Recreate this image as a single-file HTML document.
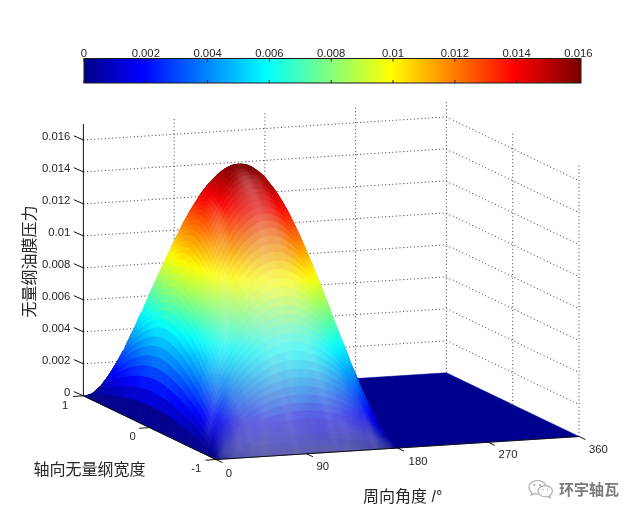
<!DOCTYPE html>
<html><head><meta charset="utf-8"><title>plot</title><style>html,body{margin:0;padding:0;background:#fff;overflow:hidden}svg{display:block}text{font-family:"Liberation Sans",Arial,sans-serif;fill:#262626}.cj{font-family:"Liberation Sans","Noto Sans CJK SC","WenQuanYi Zen Hei",sans-serif}</style></head><body>
<svg width="640" height="516" viewBox="0 0 640 516">
<defs><linearGradient id="jet" x1="0" x2="1" y1="0" y2="0"><stop offset="0.0000" stop-color="#00008f"/><stop offset="0.0078" stop-color="#00008f"/><stop offset="0.0234" stop-color="#00009f"/><stop offset="0.0391" stop-color="#0000af"/><stop offset="0.0547" stop-color="#0000bf"/><stop offset="0.0703" stop-color="#0000cf"/><stop offset="0.0859" stop-color="#0000df"/><stop offset="0.1016" stop-color="#0000ef"/><stop offset="0.1172" stop-color="#0000ff"/><stop offset="0.1328" stop-color="#0010ff"/><stop offset="0.1484" stop-color="#0020ff"/><stop offset="0.1641" stop-color="#0030ff"/><stop offset="0.1797" stop-color="#0040ff"/><stop offset="0.1953" stop-color="#0050ff"/><stop offset="0.2109" stop-color="#0060ff"/><stop offset="0.2266" stop-color="#0070ff"/><stop offset="0.2422" stop-color="#0080ff"/><stop offset="0.2578" stop-color="#008fff"/><stop offset="0.2734" stop-color="#009fff"/><stop offset="0.2891" stop-color="#00afff"/><stop offset="0.3047" stop-color="#00bfff"/><stop offset="0.3203" stop-color="#00cfff"/><stop offset="0.3359" stop-color="#00dfff"/><stop offset="0.3516" stop-color="#00efff"/><stop offset="0.3672" stop-color="#00ffff"/><stop offset="0.3828" stop-color="#10ffef"/><stop offset="0.3984" stop-color="#20ffdf"/><stop offset="0.4141" stop-color="#30ffcf"/><stop offset="0.4297" stop-color="#40ffbf"/><stop offset="0.4453" stop-color="#50ffaf"/><stop offset="0.4609" stop-color="#60ff9f"/><stop offset="0.4766" stop-color="#70ff8f"/><stop offset="0.4922" stop-color="#80ff80"/><stop offset="0.5078" stop-color="#8fff70"/><stop offset="0.5234" stop-color="#9fff60"/><stop offset="0.5391" stop-color="#afff50"/><stop offset="0.5547" stop-color="#bfff40"/><stop offset="0.5703" stop-color="#cfff30"/><stop offset="0.5859" stop-color="#dfff20"/><stop offset="0.6016" stop-color="#efff10"/><stop offset="0.6172" stop-color="#ffff00"/><stop offset="0.6328" stop-color="#ffef00"/><stop offset="0.6484" stop-color="#ffdf00"/><stop offset="0.6641" stop-color="#ffcf00"/><stop offset="0.6797" stop-color="#ffbf00"/><stop offset="0.6953" stop-color="#ffaf00"/><stop offset="0.7109" stop-color="#ff9f00"/><stop offset="0.7266" stop-color="#ff8f00"/><stop offset="0.7422" stop-color="#ff8000"/><stop offset="0.7578" stop-color="#ff7000"/><stop offset="0.7734" stop-color="#ff6000"/><stop offset="0.7891" stop-color="#ff5000"/><stop offset="0.8047" stop-color="#ff4000"/><stop offset="0.8203" stop-color="#ff3000"/><stop offset="0.8359" stop-color="#ff2000"/><stop offset="0.8516" stop-color="#ff1000"/><stop offset="0.8672" stop-color="#ff0000"/><stop offset="0.8828" stop-color="#ef0000"/><stop offset="0.8984" stop-color="#df0000"/><stop offset="0.9141" stop-color="#cf0000"/><stop offset="0.9297" stop-color="#bf0000"/><stop offset="0.9453" stop-color="#af0000"/><stop offset="0.9609" stop-color="#9f0000"/><stop offset="0.9766" stop-color="#8f0000"/><stop offset="0.9922" stop-color="#800000"/><stop offset="1.0000" stop-color="#800000"/></linearGradient></defs>
<rect x="84" y="58.5" width="497" height="24.5" fill="url(#jet)" stroke="#1a1a1a" stroke-width="1"/>
<path d="M84 58.5v3M84 83v-3M145.8 58.5v3M145.8 83v-3M207.6 58.5v3M207.6 83v-3M269.4 58.5v3M269.4 83v-3M331.2 58.5v3M331.2 83v-3M393 58.5v3M393 83v-3M454.8 58.5v3M454.8 83v-3M516.6 58.5v3M516.6 83v-3M578.4 58.5v3M578.4 83v-3" stroke="#222" stroke-width="1" fill="none"/>
<g font-size="11.3" text-anchor="middle"><text x="84" y="56.5">0</text><text x="145.8" y="56.5">0.002</text><text x="207.6" y="56.5">0.004</text><text x="269.4" y="56.5">0.006</text><text x="331.2" y="56.5">0.008</text><text x="393" y="56.5">0.01</text><text x="454.8" y="56.5">0.012</text><text x="516.6" y="56.5">0.014</text><text x="578.4" y="56.5">0.016</text></g>
<path d="M174.2 390.1L174.2 118.2M264.9 384.3L264.9 112.5M355.6 378.6L355.6 106.7M446.4 372.8L446.4 101M83.4 363.8L446.4 340.8L579 404.5M83.4 331.8L446.4 308.8L579 372.5M83.4 299.9L446.4 276.9L579 340.6M83.4 267.9L446.4 244.9L579 308.6M83.4 235.9L446.4 212.9L579 276.6M83.4 203.9L446.4 180.9L579 244.6M83.4 171.9L446.4 148.9L579 212.6M83.4 140L446.4 117L579 180.7M512.7 404.6L512.7 132.8M579 436.5L579 164.7" stroke="#3a3a3a" stroke-width="1" stroke-dasharray="1 2.6" fill="none"/>
<path d="M397.5 448L579 436.5L446.4 372.8L264.9 384.3Z" fill="#00008f" stroke="#00008f" stroke-width="0.5"/>
<g stroke="currentColor" fill="currentColor" stroke-width="0.9" stroke-linejoin="round">
<path color="#0e0b7c" d="M86.3 395.6l2 -0.4l-0.9 0.3l-2 0.2z"/>
<path color="#201e72" d="M84.3 396.2l2 -0.6l-0.9 0.1l-2 0.1z"/>
<path color="#0c0982" d="M87.2 395.5l2 -0.7l-0.9 0.4l-2 0.4z"/>
<path color="#171473" d="M85.2 396.6l2 -1.1l-0.9 0.1l-2 0.6z"/>
<path color="#0a0787" d="M88.1 395.5l2 -1.2l-0.9 0.5l-2 0.7z"/>
<path color="#120f76" d="M86.1 397.1l2 -1.6l-0.9 0l-2 1.1z"/>
<path color="#090789" d="M89.1 395.4l2.1 -1.5l-1.1 0.4l-2 1.2z"/>
<path color="#0d0b7c" d="M87.1 397.6l2 -2.2l-1 0.1l-2 1.6z"/>
<path color="#09068b" d="M90.2 395.4l2 -1.9l-1 0.4l-2.1 1.5z"/>
<path color="#0b0881" d="M88.2 398.1l2 -2.7l-1.1 -0l-2 2.2z"/>
<path color="#08068d" d="M95.3 391l2.1 -1.8l-1.2 1.1l-2 1.5z"/>
<path color="#08068e" d="M93.3 393l2 -2l-1.1 0.8l-2 1.7z"/>
<path color="#08058e" d="M91.3 395.3l2 -2.3l-1.1 0.5l-2 1.9z"/>
<path color="#090785" d="M89.3 398.6l2 -3.3l-1.1 0.1l-2 2.7z"/>
<path color="#080696" d="M98.5 388l2 -2l-1.1 1.4l-2 1.8z"/>
<path color="#070694" d="M96.5 390.2l2 -2.2l-1.1 1.2l-2.1 1.8z"/>
<path color="#08068f" d="M94.5 392.6l2 -2.4l-1.2 0.8l-2 2z"/>
<path color="#070591" d="M92.5 395.3l2 -2.7l-1.2 0.4l-2 2.3z"/>
<path color="#070688" d="M90.4 399.2l2.1 -3.9l-1.2 0l-2 3.3z"/>
<path color="#08078f" d="M97.7 389.4l2 -2.5l-1.2 1.1l-2 2.2z"/>
<path color="#070590" d="M95.7 392.1l2 -2.7l-1.2 0.8l-2 2.4z"/>
<path color="#060492" d="M93.7 395.3l2 -3.2l-1.2 0.5l-2 2.7z"/>
<path color="#06058a" d="M91.7 399.8l2 -4.5l-1.2 0l-2.1 3.9z"/>
<path color="#08069b" d="M99 388.6l2 -2.9l-1.3 1.2l-2 2.5z"/>
<path color="#060594" d="M96.9 391.7l2.1 -3.1l-1.3 0.8l-2 2.7z"/>
<path color="#050394" d="M94.9 395.2l2 -3.5l-1.2 0.4l-2 3.2z"/>
<path color="#050589" d="M92.9 400.4l2 -5.2l-1.2 0.1l-2 4.5z"/>
<path color="#0607c5" d="M104.3 381.5l2 -2.8l-1.3 1.8l-2 2.5z"/>
<path color="#0506b4" d="M102.3 384.5l2 -3l-1.3 1.5l-2 2.7z"/>
<path color="#0706a3" d="M100.3 387.8l2 -3.3l-1.3 1.2l-2 2.9z"/>
<path color="#06059a" d="M98.2 391.2l2.1 -3.4l-1.3 0.8l-2.1 3.1z"/>
<path color="#040397" d="M96.2 395.2l2 -4l-1.3 0.5l-2 3.5z"/>
<path color="#05048a" d="M94.2 401l2 -5.8l-1.3 0l-2 5.2z"/>
<path color="#0606d5" d="M107.7 376.9l2 -3.1l-1.4 2.2l-2 2.7z"/>
<path color="#0706cb" d="M105.6 380l2.1 -3.1l-1.4 1.8l-2 2.8z"/>
<path color="#0506bf" d="M103.6 383.4l2 -3.4l-1.3 1.5l-2 3z"/>
<path color="#0506ae" d="M101.6 386.9l2 -3.5l-1.3 1.1l-2 3.3z"/>
<path color="#0504a2" d="M99.6 390.8l2 -3.9l-1.3 0.9l-2.1 3.4z"/>
<path color="#03029b" d="M97.6 395.2l2 -4.4l-1.4 0.4l-2 4z"/>
<path color="#04048a" d="M95.6 401.6l2 -6.4l-1.4 -0l-2 5.8z"/>
<path color="#0606e3" d="M111.1 371.7l2 -3.2l-1.4 2.4l-2 2.9z"/>
<path color="#0405dd" d="M109.1 375l2 -3.3l-1.4 2.1l-2 3.1z"/>
<path color="#0505d5" d="M107 378.5l2.1 -3.5l-1.4 1.9l-2.1 3.1z"/>
<path color="#0506c8" d="M105 382.2l2 -3.7l-1.4 1.5l-2 3.4z"/>
<path color="#0405ba" d="M103 386.1l2 -3.9l-1.4 1.2l-2 3.5z"/>
<path color="#0404ab" d="M101 390.4l2 -4.3l-1.4 0.8l-2 3.9z"/>
<path color="#02029e" d="M99 395.2l2 -4.8l-1.4 0.4l-2 4.4z"/>
<path color="#03038a" d="M97 402.3l2 -7.1l-1.4 0l-2 6.4z"/>
<path color="#0a19e8" d="M114.5 366.1l2.1 -3.4l-1.5 2.8l-2 3z"/>
<path color="#080ae6" d="M112.5 369.6l2 -3.5l-1.4 2.4l-2 3.2z"/>
<path color="#0505e2" d="M110.5 373.2l2 -3.6l-1.4 2.1l-2 3.3z"/>
<path color="#0505d0" d="M106.5 381l2 -4l-1.5 1.5l-2 3.7z"/>
<path color="#0305c3" d="M104.5 385.3l2 -4.3l-1.5 1.2l-2 3.9z"/>
<path color="#0303b2" d="M102.4 389.9l2.1 -4.6l-1.5 0.8l-2 4.3z"/>
<path color="#0202a3" d="M100.4 395.3l2 -5.4l-1.4 0.5l-2 4.8z"/>
<path color="#03038b" d="M98.4 403l2 -7.7l-1.4 -0.1l-2 7.1z"/>
<path color="#0924f0" d="M116 363.6l2 -3.6l-1.4 2.7l-2.1 3.4z"/>
<path color="#0916ea" d="M114 367.4l2 -3.8l-1.5 2.5l-2 3.5z"/>
<path color="#0404df" d="M110 375.5l2 -4.2l-1.5 1.9l-2 3.8z"/>
<path color="#0405d7" d="M108 379.8l2 -4.3l-1.5 1.5l-2 4z"/>
<path color="#0405c9" d="M105.9 384.5l2.1 -4.7l-1.5 1.2l-2 4.3z"/>
<path color="#0203b9" d="M103.9 389.5l2 -5l-1.4 0.8l-2.1 4.6z"/>
<path color="#0101a8" d="M101.9 395.3l2 -5.8l-1.5 0.4l-2 5.4z"/>
<path color="#03038b" d="M99.9 403.7l2 -8.4l-1.5 0l-2 7.7z"/>
<path color="#0b30ef" d="M117.6 361.2l2 -3.9l-1.6 2.7l-2 3.6z"/>
<path color="#0921ed" d="M115.5 365.3l2.1 -4.1l-1.6 2.4l-2 3.8z"/>
<path color="#080feb" d="M113.5 369.5l2 -4.2l-1.5 2.1l-2 3.9z"/>
<path color="#0506e7" d="M111.5 374l2 -4.5l-1.5 1.8l-2 4.2z"/>
<path color="#0304de" d="M109.5 378.7l2 -4.7l-1.5 1.5l-2 4.3z"/>
<path color="#0304d0" d="M107.5 383.7l2 -5l-1.5 1.1l-2.1 4.7z"/>
<path color="#0103be" d="M105.5 389.1l2 -5.4l-1.6 0.8l-2 5z"/>
<path color="#0101aa" d="M103.4 395.4l2.1 -6.3l-1.6 0.4l-2 5.8z"/>
<path color="#03038b" d="M101.4 404.5l2 -9.1l-1.5 -0.1l-2 8.4z"/>
<path color="#0d4bef" d="M121.1 354.6l2.1 -4.1l-1.6 3l-2 3.8z"/>
<path color="#0b3ff0" d="M119.1 358.8l2 -4.2l-1.5 2.7l-2 3.9z"/>
<path color="#092bf1" d="M117.1 363.1l2 -4.3l-1.5 2.4l-2.1 4.1z"/>
<path color="#0816ee" d="M115.1 367.7l2 -4.6l-1.6 2.2l-2 4.2z"/>
<path color="#0509ed" d="M113.1 372.5l2 -4.8l-1.6 1.8l-2 4.5z"/>
<path color="#0203e6" d="M111.1 377.5l2 -5l-1.6 1.5l-2 4.7z"/>
<path color="#0203d7" d="M109 382.9l2.1 -5.4l-1.6 1.2l-2 5z"/>
<path color="#0102c2" d="M107 388.8l2 -5.9l-1.5 0.8l-2 5.4z"/>
<path color="#0101ab" d="M105 395.4l2 -6.6l-1.5 0.3l-2.1 6.3z"/>
<path color="#03038e" d="M103 405.2l2 -9.8l-1.6 0l-2 9.1z"/>
<path color="#0934f1" d="M118.7 361l2 -4.6l-1.6 2.4l-2 4.3z"/>
<path color="#0720f1" d="M116.7 365.9l2 -4.9l-1.6 2.1l-2 4.6z"/>
<path color="#050df1" d="M114.7 371l2 -5.1l-1.6 1.8l-2 4.8z"/>
<path color="#0204ee" d="M112.7 376.4l2 -5.4l-1.6 1.5l-2 5z"/>
<path color="#0202dd" d="M110.7 382.1l2 -5.7l-1.6 1.1l-2.1 5.4z"/>
<path color="#0202c7" d="M108.6 388.4l2.1 -6.3l-1.7 0.8l-2 5.9z"/>
<path color="#0201ac" d="M106.6 395.6l2 -7.2l-1.6 0.4l-2 6.6z"/>
<path color="#03038e" d="M104.6 406l2 -10.4l-1.6 -0.2l-2 9.8z"/>
<path color="#0e6dea" d="M126.4 344.7l2 -4.4l-1.6 3.1l-2 4.2z"/>
<path color="#0c52ed" d="M122.4 354l2 -4.7l-1.6 2.6l-2.1 4.5z"/>
<path color="#0a3ef1" d="M120.4 359l2 -5l-1.7 2.4l-2 4.6z"/>
<path color="#062af4" d="M118.4 364.1l2 -5.1l-1.7 2l-2 4.9z"/>
<path color="#0515f4" d="M116.3 369.6l2.1 -5.5l-1.7 1.8l-2 5.1z"/>
<path color="#0305f4" d="M114.3 375.3l2 -5.7l-1.6 1.4l-2 5.4z"/>
<path color="#0102e4" d="M112.3 381.4l2 -6.1l-1.6 1.1l-2 5.7z"/>
<path color="#0201cc" d="M110.3 388.1l2 -6.7l-1.6 0.7l-2.1 6.3z"/>
<path color="#0300ae" d="M108.3 395.7l2 -7.6l-1.7 0.3l-2 7.2z"/>
<path color="#03038f" d="M106.3 406.8l2 -11.1l-1.7 -0.1l-2 10.4z"/>
<path color="#16a9f1" d="M132.2 332.6l2 -4.4l-1.7 3.6l-2 4.2z"/>
<path color="#1594eb" d="M130.1 337.1l2.1 -4.5l-1.7 3.4l-2.1 4.3z"/>
<path color="#1084ed" d="M128.1 341.8l2 -4.7l-1.7 3.2l-2 4.4z"/>
<path color="#0d71ed" d="M126.1 346.7l2 -4.9l-1.7 2.9l-2 4.6z"/>
<path color="#0a5eed" d="M124.1 351.7l2 -5l-1.7 2.6l-2 4.7z"/>
<path color="#0948f3" d="M122.1 357l2 -5.3l-1.7 2.3l-2 5z"/>
<path color="#0635f5" d="M120.1 362.4l2 -5.4l-1.7 2l-2 5.1z"/>
<path color="#041df7" d="M118 368.2l2.1 -5.8l-1.7 1.7l-2.1 5.5z"/>
<path color="#0309f8" d="M116 374.2l2 -6l-1.7 1.4l-2 5.7z"/>
<path color="#0101ec" d="M114 380.7l2 -6.5l-1.7 1.1l-2 6.1z"/>
<path color="#0201d3" d="M112 387.8l2 -7.1l-1.7 0.7l-2 6.7z"/>
<path color="#0300b1" d="M110 395.8l2 -8l-1.7 0.3l-2 7.6z"/>
<path color="#03038f" d="M108 407.6l2 -11.8l-1.7 -0.1l-2 11.1z"/>
<path color="#159cee" d="M131.9 334.1l2 -4.8l-1.7 3.3l-2.1 4.5z"/>
<path color="#0e87ef" d="M129.9 339l2 -4.9l-1.8 3l-2 4.7z"/>
<path color="#0c7bf0" d="M127.8 344.1l2.1 -5.1l-1.8 2.8l-2 4.9z"/>
<path color="#0a69f0" d="M125.8 349.4l2 -5.3l-1.7 2.6l-2 5z"/>
<path color="#0854f3" d="M123.8 355l2 -5.6l-1.7 2.3l-2 5.3z"/>
<path color="#053ef6" d="M121.8 360.8l2 -5.8l-1.7 2l-2 5.4z"/>
<path color="#0327f8" d="M119.8 366.8l2 -6l-1.7 1.6l-2.1 5.8z"/>
<path color="#030efa" d="M117.8 373.2l2 -6.4l-1.8 1.4l-2 6z"/>
<path color="#0102f1" d="M115.7 380l2.1 -6.8l-1.8 1l-2 6.5z"/>
<path color="#0100d6" d="M113.7 387.5l2 -7.5l-1.7 0.7l-2 7.1z"/>
<path color="#0200b6" d="M111.7 396l2 -8.5l-1.7 0.3l-2 8z"/>
<path color="#02038f" d="M109.7 408.4l2 -12.4l-1.7 -0.2l-2 11.8z"/>
<path color="#14e3ed" d="M139.7 316.5l2 -4.6l-1.8 4l-2 4.3z"/>
<path color="#17d1f2" d="M137.7 321.2l2 -4.7l-1.8 3.7l-2 4.5z"/>
<path color="#17c2f3" d="M135.7 326l2 -4.8l-1.8 3.5l-2 4.6z"/>
<path color="#13b0f4" d="M133.6 331.1l2.1 -5.1l-1.8 3.3l-2 4.8z"/>
<path color="#129bef" d="M131.6 336.3l2 -5.2l-1.7 3l-2 4.9z"/>
<path color="#0d89f0" d="M129.6 341.6l2 -5.3l-1.7 2.7l-2.1 5.1z"/>
<path color="#0974f4" d="M127.6 347.2l2 -5.6l-1.8 2.5l-2 5.3z"/>
<path color="#065ef5" d="M125.6 353.1l2 -5.9l-1.8 2.2l-2 5.6z"/>
<path color="#0447f8" d="M123.6 359.1l2 -6l-1.8 1.9l-2 5.8z"/>
<path color="#0231f7" d="M121.5 365.5l2.1 -6.4l-1.8 1.7l-2 6z"/>
<path color="#0315fc" d="M119.5 372.2l2 -6.7l-1.7 1.3l-2 6.4z"/>
<path color="#0103f5" d="M117.5 379.4l2 -7.2l-1.7 1l-2.1 6.8z"/>
<path color="#0100dc" d="M115.5 387.3l2 -7.9l-1.8 0.6l-2 7.5z"/>
<path color="#0100ba" d="M113.5 396.2l2 -8.9l-1.8 0.2l-2 8.5z"/>
<path color="#02038f" d="M111.5 409.3l2 -13.1l-1.8 -0.2l-2 12.4z"/>
<path color="#2cf8de" d="M145.5 303.5l2 -4.4l-1.8 4.2l-2 4.2z"/>
<path color="#13e8ee" d="M139.5 317.8l2 -4.9l-1.8 3.6l-2 4.7z"/>
<path color="#17d1f2" d="M137.5 322.9l2 -5.1l-1.8 3.4l-2 4.8z"/>
<path color="#13baf5" d="M135.4 328.1l2.1 -5.2l-1.8 3.1l-2.1 5.1z"/>
<path color="#10a6f4" d="M133.4 333.6l2 -5.5l-1.8 3l-2 5.2z"/>
<path color="#0d94f1" d="M131.4 339.2l2 -5.6l-1.8 2.7l-2 5.3z"/>
<path color="#077ff6" d="M129.4 345.1l2 -5.9l-1.8 2.4l-2 5.6z"/>
<path color="#0567f8" d="M127.4 351.2l2 -6.1l-1.8 2.1l-2 5.9z"/>
<path color="#034ffa" d="M125.4 357.6l2 -6.4l-1.8 1.9l-2 6z"/>
<path color="#0139f8" d="M123.3 364.2l2.1 -6.6l-1.8 1.5l-2.1 6.4z"/>
<path color="#031cfc" d="M121.3 371.3l2 -7.1l-1.8 1.3l-2 6.7z"/>
<path color="#0106f7" d="M119.3 378.8l2 -7.5l-1.8 0.9l-2 7.2z"/>
<path color="#0100de" d="M117.3 387l2 -8.2l-1.8 0.6l-2 7.9z"/>
<path color="#0101bc" d="M115.3 396.4l2 -9.4l-1.8 0.3l-2 8.9z"/>
<path color="#02028f" d="M113.3 410.1l2 -13.7l-1.8 -0.2l-2 13.1z"/>
<path color="#16f3ee" d="M141.3 314.5l2 -5.1l-1.8 3.5l-2 4.9z"/>
<path color="#10e2f1" d="M139.3 319.8l2 -5.3l-1.8 3.3l-2 5.1z"/>
<path color="#13cbf5" d="M137.3 325.3l2 -5.5l-1.8 3.1l-2.1 5.2z"/>
<path color="#0eb6f7" d="M135.3 331l2 -5.7l-1.9 2.8l-2 5.5z"/>
<path color="#0ca0f5" d="M133.2 336.9l2.1 -5.9l-1.9 2.6l-2 5.6z"/>
<path color="#078af7" d="M131.2 343l2 -6.1l-1.8 2.3l-2 5.9z"/>
<path color="#0473fa" d="M129.2 349.4l2 -6.4l-1.8 2.1l-2 6.1z"/>
<path color="#0359fb" d="M127.2 356.1l2 -6.7l-1.8 1.8l-2 6.4z"/>
<path color="#0141fa" d="M125.2 363l2 -6.9l-1.8 1.5l-2.1 6.6z"/>
<path color="#0323fb" d="M123.2 370.4l2 -7.4l-1.9 1.2l-2 7.1z"/>
<path color="#010af9" d="M121.1 378.3l2.1 -7.9l-1.9 0.9l-2 7.5z"/>
<path color="#0100e2" d="M119.1 386.9l2 -8.6l-1.8 0.5l-2 8.2z"/>
<path color="#0001bc" d="M117.1 396.7l2 -9.8l-1.8 0.1l-2 9.4z"/>
<path color="#02028e" d="M115.1 411l2 -14.3l-1.8 -0.3l-2 13.7z"/>
<path color="#63f8ad" d="M151.2 291l2.1 -4.7l-1.9 4.2l-2 4.5z"/>
<path color="#59f7b9" d="M149.2 295.8l2 -4.8l-1.8 4l-2 4.6z"/>
<path color="#46f7cb" d="M147.2 300.8l2 -5l-1.8 3.8l-2.1 4.8z"/>
<path color="#33f8d8" d="M145.2 306l2 -5.2l-1.9 3.6l-2 5z"/>
<path color="#20f8e7" d="M143.2 311.4l2 -5.4l-1.9 3.4l-2 5.1z"/>
<path color="#0ff0f2" d="M141.2 316.9l2 -5.5l-1.9 3.1l-2 5.3z"/>
<path color="#0edbf5" d="M139.1 322.6l2.1 -5.7l-1.9 2.9l-2 5.5z"/>
<path color="#0cc4f8" d="M137.1 328.6l2 -6l-1.8 2.7l-2 5.7z"/>
<path color="#08adf9" d="M135.1 334.7l2 -6.1l-1.8 2.4l-2.1 5.9z"/>
<path color="#0696f9" d="M133.1 341.1l2 -6.4l-1.9 2.2l-2 6.1z"/>
<path color="#037efc" d="M131.1 347.7l2 -6.6l-1.9 1.9l-2 6.4z"/>
<path color="#0363fc" d="M129.1 354.7l2 -7l-1.9 1.7l-2 6.7z"/>
<path color="#0248fb" d="M127 361.9l2.1 -7.2l-1.9 1.4l-2 6.9z"/>
<path color="#022bfc" d="M125 369.6l2 -7.7l-1.8 1.1l-2 7.4z"/>
<path color="#020ffa" d="M123 377.8l2 -8.2l-1.8 0.8l-2.1 7.9z"/>
<path color="#0101e6" d="M121 386.8l2 -9l-1.9 0.5l-2 8.6z"/>
<path color="#0001be" d="M119 397l2 -10.2l-1.9 0.1l-2 9.8z"/>
<path color="#02028f" d="M117 411.9l2 -14.9l-1.9 -0.3l-2 14.3z"/>
<path color="#9af87d" d="M157.2 277.6l2 -4.5l-1.9 4.4l-2 4.3z"/>
<path color="#8cf78b" d="M155.2 282.3l2 -4.7l-1.9 4.2l-2 4.5z"/>
<path color="#76f99c" d="M153.1 287.2l2.1 -4.9l-1.9 4l-2.1 4.7z"/>
<path color="#67f9a8" d="M151.1 292.2l2 -5l-1.9 3.8l-2 4.8z"/>
<path color="#57f8b8" d="M149.1 297.4l2 -5.2l-1.9 3.6l-2 5z"/>
<path color="#41f8cb" d="M147.1 302.8l2 -5.4l-1.9 3.4l-2 5.2z"/>
<path color="#2afadd" d="M145.1 308.3l2 -5.5l-1.9 3.2l-2 5.4z"/>
<path color="#14f7ef" d="M143.1 314.1l2 -5.8l-1.9 3.1l-2 5.5z"/>
<path color="#09e9f7" d="M141 320l2.1 -5.9l-1.9 2.8l-2.1 5.7z"/>
<path color="#09d2f9" d="M139 326.2l2 -6.2l-1.9 2.6l-2 6z"/>
<path color="#06bafb" d="M137 332.6l2 -6.4l-1.9 2.4l-2 6.1z"/>
<path color="#04a2fb" d="M135 339.2l2 -6.6l-1.9 2.1l-2 6.4z"/>
<path color="#0288fc" d="M133 346.1l2 -6.9l-1.9 1.9l-2 6.6z"/>
<path color="#026dfc" d="M131 353.3l2 -7.2l-1.9 1.6l-2 7z"/>
<path color="#034ffb" d="M128.9 360.9l2.1 -7.6l-1.9 1.4l-2.1 7.2z"/>
<path color="#0233fc" d="M126.9 368.8l2 -7.9l-1.9 1l-2 7.7z"/>
<path color="#0213fa" d="M124.9 377.4l2 -8.6l-1.9 0.8l-2 8.2z"/>
<path color="#0101e8" d="M122.9 386.7l2 -9.3l-1.9 0.4l-2 9z"/>
<path color="#0100c0" d="M120.9 397.3l2 -10.6l-1.9 0.1l-2 10.2z"/>
<path color="#020290" d="M118.9 412.8l2 -15.5l-1.9 -0.3l-2 14.9z"/>
<path color="#acf96a" d="M159.1 273.7l2 -4.7l-1.9 4.1l-2 4.5z"/>
<path color="#9df879" d="M157.1 278.5l2 -4.8l-1.9 3.9l-2 4.7z"/>
<path color="#8ef885" d="M155.1 283.5l2 -5l-1.9 3.8l-2.1 4.9z"/>
<path color="#76f999" d="M153 288.7l2.1 -5.2l-2 3.7l-2 5z"/>
<path color="#60faab" d="M151 294.1l2 -5.4l-1.9 3.5l-2 5.2z"/>
<path color="#4df9be" d="M149 299.7l2 -5.6l-1.9 3.3l-2 5.4z"/>
<path color="#34fad3" d="M147 305.5l2 -5.8l-1.9 3.1l-2 5.5z"/>
<path color="#1bfae8" d="M145 311.4l2 -5.9l-1.9 2.8l-2 5.8z"/>
<path color="#08f2f8" d="M143 317.6l2 -6.2l-1.9 2.7l-2.1 5.9z"/>
<path color="#06dffa" d="M140.9 324l2.1 -6.4l-2 2.4l-2 6.2z"/>
<path color="#05c6fb" d="M138.9 330.6l2 -6.6l-1.9 2.2l-2 6.4z"/>
<path color="#03abfc" d="M136.9 337.5l2 -6.9l-1.9 2l-2 6.6z"/>
<path color="#0291fc" d="M134.9 344.6l2 -7.1l-1.9 1.7l-2 6.9z"/>
<path color="#0276fb" d="M132.9 352.1l2 -7.5l-1.9 1.5l-2 7.2z"/>
<path color="#0457fc" d="M130.9 359.9l2 -7.8l-1.9 1.2l-2.1 7.6z"/>
<path color="#0239fc" d="M128.8 368.2l2.1 -8.3l-2 1l-2 7.9z"/>
<path color="#0218fa" d="M126.8 377l2 -8.8l-1.9 0.6l-2 8.6z"/>
<path color="#0102eb" d="M124.8 386.6l2 -9.6l-1.9 0.4l-2 9.3z"/>
<path color="#0100c3" d="M122.8 397.7l2 -11.1l-1.9 0.1l-2 10.6z"/>
<path color="#020291" d="M120.8 413.8l2 -16.1l-1.9 -0.4l-2 15.5z"/>
<path color="#cefb42" d="M163.1 265.1l2 -4.7l-2 4.1l-2 4.5z"/>
<path color="#bffb53" d="M161 269.9l2.1 -4.8l-2 3.9l-2 4.7z"/>
<path color="#a9fa6b" d="M159 274.9l2 -5l-1.9 3.8l-2 4.8z"/>
<path color="#99f978" d="M157 280.1l2 -5.2l-1.9 3.6l-2 5z"/>
<path color="#8ef982" d="M155 285.5l2 -5.4l-1.9 3.4l-2.1 5.2z"/>
<path color="#69faa1" d="M153 291l2 -5.5l-2 3.2l-2 5.4z"/>
<path color="#54fab5" d="M151 296.8l2 -5.8l-2 3.1l-2 5.6z"/>
<path color="#3cfbca" d="M148.9 302.7l2.1 -5.9l-2 2.9l-2 5.8z"/>
<path color="#27fcdc" d="M146.9 308.9l2 -6.2l-1.9 2.8l-2 5.9z"/>
<path color="#0ffaf2" d="M144.9 315.3l2 -6.4l-1.9 2.5l-2 6.2z"/>
<path color="#05eafb" d="M142.9 321.9l2 -6.6l-1.9 2.3l-2.1 6.4z"/>
<path color="#04d3fb" d="M140.9 328.7l2 -6.8l-2 2.1l-2 6.6z"/>
<path color="#03b7fc" d="M138.9 335.8l2 -7.1l-2 1.9l-2 6.9z"/>
<path color="#029bfc" d="M136.8 343.2l2.1 -7.4l-2 1.7l-2 7.1z"/>
<path color="#027ffb" d="M134.8 350.9l2 -7.7l-1.9 1.4l-2 7.5z"/>
<path color="#045efc" d="M132.8 359l2 -8.1l-1.9 1.2l-2 7.8z"/>
<path color="#023ffc" d="M130.8 367.6l2 -8.6l-1.9 0.9l-2.1 8.3z"/>
<path color="#021cfb" d="M128.8 376.7l2 -9.1l-2 0.6l-2 8.8z"/>
<path color="#0202ee" d="M126.8 386.7l2 -10l-2 0.3l-2 9.6z"/>
<path color="#0100c7" d="M124.7 398l2.1 -11.3l-2 -0.1l-2 11.1z"/>
<path color="#020290" d="M122.7 414.7l2 -16.7l-1.9 -0.3l-2 16.1z"/>
<path color="#eefc23" d="M167.1 256.6l2 -4.6l-2 3.9l-2 4.5z"/>
<path color="#e2fb31" d="M165 261.3l2.1 -4.7l-2 3.8l-2 4.7z"/>
<path color="#cafc43" d="M163 266.3l2 -5l-1.9 3.8l-2.1 4.8z"/>
<path color="#bcfb54" d="M161 271.5l2 -5.2l-2 3.6l-2 5z"/>
<path color="#acfa66" d="M159 276.8l2 -5.3l-2 3.4l-2 5.2z"/>
<path color="#94fa7a" d="M157 282.4l2 -5.6l-2 3.3l-2 5.4z"/>
<path color="#7dfa8f" d="M155 288.1l2 -5.7l-2 3.1l-2 5.5z"/>
<path color="#60fba5" d="M152.9 294.1l2.1 -6l-2 2.9l-2 5.8z"/>
<path color="#4bfbba" d="M150.9 300.2l2 -6.1l-1.9 2.7l-2.1 5.9z"/>
<path color="#2ffcd2" d="M148.9 306.6l2 -6.4l-2 2.5l-2 6.2z"/>
<path color="#17fde9" d="M146.9 313.1l2 -6.5l-2 2.3l-2 6.4z"/>
<path color="#05f4fb" d="M144.9 319.9l2 -6.8l-2 2.2l-2 6.6z"/>
<path color="#03dffc" d="M142.9 327l2 -7.1l-2 2l-2 6.8z"/>
<path color="#03c1fc" d="M140.8 334.3l2.1 -7.3l-2 1.7l-2 7.1z"/>
<path color="#02a4fc" d="M138.8 341.9l2 -7.6l-1.9 1.5l-2.1 7.4z"/>
<path color="#0386fb" d="M136.8 349.9l2 -8l-2 1.3l-2 7.7z"/>
<path color="#0366fd" d="M134.8 358.2l2 -8.3l-2 1l-2 8.1z"/>
<path color="#0244fc" d="M132.8 367l2 -8.8l-2 0.8l-2 8.6z"/>
<path color="#0220fc" d="M130.8 376.5l2 -9.5l-2 0.6l-2 9.1z"/>
<path color="#0203f3" d="M128.7 386.7l2.1 -10.2l-2 0.2l-2 10z"/>
<path color="#0200cb" d="M126.7 398.5l2 -11.8l-1.9 0l-2.1 11.3z"/>
<path color="#02028f" d="M124.7 415.6l2 -17.1l-2 -0.5l-2 16.7z"/>
<path color="#f8de15" d="M173.1 243.7l2 -4.4l-2 4l-2 4.2z"/>
<path color="#f8f419" d="M169.1 253l2 -4.8l-2 3.8l-2 4.6z"/>
<path color="#ecfc24" d="M167 257.9l2.1 -4.9l-2 3.6l-2.1 4.7z"/>
<path color="#dffb30" d="M165 263l2 -5.1l-2 3.4l-2 5z"/>
<path color="#cafc40" d="M163 268.3l2 -5.3l-2 3.3l-2 5.2z"/>
<path color="#b4fb59" d="M161 273.8l2 -5.5l-2 3.2l-2 5.3z"/>
<path color="#9ffb6d" d="M159 279.5l2 -5.7l-2 3l-2 5.6z"/>
<path color="#89fb7f" d="M157 285.4l2 -5.9l-2 2.9l-2 5.7z"/>
<path color="#6dfc97" d="M154.9 291.5l2.1 -6.1l-2 2.7l-2.1 6z"/>
<path color="#54fcad" d="M152.9 297.8l2 -6.3l-2 2.6l-2 6.1z"/>
<path color="#3afdc6" d="M150.9 304.4l2 -6.6l-2 2.4l-2 6.4z"/>
<path color="#20fedf" d="M148.9 311.1l2 -6.7l-2 2.2l-2 6.5z"/>
<path color="#09faf8" d="M146.9 318.1l2 -7l-2 2l-2 6.8z"/>
<path color="#02e8fc" d="M144.9 325.4l2 -7.3l-2 1.8l-2 7.1z"/>
<path color="#02ccfc" d="M142.8 332.9l2.1 -7.5l-2 1.6l-2.1 7.3z"/>
<path color="#03adfc" d="M140.8 340.8l2 -7.9l-2 1.4l-2 7.6z"/>
<path color="#038dfc" d="M138.8 348.9l2 -8.1l-2 1.1l-2 8z"/>
<path color="#036cfd" d="M136.8 357.5l2 -8.6l-2 1l-2 8.3z"/>
<path color="#024afd" d="M134.8 366.6l2 -9.1l-2 0.7l-2 8.8z"/>
<path color="#0223fc" d="M132.8 376.3l2 -9.7l-2 0.4l-2 9.5z"/>
<path color="#0203f7" d="M130.7 386.9l2.1 -10.6l-2 0.2l-2.1 10.2z"/>
<path color="#0200cd" d="M128.7 398.9l2 -12l-2 -0.2l-2 11.8z"/>
<path color="#02028e" d="M126.7 416.6l2 -17.7l-2 -0.4l-2 17.1z"/>
<path color="#f7c516" d="M175.1 240.1l2 -4.5l-2 3.7l-2 4.4z"/>
<path color="#f7d616" d="M173.1 244.8l2 -4.7l-2 3.6l-2 4.5z"/>
<path color="#fae815" d="M171.1 249.6l2 -4.8l-2 3.4l-2 4.8z"/>
<path color="#f8f715" d="M169.1 254.7l2 -5.1l-2 3.4l-2.1 4.9z"/>
<path color="#ebfc21" d="M167 260l2.1 -5.3l-2.1 3.2l-2 5.1z"/>
<path color="#d9fc30" d="M165 265.4l2 -5.4l-2 3l-2 5.3z"/>
<path color="#bffd46" d="M163 271l2 -5.6l-2 2.9l-2 5.5z"/>
<path color="#acfc5e" d="M161 276.9l2 -5.9l-2 2.8l-2 5.7z"/>
<path color="#93fc71" d="M159 283l2 -6.1l-2 2.6l-2 5.9z"/>
<path color="#7cfc87" d="M157 289.2l2 -6.2l-2 2.4l-2.1 6.1z"/>
<path color="#5efda1" d="M154.9 295.7l2.1 -6.5l-2.1 2.3l-2 6.3z"/>
<path color="#47fdba" d="M152.9 302.4l2 -6.7l-2 2.1l-2 6.6z"/>
<path color="#2bfed4" d="M150.9 309.3l2 -6.9l-2 2l-2 6.7z"/>
<path color="#10fdf1" d="M148.9 316.5l2 -7.2l-2 1.8l-2 7z"/>
<path color="#03f0fc" d="M146.9 324l2 -7.5l-2 1.6l-2 7.3z"/>
<path color="#02d5fc" d="M144.9 331.7l2 -7.7l-2 1.4l-2.1 7.5z"/>
<path color="#03b4fd" d="M142.8 339.7l2.1 -8l-2.1 1.2l-2 7.9z"/>
<path color="#0294fd" d="M140.8 348.1l2 -8.4l-2 1.1l-2 8.1z"/>
<path color="#0373fd" d="M138.8 356.9l2 -8.8l-2 0.8l-2 8.6z"/>
<path color="#024ffd" d="M136.8 366.2l2 -9.3l-2 0.6l-2 9.1z"/>
<path color="#0228fd" d="M134.8 376.2l2 -10l-2 0.4l-2 9.7z"/>
<path color="#0104f8" d="M132.8 387l2 -10.8l-2 0.1l-2.1 10.6z"/>
<path color="#0201cd" d="M130.7 399.4l2.1 -12.4l-2.1 -0.1l-2 12z"/>
<path color="#01028e" d="M128.7 417.6l2 -18.2l-2 -0.5l-2 17.7z"/>
<path color="#f37b13" d="M183.2 223.7l2 -4l-2 3.7l-2 3.9z"/>
<path color="#f28b17" d="M181.2 227.9l2 -4.2l-2 3.6l-2.1 4.1z"/>
<path color="#f5a416" d="M179.2 232.3l2 -4.4l-2.1 3.5l-2 4.2z"/>
<path color="#f7b516" d="M177.2 236.9l2 -4.6l-2.1 3.3l-2 4.5z"/>
<path color="#f8c814" d="M175.1 241.6l2.1 -4.7l-2.1 3.2l-2 4.7z"/>
<path color="#f9db11" d="M173.1 246.6l2 -5l-2 3.2l-2 4.8z"/>
<path color="#fbed11" d="M171.1 251.8l2 -5.2l-2 3l-2 5.1z"/>
<path color="#f5fa13" d="M169.1 257.2l2 -5.4l-2 2.9l-2.1 5.3z"/>
<path color="#e5fc23" d="M167.1 262.7l2 -5.5l-2.1 2.8l-2 5.4z"/>
<path color="#cefd34" d="M165.1 268.5l2 -5.8l-2.1 2.7l-2 5.6z"/>
<path color="#b4fe4f" d="M163 274.5l2.1 -6l-2.1 2.5l-2 5.9z"/>
<path color="#9efe63" d="M161 280.7l2 -6.2l-2 2.4l-2 6.1z"/>
<path color="#85fd7a" d="M159 287.1l2 -6.4l-2 2.3l-2 6.2z"/>
<path color="#6cfd93" d="M157 293.8l2 -6.7l-2 2.1l-2.1 6.5z"/>
<path color="#51fdaf" d="M155 300.6l2 -6.8l-2.1 1.9l-2 6.7z"/>
<path color="#35fec9" d="M153 307.7l2 -7.1l-2.1 1.8l-2 6.9z"/>
<path color="#19fee7" d="M150.9 315.1l2.1 -7.4l-2.1 1.6l-2 7.2z"/>
<path color="#05f6fb" d="M148.9 322.7l2 -7.6l-2 1.4l-2 7.5z"/>
<path color="#02ddfc" d="M146.9 330.6l2 -7.9l-2 1.3l-2 7.7z"/>
<path color="#02bcfd" d="M144.9 338.9l2 -8.3l-2 1.1l-2.1 8z"/>
<path color="#029cfd" d="M142.9 347.4l2 -8.5l-2.1 0.8l-2 8.4z"/>
<path color="#027afd" d="M140.9 356.5l2 -9.1l-2.1 0.7l-2 8.8z"/>
<path color="#0256fd" d="M138.8 366l2.1 -9.5l-2.1 0.4l-2 9.3z"/>
<path color="#022cfd" d="M136.8 376.2l2 -10.2l-2 0.2l-2 10z"/>
<path color="#0105f9" d="M134.8 387.3l2 -11.1l-2 0l-2 10.8z"/>
<path color="#0201cd" d="M132.8 400l2 -12.7l-2 -0.3l-2.1 12.4z"/>
<path color="#01028f" d="M130.8 418.6l2 -18.6l-2.1 -0.6l-2 18.2z"/>
<path color="#f05110" d="M189.3 212.6l2 -3.7l-2 3.5l-2.1 3.6z"/>
<path color="#f25e0f" d="M187.3 216.5l2 -3.9l-2.1 3.4l-2 3.7z"/>
<path color="#f26f11" d="M185.3 220.5l2 -4l-2.1 3.2l-2 4z"/>
<path color="#f48013" d="M183.2 224.8l2.1 -4.3l-2.1 3.2l-2 4.2z"/>
<path color="#f49415" d="M181.2 229.3l2 -4.5l-2 3.1l-2 4.4z"/>
<path color="#f7a613" d="M179.2 233.9l2 -4.6l-2 3l-2 4.6z"/>
<path color="#f8ba12" d="M177.2 238.8l2 -4.9l-2 3l-2.1 4.7z"/>
<path color="#f9cd0f" d="M175.2 243.9l2 -5.1l-2.1 2.8l-2 5z"/>
<path color="#fbe10d" d="M173.2 249.2l2 -5.3l-2.1 2.7l-2 5.2z"/>
<path color="#fbf40c" d="M171.1 254.7l2.1 -5.5l-2.1 2.6l-2 5.4z"/>
<path color="#effc15" d="M169.1 260.4l2 -5.7l-2 2.5l-2 5.5z"/>
<path color="#dbfd27" d="M167.1 266.3l2 -5.9l-2 2.3l-2 5.8z"/>
<path color="#c1fe3e" d="M165.1 272.4l2 -6.1l-2 2.2l-2.1 6z"/>
<path color="#a9fe57" d="M163.1 278.7l2 -6.3l-2.1 2.1l-2 6.2z"/>
<path color="#90fe6d" d="M161.1 285.3l2 -6.6l-2.1 2l-2 6.4z"/>
<path color="#76fd89" d="M159 292.1l2.1 -6.8l-2.1 1.8l-2 6.7z"/>
<path color="#5bfea4" d="M157 299.1l2 -7l-2 1.7l-2 6.8z"/>
<path color="#40febf" d="M155 306.3l2 -7.2l-2 1.5l-2 7.1z"/>
<path color="#23ffdb" d="M153 313.8l2 -7.5l-2 1.4l-2.1 7.4z"/>
<path color="#0afaf7" d="M151 321.6l2 -7.8l-2.1 1.3l-2 7.6z"/>
<path color="#02e4fd" d="M149 329.7l2 -8.1l-2.1 1.1l-2 7.9z"/>
<path color="#02c3fd" d="M146.9 338.1l2.1 -8.4l-2.1 0.9l-2 8.3z"/>
<path color="#02a2fc" d="M144.9 346.9l2 -8.8l-2 0.8l-2 8.5z"/>
<path color="#0280fc" d="M142.9 356.1l2 -9.2l-2 0.5l-2 9.1z"/>
<path color="#025bfd" d="M140.9 365.8l2 -9.7l-2 0.4l-2.1 9.5z"/>
<path color="#0230fd" d="M138.9 376.2l2 -10.4l-2.1 0.2l-2 10.2z"/>
<path color="#0107f8" d="M136.9 387.6l2 -11.4l-2.1 -0l-2 11.1z"/>
<path color="#0201cd" d="M134.8 400.6l2.1 -13l-2.1 -0.3l-2 12.7z"/>
<path color="#01018f" d="M132.8 419.5l2 -18.9l-2 -0.6l-2 18.6z"/>
<path color="#f2360d" d="M193.4 205.9l2 -3.5l-2.1 3.1l-2 3.4z"/>
<path color="#f3430c" d="M191.4 209.6l2 -3.7l-2.1 3l-2 3.7z"/>
<path color="#f1550f" d="M189.4 213.5l2 -3.9l-2.1 3l-2 3.9z"/>
<path color="#f4650d" d="M187.3 217.7l2.1 -4.2l-2.1 3l-2 4z"/>
<path color="#f4750f" d="M185.3 222l2 -4.3l-2 2.8l-2.1 4.3z"/>
<path color="#f58711" d="M183.3 226.6l2 -4.6l-2.1 2.8l-2 4.5z"/>
<path color="#f69910" d="M181.3 231.4l2 -4.8l-2.1 2.7l-2 4.6z"/>
<path color="#f9ac0f" d="M179.3 236.3l2 -4.9l-2.1 2.5l-2 4.9z"/>
<path color="#fac00c" d="M177.3 241.5l2 -5.2l-2.1 2.5l-2 5.1z"/>
<path color="#fbd409" d="M175.2 246.9l2.1 -5.4l-2.1 2.4l-2 5.3z"/>
<path color="#fce908" d="M173.2 252.5l2 -5.6l-2 2.3l-2.1 5.5z"/>
<path color="#f8fa0b" d="M171.2 258.3l2 -5.8l-2.1 2.2l-2 5.7z"/>
<path color="#e7fd1b" d="M169.2 264.3l2 -6l-2.1 2.1l-2 5.9z"/>
<path color="#cdfe32" d="M167.2 270.5l2 -6.2l-2.1 2l-2 6.1z"/>
<path color="#b3ff4b" d="M165.2 277l2 -6.5l-2.1 1.9l-2 6.3z"/>
<path color="#9aff64" d="M163.1 283.7l2.1 -6.7l-2.1 1.7l-2 6.6z"/>
<path color="#81fe7e" d="M161.1 290.6l2 -6.9l-2 1.6l-2.1 6.8z"/>
<path color="#66fe99" d="M159.1 297.7l2 -7.1l-2.1 1.5l-2 7z"/>
<path color="#4afeb6" d="M157.1 305.1l2 -7.4l-2.1 1.4l-2 7.2z"/>
<path color="#2bffd3" d="M155.1 312.8l2 -7.7l-2.1 1.2l-2 7.5z"/>
<path color="#0ffcf0" d="M153.1 320.7l2 -7.9l-2.1 1l-2 7.8z"/>
<path color="#02ebfc" d="M151 329l2.1 -8.3l-2.1 0.9l-2 8.1z"/>
<path color="#03c9fd" d="M149 337.5l2 -8.5l-2 0.7l-2.1 8.4z"/>
<path color="#03a8fd" d="M147 346.5l2 -9l-2.1 0.6l-2 8.8z"/>
<path color="#0284fc" d="M145 355.9l2 -9.4l-2.1 0.4l-2 9.2z"/>
<path color="#025dfd" d="M143 365.8l2 -9.9l-2.1 0.2l-2 9.7z"/>
<path color="#0233fc" d="M141 376.4l2 -10.6l-2.1 0l-2 10.4z"/>
<path color="#010bf9" d="M138.9 388l2.1 -11.6l-2.1 -0.2l-2 11.4z"/>
<path color="#0201cc" d="M136.9 401.2l2 -13.2l-2 -0.4l-2.1 13z"/>
<path color="#01018f" d="M134.9 420.5l2 -19.3l-2.1 -0.6l-2 18.9z"/>
<path color="#d70a0e" d="M205.6 187.5l2 -2.6l-2.1 3l-2 2.5z"/>
<path color="#df0a0c" d="M203.5 190.2l2.1 -2.7l-2.1 2.9l-2 2.6z"/>
<path color="#e70b09" d="M201.5 193.1l2 -2.9l-2 2.8l-2.1 2.9z"/>
<path color="#ed110c" d="M199.5 196.3l2 -3.2l-2.1 2.8l-2 3.1z"/>
<path color="#f01e0b" d="M197.5 199.7l2 -3.4l-2.1 2.7l-2 3.4z"/>
<path color="#f02b0c" d="M195.5 203.2l2 -3.5l-2.1 2.7l-2 3.5z"/>
<path color="#f4360b" d="M193.5 207l2 -3.8l-2.1 2.7l-2 3.7z"/>
<path color="#f4470b" d="M191.4 211l2.1 -4l-2.1 2.6l-2 3.9z"/>
<path color="#f4570c" d="M189.4 215.2l2 -4.2l-2 2.5l-2.1 4.2z"/>
<path color="#f5690b" d="M187.4 219.7l2 -4.5l-2.1 2.5l-2 4.3z"/>
<path color="#f77a0c" d="M185.4 224.3l2 -4.6l-2.1 2.3l-2 4.6z"/>
<path color="#f78d0c" d="M183.4 229.2l2 -4.9l-2.1 2.3l-2 4.8z"/>
<path color="#faa00a" d="M181.4 234.2l2 -5l-2.1 2.2l-2 4.9z"/>
<path color="#fab50a" d="M179.3 239.5l2.1 -5.3l-2.1 2.1l-2 5.2z"/>
<path color="#fcc806" d="M177.3 244.9l2 -5.4l-2 2l-2.1 5.4z"/>
<path color="#fcdf04" d="M175.3 250.6l2 -5.7l-2.1 2l-2 5.6z"/>
<path color="#fbf406" d="M173.3 256.5l2 -5.9l-2.1 1.9l-2 5.8z"/>
<path color="#f0fd11" d="M171.3 262.7l2 -6.2l-2.1 1.8l-2 6z"/>
<path color="#d8fe28" d="M169.3 269l2 -6.3l-2.1 1.6l-2 6.2z"/>
<path color="#bdff41" d="M167.2 275.6l2.1 -6.6l-2.1 1.5l-2 6.5z"/>
<path color="#a4ff5b" d="M165.2 282.4l2 -6.8l-2 1.4l-2.1 6.7z"/>
<path color="#89ff75" d="M163.2 289.4l2 -7l-2.1 1.3l-2 6.9z"/>
<path color="#6ffe90" d="M161.2 296.6l2 -7.2l-2.1 1.2l-2 7.1z"/>
<path color="#52feae" d="M159.2 304.2l2 -7.6l-2.1 1.1l-2 7.4z"/>
<path color="#33ffcb" d="M157.2 312l2 -7.8l-2.1 0.9l-2 7.7z"/>
<path color="#15fee9" d="M155.1 320l2.1 -8l-2.1 0.8l-2 7.9z"/>
<path color="#03f1fb" d="M153.1 328.4l2 -8.4l-2 0.7l-2.1 8.3z"/>
<path color="#02cffd" d="M151.1 337.1l2 -8.7l-2.1 0.6l-2 8.5z"/>
<path color="#03adfd" d="M149.1 346.2l2 -9.1l-2.1 0.4l-2 9z"/>
<path color="#0389fd" d="M147.1 355.8l2 -9.6l-2.1 0.3l-2 9.4z"/>
<path color="#0261fd" d="M145.1 365.9l2 -10.1l-2.1 0.1l-2 9.9z"/>
<path color="#0238fc" d="M143 376.7l2.1 -10.8l-2.1 -0.1l-2 10.6z"/>
<path color="#010ffa" d="M141 388.4l2 -11.7l-2 -0.3l-2.1 11.6z"/>
<path color="#0201cd" d="M139 401.9l2 -13.5l-2.1 -0.4l-2 13.2z"/>
<path color="#010191" d="M137 421.5l2 -19.6l-2.1 -0.7l-2 19.3z"/>
<path color="#ce070c" d="M207.7 185l2 -2.5l-2.1 2.4l-2 2.6z"/>
<path color="#d6090d" d="M205.6 187.8l2.1 -2.8l-2.1 2.5l-2.1 2.7z"/>
<path color="#df090b" d="M203.6 190.8l2 -3l-2.1 2.4l-2 2.9z"/>
<path color="#e90b08" d="M201.6 194l2 -3.2l-2.1 2.3l-2 3.2z"/>
<path color="#ef110a" d="M199.6 197.4l2 -3.4l-2.1 2.3l-2 3.4z"/>
<path color="#f21e09" d="M197.6 201l2 -3.6l-2.1 2.3l-2 3.5z"/>
<path color="#f42c0a" d="M195.6 204.9l2 -3.9l-2.1 2.2l-2 3.8z"/>
<path color="#f73908" d="M193.5 208.9l2.1 -4l-2.1 2.1l-2.1 4z"/>
<path color="#f64c09" d="M191.5 213.2l2 -4.3l-2.1 2.1l-2 4.2z"/>
<path color="#f85d08" d="M189.5 217.7l2 -4.5l-2.1 2l-2 4.5z"/>
<path color="#f86f08" d="M187.5 222.4l2 -4.7l-2.1 2l-2 4.6z"/>
<path color="#fa8008" d="M185.5 227.3l2 -4.9l-2.1 1.9l-2 4.9z"/>
<path color="#fa9507" d="M183.5 232.5l2 -5.2l-2.1 1.9l-2 5z"/>
<path color="#fba906" d="M181.4 237.8l2.1 -5.3l-2.1 1.7l-2.1 5.3z"/>
<path color="#fcbe05" d="M179.4 243.4l2 -5.6l-2.1 1.7l-2 5.4z"/>
<path color="#fdd402" d="M177.4 249.1l2 -5.7l-2.1 1.5l-2 5.7z"/>
<path color="#fcec03" d="M175.4 255.1l2 -6l-2.1 1.5l-2 5.9z"/>
<path color="#f7fb0a" d="M173.4 261.3l2 -6.2l-2.1 1.4l-2 6.2z"/>
<path color="#e1fe1f" d="M171.4 267.8l2 -6.5l-2.1 1.4l-2 6.3z"/>
<path color="#c6fe36" d="M169.3 274.4l2.1 -6.6l-2.1 1.2l-2.1 6.6z"/>
<path color="#acff51" d="M167.3 281.3l2 -6.9l-2.1 1.2l-2 6.8z"/>
<path color="#92ff6d" d="M165.3 288.4l2 -7.1l-2.1 1.1l-2 7z"/>
<path color="#76ff89" d="M163.3 295.8l2 -7.4l-2.1 1l-2 7.2z"/>
<path color="#5afea5" d="M161.3 303.4l2 -7.6l-2.1 0.8l-2 7.6z"/>
<path color="#39ffc5" d="M159.3 311.3l2 -7.9l-2.1 0.8l-2 7.8z"/>
<path color="#1afee5" d="M157.2 319.5l2.1 -8.2l-2.1 0.7l-2.1 8z"/>
<path color="#04f6fb" d="M155.2 328l2 -8.5l-2.1 0.5l-2 8.4z"/>
<path color="#03d5fd" d="M153.2 336.9l2 -8.9l-2.1 0.4l-2 8.7z"/>
<path color="#02b1fd" d="M151.2 346.1l2 -9.2l-2.1 0.2l-2 9.1z"/>
<path color="#038dfd" d="M149.2 355.8l2 -9.7l-2.1 0.1l-2 9.6z"/>
<path color="#0264fd" d="M147.2 366l2 -10.2l-2.1 0l-2 10.1z"/>
<path color="#023efd" d="M145.1 377l2.1 -11l-2.1 -0.1l-2.1 10.8z"/>
<path color="#0212fa" d="M143.1 388.9l2 -11.9l-2.1 -0.3l-2 11.7z"/>
<path color="#0201cf" d="M141.1 402.6l2 -13.7l-2.1 -0.5l-2 13.5z"/>
<path color="#020290" d="M139.1 422.6l2 -20l-2.1 -0.7l-2 19.6z"/>
<path color="#b5080d" d="M211.8 180.5l2 -2.3l-2.1 2l-2 2.3z"/>
<path color="#c2080b" d="M209.8 183.1l2 -2.6l-2.1 2l-2 2.5z"/>
<path color="#d1070b" d="M207.7 185.9l2.1 -2.8l-2.1 1.9l-2.1 2.8z"/>
<path color="#d8080c" d="M205.7 188.9l2 -3l-2.1 1.9l-2 3z"/>
<path color="#e30809" d="M203.7 192.2l2 -3.3l-2.1 1.9l-2 3.2z"/>
<path color="#ed0a07" d="M201.7 195.6l2 -3.4l-2.1 1.8l-2 3.4z"/>
<path color="#f41208" d="M199.7 199.3l2 -3.7l-2.1 1.8l-2 3.6z"/>
<path color="#f62106" d="M197.7 203.2l2 -3.9l-2.1 1.7l-2 3.9z"/>
<path color="#f92d07" d="M195.6 207.3l2.1 -4.1l-2.1 1.7l-2.1 4z"/>
<path color="#fa4005" d="M193.6 211.6l2 -4.3l-2.1 1.6l-2 4.3z"/>
<path color="#fa5205" d="M191.6 216.2l2 -4.6l-2.1 1.6l-2 4.5z"/>
<path color="#fa6405" d="M189.6 220.9l2 -4.7l-2.1 1.5l-2 4.7z"/>
<path color="#fb7605" d="M187.6 225.9l2 -5l-2.1 1.5l-2 4.9z"/>
<path color="#fb8a04" d="M185.6 231.1l2 -5.2l-2.1 1.4l-2 5.2z"/>
<path color="#fca004" d="M183.5 236.5l2.1 -5.4l-2.1 1.4l-2.1 5.3z"/>
<path color="#fcb504" d="M181.5 242.1l2 -5.6l-2.1 1.3l-2 5.6z"/>
<path color="#fdca02" d="M179.5 248l2 -5.9l-2.1 1.3l-2 5.7z"/>
<path color="#fce301" d="M177.5 254l2 -6l-2.1 1.1l-2 6z"/>
<path color="#faf706" d="M175.5 260.3l2 -6.3l-2.1 1.1l-2 6.2z"/>
<path color="#e8fe16" d="M173.5 266.8l2 -6.5l-2.1 1l-2 6.5z"/>
<path color="#cefe2f" d="M171.4 273.6l2.1 -6.8l-2.1 1l-2.1 6.6z"/>
<path color="#b4ff49" d="M169.4 280.6l2 -7l-2.1 0.8l-2 6.9z"/>
<path color="#98fe67" d="M167.4 287.8l2 -7.2l-2.1 0.7l-2 7.1z"/>
<path color="#7cff83" d="M165.4 295.2l2 -7.4l-2.1 0.6l-2 7.4z"/>
<path color="#60fe9e" d="M163.4 303l2 -7.8l-2.1 0.6l-2 7.6z"/>
<path color="#40ffbf" d="M161.4 311l2 -8l-2.1 0.4l-2 7.9z"/>
<path color="#1dffe1" d="M159.3 319.3l2.1 -8.3l-2.1 0.3l-2.1 8.2z"/>
<path color="#05f9fb" d="M157.3 327.9l2 -8.6l-2.1 0.2l-2 8.5z"/>
<path color="#03dafd" d="M155.3 336.8l2 -8.9l-2.1 0.1l-2 8.9z"/>
<path color="#02b6fd" d="M153.3 346.2l2 -9.4l-2.1 0.1l-2 9.2z"/>
<path color="#028ffd" d="M151.3 356l2 -9.8l-2.1 -0.1l-2 9.7z"/>
<path color="#0269fd" d="M149.3 366.4l2 -10.4l-2.1 -0.2l-2 10.2z"/>
<path color="#0240fd" d="M147.2 377.4l2.1 -11l-2.1 -0.4l-2.1 11z"/>
<path color="#0212f9" d="M145.2 389.5l2 -12.1l-2.1 -0.4l-2 11.9z"/>
<path color="#0201d1" d="M143.2 403.3l2 -13.8l-2.1 -0.6l-2 13.7z"/>
<path color="#02028f" d="M141.2 423.6l2 -20.3l-2.1 -0.7l-2 20z"/>
<path color="#890909" d="M224 169.4l2 -1.2l-2.1 1.5l-2 1.2z"/>
<path color="#99070b" d="M220 172.6l2 -1.7l-2.2 1.5l-2 1.7z"/>
<path color="#a1050c" d="M217.9 174.6l2.1 -2l-2.2 1.5l-2 1.9z"/>
<path color="#a7060b" d="M215.9 176.7l2 -2.1l-2.1 1.4l-2 2.2z"/>
<path color="#af070c" d="M213.9 179.1l2 -2.4l-2.1 1.5l-2 2.3z"/>
<path color="#b9080c" d="M211.9 181.7l2 -2.6l-2.1 1.4l-2 2.6z"/>
<path color="#c80609" d="M209.9 184.5l2 -2.8l-2.1 1.4l-2.1 2.8z"/>
<path color="#d60609" d="M207.9 187.6l2 -3.1l-2.2 1.4l-2 3z"/>
<path color="#de0709" d="M205.8 190.9l2.1 -3.3l-2.2 1.3l-2 3.3z"/>
<path color="#ea0806" d="M203.8 194.3l2 -3.4l-2.1 1.3l-2 3.4z"/>
<path color="#f30b06" d="M201.8 198.1l2 -3.8l-2.1 1.3l-2 3.7z"/>
<path color="#f81705" d="M199.8 202l2 -3.9l-2.1 1.2l-2 3.9z"/>
<path color="#f92605" d="M197.8 206.1l2 -4.1l-2.1 1.2l-2.1 4.1z"/>
<path color="#fc3604" d="M195.8 210.5l2 -4.4l-2.2 1.2l-2 4.3z"/>
<path color="#fc4903" d="M193.7 215.1l2.1 -4.6l-2.2 1.1l-2 4.6z"/>
<path color="#fc5a03" d="M191.7 219.9l2 -4.8l-2.1 1.1l-2 4.7z"/>
<path color="#fc6d04" d="M189.7 224.9l2 -5l-2.1 1l-2 5z"/>
<path color="#fd8103" d="M187.7 230.2l2 -5.3l-2.1 1l-2 5.2z"/>
<path color="#fb9704" d="M185.7 235.6l2 -5.4l-2.1 0.9l-2.1 5.4z"/>
<path color="#fdac04" d="M183.7 241.3l2 -5.7l-2.2 0.9l-2 5.6z"/>
<path color="#fec202" d="M181.6 247.2l2.1 -5.9l-2.2 0.8l-2 5.9z"/>
<path color="#fcdc01" d="M179.6 253.3l2 -6.1l-2.1 0.8l-2 6z"/>
<path color="#fcf204" d="M177.6 259.7l2 -6.4l-2.1 0.7l-2 6.3z"/>
<path color="#effd0e" d="M175.6 266.3l2 -6.6l-2.1 0.6l-2 6.5z"/>
<path color="#d4fe29" d="M173.6 273.1l2 -6.8l-2.1 0.5l-2.1 6.8z"/>
<path color="#bafe43" d="M171.6 280.1l2 -7l-2.2 0.5l-2 7z"/>
<path color="#9ffe5f" d="M169.5 287.4l2.1 -7.3l-2.2 0.5l-2 7.2z"/>
<path color="#83fe7d" d="M167.5 295l2 -7.6l-2.1 0.4l-2 7.4z"/>
<path color="#66fe98" d="M165.5 302.8l2 -7.8l-2.1 0.2l-2 7.8z"/>
<path color="#47feb7" d="M163.5 310.8l2 -8l-2.1 0.2l-2 8z"/>
<path color="#22ffdc" d="M161.5 319.2l2 -8.4l-2.1 0.2l-2.1 8.3z"/>
<path color="#06fbf9" d="M159.5 327.9l2 -8.7l-2.2 0.1l-2 8.6z"/>
<path color="#03defd" d="M157.4 337l2.1 -9.1l-2.2 0l-2 8.9z"/>
<path color="#02bbfe" d="M155.4 346.4l2 -9.4l-2.1 -0.2l-2 9.4z"/>
<path color="#0191fc" d="M153.4 356.3l2 -9.9l-2.1 -0.2l-2 9.8z"/>
<path color="#036cfd" d="M151.4 366.8l2 -10.5l-2.1 -0.3l-2 10.4z"/>
<path color="#0241fd" d="M149.4 378l2 -11.2l-2.1 -0.4l-2.1 11z"/>
<path color="#0212f9" d="M147.4 390.2l2 -12.2l-2.2 -0.6l-2 12.1z"/>
<path color="#0101d5" d="M145.3 404.2l2.1 -14l-2.2 -0.7l-2 13.8z"/>
<path color="#02028f" d="M143.3 424.6l2 -20.4l-2.1 -0.9l-2 20.3z"/>
<path color="#780b09" d="M234.2 164.8l2 -0.4l-2.1 1l-2 0.3z"/>
<path color="#780d0e" d="M232.2 165.4l2 -0.6l-2.1 0.9l-2.1 0.6z"/>
<path color="#780c0e" d="M230.1 166.2l2.1 -0.8l-2.2 0.9l-2 0.8z"/>
<path color="#7d0b0d" d="M228.1 167.2l2 -1l-2.1 0.9l-2 1.1z"/>
<path color="#850a09" d="M226.1 168.5l2 -1.3l-2.1 1l-2 1.2z"/>
<path color="#910809" d="M224.1 170l2 -1.5l-2.1 0.9l-2 1.5z"/>
<path color="#970609" d="M222.1 171.7l2 -1.7l-2.1 0.9l-2 1.7z"/>
<path color="#9c060a" d="M220.1 173.7l2 -2l-2.1 0.9l-2.1 2z"/>
<path color="#a5050a" d="M218 175.8l2.1 -2.1l-2.2 0.9l-2 2.1z"/>
<path color="#aa0509" d="M216 178.2l2 -2.4l-2.1 0.9l-2 2.4z"/>
<path color="#b5060a" d="M214 180.9l2 -2.7l-2.1 0.9l-2 2.6z"/>
<path color="#c10608" d="M212 183.7l2 -2.8l-2.1 0.8l-2 2.8z"/>
<path color="#d10406" d="M210 186.8l2 -3.1l-2.1 0.8l-2 3.1z"/>
<path color="#dc0406" d="M208 190.1l2 -3.3l-2.1 0.8l-2.1 3.3z"/>
<path color="#e70506" d="M205.9 193.6l2.1 -3.5l-2.2 0.8l-2 3.4z"/>
<path color="#f20704" d="M203.9 197.3l2 -3.7l-2.1 0.7l-2 3.8z"/>
<path color="#fa0f05" d="M201.9 201.3l2 -4l-2.1 0.8l-2 3.9z"/>
<path color="#fa1f03" d="M199.9 205.5l2 -4.2l-2.1 0.7l-2 4.1z"/>
<path color="#fd2f04" d="M197.9 209.9l2 -4.4l-2.1 0.6l-2 4.4z"/>
<path color="#fe4202" d="M195.9 214.5l2 -4.6l-2.1 0.6l-2.1 4.6z"/>
<path color="#fd5402" d="M193.8 219.4l2.1 -4.9l-2.2 0.6l-2 4.8z"/>
<path color="#fd6603" d="M191.8 224.4l2 -5l-2.1 0.5l-2 5z"/>
<path color="#fd7b03" d="M189.8 229.7l2 -5.3l-2.1 0.5l-2 5.3z"/>
<path color="#fc9104" d="M187.8 235.2l2 -5.5l-2.1 0.5l-2 5.4z"/>
<path color="#fda405" d="M185.8 240.9l2 -5.7l-2.1 0.4l-2 5.7z"/>
<path color="#febc02" d="M183.8 246.9l2 -6l-2.1 0.4l-2.1 5.9z"/>
<path color="#fcd501" d="M181.7 253.1l2.1 -6.2l-2.2 0.3l-2 6.1z"/>
<path color="#fdec02" d="M179.7 259.5l2 -6.4l-2.1 0.2l-2 6.4z"/>
<path color="#f5fc09" d="M177.7 266.1l2 -6.6l-2.1 0.2l-2 6.6z"/>
<path color="#dafe22" d="M175.7 272.9l2 -6.8l-2.1 0.2l-2 6.8z"/>
<path color="#c0fe3e" d="M173.7 280l2 -7.1l-2.1 0.2l-2 7z"/>
<path color="#a6fe57" d="M171.7 287.4l2 -7.4l-2.1 0.1l-2.1 7.3z"/>
<path color="#89fe76" d="M169.6 295l2.1 -7.6l-2.2 0l-2 7.6z"/>
<path color="#6cfe92" d="M167.6 302.8l2 -7.8l-2.1 0l-2 7.8z"/>
<path color="#4dfeb2" d="M165.6 311l2 -8.2l-2.1 0l-2 8z"/>
<path color="#28ffd5" d="M163.6 319.4l2 -8.4l-2.1 -0.2l-2 8.4z"/>
<path color="#08fbf7" d="M161.6 328.2l2 -8.8l-2.1 -0.2l-2 8.7z"/>
<path color="#03defd" d="M159.6 337.3l2 -9.1l-2.1 -0.3l-2.1 9.1z"/>
<path color="#02bdfe" d="M157.5 346.8l2.1 -9.5l-2.2 -0.3l-2 9.4z"/>
<path color="#0194fb" d="M155.5 356.8l2 -10l-2.1 -0.4l-2 9.9z"/>
<path color="#026ffd" d="M153.5 367.4l2 -10.6l-2.1 -0.5l-2 10.5z"/>
<path color="#0242fd" d="M151.5 378.6l2 -11.2l-2.1 -0.6l-2 11.2z"/>
<path color="#0212f9" d="M149.5 391l2 -12.4l-2.1 -0.6l-2 12.2z"/>
<path color="#0101d8" d="M147.5 405l2 -14l-2.1 -0.8l-2.1 14z"/>
<path color="#020290" d="M145.4 425.6l2.1 -20.6l-2.2 -0.8l-2 20.4z"/>
<path color="#770906" d="M236.3 164.5l2 -0.3l-2.1 0.2l-2 0.4z"/>
<path color="#780c0a" d="M234.3 165.1l2 -0.6l-2.1 0.3l-2 0.6z"/>
<path color="#790b0c" d="M232.3 165.9l2 -0.8l-2.1 0.3l-2.1 0.8z"/>
<path color="#790b0d" d="M230.3 167l2 -1.1l-2.2 0.3l-2 1z"/>
<path color="#81090a" d="M228.2 168.2l2.1 -1.2l-2.2 0.2l-2 1.3z"/>
<path color="#8a0807" d="M226.2 169.7l2 -1.5l-2.1 0.3l-2 1.5z"/>
<path color="#940606" d="M224.2 171.5l2 -1.8l-2.1 0.3l-2 1.7z"/>
<path color="#9a0507" d="M222.2 173.4l2 -1.9l-2.1 0.2l-2 2z"/>
<path color="#a10407" d="M220.2 175.6l2 -2.2l-2.1 0.3l-2.1 2.1z"/>
<path color="#a90306" d="M218.2 178l2 -2.4l-2.2 0.2l-2 2.4z"/>
<path color="#b00406" d="M216.1 180.7l2.1 -2.7l-2.2 0.2l-2 2.7z"/>
<path color="#be0406" d="M214.1 183.5l2 -2.8l-2.1 0.2l-2 2.8z"/>
<path color="#cb0404" d="M212.1 186.6l2 -3.1l-2.1 0.2l-2 3.1z"/>
<path color="#d90303" d="M210.1 189.9l2 -3.3l-2.1 0.2l-2 3.3z"/>
<path color="#e40304" d="M208.1 193.5l2 -3.6l-2.1 0.2l-2.1 3.5z"/>
<path color="#f10404" d="M206.1 197.2l2 -3.7l-2.2 0.1l-2 3.7z"/>
<path color="#fa0904" d="M204 201.2l2.1 -4l-2.2 0.1l-2 4z"/>
<path color="#fc1603" d="M202 205.4l2 -4.2l-2.1 0.1l-2 4.2z"/>
<path color="#fb2802" d="M200 209.8l2 -4.4l-2.1 0.1l-2 4.4z"/>
<path color="#fe3b03" d="M198 214.5l2 -4.7l-2.1 0.1l-2 4.6z"/>
<path color="#fe5002" d="M196 219.3l2 -4.8l-2.1 0l-2.1 4.9z"/>
<path color="#fd6102" d="M194 224.4l2 -5.1l-2.2 0.1l-2 5z"/>
<path color="#fd7503" d="M191.9 229.7l2.1 -5.3l-2.2 0l-2 5.3z"/>
<path color="#fd8b03" d="M189.9 235.3l2 -5.6l-2.1 -0l-2 5.5z"/>
<path color="#fda005" d="M187.9 241l2 -5.7l-2.1 -0.1l-2 5.7z"/>
<path color="#feb703" d="M185.9 247l2 -6l-2.1 -0.1l-2 6z"/>
<path color="#fdd001" d="M183.9 253.2l2 -6.2l-2.1 -0.1l-2.1 6.2z"/>
<path color="#fde802" d="M181.9 259.6l2 -6.4l-2.2 -0.1l-2 6.4z"/>
<path color="#f9fb06" d="M179.8 266.3l2.1 -6.7l-2.2 -0.1l-2 6.6z"/>
<path color="#ddff1f" d="M177.8 273.2l2 -6.9l-2.1 -0.2l-2 6.8z"/>
<path color="#c4fd3b" d="M175.8 280.3l2 -7.1l-2.1 -0.3l-2 7.1z"/>
<path color="#a9fe54" d="M173.8 287.7l2 -7.4l-2.1 -0.3l-2 7.4z"/>
<path color="#8cfe73" d="M171.8 295.3l2 -7.6l-2.1 -0.3l-2.1 7.6z"/>
<path color="#6ffe90" d="M169.8 303.2l2 -7.9l-2.2 -0.3l-2 7.8z"/>
<path color="#50feaf" d="M167.7 311.4l2.1 -8.2l-2.2 -0.4l-2 8.2z"/>
<path color="#2effcf" d="M165.7 319.9l2 -8.5l-2.1 -0.4l-2 8.4z"/>
<path color="#0cfcf3" d="M163.7 328.7l2 -8.8l-2.1 -0.5l-2 8.8z"/>
<path color="#03defc" d="M161.7 337.9l2 -9.2l-2.1 -0.5l-2 9.1z"/>
<path color="#02bffd" d="M159.7 347.4l2 -9.5l-2.1 -0.6l-2.1 9.5z"/>
<path color="#0298fc" d="M157.7 357.5l2 -10.1l-2.2 -0.6l-2 10z"/>
<path color="#0271fc" d="M155.6 368.1l2.1 -10.6l-2.2 -0.7l-2 10.6z"/>
<path color="#0240fc" d="M153.6 379.4l2 -11.3l-2.1 -0.7l-2 11.2z"/>
<path color="#0112f9" d="M151.6 391.8l2 -12.4l-2.1 -0.8l-2 12.4z"/>
<path color="#0101da" d="M149.6 405.9l2 -14.1l-2.1 -0.8l-2 14z"/>
<path color="#010191" d="M147.6 426.6l2 -20.7l-2.1 -0.9l-2.1 20.6z"/>
<path color="#770908" d="M246.5 165l2 0.5l-2.1 -0.5l-2 -0.5z"/>
<path color="#770906" d="M244.5 164.6l2 0.4l-2.1 -0.5l-2 -0.4z"/>
<path color="#770804" d="M242.5 164.5l2 0.1l-2.1 -0.5l-2.1 -0.1z"/>
<path color="#770904" d="M240.4 164.6l2.1 -0.1l-2.2 -0.5l-2 0.2z"/>
<path color="#770905" d="M238.4 165l2 -0.4l-2.1 -0.4l-2 0.3z"/>
<path color="#7b0a07" d="M236.4 165.6l2 -0.6l-2.1 -0.5l-2 0.6z"/>
<path color="#7b0a0a" d="M234.4 166.4l2 -0.8l-2.1 -0.5l-2 0.8z"/>
<path color="#7c090b" d="M232.4 167.5l2 -1.1l-2.1 -0.5l-2 1.1z"/>
<path color="#800809" d="M230.4 168.7l2 -1.2l-2.1 -0.5l-2.1 1.2z"/>
<path color="#890606" d="M228.3 170.2l2.1 -1.5l-2.2 -0.5l-2 1.5z"/>
<path color="#940404" d="M226.3 172l2 -1.8l-2.1 -0.5l-2 1.8z"/>
<path color="#9b0404" d="M224.3 173.9l2 -1.9l-2.1 -0.5l-2 1.9z"/>
<path color="#a00404" d="M222.3 176.1l2 -2.2l-2.1 -0.5l-2 2.2z"/>
<path color="#a90303" d="M220.3 178.5l2 -2.4l-2.1 -0.5l-2 2.4z"/>
<path color="#af0302" d="M218.3 181.2l2 -2.7l-2.1 -0.5l-2.1 2.7z"/>
<path color="#bd0303" d="M216.2 184.1l2.1 -2.9l-2.2 -0.5l-2 2.8z"/>
<path color="#ca0302" d="M214.2 187.1l2 -3l-2.1 -0.6l-2 3.1z"/>
<path color="#d70201" d="M212.2 190.5l2 -3.4l-2.1 -0.5l-2 3.3z"/>
<path color="#e20202" d="M210.2 194l2 -3.5l-2.1 -0.6l-2 3.6z"/>
<path color="#ef0304" d="M208.2 197.8l2 -3.8l-2.1 -0.5l-2 3.7z"/>
<path color="#f80804" d="M206.2 201.8l2 -4l-2.1 -0.6l-2.1 4z"/>
<path color="#fc1303" d="M204.1 206l2.1 -4.2l-2.2 -0.6l-2 4.2z"/>
<path color="#fb2301" d="M202.1 210.4l2 -4.4l-2.1 -0.6l-2 4.4z"/>
<path color="#fd3703" d="M200.1 215.1l2 -4.7l-2.1 -0.6l-2 4.7z"/>
<path color="#fe4d02" d="M198.1 219.9l2 -4.8l-2.1 -0.6l-2 4.8z"/>
<path color="#fe6002" d="M196.1 225l2 -5.1l-2.1 -0.6l-2 5.1z"/>
<path color="#fe7102" d="M194.1 230.4l2 -5.4l-2.1 -0.6l-2.1 5.3z"/>
<path color="#fd8802" d="M192 235.9l2.1 -5.5l-2.2 -0.7l-2 5.6z"/>
<path color="#fe9f03" d="M190 241.7l2 -5.8l-2.1 -0.6l-2 5.7z"/>
<path color="#feb302" d="M188 247.7l2 -6l-2.1 -0.7l-2 6z"/>
<path color="#fecd01" d="M186 253.9l2 -6.2l-2.1 -0.7l-2 6.2z"/>
<path color="#fde401" d="M184 260.3l2 -6.4l-2.1 -0.7l-2 6.4z"/>
<path color="#fafa05" d="M182 267l2 -6.7l-2.1 -0.7l-2.1 6.7z"/>
<path color="#dfff1e" d="M180 273.9l2 -6.9l-2.2 -0.7l-2 6.9z"/>
<path color="#c6fd3b" d="M177.9 281.1l2.1 -7.2l-2.2 -0.7l-2 7.1z"/>
<path color="#acff51" d="M175.9 288.4l2 -7.3l-2.1 -0.8l-2 7.4z"/>
<path color="#8efe71" d="M173.9 296.1l2 -7.7l-2.1 -0.7l-2 7.6z"/>
<path color="#71fe8e" d="M171.9 304l2 -7.9l-2.1 -0.8l-2 7.9z"/>
<path color="#52feaf" d="M169.9 312.2l2 -8.2l-2.1 -0.8l-2.1 8.2z"/>
<path color="#31fecd" d="M167.9 320.7l2 -8.5l-2.2 -0.8l-2 8.5z"/>
<path color="#10fcf0" d="M165.8 329.5l2.1 -8.8l-2.2 -0.8l-2 8.8z"/>
<path color="#03dffc" d="M163.8 338.7l2 -9.2l-2.1 -0.8l-2 9.2z"/>
<path color="#02c0fc" d="M161.8 348.3l2 -9.6l-2.1 -0.8l-2 9.5z"/>
<path color="#039bfd" d="M159.8 358.4l2 -10.1l-2.1 -0.9l-2 10.1z"/>
<path color="#0272fb" d="M157.8 369l2 -10.6l-2.1 -0.9l-2.1 10.6z"/>
<path color="#0241fc" d="M155.8 380.4l2 -11.4l-2.2 -0.9l-2 11.3z"/>
<path color="#0113f9" d="M153.7 392.8l2.1 -12.4l-2.2 -1l-2 12.4z"/>
<path color="#0101db" d="M151.7 406.9l2 -14.1l-2.1 -1l-2 14.1z"/>
<path color="#010191" d="M149.7 427.6l2 -20.7l-2.1 -1l-2 20.7z"/>
<path color="#760c0a" d="M252.7 167.9l2 1l-2.1 -1.6l-2.1 -1z"/>
<path color="#750b0c" d="M250.6 167.1l2.1 0.8l-2.2 -1.6l-2 -0.8z"/>
<path color="#760a0d" d="M248.6 166.5l2 0.6l-2.1 -1.6l-2 -0.5z"/>
<path color="#780a0b" d="M246.6 166.2l2 0.3l-2.1 -1.5l-2 -0.4z"/>
<path color="#790807" d="M244.6 166.1l2 0.1l-2.1 -1.6l-2 -0.1z"/>
<path color="#7a0805" d="M242.6 166.2l2 -0.1l-2.1 -1.6l-2.1 0.1z"/>
<path color="#7c0906" d="M240.6 166.6l2 -0.4l-2.2 -1.6l-2 0.4z"/>
<path color="#7e0a06" d="M238.5 167.1l2.1 -0.5l-2.2 -1.6l-2 0.6z"/>
<path color="#810a08" d="M236.5 168l2 -0.9l-2.1 -1.5l-2 0.8z"/>
<path color="#830909" d="M234.5 169l2 -1l-2.1 -1.6l-2 1.1z"/>
<path color="#870607" d="M232.5 170.3l2 -1.3l-2.1 -1.5l-2 1.2z"/>
<path color="#8d0404" d="M230.5 171.8l2 -1.5l-2.1 -1.6l-2.1 1.5z"/>
<path color="#960302" d="M228.5 173.5l2 -1.7l-2.2 -1.6l-2 1.8z"/>
<path color="#9c0202" d="M226.4 175.5l2.1 -2l-2.2 -1.5l-2 1.9z"/>
<path color="#a10302" d="M224.4 177.7l2 -2.2l-2.1 -1.6l-2 2.2z"/>
<path color="#aa0301" d="M222.4 180.1l2 -2.4l-2.1 -1.6l-2 2.4z"/>
<path color="#b20201" d="M220.4 182.7l2 -2.6l-2.1 -1.6l-2 2.7z"/>
<path color="#bd0201" d="M218.4 185.6l2 -2.9l-2.1 -1.5l-2.1 2.9z"/>
<path color="#cb0201" d="M216.4 188.7l2 -3.1l-2.2 -1.5l-2 3z"/>
<path color="#d80201" d="M214.3 192l2.1 -3.3l-2.2 -1.6l-2 3.4z"/>
<path color="#e50102" d="M212.3 195.5l2 -3.5l-2.1 -1.5l-2 3.5z"/>
<path color="#f00405" d="M210.3 199.3l2 -3.8l-2.1 -1.5l-2 3.8z"/>
<path color="#f80e08" d="M208.3 203.2l2 -3.9l-2.1 -1.5l-2 4z"/>
<path color="#fb1708" d="M206.3 207.5l2 -4.3l-2.1 -1.4l-2.1 4.2z"/>
<path color="#fb2303" d="M204.3 211.9l2 -4.4l-2.2 -1.5l-2 4.4z"/>
<path color="#fd3703" d="M202.2 216.5l2.1 -4.6l-2.2 -1.5l-2 4.7z"/>
<path color="#fd4e03" d="M200.2 221.4l2 -4.9l-2.1 -1.4l-2 4.8z"/>
<path color="#fe5f01" d="M198.2 226.5l2 -5.1l-2.1 -1.5l-2 5.1z"/>
<path color="#fe7101" d="M196.2 231.8l2 -5.3l-2.1 -1.5l-2 5.4z"/>
<path color="#fd8701" d="M194.2 237.3l2 -5.5l-2.1 -1.4l-2.1 5.5z"/>
<path color="#fe9e01" d="M192.2 243.1l2 -5.8l-2.2 -1.4l-2 5.8z"/>
<path color="#feb202" d="M190.1 249l2.1 -5.9l-2.2 -1.4l-2 6z"/>
<path color="#fecc01" d="M188.1 255.3l2 -6.3l-2.1 -1.3l-2 6.2z"/>
<path color="#fde401" d="M186.1 261.7l2 -6.4l-2.1 -1.4l-2 6.4z"/>
<path color="#fbfa05" d="M184.1 268.3l2 -6.6l-2.1 -1.4l-2 6.7z"/>
<path color="#e1ff1d" d="M182.1 275.2l2 -6.9l-2.1 -1.3l-2 6.9z"/>
<path color="#c7fe3a" d="M180.1 282.4l2 -7.2l-2.1 -1.3l-2.1 7.2z"/>
<path color="#acff52" d="M178 289.8l2.1 -7.4l-2.2 -1.3l-2 7.3z"/>
<path color="#8ffe70" d="M176 297.4l2 -7.6l-2.1 -1.4l-2 7.7z"/>
<path color="#71fe8f" d="M174 305.3l2 -7.9l-2.1 -1.3l-2 7.9z"/>
<path color="#52feaf" d="M172 313.5l2 -8.2l-2.1 -1.3l-2 8.2z"/>
<path color="#31fecf" d="M170 322l2 -8.5l-2.1 -1.3l-2 8.5z"/>
<path color="#12fcef" d="M168 330.8l2 -8.8l-2.1 -1.3l-2.1 8.8z"/>
<path color="#03dffc" d="M165.9 339.9l2.1 -9.1l-2.2 -1.3l-2 9.2z"/>
<path color="#03bffc" d="M163.9 349.5l2 -9.6l-2.1 -1.2l-2 9.6z"/>
<path color="#039bfd" d="M161.9 359.5l2 -10l-2.1 -1.2l-2 10.1z"/>
<path color="#0272fa" d="M159.9 370.1l2 -10.6l-2.1 -1.1l-2 10.6z"/>
<path color="#0242fc" d="M157.9 381.5l2 -11.4l-2.1 -1.1l-2 11.4z"/>
<path color="#0112fa" d="M155.9 393.9l2 -12.4l-2.1 -1.1l-2.1 12.4z"/>
<path color="#0101dc" d="M153.8 408l2.1 -14.1l-2.2 -1.1l-2 14.1z"/>
<path color="#010191" d="M151.8 428.7l2 -20.7l-2.1 -1.1l-2 20.7z"/>
<path color="#970b0b" d="M264.9 177.5l2 2.2l-2.1 -2.3l-2.1 -2.2z"/>
<path color="#930c0d" d="M262.9 175.6l2 1.9l-2.2 -2.3l-2 -1.9z"/>
<path color="#8a0b0c" d="M260.8 173.9l2.1 1.7l-2.2 -2.3l-2 -1.7z"/>
<path color="#840b0a" d="M258.8 172.4l2 1.5l-2.1 -2.3l-2 -1.5z"/>
<path color="#810b09" d="M256.8 171.2l2 1.2l-2.1 -2.3l-2 -1.2z"/>
<path color="#7e0b08" d="M254.8 170.2l2 1l-2.1 -2.3l-2 -1z"/>
<path color="#7a0a08" d="M252.8 169.4l2 0.8l-2.1 -2.3l-2.1 -0.8z"/>
<path color="#7a0909" d="M250.8 168.8l2 0.6l-2.2 -2.3l-2 -0.6z"/>
<path color="#7c0809" d="M248.7 168.5l2.1 0.3l-2.2 -2.3l-2 -0.3z"/>
<path color="#7e0709" d="M246.7 168.4l2 0.1l-2.1 -2.3l-2 -0.1z"/>
<path color="#810808" d="M244.7 168.5l2 -0.1l-2.1 -2.3l-2 0.1z"/>
<path color="#830b09" d="M242.7 168.9l2 -0.4l-2.1 -2.3l-2 0.4z"/>
<path color="#850e0c" d="M240.7 169.5l2 -0.6l-2.1 -2.3l-2.1 0.5z"/>
<path color="#88110f" d="M238.7 170.3l2 -0.8l-2.2 -2.4l-2 0.9z"/>
<path color="#8a100f" d="M236.6 171.3l2.1 -1l-2.2 -2.3l-2 1z"/>
<path color="#8e0c0c" d="M234.6 172.6l2 -1.3l-2.1 -2.3l-2 1.3z"/>
<path color="#930808" d="M232.6 174.1l2 -1.5l-2.1 -2.3l-2 1.5z"/>
<path color="#970504" d="M230.6 175.8l2 -1.7l-2.1 -2.3l-2 1.7z"/>
<path color="#9d0302" d="M228.6 177.8l2 -2l-2.1 -2.3l-2.1 2z"/>
<path color="#a40201" d="M226.6 179.9l2 -2.1l-2.2 -2.3l-2 2.2z"/>
<path color="#af0101" d="M224.5 182.3l2.1 -2.4l-2.2 -2.2l-2 2.4z"/>
<path color="#b90102" d="M222.5 185l2 -2.7l-2.1 -2.2l-2 2.6z"/>
<path color="#c20101" d="M220.5 187.8l2 -2.8l-2.1 -2.3l-2 2.9z"/>
<path color="#ce0101" d="M218.5 190.9l2 -3.1l-2.1 -2.2l-2 3.1z"/>
<path color="#dc0102" d="M216.5 194.2l2 -3.3l-2.1 -2.2l-2.1 3.3z"/>
<path color="#e90203" d="M214.5 197.7l2 -3.5l-2.2 -2.2l-2 3.5z"/>
<path color="#f5090a" d="M212.4 201.4l2.1 -3.7l-2.2 -2.2l-2 3.8z"/>
<path color="#f91811" d="M210.4 205.4l2 -4l-2.1 -2.1l-2 3.9z"/>
<path color="#fb2311" d="M208.4 209.6l2 -4.2l-2.1 -2.2l-2 4.3z"/>
<path color="#fc2c07" d="M206.4 214l2 -4.4l-2.1 -2.1l-2 4.4z"/>
<path color="#fd3d06" d="M204.4 218.6l2 -4.6l-2.1 -2.1l-2.1 4.6z"/>
<path color="#fd5003" d="M202.4 223.5l2 -4.9l-2.2 -2.1l-2 4.9z"/>
<path color="#fd6102" d="M200.3 228.5l2.1 -5l-2.2 -2.1l-2 5.1z"/>
<path color="#fd7402" d="M198.3 233.8l2 -5.3l-2.1 -2l-2 5.3z"/>
<path color="#fe8b01" d="M196.3 239.3l2 -5.5l-2.1 -2l-2 5.5z"/>
<path color="#fea001" d="M194.3 245l2 -5.7l-2.1 -2l-2 5.8z"/>
<path color="#feb602" d="M192.3 251l2 -6l-2.1 -1.9l-2.1 5.9z"/>
<path color="#fece02" d="M190.3 257.1l2 -6.1l-2.2 -2l-2 6.3z"/>
<path color="#fee803" d="M188.2 263.5l2.1 -6.4l-2.2 -1.8l-2 6.4z"/>
<path color="#f9fb07" d="M186.2 270.2l2 -6.7l-2.1 -1.8l-2 6.6z"/>
<path color="#e1fe1f" d="M184.2 277l2 -6.8l-2.1 -1.9l-2 6.9z"/>
<path color="#c5fe3a" d="M182.2 284.1l2 -7.1l-2.1 -1.8l-2 7.2z"/>
<path color="#aafe54" d="M180.2 291.5l2 -7.4l-2.1 -1.7l-2.1 7.4z"/>
<path color="#8efe72" d="M178.2 299.1l2 -7.6l-2.2 -1.7l-2 7.6z"/>
<path color="#70fe90" d="M176.1 306.9l2.1 -7.8l-2.2 -1.7l-2 7.9z"/>
<path color="#50feb0" d="M174.1 315.1l2 -8.2l-2.1 -1.6l-2 8.2z"/>
<path color="#30fed3" d="M172.1 323.5l2 -8.4l-2.1 -1.6l-2 8.5z"/>
<path color="#0ffcf1" d="M170.1 332.3l2 -8.8l-2.1 -1.5l-2 8.8z"/>
<path color="#02e0fd" d="M168.1 341.4l2 -9.1l-2.1 -1.5l-2.1 9.1z"/>
<path color="#03bffd" d="M166.1 350.9l2 -9.5l-2.2 -1.5l-2 9.6z"/>
<path color="#0298fc" d="M164 360.9l2.1 -10l-2.2 -1.4l-2 10z"/>
<path color="#0270fb" d="M162 371.5l2 -10.6l-2.1 -1.4l-2 10.6z"/>
<path color="#0241fc" d="M160 382.7l2 -11.2l-2.1 -1.4l-2 11.4z"/>
<path color="#0113fa" d="M158 395.1l2 -12.4l-2.1 -1.2l-2 12.4z"/>
<path color="#0101db" d="M156 409.1l2 -14l-2.1 -1.2l-2.1 14.1z"/>
<path color="#010191" d="M154 429.7l2 -20.6l-2.2 -1.1l-2 20.7z"/>
<path color="#a0090c" d="M267 180.4l2 2.1l-2.1 -2.8l-2 -2.2z"/>
<path color="#9a0b0a" d="M265 178.5l2 1.9l-2.1 -2.9l-2 -1.9z"/>
<path color="#960b0b" d="M263 176.8l2 1.7l-2.1 -2.9l-2.1 -1.7z"/>
<path color="#900b0c" d="M260.9 175.4l2.1 1.4l-2.2 -2.9l-2 -1.5z"/>
<path color="#8b0a0a" d="M258.9 174.2l2 1.2l-2.1 -3l-2 -1.2z"/>
<path color="#890a09" d="M256.9 173.1l2 1.1l-2.1 -3l-2 -1z"/>
<path color="#880a08" d="M254.9 172.4l2 0.7l-2.1 -2.9l-2 -0.8z"/>
<path color="#860908" d="M252.9 171.8l2 0.6l-2.1 -3l-2 -0.6z"/>
<path color="#850808" d="M250.9 171.5l2 0.3l-2.1 -3l-2.1 -0.3z"/>
<path color="#860809" d="M248.8 171.4l2.1 0.1l-2.2 -3l-2 -0.1z"/>
<path color="#8b0c0d" d="M246.8 171.5l2 -0.1l-2.1 -3l-2 0.1z"/>
<path color="#8e1213" d="M244.8 171.9l2 -0.4l-2.1 -3l-2 0.4z"/>
<path color="#8f1919" d="M242.8 172.5l2 -0.6l-2.1 -3l-2 0.6z"/>
<path color="#901c1c" d="M240.8 173.3l2 -0.8l-2.1 -3l-2 0.8z"/>
<path color="#941c1c" d="M238.8 174.3l2 -1l-2.1 -3l-2.1 1z"/>
<path color="#981817" d="M236.7 175.6l2.1 -1.3l-2.2 -3l-2 1.3z"/>
<path color="#9b1110" d="M234.7 177l2 -1.4l-2.1 -3l-2 1.5z"/>
<path color="#9d0a09" d="M232.7 178.8l2 -1.8l-2.1 -2.9l-2 1.7z"/>
<path color="#a30404" d="M230.7 180.7l2 -1.9l-2.1 -3l-2 2z"/>
<path color="#aa0201" d="M228.7 182.8l2 -2.1l-2.1 -2.9l-2 2.1z"/>
<path color="#b30202" d="M226.7 185.2l2 -2.4l-2.1 -2.9l-2.1 2.4z"/>
<path color="#bd0303" d="M224.6 187.8l2.1 -2.6l-2.2 -2.9l-2 2.7z"/>
<path color="#c60202" d="M222.6 190.7l2 -2.9l-2.1 -2.8l-2 2.8z"/>
<path color="#d30101" d="M220.6 193.7l2 -3l-2.1 -2.9l-2 3.1z"/>
<path color="#e00101" d="M218.6 197l2 -3.3l-2.1 -2.8l-2 3.3z"/>
<path color="#ee0304" d="M216.6 200.5l2 -3.5l-2.1 -2.8l-2 3.5z"/>
<path color="#f80f0d" d="M214.6 204.2l2 -3.7l-2.1 -2.8l-2.1 3.7z"/>
<path color="#fa2418" d="M212.5 208.1l2.1 -3.9l-2.2 -2.8l-2 4z"/>
<path color="#fb3117" d="M210.5 212.3l2 -4.2l-2.1 -2.7l-2 4.2z"/>
<path color="#fc380d" d="M208.5 216.6l2 -4.3l-2.1 -2.7l-2 4.4z"/>
<path color="#fd4409" d="M206.5 221.2l2 -4.6l-2.1 -2.6l-2 4.6z"/>
<path color="#fd5506" d="M204.5 226l2 -4.8l-2.1 -2.6l-2 4.9z"/>
<path color="#fd6705" d="M202.5 231.1l2 -5.1l-2.1 -2.5l-2.1 5z"/>
<path color="#fe7c04" d="M200.4 236.3l2.1 -5.2l-2.2 -2.6l-2 5.3z"/>
<path color="#fe9002" d="M198.4 241.8l2 -5.5l-2.1 -2.5l-2 5.5z"/>
<path color="#fda402" d="M196.4 247.5l2 -5.7l-2.1 -2.5l-2 5.7z"/>
<path color="#febb02" d="M194.4 253.4l2 -5.9l-2.1 -2.5l-2 6z"/>
<path color="#fdd202" d="M192.4 259.5l2 -6.1l-2.1 -2.4l-2 6.1z"/>
<path color="#feed03" d="M190.4 265.8l2 -6.3l-2.1 -2.4l-2.1 6.4z"/>
<path color="#f5fc0b" d="M188.3 272.4l2.1 -6.6l-2.2 -2.3l-2 6.7z"/>
<path color="#ddfe23" d="M186.3 279.2l2 -6.8l-2.1 -2.2l-2 6.8z"/>
<path color="#c1fe3d" d="M184.3 286.3l2 -7.1l-2.1 -2.2l-2 7.1z"/>
<path color="#a6fe5a" d="M182.3 293.5l2 -7.2l-2.1 -2.2l-2 7.4z"/>
<path color="#89fe77" d="M180.3 301.1l2 -7.6l-2.1 -2l-2 7.6z"/>
<path color="#6bfe94" d="M178.3 308.9l2 -7.8l-2.1 -2l-2.1 7.8z"/>
<path color="#4cffb2" d="M176.2 317l2.1 -8.1l-2.2 -2l-2 8.2z"/>
<path color="#2bfed6" d="M174.2 325.4l2 -8.4l-2.1 -1.9l-2 8.4z"/>
<path color="#09fcf5" d="M172.2 334l2 -8.6l-2.1 -1.9l-2 8.8z"/>
<path color="#02e0fd" d="M170.2 343.1l2 -9.1l-2.1 -1.7l-2 9.1z"/>
<path color="#03befd" d="M168.2 352.5l2 -9.4l-2.1 -1.7l-2 9.5z"/>
<path color="#0294fc" d="M166.2 362.5l2 -10l-2.1 -1.6l-2.1 10z"/>
<path color="#0371fd" d="M164.1 372.9l2.1 -10.4l-2.2 -1.6l-2 10.6z"/>
<path color="#0242fc" d="M162.1 384.1l2 -11.2l-2.1 -1.4l-2 11.2z"/>
<path color="#0112fa" d="M160.1 396.3l2 -12.2l-2.1 -1.4l-2 12.4z"/>
<path color="#0102d9" d="M158.1 410.3l2 -14l-2.1 -1.2l-2 14z"/>
<path color="#020290" d="M156.1 430.7l2 -20.4l-2.1 -1.2l-2 20.6z"/>
<path color="#c70b0a" d="M277.2 193.6l2 3l-2.1 -3.3l-2 -3z"/>
<path color="#be0a09" d="M275.2 190.9l2 2.7l-2.1 -3.3l-2.1 -2.8z"/>
<path color="#b6090a" d="M273.2 188.3l2 2.6l-2.2 -3.4l-2 -2.6z"/>
<path color="#b10809" d="M271.1 186l2.1 2.3l-2.2 -3.4l-2 -2.4z"/>
<path color="#a9080a" d="M269.1 183.9l2 2.1l-2.1 -3.5l-2 -2.1z"/>
<path color="#a5080b" d="M267.1 182l2 1.9l-2.1 -3.5l-2 -1.9z"/>
<path color="#a0090a" d="M265.1 180.4l2 1.6l-2.1 -3.5l-2 -1.7z"/>
<path color="#9c0b0a" d="M263.1 178.9l2 1.5l-2.1 -3.6l-2.1 -1.4z"/>
<path color="#9a0c0c" d="M261.1 177.7l2 1.2l-2.2 -3.5l-2 -1.2z"/>
<path color="#980c0d" d="M259 176.7l2.1 1l-2.2 -3.5l-2 -1.1z"/>
<path color="#960d0e" d="M257 175.9l2 0.8l-2.1 -3.6l-2 -0.7z"/>
<path color="#960e0f" d="M255 175.4l2 0.5l-2.1 -3.5l-2 -0.6z"/>
<path color="#950f10" d="M253 175.1l2 0.3l-2.1 -3.6l-2 -0.3z"/>
<path color="#931011" d="M251 175l2 0.1l-2.1 -3.6l-2.1 -0.1z"/>
<path color="#961617" d="M249 175.1l2 -0.1l-2.2 -3.6l-2 0.1z"/>
<path color="#9b2020" d="M246.9 175.5l2.1 -0.4l-2.2 -3.6l-2 0.4z"/>
<path color="#a02829" d="M244.9 176l2 -0.5l-2.1 -3.6l-2 0.6z"/>
<path color="#a32b2b" d="M242.9 176.8l2 -0.8l-2.1 -3.5l-2 0.8z"/>
<path color="#a62929" d="M240.9 177.9l2 -1.1l-2.1 -3.5l-2 1z"/>
<path color="#a92424" d="M238.9 179.1l2 -1.2l-2.1 -3.6l-2.1 1.3z"/>
<path color="#a91b1a" d="M236.9 180.6l2 -1.5l-2.2 -3.5l-2 1.4z"/>
<path color="#a91111" d="M234.8 182.3l2.1 -1.7l-2.2 -3.6l-2 1.8z"/>
<path color="#ae0b0c" d="M232.8 184.2l2 -1.9l-2.1 -3.5l-2 1.9z"/>
<path color="#b50909" d="M230.8 186.3l2 -2.1l-2.1 -3.5l-2 2.1z"/>
<path color="#be0808" d="M228.8 188.7l2 -2.4l-2.1 -3.5l-2 2.4z"/>
<path color="#c80808" d="M226.8 191.3l2 -2.6l-2.1 -3.5l-2.1 2.6z"/>
<path color="#d10606" d="M224.8 194.1l2 -2.8l-2.2 -3.5l-2 2.9z"/>
<path color="#dc0303" d="M222.7 197.1l2.1 -3l-2.2 -3.4l-2 3z"/>
<path color="#e90203" d="M220.7 200.3l2 -3.2l-2.1 -3.4l-2 3.3z"/>
<path color="#f30505" d="M218.7 203.8l2 -3.5l-2.1 -3.3l-2 3.5z"/>
<path color="#f81610" d="M216.7 207.5l2 -3.7l-2.1 -3.3l-2 3.7z"/>
<path color="#fa2e1d" d="M214.7 211.4l2 -3.9l-2.1 -3.3l-2.1 3.9z"/>
<path color="#fa3d1e" d="M212.7 215.5l2 -4.1l-2.2 -3.3l-2 4.2z"/>
<path color="#fa4416" d="M210.6 219.8l2.1 -4.3l-2.2 -3.2l-2 4.3z"/>
<path color="#fc5010" d="M208.6 224.3l2 -4.5l-2.1 -3.2l-2 4.6z"/>
<path color="#fd600d" d="M206.6 229.1l2 -4.8l-2.1 -3.1l-2 4.8z"/>
<path color="#fd720b" d="M204.6 234.1l2 -5l-2.1 -3.1l-2 5.1z"/>
<path color="#fe8509" d="M202.6 239.3l2 -5.2l-2.1 -3l-2.1 5.2z"/>
<path color="#fd9807" d="M200.6 244.7l2 -5.4l-2.2 -3l-2 5.5z"/>
<path color="#fdac05" d="M198.5 250.3l2.1 -5.6l-2.2 -2.9l-2 5.7z"/>
<path color="#fdc202" d="M196.5 256.1l2 -5.8l-2.1 -2.8l-2 5.9z"/>
<path color="#fed903" d="M194.5 262.2l2 -6.1l-2.1 -2.7l-2 6.1z"/>
<path color="#fcef04" d="M192.5 268.5l2 -6.3l-2.1 -2.7l-2 6.3z"/>
<path color="#effd0e" d="M190.5 275l2 -6.5l-2.1 -2.7l-2.1 6.6z"/>
<path color="#d8fe27" d="M188.5 281.7l2 -6.7l-2.2 -2.6l-2 6.8z"/>
<path color="#bdfe42" d="M186.4 288.7l2.1 -7l-2.2 -2.5l-2 7.1z"/>
<path color="#a1fe60" d="M184.4 295.9l2 -7.2l-2.1 -2.4l-2 7.2z"/>
<path color="#84fe7d" d="M182.4 303.4l2 -7.5l-2.1 -2.4l-2 7.6z"/>
<path color="#66fe98" d="M180.4 311.1l2 -7.7l-2.1 -2.3l-2 7.8z"/>
<path color="#46ffb8" d="M178.4 319.1l2 -8l-2.1 -2.2l-2.1 8.1z"/>
<path color="#25feda" d="M176.4 327.4l2 -8.3l-2.2 -2.1l-2 8.4z"/>
<path color="#06fbf8" d="M174.3 336l2.1 -8.6l-2.2 -2l-2 8.6z"/>
<path color="#02dffd" d="M172.3 345l2 -9l-2.1 -2l-2 9.1z"/>
<path color="#04bbfe" d="M170.3 354.3l2 -9.3l-2.1 -1.9l-2 9.4z"/>
<path color="#0291fd" d="M168.3 364.2l2 -9.9l-2.1 -1.8l-2 10z"/>
<path color="#036efd" d="M166.3 374.5l2 -10.3l-2.1 -1.7l-2.1 10.4z"/>
<path color="#0241fd" d="M164.3 385.6l2 -11.1l-2.2 -1.6l-2 11.2z"/>
<path color="#0113fa" d="M162.2 397.7l2.1 -12.1l-2.2 -1.5l-2 12.2z"/>
<path color="#0102d7" d="M160.2 411.5l2 -13.8l-2.1 -1.4l-2 14z"/>
<path color="#020290" d="M158.2 431.7l2 -20.2l-2.1 -1.2l-2 20.4z"/>
<path color="#ea0f0e" d="M285.3 207l2.1 3.6l-2.1 -3.7l-2.1 -3.6z"/>
<path color="#e80a0a" d="M283.3 203.6l2 3.4l-2.1 -3.7l-2 -3.5z"/>
<path color="#e0080a" d="M281.3 200.5l2 3.1l-2.1 -3.8l-2 -3.2z"/>
<path color="#d9080a" d="M279.3 197.5l2 3l-2.1 -3.9l-2 -3z"/>
<path color="#c80a09" d="M277.3 194.8l2 2.7l-2.1 -3.9l-2 -2.7z"/>
<path color="#c10908" d="M275.3 192.3l2 2.5l-2.1 -3.9l-2 -2.6z"/>
<path color="#bc0808" d="M273.2 190l2.1 2.3l-2.1 -4l-2.1 -2.3z"/>
<path color="#b60707" d="M271.2 187.9l2 2.1l-2.1 -4l-2 -2.1z"/>
<path color="#b00607" d="M269.2 186.1l2 1.8l-2.1 -4l-2 -1.9z"/>
<path color="#ac0709" d="M267.2 184.4l2 1.7l-2.1 -4.1l-2 -1.6z"/>
<path color="#aa090a" d="M265.2 183l2 1.4l-2.1 -4l-2 -1.5z"/>
<path color="#a60c0b" d="M263.2 181.8l2 1.2l-2.1 -4.1l-2 -1.2z"/>
<path color="#a41110" d="M261.1 180.8l2.1 1l-2.1 -4.1l-2.1 -1z"/>
<path color="#a51615" d="M259.1 180.1l2 0.7l-2.1 -4.1l-2 -0.8z"/>
<path color="#a61a1a" d="M257.1 179.5l2 0.6l-2.1 -4.2l-2 -0.5z"/>
<path color="#a51d1e" d="M255.1 179.2l2 0.3l-2.1 -4.1l-2 -0.3z"/>
<path color="#a21e1f" d="M253.1 179.1l2 0.1l-2.1 -4.1l-2 -0.1z"/>
<path color="#a22324" d="M251.1 179.3l2 -0.2l-2.1 -4.1l-2 0.1z"/>
<path color="#a92f30" d="M249 179.6l2.1 -0.3l-2.1 -4.2l-2.1 0.4z"/>
<path color="#ae3738" d="M247 180.2l2 -0.6l-2.1 -4.1l-2 0.5z"/>
<path color="#b33b3c" d="M245 181l2 -0.8l-2.1 -4.2l-2 0.8z"/>
<path color="#b43939" d="M243 182l2 -1l-2.1 -4.2l-2 1.1z"/>
<path color="#b3302f" d="M241 183.2l2 -1.2l-2.1 -4.1l-2 1.2z"/>
<path color="#b32524" d="M239 184.7l2 -1.5l-2.1 -4.1l-2 1.5z"/>
<path color="#b71d1d" d="M236.9 186.3l2.1 -1.6l-2.1 -4.1l-2.1 1.7z"/>
<path color="#bd1819" d="M234.9 188.2l2 -1.9l-2.1 -4l-2 1.9z"/>
<path color="#c21314" d="M232.9 190.3l2 -2.1l-2.1 -4l-2 2.1z"/>
<path color="#ca1011" d="M230.9 192.7l2 -2.4l-2.1 -4l-2 2.4z"/>
<path color="#d30d0e" d="M228.9 195.2l2 -2.5l-2.1 -4l-2 2.6z"/>
<path color="#db0b0b" d="M226.9 198l2 -2.8l-2.1 -3.9l-2 2.8z"/>
<path color="#e50808" d="M224.8 201l2.1 -3l-2.1 -3.9l-2.1 3z"/>
<path color="#f20506" d="M222.8 204.2l2 -3.2l-2.1 -3.9l-2 3.2z"/>
<path color="#f90d0a" d="M220.8 207.6l2 -3.4l-2.1 -3.9l-2 3.5z"/>
<path color="#fa2317" d="M218.8 211.2l2 -3.6l-2.1 -3.8l-2 3.7z"/>
<path color="#f93d24" d="M216.8 215.1l2 -3.9l-2.1 -3.7l-2 3.9z"/>
<path color="#f94d27" d="M214.8 219.1l2 -4l-2.1 -3.7l-2 4.1z"/>
<path color="#fa5420" d="M212.7 223.4l2.1 -4.3l-2.1 -3.6l-2.1 4.3z"/>
<path color="#fb5f19" d="M210.7 227.9l2 -4.5l-2.1 -3.6l-2 4.5z"/>
<path color="#fc6d14" d="M208.7 232.6l2 -4.7l-2.1 -3.6l-2 4.8z"/>
<path color="#fd7d11" d="M206.7 237.5l2 -4.9l-2.1 -3.5l-2 5z"/>
<path color="#fe8f10" d="M204.7 242.6l2 -5.1l-2.1 -3.4l-2 5.2z"/>
<path color="#fea20e" d="M202.7 248l2 -5.4l-2.1 -3.3l-2 5.4z"/>
<path color="#fdb509" d="M200.6 253.5l2.1 -5.5l-2.1 -3.3l-2.1 5.6z"/>
<path color="#fdca05" d="M198.6 259.3l2 -5.8l-2.1 -3.2l-2 5.8z"/>
<path color="#fee004" d="M196.6 265.3l2 -6l-2.1 -3.2l-2 6.1z"/>
<path color="#fbf607" d="M194.6 271.5l2 -6.2l-2.1 -3.1l-2 6.3z"/>
<path color="#ebfe14" d="M192.6 278l2 -6.5l-2.1 -3l-2 6.5z"/>
<path color="#d1fe2f" d="M190.6 284.6l2 -6.6l-2.1 -3l-2 6.7z"/>
<path color="#b7fe49" d="M188.5 291.5l2.1 -6.9l-2.1 -2.9l-2.1 7z"/>
<path color="#9cfe64" d="M186.5 298.6l2 -7.1l-2.1 -2.8l-2 7.2z"/>
<path color="#7ffe81" d="M184.5 306l2 -7.4l-2.1 -2.7l-2 7.5z"/>
<path color="#61ff9e" d="M182.5 313.6l2 -7.6l-2.1 -2.6l-2 7.7z"/>
<path color="#3effc0" d="M180.5 321.5l2 -7.9l-2.1 -2.5l-2 8z"/>
<path color="#1ffedf" d="M178.5 329.7l2 -8.2l-2.1 -2.4l-2 8.3z"/>
<path color="#06fafa" d="M176.4 338.2l2.1 -8.5l-2.1 -2.3l-2.1 8.6z"/>
<path color="#03dcfd" d="M174.4 347.1l2 -8.9l-2.1 -2.2l-2 9z"/>
<path color="#03b7fd" d="M172.4 356.3l2 -9.2l-2.1 -2.1l-2 9.3z"/>
<path color="#028ffd" d="M170.4 366l2 -9.7l-2.1 -2l-2 9.9z"/>
<path color="#0369fc" d="M168.4 376.2l2 -10.2l-2.1 -1.8l-2 10.3z"/>
<path color="#023ffd" d="M166.4 387.2l2 -11l-2.1 -1.7l-2 11.1z"/>
<path color="#0213f9" d="M164.3 399.1l2.1 -11.9l-2.1 -1.6l-2.1 12.1z"/>
<path color="#0102d3" d="M162.3 412.8l2 -13.7l-2.1 -1.4l-2 13.8z"/>
<path color="#020290" d="M160.3 432.7l2 -19.9l-2.1 -1.3l-2 20.2z"/>
<path color="#f1260e" d="M289.5 214.8l2 3.7l-2.1 -4.1l-2 -3.8z"/>
<path color="#f0180e" d="M287.4 211.2l2.1 3.6l-2.1 -4.2l-2.1 -3.6z"/>
<path color="#ed100e" d="M285.4 207.9l2 3.3l-2.1 -4.2l-2 -3.4z"/>
<path color="#e90b0b" d="M283.4 204.8l2 3.1l-2.1 -4.3l-2 -3.1z"/>
<path color="#e60809" d="M281.4 201.9l2 2.9l-2.1 -4.3l-2 -3z"/>
<path color="#de0709" d="M279.4 199.2l2 2.7l-2.1 -4.4l-2 -2.7z"/>
<path color="#d40708" d="M277.4 196.7l2 2.5l-2.1 -4.4l-2 -2.5z"/>
<path color="#cb0707" d="M275.3 194.5l2.1 2.2l-2.1 -4.4l-2.1 -2.3z"/>
<path color="#c50606" d="M273.3 192.4l2 2.1l-2.1 -4.5l-2 -2.1z"/>
<path color="#c10506" d="M271.3 190.6l2 1.8l-2.1 -4.5l-2 -1.8z"/>
<path color="#bb0506" d="M269.3 189l2 1.6l-2.1 -4.5l-2 -1.7z"/>
<path color="#b60707" d="M267.3 187.6l2 1.4l-2.1 -4.6l-2 -1.4z"/>
<path color="#b50b0b" d="M265.3 186.4l2 1.2l-2.1 -4.6l-2 -1.2z"/>
<path color="#b21210" d="M263.2 185.5l2.1 0.9l-2.1 -4.6l-2.1 -1z"/>
<path color="#b01b17" d="M261.2 184.7l2 0.8l-2.1 -4.7l-2 -0.7z"/>
<path color="#b12320" d="M259.2 184.2l2 0.5l-2.1 -4.6l-2 -0.6z"/>
<path color="#b22626" d="M257.2 183.9l2 0.3l-2.1 -4.7l-2 -0.3z"/>
<path color="#b2292a" d="M255.2 183.8l2 0.1l-2.1 -4.7l-2 -0.1z"/>
<path color="#b22e2f" d="M253.2 183.9l2 -0.1l-2.1 -4.7l-2 0.2z"/>
<path color="#b63838" d="M251.1 184.3l2.1 -0.4l-2.1 -4.6l-2.1 0.3z"/>
<path color="#bb4041" d="M249.1 184.8l2 -0.5l-2.1 -4.7l-2 0.6z"/>
<path color="#be4545" d="M247.1 185.6l2 -0.8l-2.1 -4.6l-2 0.8z"/>
<path color="#c04343" d="M245.1 186.6l2 -1l-2.1 -4.6l-2 1z"/>
<path color="#c03b3b" d="M243.1 187.8l2 -1.2l-2.1 -4.6l-2 1.2z"/>
<path color="#c23030" d="M241.1 189.3l2 -1.5l-2.1 -4.6l-2 1.5z"/>
<path color="#c62828" d="M239 190.9l2.1 -1.6l-2.1 -4.6l-2.1 1.6z"/>
<path color="#ca2323" d="M237 192.8l2 -1.9l-2.1 -4.6l-2 1.9z"/>
<path color="#ce1e1e" d="M235 194.9l2 -2.1l-2.1 -4.6l-2 2.1z"/>
<path color="#d41817" d="M233 197.2l2 -2.3l-2.1 -4.6l-2 2.4z"/>
<path color="#de1414" d="M231 199.7l2 -2.5l-2.1 -4.5l-2 2.5z"/>
<path color="#e81212" d="M229 202.4l2 -2.7l-2.1 -4.5l-2 2.8z"/>
<path color="#f00f0e" d="M226.9 205.3l2.1 -2.9l-2.1 -4.4l-2.1 3z"/>
<path color="#f80e0b" d="M224.9 208.5l2 -3.2l-2.1 -4.3l-2 3.2z"/>
<path color="#fa190e" d="M222.9 211.9l2 -3.4l-2.1 -4.3l-2 3.4z"/>
<path color="#fa331d" d="M220.9 215.5l2 -3.6l-2.1 -4.3l-2 3.6z"/>
<path color="#f94c2a" d="M218.9 219.2l2 -3.7l-2.1 -4.3l-2 3.9z"/>
<path color="#f95b2d" d="M216.9 223.2l2 -4l-2.1 -4.1l-2 4z"/>
<path color="#f9672a" d="M214.8 227.5l2.1 -4.3l-2.1 -4.1l-2.1 4.3z"/>
<path color="#fa6f20" d="M212.8 231.9l2 -4.4l-2.1 -4.1l-2 4.5z"/>
<path color="#fb7a1a" d="M210.8 236.5l2 -4.6l-2.1 -4l-2 4.7z"/>
<path color="#fc8916" d="M208.8 241.4l2 -4.9l-2.1 -3.9l-2 4.9z"/>
<path color="#fd9a16" d="M206.8 246.4l2 -5l-2.1 -3.9l-2 5.1z"/>
<path color="#fead14" d="M204.8 251.7l2 -5.3l-2.1 -3.8l-2 5.4z"/>
<path color="#fec00e" d="M202.7 257.2l2.1 -5.5l-2.1 -3.7l-2.1 5.5z"/>
<path color="#fdd40a" d="M200.7 262.8l2 -5.6l-2.1 -3.7l-2 5.8z"/>
<path color="#fde909" d="M198.7 268.8l2 -6l-2.1 -3.5l-2 6z"/>
<path color="#f9fb0b" d="M196.7 274.9l2 -6.1l-2.1 -3.5l-2 6.2z"/>
<path color="#e4fe1e" d="M194.7 281.2l2 -6.3l-2.1 -3.4l-2 6.5z"/>
<path color="#cbfe36" d="M192.7 287.8l2 -6.6l-2.1 -3.2l-2 6.6z"/>
<path color="#b0fe4f" d="M190.6 294.6l2.1 -6.8l-2.1 -3.2l-2.1 6.9z"/>
<path color="#95fe69" d="M188.6 301.6l2 -7l-2.1 -3.1l-2 7.1z"/>
<path color="#79fe86" d="M186.6 308.9l2 -7.3l-2.1 -3l-2 7.4z"/>
<path color="#5affa5" d="M184.6 316.4l2 -7.5l-2.1 -2.9l-2 7.6z"/>
<path color="#39ffc6" d="M182.6 324.2l2 -7.8l-2.1 -2.8l-2 7.9z"/>
<path color="#1bfee5" d="M180.6 332.2l2 -8l-2.1 -2.7l-2 8.2z"/>
<path color="#04f7fb" d="M178.5 340.6l2.1 -8.4l-2.1 -2.5l-2.1 8.5z"/>
<path color="#02d6fc" d="M176.5 349.3l2 -8.7l-2.1 -2.4l-2 8.9z"/>
<path color="#01b2fd" d="M174.5 358.4l2 -9.1l-2.1 -2.2l-2 9.2z"/>
<path color="#028efd" d="M172.5 368l2 -9.6l-2.1 -2.1l-2 9.7z"/>
<path color="#0264fb" d="M170.5 378.1l2 -10.1l-2.1 -2l-2 10.2z"/>
<path color="#023efd" d="M168.5 388.9l2 -10.8l-2.1 -1.9l-2 11z"/>
<path color="#0212f9" d="M166.4 400.6l2.1 -11.7l-2.1 -1.7l-2.1 11.9z"/>
<path color="#0102cf" d="M164.4 414.1l2 -13.5l-2.1 -1.5l-2 13.7z"/>
<path color="#020190" d="M162.4 433.8l2 -19.7l-2.1 -1.3l-2 19.9z"/>
<path color="#f2470f" d="M293.6 223l2 3.9l-2.1 -4.4l-2 -4z"/>
<path color="#f32c0b" d="M289.5 215.9l2 3.5l-2 -4.6l-2.1 -3.6z"/>
<path color="#f11f0d" d="M287.5 212.6l2 3.3l-2.1 -4.7l-2 -3.3z"/>
<path color="#f1150c" d="M285.5 209.6l2 3l-2.1 -4.7l-2 -3.1z"/>
<path color="#ef0d0a" d="M283.5 206.7l2 2.9l-2.1 -4.8l-2 -2.9z"/>
<path color="#ed0807" d="M281.5 204.1l2 2.6l-2.1 -4.8l-2 -2.7z"/>
<path color="#e70606" d="M279.4 201.6l2.1 2.5l-2.1 -4.9l-2 -2.5z"/>
<path color="#df0506" d="M277.4 199.4l2 2.2l-2 -4.9l-2.1 -2.2z"/>
<path color="#d70506" d="M275.4 197.4l2 2l-2.1 -4.9l-2 -2.1z"/>
<path color="#d20506" d="M273.4 195.6l2 1.8l-2.1 -5l-2 -1.8z"/>
<path color="#cd0607" d="M271.4 194l2 1.6l-2.1 -5l-2 -1.6z"/>
<path color="#c80809" d="M269.4 192.7l2 1.3l-2.1 -5l-2 -1.4z"/>
<path color="#c50d0d" d="M267.3 191.5l2.1 1.2l-2.1 -5.1l-2 -1.2z"/>
<path color="#c21413" d="M265.3 190.6l2 0.9l-2 -5.1l-2.1 -0.9z"/>
<path color="#c01c1b" d="M263.3 189.8l2 0.8l-2.1 -5.1l-2 -0.8z"/>
<path color="#c02423" d="M261.3 189.3l2 0.5l-2.1 -5.1l-2 -0.5z"/>
<path color="#bf2929" d="M259.3 189l2 0.3l-2.1 -5.1l-2 -0.3z"/>
<path color="#bd2b2d" d="M257.3 188.9l2 0.1l-2.1 -5.1l-2 -0.1z"/>
<path color="#bd3133" d="M255.2 189.1l2.1 -0.2l-2.1 -5.1l-2 0.1z"/>
<path color="#c03c3d" d="M253.2 189.4l2 -0.3l-2 -5.2l-2.1 0.4z"/>
<path color="#c54646" d="M251.2 190l2 -0.6l-2.1 -5.1l-2 0.5z"/>
<path color="#c94a4b" d="M249.2 190.7l2 -0.7l-2.1 -5.2l-2 0.8z"/>
<path color="#cb4748" d="M247.2 191.7l2 -1l-2.1 -5.1l-2 1z"/>
<path color="#cc3e40" d="M245.2 192.9l2 -1.2l-2.1 -5.1l-2 1.2z"/>
<path color="#ce3537" d="M243.1 194.3l2.1 -1.4l-2.1 -5.1l-2 1.5z"/>
<path color="#d13031" d="M241.1 196l2 -1.7l-2 -5l-2.1 1.6z"/>
<path color="#d42c2c" d="M239.1 197.8l2 -1.8l-2.1 -5.1l-2 1.9z"/>
<path color="#d92726" d="M237.1 199.8l2 -2l-2.1 -5l-2 2.1z"/>
<path color="#e12020" d="M235.1 202.1l2 -2.3l-2.1 -4.9l-2 2.3z"/>
<path color="#ea1d1c" d="M233.1 204.6l2 -2.5l-2.1 -4.9l-2 2.5z"/>
<path color="#f11c1a" d="M231 207.3l2.1 -2.7l-2.1 -4.9l-2 2.7z"/>
<path color="#f61c15" d="M229 210.2l2 -2.9l-2 -4.9l-2.1 2.9z"/>
<path color="#f91f11" d="M227 213.3l2 -3.1l-2.1 -4.9l-2 3.2z"/>
<path color="#f82b12" d="M225 216.6l2 -3.3l-2.1 -4.8l-2 3.4z"/>
<path color="#f7411e" d="M223 220.1l2 -3.5l-2.1 -4.7l-2 3.6z"/>
<path color="#f8582b" d="M221 223.8l2 -3.7l-2.1 -4.6l-2 3.7z"/>
<path color="#f86932" d="M218.9 227.8l2.1 -4l-2.1 -4.6l-2 4z"/>
<path color="#fa752f" d="M216.9 231.9l2 -4.1l-2 -4.6l-2.1 4.3z"/>
<path color="#fa7d27" d="M214.9 236.3l2 -4.4l-2.1 -4.4l-2 4.4z"/>
<path color="#fb8820" d="M212.9 240.8l2 -4.5l-2.1 -4.4l-2 4.6z"/>
<path color="#fc981e" d="M210.9 245.6l2 -4.8l-2.1 -4.3l-2 4.9z"/>
<path color="#fca91e" d="M208.9 250.6l2 -5l-2.1 -4.2l-2 5z"/>
<path color="#fdba18" d="M206.8 255.7l2.1 -5.1l-2.1 -4.2l-2 5.3z"/>
<path color="#fecc14" d="M204.8 261.1l2 -5.4l-2 -4l-2.1 5.5z"/>
<path color="#fddf11" d="M202.8 266.7l2 -5.6l-2.1 -3.9l-2 5.6z"/>
<path color="#fcf30e" d="M200.8 272.5l2 -5.8l-2.1 -3.9l-2 6z"/>
<path color="#f1fe14" d="M198.8 278.5l2 -6l-2.1 -3.7l-2 6.1z"/>
<path color="#dbfe29" d="M196.8 284.8l2 -6.3l-2.1 -3.6l-2 6.3z"/>
<path color="#c2ff40" d="M194.7 291.2l2.1 -6.4l-2.1 -3.6l-2 6.6z"/>
<path color="#a9ff57" d="M192.7 297.9l2 -6.7l-2 -3.4l-2.1 6.8z"/>
<path color="#8cfe73" d="M190.7 304.8l2 -6.9l-2.1 -3.3l-2 7z"/>
<path color="#72fe8d" d="M188.7 312l2 -7.2l-2.1 -3.2l-2 7.3z"/>
<path color="#54feab" d="M186.7 319.3l2 -7.3l-2.1 -3.1l-2 7.5z"/>
<path color="#35fecb" d="M184.7 327l2 -7.7l-2.1 -2.9l-2 7.8z"/>
<path color="#16fee9" d="M182.6 334.9l2.1 -7.9l-2.1 -2.8l-2 8z"/>
<path color="#02f1fb" d="M180.6 343.2l2 -8.3l-2 -2.7l-2.1 8.4z"/>
<path color="#02d1fd" d="M178.6 351.8l2 -8.6l-2.1 -2.6l-2 8.7z"/>
<path color="#02b0fd" d="M176.6 360.7l2 -8.9l-2.1 -2.5l-2 9.1z"/>
<path color="#028afc" d="M174.6 370.1l2 -9.4l-2.1 -2.3l-2 9.6z"/>
<path color="#0261fb" d="M172.6 380l2 -9.9l-2.1 -2.1l-2 10.1z"/>
<path color="#0238fc" d="M170.5 390.6l2.1 -10.6l-2.1 -1.9l-2 10.8z"/>
<path color="#0210fa" d="M168.5 402.2l2 -11.6l-2 -1.7l-2.1 11.7z"/>
<path color="#0102cd" d="M166.5 415.4l2 -13.2l-2.1 -1.6l-2 13.5z"/>
<path color="#010190" d="M164.5 434.8l2 -19.4l-2.1 -1.3l-2 19.7z"/>
<path color="#f57c15" d="M299.7 235.8l2 4.2l-2.1 -4.7l-2 -4.3z"/>
<path color="#f36b12" d="M297.7 231.8l2 4l-2.1 -4.8l-2 -4.1z"/>
<path color="#f05a12" d="M295.6 227.9l2.1 3.9l-2.1 -4.9l-2 -3.9z"/>
<path color="#f1500f" d="M293.6 224.3l2 3.6l-2 -4.9l-2.1 -3.6z"/>
<path color="#f33d0d" d="M291.6 220.9l2 3.4l-2.1 -4.9l-2 -3.5z"/>
<path color="#f4300b" d="M289.6 217.7l2 3.2l-2.1 -5l-2 -3.3z"/>
<path color="#f4240b" d="M287.6 214.7l2 3l-2.1 -5.1l-2 -3z"/>
<path color="#f4160a" d="M285.6 211.9l2 2.8l-2.1 -5.1l-2 -2.9z"/>
<path color="#f30e08" d="M283.5 209.4l2.1 2.5l-2.1 -5.2l-2 -2.6z"/>
<path color="#f30806" d="M281.5 207l2 2.4l-2 -5.3l-2.1 -2.5z"/>
<path color="#ee0605" d="M279.5 204.8l2 2.2l-2.1 -5.4l-2 -2.2z"/>
<path color="#e90605" d="M277.5 202.8l2 2l-2.1 -5.4l-2 -2z"/>
<path color="#e30607" d="M275.5 201.1l2 1.7l-2.1 -5.4l-2 -1.8z"/>
<path color="#de080a" d="M273.5 199.5l2 1.6l-2.1 -5.5l-2 -1.6z"/>
<path color="#da0d0e" d="M271.4 198.2l2.1 1.3l-2.1 -5.5l-2 -1.3z"/>
<path color="#d71314" d="M269.4 197.1l2 1.1l-2 -5.5l-2.1 -1.2z"/>
<path color="#d51a1a" d="M267.4 196.1l2 1l-2.1 -5.6l-2 -0.9z"/>
<path color="#d22020" d="M265.4 195.4l2 0.7l-2.1 -5.5l-2 -0.8z"/>
<path color="#d02727" d="M263.4 194.9l2 0.5l-2.1 -5.6l-2 -0.5z"/>
<path color="#ce2d2d" d="M261.4 194.6l2 0.3l-2.1 -5.6l-2 -0.3z"/>
<path color="#cd3232" d="M259.3 194.5l2.1 0.1l-2.1 -5.6l-2 -0.1z"/>
<path color="#cc3939" d="M257.3 194.7l2 -0.2l-2 -5.6l-2.1 0.2z"/>
<path color="#cf4444" d="M255.3 195l2 -0.3l-2.1 -5.6l-2 0.3z"/>
<path color="#d14c4c" d="M253.3 195.6l2 -0.6l-2.1 -5.6l-2 0.6z"/>
<path color="#d24c4d" d="M251.3 196.3l2 -0.7l-2.1 -5.6l-2 0.7z"/>
<path color="#d44748" d="M249.3 197.3l2 -1l-2.1 -5.6l-2 1z"/>
<path color="#d64141" d="M247.2 198.5l2.1 -1.2l-2.1 -5.6l-2 1.2z"/>
<path color="#d73b3a" d="M245.2 199.8l2 -1.3l-2 -5.6l-2.1 1.4z"/>
<path color="#db3535" d="M243.2 201.4l2 -1.6l-2.1 -5.5l-2 1.7z"/>
<path color="#df3131" d="M241.2 203.2l2 -1.8l-2.1 -5.4l-2 1.8z"/>
<path color="#e52b2b" d="M239.2 205.3l2 -2.1l-2.1 -5.4l-2 2z"/>
<path color="#ec2626" d="M237.2 207.5l2 -2.2l-2.1 -5.5l-2 2.3z"/>
<path color="#f02623" d="M235.1 209.9l2.1 -2.4l-2.1 -5.4l-2 2.5z"/>
<path color="#f32a21" d="M233.1 212.5l2 -2.6l-2 -5.3l-2.1 2.7z"/>
<path color="#f6301d" d="M231.1 215.4l2 -2.9l-2.1 -5.2l-2 2.9z"/>
<path color="#f83419" d="M229.1 218.4l2 -3l-2.1 -5.2l-2 3.1z"/>
<path color="#f73f19" d="M227.1 221.7l2 -3.3l-2.1 -5.1l-2 3.3z"/>
<path color="#f85423" d="M225.1 225.1l2 -3.4l-2.1 -5.1l-2 3.5z"/>
<path color="#f9652c" d="M223 228.8l2.1 -3.7l-2.1 -5l-2 3.7z"/>
<path color="#fa7532" d="M221 232.7l2 -3.9l-2 -5l-2.1 4z"/>
<path color="#fa8232" d="M219 236.7l2 -4l-2.1 -4.9l-2 4.1z"/>
<path color="#fa8c2c" d="M217 241l2 -4.3l-2.1 -4.8l-2 4.4z"/>
<path color="#fb9727" d="M215 245.5l2 -4.5l-2.1 -4.7l-2 4.5z"/>
<path color="#fba827" d="M213 250.2l2 -4.7l-2.1 -4.7l-2 4.8z"/>
<path color="#fbb821" d="M210.9 255l2.1 -4.8l-2.1 -4.6l-2 5z"/>
<path color="#fcc61c" d="M208.9 260.1l2 -5.1l-2 -4.4l-2.1 5.1z"/>
<path color="#fdd71a" d="M206.9 265.4l2 -5.3l-2.1 -4.4l-2 5.4z"/>
<path color="#fdeb17" d="M204.9 270.9l2 -5.5l-2.1 -4.3l-2 5.6z"/>
<path color="#fafb17" d="M202.9 276.6l2 -5.7l-2.1 -4.2l-2 5.8z"/>
<path color="#e9fe21" d="M200.9 282.5l2 -5.9l-2.1 -4.1l-2 6z"/>
<path color="#d0fe38" d="M198.8 288.6l2.1 -6.1l-2.1 -4l-2 6.3z"/>
<path color="#b9ff4d" d="M196.8 294.9l2 -6.3l-2 -3.8l-2.1 6.4z"/>
<path color="#9fff64" d="M194.8 301.5l2 -6.6l-2.1 -3.7l-2 6.7z"/>
<path color="#85fe7e" d="M192.8 308.3l2 -6.8l-2.1 -3.6l-2 6.9z"/>
<path color="#6afe96" d="M190.8 315.3l2 -7l-2.1 -3.5l-2 7.2z"/>
<path color="#4cffb4" d="M188.8 322.5l2 -7.2l-2.1 -3.3l-2 7.3z"/>
<path color="#2efed2" d="M186.7 330l2.1 -7.5l-2.1 -3.2l-2 7.7z"/>
<path color="#0ffdef" d="M184.7 337.8l2 -7.8l-2 -3l-2.1 7.9z"/>
<path color="#02edfc" d="M182.7 345.9l2 -8.1l-2.1 -2.9l-2 8.3z"/>
<path color="#02cdfd" d="M180.7 354.3l2 -8.4l-2.1 -2.7l-2 8.6z"/>
<path color="#02a9fc" d="M178.7 363.1l2 -8.8l-2.1 -2.5l-2 8.9z"/>
<path color="#0284fc" d="M176.7 372.3l2 -9.2l-2.1 -2.4l-2 9.4z"/>
<path color="#025ffc" d="M174.6 382.1l2.1 -9.8l-2.1 -2.2l-2 9.9z"/>
<path color="#0234fc" d="M172.6 392.5l2 -10.4l-2 -2.1l-2.1 10.6z"/>
<path color="#010cf9" d="M170.6 403.8l2 -11.3l-2.1 -1.9l-2 11.6z"/>
<path color="#0102cf" d="M168.6 416.8l2 -13l-2.1 -1.6l-2 13.2z"/>
<path color="#010190" d="M166.6 435.8l2 -19l-2.1 -1.4l-2 19.4z"/>
<path color="#f19617" d="M303.7 245l2.1 4.3l-2.1 -4.9l-2 -4.4z"/>
<path color="#f48917" d="M301.7 240.9l2 4.1l-2 -5l-2 -4.2z"/>
<path color="#f57a14" d="M299.7 236.9l2 4l-2 -5.1l-2 -4z"/>
<path color="#f46b10" d="M297.7 233.2l2 3.7l-2 -5.1l-2.1 -3.9z"/>
<path color="#f25c0f" d="M295.7 229.7l2 3.5l-2.1 -5.3l-2 -3.6z"/>
<path color="#f34f0d" d="M293.7 226.4l2 3.3l-2.1 -5.4l-2 -3.4z"/>
<path color="#f5410a" d="M291.6 223.2l2.1 3.2l-2.1 -5.5l-2 -3.2z"/>
<path color="#f73408" d="M289.6 220.3l2 2.9l-2 -5.5l-2 -3z"/>
<path color="#f82907" d="M287.6 217.6l2 2.7l-2 -5.6l-2 -2.8z"/>
<path color="#f81f07" d="M285.6 215l2 2.6l-2 -5.7l-2.1 -2.5z"/>
<path color="#f81606" d="M283.6 212.7l2 2.3l-2.1 -5.6l-2 -2.4z"/>
<path color="#f80e05" d="M281.6 210.6l2 2.1l-2.1 -5.7l-2 -2.2z"/>
<path color="#f60905" d="M279.5 208.7l2.1 1.9l-2.1 -5.8l-2 -2z"/>
<path color="#f10907" d="M277.5 206.9l2 1.8l-2 -5.9l-2 -1.7z"/>
<path color="#eb0c0c" d="M275.5 205.4l2 1.5l-2 -5.8l-2 -1.6z"/>
<path color="#e71112" d="M273.5 204.1l2 1.3l-2 -5.9l-2.1 -1.3z"/>
<path color="#e4181a" d="M271.5 203l2 1.1l-2.1 -5.9l-2 -1.1z"/>
<path color="#e22121" d="M269.5 202.1l2 0.9l-2.1 -5.9l-2 -1z"/>
<path color="#e02828" d="M267.4 201.4l2.1 0.7l-2.1 -6l-2 -0.7z"/>
<path color="#de2e2d" d="M265.4 200.9l2 0.5l-2 -6l-2 -0.5z"/>
<path color="#da3232" d="M263.4 200.6l2 0.3l-2 -6l-2 -0.3z"/>
<path color="#d73637" d="M261.4 200.6l2 0l-2 -6l-2.1 -0.1z"/>
<path color="#d73e3e" d="M259.4 200.7l2 -0.1l-2.1 -6.1l-2 0.2z"/>
<path color="#da4848" d="M257.4 201l2 -0.3l-2.1 -6l-2 0.3z"/>
<path color="#dc4e4e" d="M255.3 201.6l2.1 -0.6l-2.1 -6l-2 0.6z"/>
<path color="#dd4d4d" d="M253.3 202.3l2 -0.7l-2 -6l-2 0.7z"/>
<path color="#df4a4a" d="M251.3 203.3l2 -1l-2 -6l-2 1z"/>
<path color="#e14544" d="M249.3 204.4l2 -1.1l-2 -6l-2.1 1.2z"/>
<path color="#e33f3e" d="M247.3 205.8l2 -1.4l-2.1 -5.9l-2 1.3z"/>
<path color="#e53b3a" d="M245.3 207.3l2 -1.5l-2.1 -6l-2 1.6z"/>
<path color="#e83735" d="M243.2 209.1l2.1 -1.8l-2.1 -5.9l-2 1.8z"/>
<path color="#ed3330" d="M241.2 211.1l2 -2l-2 -5.9l-2 2.1z"/>
<path color="#f0322c" d="M239.2 213.3l2 -2.2l-2 -5.8l-2 2.2z"/>
<path color="#f23427" d="M237.2 215.6l2 -2.3l-2 -5.8l-2.1 2.4z"/>
<path color="#f33b25" d="M235.2 218.2l2 -2.6l-2.1 -5.7l-2 2.6z"/>
<path color="#f54322" d="M233.2 221l2 -2.8l-2.1 -5.7l-2 2.9z"/>
<path color="#f6481f" d="M231.1 224l2.1 -3l-2.1 -5.6l-2 3z"/>
<path color="#f7511e" d="M229.1 227.2l2 -3.2l-2 -5.6l-2 3.3z"/>
<path color="#f75f20" d="M227.1 230.6l2 -3.4l-2 -5.5l-2 3.4z"/>
<path color="#f86f26" d="M225.1 234.2l2 -3.6l-2 -5.5l-2.1 3.7z"/>
<path color="#f7802e" d="M223.1 237.9l2 -3.7l-2.1 -5.4l-2 3.9z"/>
<path color="#f89235" d="M221.1 241.9l2 -4l-2.1 -5.2l-2 4z"/>
<path color="#f99b33" d="M219 246.1l2.1 -4.2l-2.1 -5.2l-2 4.3z"/>
<path color="#faa72d" d="M217 250.5l2 -4.4l-2 -5.1l-2 4.5z"/>
<path color="#fbb62b" d="M215 255.1l2 -4.6l-2 -5l-2 4.7z"/>
<path color="#fbc424" d="M213 259.8l2 -4.7l-2 -4.9l-2.1 4.8z"/>
<path color="#fdd321" d="M211 264.8l2 -5l-2.1 -4.8l-2 5.1z"/>
<path color="#fde41f" d="M209 270l2 -5.2l-2.1 -4.7l-2 5.3z"/>
<path color="#fcf61e" d="M206.9 275.4l2.1 -5.4l-2.1 -4.6l-2 5.5z"/>
<path color="#f4fd23" d="M204.9 280.9l2 -5.5l-2 -4.5l-2 5.7z"/>
<path color="#defe34" d="M202.9 286.7l2 -5.8l-2 -4.3l-2 5.9z"/>
<path color="#c6fe47" d="M200.9 292.7l2 -6l-2 -4.2l-2.1 6.1z"/>
<path color="#aefe5b" d="M198.9 298.9l2 -6.2l-2.1 -4.1l-2 6.3z"/>
<path color="#95fe73" d="M196.9 305.3l2 -6.4l-2.1 -4l-2 6.6z"/>
<path color="#7cfe89" d="M194.8 312l2.1 -6.7l-2.1 -3.8l-2 6.8z"/>
<path color="#61fea1" d="M192.8 318.8l2 -6.8l-2 -3.7l-2 7z"/>
<path color="#43febd" d="M190.8 325.9l2 -7.1l-2 -3.5l-2 7.2z"/>
<path color="#24feda" d="M188.8 333.3l2 -7.4l-2 -3.4l-2.1 7.5z"/>
<path color="#09fcf5" d="M186.8 340.9l2 -7.6l-2.1 -3.3l-2 7.8z"/>
<path color="#02e7fd" d="M184.8 348.8l2 -7.9l-2.1 -3.1l-2 8.1z"/>
<path color="#02c5fd" d="M182.7 357l2.1 -8.2l-2.1 -2.9l-2 8.4z"/>
<path color="#02a2fc" d="M180.7 365.6l2 -8.6l-2 -2.7l-2 8.8z"/>
<path color="#0280fd" d="M178.7 374.7l2 -9.1l-2 -2.5l-2 9.2z"/>
<path color="#035bfc" d="M176.7 384.2l2 -9.5l-2 -2.4l-2.1 9.8z"/>
<path color="#0231fd" d="M174.7 394.4l2 -10.2l-2.1 -2.1l-2 10.4z"/>
<path color="#0208f8" d="M172.7 405.5l2 -11.1l-2.1 -1.9l-2 11.3z"/>
<path color="#0001cf" d="M170.6 418.2l2.1 -12.7l-2.1 -1.7l-2 13z"/>
<path color="#010190" d="M168.6 436.7l2 -18.5l-2 -1.4l-2 19z"/>
<path color="#f4d817" d="M311.8 263.5l2.1 4.8l-2.1 -4.8l-2 -5z"/>
<path color="#f3ba14" d="M307.8 254.5l2 4.4l-2 -5.1l-2 -4.5z"/>
<path color="#f0a814" d="M305.8 250.3l2 4.2l-2 -5.2l-2.1 -4.3z"/>
<path color="#f19c14" d="M303.8 246.3l2 4l-2.1 -5.3l-2 -4.1z"/>
<path color="#f58b15" d="M301.8 242.5l2 3.8l-2.1 -5.4l-2 -4z"/>
<path color="#f67911" d="M299.7 238.8l2.1 3.7l-2.1 -5.6l-2 -3.7z"/>
<path color="#f66d0d" d="M297.7 235.4l2 3.4l-2 -5.6l-2 -3.5z"/>
<path color="#f5610b" d="M295.7 232.1l2 3.3l-2 -5.7l-2 -3.3z"/>
<path color="#f5540a" d="M293.7 229.1l2 3l-2 -5.7l-2.1 -3.2z"/>
<path color="#f74707" d="M291.7 226.2l2 2.9l-2.1 -5.9l-2 -2.9z"/>
<path color="#f93b05" d="M289.7 223.6l2 2.6l-2.1 -5.9l-2 -2.7z"/>
<path color="#fb3104" d="M287.6 221.1l2.1 2.5l-2.1 -6l-2 -2.6z"/>
<path color="#fb2704" d="M285.6 218.8l2 2.3l-2 -6.1l-2 -2.3z"/>
<path color="#fb1f05" d="M283.6 216.8l2 2l-2 -6.1l-2 -2.1z"/>
<path color="#fb1906" d="M281.6 214.9l2 1.9l-2 -6.2l-2.1 -1.9z"/>
<path color="#fb1609" d="M279.6 213.2l2 1.7l-2.1 -6.2l-2 -1.8z"/>
<path color="#f9160e" d="M277.6 211.7l2 1.5l-2.1 -6.3l-2 -1.5z"/>
<path color="#f41a16" d="M275.5 210.5l2.1 1.2l-2.1 -6.3l-2 -1.3z"/>
<path color="#f0211e" d="M273.5 209.4l2 1.1l-2 -6.4l-2 -1.1z"/>
<path color="#ec2825" d="M271.5 208.5l2 0.9l-2 -6.4l-2 -0.9z"/>
<path color="#e92f2d" d="M269.5 207.8l2 0.7l-2 -6.4l-2.1 -0.7z"/>
<path color="#e73533" d="M267.5 207.4l2 0.4l-2.1 -6.4l-2 -0.5z"/>
<path color="#e53938" d="M265.5 207.1l2 0.3l-2.1 -6.5l-2 -0.3z"/>
<path color="#e33d3d" d="M263.4 207l2.1 0.1l-2.1 -6.5l-2 0z"/>
<path color="#e34444" d="M261.4 207.1l2 -0.1l-2 -6.4l-2 0.1z"/>
<path color="#e54d4c" d="M259.4 207.5l2 -0.4l-2 -6.4l-2 0.3z"/>
<path color="#e55150" d="M257.4 208l2 -0.5l-2 -6.5l-2.1 0.6z"/>
<path color="#e6504e" d="M255.4 208.7l2 -0.7l-2.1 -6.4l-2 0.7z"/>
<path color="#e84d4c" d="M253.4 209.7l2 -1l-2.1 -6.4l-2 1z"/>
<path color="#ea4948" d="M251.3 210.8l2.1 -1.1l-2.1 -6.4l-2 1.1z"/>
<path color="#eb4542" d="M249.3 212.1l2 -1.3l-2 -6.4l-2 1.4z"/>
<path color="#ec433e" d="M247.3 213.6l2 -1.5l-2 -6.3l-2 1.5z"/>
<path color="#ee423a" d="M245.3 215.4l2 -1.8l-2 -6.3l-2.1 1.8z"/>
<path color="#f04435" d="M243.3 217.3l2 -1.9l-2.1 -6.3l-2 2z"/>
<path color="#f1442f" d="M241.3 219.4l2 -2.1l-2.1 -6.2l-2 2.2z"/>
<path color="#f2482a" d="M239.2 221.8l2.1 -2.4l-2.1 -6.1l-2 2.3z"/>
<path color="#f34f28" d="M237.2 224.3l2 -2.5l-2 -6.2l-2 2.6z"/>
<path color="#f55727" d="M235.2 227l2 -2.7l-2 -6.1l-2 2.8z"/>
<path color="#f75d24" d="M233.2 229.9l2 -2.9l-2 -6l-2.1 3z"/>
<path color="#f86220" d="M231.2 233l2 -3.1l-2.1 -5.9l-2 3.2z"/>
<path color="#f96d20" d="M229.2 236.3l2 -3.3l-2.1 -5.8l-2 3.4z"/>
<path color="#f97e26" d="M227.1 239.8l2.1 -3.5l-2.1 -5.7l-2 3.6z"/>
<path color="#f89131" d="M225.1 243.5l2 -3.7l-2 -5.6l-2 3.7z"/>
<path color="#f7a039" d="M223.1 247.4l2 -3.9l-2 -5.6l-2 4z"/>
<path color="#f9a934" d="M221.1 251.5l2 -4.1l-2 -5.5l-2.1 4.2z"/>
<path color="#fab52c" d="M219.1 255.8l2 -4.3l-2.1 -5.4l-2 4.4z"/>
<path color="#fcc42c" d="M217.1 260.3l2 -4.5l-2.1 -5.3l-2 4.6z"/>
<path color="#fdd228" d="M215 264.9l2.1 -4.6l-2.1 -5.2l-2 4.7z"/>
<path color="#fde225" d="M213 269.8l2 -4.9l-2 -5.1l-2 5z"/>
<path color="#fdf123" d="M211 274.9l2 -5.1l-2 -5l-2 5.2z"/>
<path color="#f9fc27" d="M209 280.1l2 -5.2l-2 -4.9l-2.1 5.4z"/>
<path color="#e8fe35" d="M207 285.6l2 -5.5l-2.1 -4.7l-2 5.5z"/>
<path color="#d2fe45" d="M205 291.2l2 -5.6l-2.1 -4.7l-2 5.8z"/>
<path color="#bbfe56" d="M202.9 297l2.1 -5.8l-2.1 -4.5l-2 6z"/>
<path color="#a5fe6b" d="M200.9 303.1l2 -6.1l-2 -4.3l-2 6.2z"/>
<path color="#8cfe80" d="M198.9 309.4l2 -6.3l-2 -4.2l-2 6.4z"/>
<path color="#73fe95" d="M196.9 315.8l2 -6.4l-2 -4.1l-2.1 6.7z"/>
<path color="#57fead" d="M194.9 322.6l2 -6.8l-2.1 -3.8l-2 6.8z"/>
<path color="#39ffc8" d="M192.9 329.5l2 -6.9l-2.1 -3.8l-2 7.1z"/>
<path color="#1affe4" d="M190.8 336.7l2.1 -7.2l-2.1 -3.6l-2 7.4z"/>
<path color="#05f9f9" d="M188.8 344.1l2 -7.4l-2 -3.4l-2 7.6z"/>
<path color="#02dffd" d="M186.8 351.8l2 -7.7l-2 -3.2l-2 7.9z"/>
<path color="#02befd" d="M184.8 359.9l2 -8.1l-2 -3l-2.1 8.2z"/>
<path color="#039dfd" d="M182.8 368.3l2 -8.4l-2.1 -2.9l-2 8.6z"/>
<path color="#027cfd" d="M180.8 377.1l2 -8.8l-2.1 -2.7l-2 9.1z"/>
<path color="#0256fd" d="M178.7 386.4l2.1 -9.3l-2.1 -2.4l-2 9.5z"/>
<path color="#022ffd" d="M176.7 396.3l2 -9.9l-2 -2.2l-2 10.2z"/>
<path color="#0206f8" d="M174.7 407.2l2 -10.9l-2 -1.9l-2 11.1z"/>
<path color="#0001cf" d="M172.7 419.6l2 -12.4l-2 -1.7l-2.1 12.7z"/>
<path color="#020191" d="M170.7 437.7l2 -18.1l-2.1 -1.4l-2 18.5z"/>
<path color="#f6e719" d="M313.9 268.8l2 4.7l-2 -5.2l-2.1 -4.8z"/>
<path color="#f5d716" d="M311.8 264.3l2.1 4.5l-2.1 -5.3l-2 -4.6z"/>
<path color="#f5cd15" d="M309.8 260l2 4.3l-2 -5.4l-2 -4.4z"/>
<path color="#f4bb12" d="M307.8 255.9l2 4.1l-2 -5.5l-2 -4.2z"/>
<path color="#f3ad11" d="M305.8 252l2 3.9l-2 -5.6l-2 -4z"/>
<path color="#f3a00f" d="M303.8 248.3l2 3.7l-2 -5.7l-2 -3.8z"/>
<path color="#f68e11" d="M301.8 244.7l2 3.6l-2 -5.8l-2.1 -3.7z"/>
<path color="#f77f0f" d="M299.7 241.4l2.1 3.3l-2.1 -5.9l-2 -3.4z"/>
<path color="#f9720a" d="M297.7 238.2l2 3.2l-2 -6l-2 -3.3z"/>
<path color="#f96707" d="M295.7 235.3l2 2.9l-2 -6.1l-2 -3z"/>
<path color="#f85b06" d="M293.7 232.5l2 2.8l-2 -6.2l-2 -2.9z"/>
<path color="#fa4f05" d="M291.7 229.9l2 2.6l-2 -6.3l-2 -2.6z"/>
<path color="#fb4404" d="M289.7 227.5l2 2.4l-2 -6.3l-2.1 -2.5z"/>
<path color="#fb3b05" d="M287.6 225.3l2.1 2.2l-2.1 -6.4l-2 -2.3z"/>
<path color="#fb3406" d="M285.6 223.3l2 2l-2 -6.5l-2 -2z"/>
<path color="#fa2f08" d="M283.6 221.5l2 1.8l-2 -6.5l-2 -1.9z"/>
<path color="#fa2d0d" d="M281.6 219.8l2 1.7l-2 -6.6l-2 -1.7z"/>
<path color="#fa2e14" d="M279.6 218.4l2 1.4l-2 -6.6l-2 -1.5z"/>
<path color="#f9301d" d="M277.6 217.2l2 1.2l-2 -6.7l-2.1 -1.2z"/>
<path color="#f73426" d="M275.5 216.1l2.1 1.1l-2.1 -6.7l-2 -1.1z"/>
<path color="#f5382e" d="M273.5 215.3l2 0.8l-2 -6.7l-2 -0.9z"/>
<path color="#f23d35" d="M271.5 214.6l2 0.7l-2 -6.8l-2 -0.7z"/>
<path color="#ef423b" d="M269.5 214.1l2 0.5l-2 -6.8l-2 -0.4z"/>
<path color="#ed443f" d="M267.5 213.9l2 0.2l-2 -6.7l-2 -0.3z"/>
<path color="#ed4943" d="M265.5 213.8l2 0.1l-2 -6.8l-2.1 -0.1z"/>
<path color="#ed4e48" d="M263.4 213.9l2.1 -0.1l-2.1 -6.8l-2 0.1z"/>
<path color="#ed534d" d="M261.4 214.3l2 -0.4l-2 -6.8l-2 0.4z"/>
<path color="#ec564f" d="M259.4 214.8l2 -0.5l-2 -6.8l-2 0.5z"/>
<path color="#ed5750" d="M257.4 215.5l2 -0.7l-2 -6.8l-2 0.7z"/>
<path color="#ee574f" d="M255.4 216.4l2 -0.9l-2 -6.8l-2 1z"/>
<path color="#ee564c" d="M253.4 217.5l2 -1.1l-2 -6.7l-2.1 1.1z"/>
<path color="#ee5446" d="M251.3 218.8l2.1 -1.3l-2.1 -6.7l-2 1.3z"/>
<path color="#ef5441" d="M249.3 220.3l2 -1.5l-2 -6.7l-2 1.5z"/>
<path color="#ef553c" d="M247.3 222l2 -1.7l-2 -6.7l-2 1.8z"/>
<path color="#ef5737" d="M245.3 223.9l2 -1.9l-2 -6.6l-2 1.9z"/>
<path color="#f15833" d="M243.3 226l2 -2.1l-2 -6.6l-2 2.1z"/>
<path color="#f25b2f" d="M241.3 228.2l2 -2.2l-2 -6.6l-2.1 2.4z"/>
<path color="#f3622e" d="M239.2 230.7l2.1 -2.5l-2.1 -6.4l-2 2.5z"/>
<path color="#f46a2d" d="M237.2 233.3l2 -2.6l-2 -6.4l-2 2.7z"/>
<path color="#f67129" d="M235.2 236.2l2 -2.9l-2 -6.3l-2 2.9z"/>
<path color="#f87825" d="M233.2 239.2l2 -3l-2 -6.3l-2 3.1z"/>
<path color="#fa8023" d="M231.2 242.4l2 -3.2l-2 -6.2l-2 3.3z"/>
<path color="#f98d27" d="M229.2 245.9l2 -3.5l-2 -6.1l-2.1 3.5z"/>
<path color="#f89f32" d="M227.1 249.5l2.1 -3.6l-2.1 -6.1l-2 3.7z"/>
<path color="#f9ad35" d="M225.1 253.3l2 -3.8l-2 -6l-2 3.9z"/>
<path color="#f8b52b" d="M223.1 257.2l2 -3.9l-2 -5.9l-2 4.1z"/>
<path color="#fac42e" d="M221.1 261.4l2 -4.2l-2 -5.7l-2 4.3z"/>
<path color="#fcd232" d="M219.1 265.8l2 -4.4l-2 -5.6l-2 4.5z"/>
<path color="#fce02f" d="M217.1 270.3l2 -4.5l-2 -5.5l-2.1 4.6z"/>
<path color="#fdef2a" d="M215 275.1l2.1 -4.8l-2.1 -5.4l-2 4.9z"/>
<path color="#fbfb2a" d="M213 280l2 -4.9l-2 -5.3l-2 5.1z"/>
<path color="#eefe36" d="M211 285.1l2 -5.1l-2 -5.1l-2 5.2z"/>
<path color="#dafe46" d="M209 290.4l2 -5.3l-2 -5l-2 5.5z"/>
<path color="#c6fe55" d="M207 295.9l2 -5.5l-2 -4.8l-2 5.6z"/>
<path color="#b1fe66" d="M205 301.6l2 -5.7l-2 -4.7l-2.1 5.8z"/>
<path color="#9bfd7a" d="M202.9 307.5l2.1 -5.9l-2.1 -4.6l-2 6.1z"/>
<path color="#83fe8c" d="M200.9 313.6l2 -6.1l-2 -4.4l-2 6.3z"/>
<path color="#69fea2" d="M198.9 319.9l2 -6.3l-2 -4.2l-2 6.4z"/>
<path color="#4efeb9" d="M196.9 326.5l2 -6.6l-2 -4.1l-2 6.8z"/>
<path color="#30fed4" d="M194.9 333.2l2 -6.7l-2 -3.9l-2 6.9z"/>
<path color="#14feed" d="M192.9 340.2l2 -7l-2 -3.7l-2.1 7.2z"/>
<path color="#03f2fb" d="M190.8 347.5l2.1 -7.3l-2.1 -3.5l-2 7.4z"/>
<path color="#03d5fd" d="M188.8 355l2 -7.5l-2 -3.4l-2 7.7z"/>
<path color="#02b7fd" d="M186.8 362.9l2 -7.9l-2 -3.2l-2 8.1z"/>
<path color="#0296fd" d="M184.8 371l2 -8.1l-2 -3l-2 8.4z"/>
<path color="#0275fc" d="M182.8 379.6l2 -8.6l-2 -2.7l-2 8.8z"/>
<path color="#0351fd" d="M180.8 388.7l2 -9.1l-2 -2.5l-2.1 9.3z"/>
<path color="#032bfc" d="M178.7 398.4l2.1 -9.7l-2.1 -2.3l-2 9.9z"/>
<path color="#0106f8" d="M176.7 409l2 -10.6l-2 -2.1l-2 10.9z"/>
<path color="#0101ce" d="M174.7 421l2 -12l-2 -1.8l-2 12.4z"/>
<path color="#020291" d="M172.7 438.7l2 -17.7l-2 -1.4l-2 18.1z"/>
<path color="#e0fb34" d="M319.9 283.6l2 4.9l-2 -5.1l-2 -5.1z"/>
<path color="#eefb27" d="M317.9 278.8l2 4.8l-2 -5.3l-2 -4.8z"/>
<path color="#f6f71a" d="M315.9 274.3l2 4.5l-2 -5.3l-2 -4.7z"/>
<path color="#f7ea16" d="M313.8 270l2.1 4.3l-2 -5.5l-2.1 -4.5z"/>
<path color="#f6de15" d="M311.8 265.8l2 4.2l-2 -5.7l-2 -4.3z"/>
<path color="#f6d012" d="M309.8 261.8l2 4l-2 -5.8l-2 -4.1z"/>
<path color="#f6bf10" d="M307.8 258l2 3.8l-2 -5.9l-2 -3.9z"/>
<path color="#f6b20d" d="M305.8 254.4l2 3.6l-2 -6l-2 -3.7z"/>
<path color="#f6a20b" d="M303.8 251l2 3.4l-2 -6.1l-2 -3.6z"/>
<path color="#f8950b" d="M301.7 247.7l2.1 3.3l-2 -6.3l-2.1 -3.3z"/>
<path color="#f9870b" d="M299.7 244.6l2 3.1l-2 -6.3l-2 -3.2z"/>
<path color="#fa7a08" d="M297.7 241.8l2 2.8l-2 -6.4l-2 -2.9z"/>
<path color="#fb6f05" d="M295.7 239.1l2 2.7l-2 -6.5l-2 -2.8z"/>
<path color="#fb6604" d="M293.7 236.5l2 2.6l-2 -6.6l-2 -2.6z"/>
<path color="#fb5b04" d="M291.7 234.2l2 2.3l-2 -6.6l-2 -2.4z"/>
<path color="#fb5205" d="M289.6 232.1l2.1 2.1l-2 -6.7l-2.1 -2.2z"/>
<path color="#fb4c09" d="M287.6 230.1l2 2l-2 -6.8l-2 -2z"/>
<path color="#fa480d" d="M285.6 228.4l2 1.7l-2 -6.8l-2 -1.8z"/>
<path color="#f94613" d="M283.6 226.8l2 1.6l-2 -6.9l-2 -1.7z"/>
<path color="#f9471a" d="M281.6 225.4l2 1.4l-2 -7l-2 -1.4z"/>
<path color="#f74b23" d="M279.6 224.2l2 1.2l-2 -7l-2 -1.2z"/>
<path color="#f44f2c" d="M277.5 223.2l2.1 1l-2 -7l-2.1 -1.1z"/>
<path color="#f25235" d="M275.5 222.4l2 0.8l-2 -7.1l-2 -0.8z"/>
<path color="#f0563c" d="M273.5 221.7l2 0.7l-2 -7.1l-2 -0.7z"/>
<path color="#ef5942" d="M271.5 221.3l2 0.4l-2 -7.1l-2 -0.5z"/>
<path color="#ee5d46" d="M269.5 221l2 0.3l-2 -7.2l-2 -0.2z"/>
<path color="#ee604a" d="M267.5 221l2 0l-2 -7.1l-2 -0.1z"/>
<path color="#ee654f" d="M265.4 221.1l2.1 -0.1l-2 -7.2l-2.1 0.1z"/>
<path color="#ee6751" d="M263.4 221.4l2 -0.3l-2 -7.2l-2 0.4z"/>
<path color="#ed6852" d="M261.4 221.9l2 -0.5l-2 -7.1l-2 0.5z"/>
<path color="#ee6a53" d="M259.4 222.6l2 -0.7l-2 -7.1l-2 0.7z"/>
<path color="#ee6b53" d="M257.4 223.5l2 -0.9l-2 -7.1l-2 0.9z"/>
<path color="#ee6c4f" d="M255.4 224.6l2 -1.1l-2 -7.1l-2 1.1z"/>
<path color="#ee6a49" d="M253.3 225.9l2.1 -1.3l-2 -7.1l-2.1 1.3z"/>
<path color="#ef6945" d="M251.3 227.3l2 -1.4l-2 -7.1l-2 1.5z"/>
<path color="#ef6a41" d="M249.3 229l2 -1.7l-2 -7l-2 1.7z"/>
<path color="#ef6c3e" d="M247.3 230.8l2 -1.8l-2 -7l-2 1.9z"/>
<path color="#f06e3a" d="M245.3 232.8l2 -2l-2 -6.9l-2 2.1z"/>
<path color="#f27134" d="M243.3 235l2 -2.2l-2 -6.8l-2 2.2z"/>
<path color="#f4762f" d="M241.2 237.4l2.1 -2.4l-2 -6.8l-2.1 2.5z"/>
<path color="#f67e2e" d="M239.2 240l2 -2.6l-2 -6.7l-2 2.6z"/>
<path color="#f6852c" d="M237.2 242.8l2 -2.8l-2 -6.7l-2 2.9z"/>
<path color="#f88c29" d="M235.2 245.7l2 -2.9l-2 -6.6l-2 3z"/>
<path color="#f99426" d="M233.2 248.9l2 -3.2l-2 -6.5l-2 3.2z"/>
<path color="#f89e28" d="M231.2 252.2l2 -3.3l-2 -6.5l-2 3.5z"/>
<path color="#f8ad2a" d="M229.1 255.7l2.1 -3.5l-2 -6.3l-2.1 3.6z"/>
<path color="#f9b928" d="M227.1 259.4l2 -3.7l-2 -6.2l-2 3.8z"/>
<path color="#fac62c" d="M225.1 263.2l2 -3.8l-2 -6.1l-2 3.9z"/>
<path color="#fbd538" d="M223.1 267.3l2 -4.1l-2 -6l-2 4.2z"/>
<path color="#fce238" d="M221.1 271.5l2 -4.2l-2 -5.9l-2 4.4z"/>
<path color="#fcef32" d="M219.1 276l2 -4.5l-2 -5.7l-2 4.5z"/>
<path color="#fbfa32" d="M217 280.6l2.1 -4.6l-2 -5.7l-2.1 4.8z"/>
<path color="#f1fe38" d="M215 285.4l2 -4.8l-2 -5.5l-2 4.9z"/>
<path color="#e1fe45" d="M213 290.3l2 -4.9l-2 -5.4l-2 5.1z"/>
<path color="#cefe55" d="M211 295.5l2 -5.2l-2 -5.2l-2 5.3z"/>
<path color="#bbfd65" d="M209 300.9l2 -5.4l-2 -5.1l-2 5.5z"/>
<path color="#a8fd76" d="M207 306.4l2 -5.5l-2 -5l-2 5.7z"/>
<path color="#91fe87" d="M204.9 312.1l2.1 -5.7l-2 -4.8l-2.1 5.9z"/>
<path color="#78fe9a" d="M202.9 318.1l2 -6l-2 -4.6l-2 6.1z"/>
<path color="#5ffeaf" d="M200.9 324.2l2 -6.1l-2 -4.5l-2 6.3z"/>
<path color="#45fec6" d="M198.9 330.6l2 -6.4l-2 -4.3l-2 6.6z"/>
<path color="#2afee0" d="M196.9 337.1l2 -6.5l-2 -4.1l-2 6.7z"/>
<path color="#10fcf4" d="M194.9 343.9l2 -6.8l-2 -3.9l-2 7z"/>
<path color="#04eafc" d="M192.8 351l2.1 -7.1l-2 -3.7l-2.1 7.3z"/>
<path color="#03ccfd" d="M190.8 358.3l2 -7.3l-2 -3.5l-2 7.5z"/>
<path color="#02affd" d="M188.8 365.9l2 -7.6l-2 -3.3l-2 7.9z"/>
<path color="#028ffd" d="M186.8 373.9l2 -8l-2 -3l-2 8.1z"/>
<path color="#026efd" d="M184.8 382.2l2 -8.3l-2 -2.9l-2 8.6z"/>
<path color="#034cfd" d="M182.8 391l2 -8.8l-2 -2.6l-2 9.1z"/>
<path color="#0225fc" d="M180.7 400.5l2.1 -9.5l-2 -2.3l-2.1 9.7z"/>
<path color="#0105f7" d="M178.7 410.8l2 -10.3l-2 -2.1l-2 10.6z"/>
<path color="#0101ce" d="M176.7 422.5l2 -11.7l-2 -1.8l-2 12z"/>
<path color="#020291" d="M174.7 439.7l2 -17.2l-2 -1.5l-2 17.7z"/>
<path color="#ccfa49" d="M321.9 289l2 4.8l-2 -5.3l-2 -4.9z"/>
<path color="#ddfb36" d="M319.9 284.4l2 4.6l-2 -5.4l-2 -4.8z"/>
<path color="#ebfc29" d="M317.8 280.1l2.1 4.3l-2 -5.6l-2 -4.5z"/>
<path color="#f5f91a" d="M315.8 275.8l2 4.3l-1.9 -5.8l-2.1 -4.3z"/>
<path color="#f8f013" d="M313.8 271.8l2 4l-2 -5.8l-2 -4.2z"/>
<path color="#f8e211" d="M311.8 267.9l2 3.9l-2 -6l-2 -4z"/>
<path color="#f8d30e" d="M309.8 264.3l2 3.6l-2 -6.1l-2 -3.8z"/>
<path color="#f9c70c" d="M307.8 260.8l2 3.5l-2 -6.3l-2 -3.6z"/>
<path color="#f9b609" d="M305.7 257.4l2.1 3.4l-2 -6.4l-2 -3.4z"/>
<path color="#faa907" d="M303.7 254.3l2 3.1l-1.9 -6.4l-2.1 -3.3z"/>
<path color="#fb9e04" d="M301.7 251.3l2 3l-2 -6.6l-2 -3.1z"/>
<path color="#fc9205" d="M299.7 248.5l2 2.8l-2 -6.7l-2 -2.8z"/>
<path color="#fc8606" d="M297.7 245.9l2 2.6l-2 -6.7l-2 -2.7z"/>
<path color="#fc7b05" d="M295.7 243.5l2 2.4l-2 -6.8l-2 -2.6z"/>
<path color="#fc7205" d="M293.6 241.2l2.1 2.3l-2 -7l-2 -2.3z"/>
<path color="#fb6c07" d="M291.6 239.2l2 2l-1.9 -7l-2.1 -2.1z"/>
<path color="#fb670a" d="M289.6 237.3l2 1.9l-2 -7.1l-2 -2z"/>
<path color="#fa6411" d="M287.6 235.6l2 1.7l-2 -7.2l-2 -1.7z"/>
<path color="#f96319" d="M285.6 234l2 1.6l-2 -7.2l-2 -1.6z"/>
<path color="#f76321" d="M283.6 232.7l2 1.3l-2 -7.2l-2 -1.4z"/>
<path color="#f66629" d="M281.5 231.5l2.1 1.2l-2 -7.3l-2 -1.2z"/>
<path color="#f46832" d="M279.5 230.6l2 0.9l-1.9 -7.3l-2.1 -1z"/>
<path color="#f26b39" d="M277.5 229.8l2 0.8l-2 -7.4l-2 -0.8z"/>
<path color="#f16f41" d="M275.5 229.2l2 0.6l-2 -7.4l-2 -0.7z"/>
<path color="#f07146" d="M273.5 228.7l2 0.5l-2 -7.5l-2 -0.4z"/>
<path color="#f17249" d="M271.5 228.5l2 0.2l-2 -7.4l-2 -0.3z"/>
<path color="#f1734b" d="M269.4 228.4l2.1 0.1l-2 -7.5l-2 0z"/>
<path color="#f0764e" d="M267.4 228.6l2 -0.2l-1.9 -7.4l-2.1 0.1z"/>
<path color="#f07a53" d="M265.4 228.9l2 -0.3l-2 -7.5l-2 0.3z"/>
<path color="#ef7d57" d="M263.4 229.4l2 -0.5l-2 -7.5l-2 0.5z"/>
<path color="#ee8059" d="M261.4 230.1l2 -0.7l-2 -7.5l-2 0.7z"/>
<path color="#ee8158" d="M259.4 230.9l2 -0.8l-2 -7.5l-2 0.9z"/>
<path color="#ed8155" d="M257.3 232l2.1 -1.1l-2 -7.4l-2 1.1z"/>
<path color="#ee804f" d="M255.3 233.2l2 -1.2l-1.9 -7.4l-2.1 1.3z"/>
<path color="#ef7f4b" d="M253.3 234.6l2 -1.4l-2 -7.3l-2 1.4z"/>
<path color="#ef8047" d="M251.3 236.2l2 -1.6l-2 -7.3l-2 1.7z"/>
<path color="#f08242" d="M249.3 238l2 -1.8l-2 -7.2l-2 1.8z"/>
<path color="#f1843d" d="M247.3 240l2 -2l-2 -7.2l-2 2z"/>
<path color="#f38636" d="M245.2 242.1l2.1 -2.1l-2 -7.2l-2 2.2z"/>
<path color="#f48a32" d="M243.2 244.4l2 -2.3l-1.9 -7.1l-2.1 2.4z"/>
<path color="#f59131" d="M241.2 246.9l2 -2.5l-2 -7l-2 2.6z"/>
<path color="#f6992f" d="M239.2 249.6l2 -2.7l-2 -6.9l-2 2.8z"/>
<path color="#f7a12e" d="M237.2 252.5l2 -2.9l-2 -6.8l-2 2.9z"/>
<path color="#f9a92b" d="M235.2 255.5l2 -3l-2 -6.8l-2 3.2z"/>
<path color="#f9b226" d="M233.1 258.8l2.1 -3.3l-2 -6.6l-2 3.3z"/>
<path color="#fabe25" d="M231.1 262.2l2 -3.4l-1.9 -6.6l-2.1 3.5z"/>
<path color="#fbcb2b" d="M229.1 265.7l2 -3.5l-2 -6.5l-2 3.7z"/>
<path color="#fbd937" d="M227.1 269.5l2 -3.8l-2 -6.3l-2 3.8z"/>
<path color="#fbe63c" d="M225.1 273.4l2 -3.9l-2 -6.3l-2 4.1z"/>
<path color="#fcf13c" d="M223.1 277.6l2 -4.2l-2 -6.1l-2 4.2z"/>
<path color="#fbfa3d" d="M221 281.8l2.1 -4.2l-2 -6.1l-2 4.5z"/>
<path color="#f1fd40" d="M219 286.3l2 -4.5l-1.9 -5.8l-2.1 4.6z"/>
<path color="#e2fe4b" d="M217 291l2 -4.7l-2 -5.7l-2 4.8z"/>
<path color="#d2fe57" d="M215 295.8l2 -4.8l-2 -5.6l-2 4.9z"/>
<path color="#c0fe65" d="M213 300.8l2 -5l-2 -5.5l-2 5.2z"/>
<path color="#affd77" d="M211 306l2 -5.2l-2 -5.3l-2 5.4z"/>
<path color="#9dfd87" d="M208.9 311.4l2.1 -5.4l-2 -5.1l-2 5.5z"/>
<path color="#86fe96" d="M206.9 316.9l2 -5.5l-1.9 -5l-2.1 5.7z"/>
<path color="#6dfea8" d="M204.9 322.7l2 -5.8l-2 -4.8l-2 6z"/>
<path color="#55febc" d="M202.9 328.7l2 -6l-2 -4.6l-2 6.1z"/>
<path color="#3cfed4" d="M200.9 334.8l2 -6.1l-2 -4.5l-2 6.4z"/>
<path color="#22feeb" d="M198.9 341.2l2 -6.4l-2 -4.2l-2 6.5z"/>
<path color="#0ef7fa" d="M196.8 347.8l2.1 -6.6l-2 -4.1l-2 6.8z"/>
<path color="#05dffd" d="M194.8 354.6l2 -6.8l-1.9 -3.9l-2.1 7.1z"/>
<path color="#03c4fd" d="M192.8 361.7l2 -7.1l-2 -3.6l-2 7.3z"/>
<path color="#03a6fd" d="M190.8 369.1l2 -7.4l-2 -3.4l-2 7.6z"/>
<path color="#0288fd" d="M188.8 376.8l2 -7.7l-2 -3.2l-2 8z"/>
<path color="#0267fd" d="M186.8 384.9l2 -8.1l-2 -2.9l-2 8.3z"/>
<path color="#0246fc" d="M184.7 393.5l2.1 -8.6l-2 -2.7l-2 8.8z"/>
<path color="#0222fd" d="M182.7 402.6l2 -9.1l-1.9 -2.5l-2.1 9.5z"/>
<path color="#0105f4" d="M180.7 412.6l2 -10l-2 -2.1l-2 10.3z"/>
<path color="#0101cd" d="M178.7 424l2 -11.4l-2 -1.8l-2 11.7z"/>
<path color="#020192" d="M176.7 440.6l2 -16.6l-2 -1.5l-2 17.2z"/>
<path color="#9ef977" d="M327.9 304l2 5l-2 -5.2l-2 -5.1z"/>
<path color="#adf968" d="M325.8 299.3l2.1 4.7l-2 -5.3l-2 -4.9z"/>
<path color="#bcf959" d="M323.8 294.7l2 4.6l-1.9 -5.5l-2 -4.8z"/>
<path color="#c9fb49" d="M321.8 290.3l2 4.4l-1.9 -5.7l-2 -4.6z"/>
<path color="#d6fb3a" d="M319.8 286l2 4.3l-1.9 -5.9l-2.1 -4.3z"/>
<path color="#e9fc27" d="M317.8 281.9l2 4.1l-2 -5.9l-2 -4.3z"/>
<path color="#f3fb1b" d="M315.8 278l2 3.9l-2 -6.1l-2 -4z"/>
<path color="#f9f510" d="M313.7 274.3l2.1 3.7l-2 -6.2l-2 -3.9z"/>
<path color="#fae50d" d="M311.7 270.8l2 3.5l-1.9 -6.4l-2 -3.6z"/>
<path color="#fad90a" d="M309.7 267.4l2 3.4l-1.9 -6.5l-2 -3.5z"/>
<path color="#fbcd07" d="M307.7 264.2l2 3.2l-1.9 -6.6l-2.1 -3.4z"/>
<path color="#fcc006" d="M305.7 261.1l2 3.1l-2 -6.8l-2 -3.1z"/>
<path color="#fdb304" d="M303.7 258.3l2 2.8l-2 -6.8l-2 -3z"/>
<path color="#fda903" d="M301.6 255.6l2.1 2.7l-2 -7l-2 -2.8z"/>
<path color="#fda003" d="M299.6 253.1l2 2.5l-1.9 -7.1l-2 -2.6z"/>
<path color="#fd9604" d="M297.6 250.7l2 2.4l-1.9 -7.2l-2 -2.4z"/>
<path color="#fd8c07" d="M295.6 248.5l2 2.2l-1.9 -7.2l-2.1 -2.3z"/>
<path color="#fc860b" d="M293.6 246.5l2 2l-2 -7.3l-2 -2z"/>
<path color="#fb8110" d="M291.6 244.7l2 1.8l-2 -7.3l-2 -1.9z"/>
<path color="#fa8016" d="M289.5 243.1l2.1 1.6l-2 -7.4l-2 -1.7z"/>
<path color="#f97f1e" d="M287.5 241.6l2 1.5l-1.9 -7.5l-2 -1.6z"/>
<path color="#f77e26" d="M285.5 240.3l2 1.3l-1.9 -7.6l-2 -1.3z"/>
<path color="#f6802f" d="M283.5 239.2l2 1.1l-1.9 -7.6l-2.1 -1.2z"/>
<path color="#f48238" d="M281.5 238.2l2 1l-2 -7.7l-2 -0.9z"/>
<path color="#f38340" d="M279.5 237.5l2 0.7l-2 -7.6l-2 -0.8z"/>
<path color="#f28648" d="M277.4 236.9l2.1 0.6l-2 -7.7l-2 -0.6z"/>
<path color="#f28b50" d="M275.4 236.5l2 0.4l-1.9 -7.7l-2 -0.5z"/>
<path color="#f18c53" d="M273.4 236.3l2 0.2l-1.9 -7.8l-2 -0.2z"/>
<path color="#f08b52" d="M271.4 236.2l2 0.1l-1.9 -7.8l-2.1 -0.1z"/>
<path color="#f08b53" d="M269.4 236.3l2 -0.1l-2 -7.8l-2 0.2z"/>
<path color="#f18e57" d="M267.4 236.6l2 -0.3l-2 -7.7l-2 0.3z"/>
<path color="#f1925b" d="M265.3 237.1l2.1 -0.5l-2 -7.7l-2 0.5z"/>
<path color="#f1955d" d="M263.3 237.8l2 -0.7l-1.9 -7.7l-2 0.7z"/>
<path color="#f1955c" d="M261.3 238.6l2 -0.8l-1.9 -7.7l-2 0.8z"/>
<path color="#f09458" d="M259.3 239.6l2 -1l-1.9 -7.7l-2.1 1.1z"/>
<path color="#f09354" d="M257.3 240.8l2 -1.2l-2 -7.6l-2 1.2z"/>
<path color="#f1954f" d="M255.3 242.2l2 -1.4l-2 -7.6l-2 1.4z"/>
<path color="#f1974b" d="M253.2 243.8l2.1 -1.6l-2 -7.6l-2 1.6z"/>
<path color="#f19948" d="M251.2 245.5l2 -1.7l-1.9 -7.6l-2 1.8z"/>
<path color="#f29c45" d="M249.2 247.4l2 -1.9l-1.9 -7.5l-2 2z"/>
<path color="#f39e41" d="M247.2 249.5l2 -2.1l-1.9 -7.4l-2.1 2.1z"/>
<path color="#f4a33c" d="M245.2 251.7l2 -2.2l-2 -7.4l-2 2.3z"/>
<path color="#f5aa37" d="M243.2 254.2l2 -2.5l-2 -7.3l-2 2.5z"/>
<path color="#f6b037" d="M241.1 256.8l2.1 -2.6l-2 -7.3l-2 2.7z"/>
<path color="#f7b835" d="M239.1 259.5l2 -2.7l-1.9 -7.2l-2 2.9z"/>
<path color="#f8bf30" d="M237.1 262.5l2 -3l-1.9 -7l-2 3z"/>
<path color="#f9c92d" d="M235.1 265.6l2 -3.1l-1.9 -7l-2.1 3.3z"/>
<path color="#fad430" d="M233.1 268.9l2 -3.3l-2 -6.8l-2 3.4z"/>
<path color="#fbde33" d="M231.1 272.4l2 -3.5l-2 -6.7l-2 3.5z"/>
<path color="#fbe837" d="M229 276l2.1 -3.6l-2 -6.7l-2 3.8z"/>
<path color="#fcf33f" d="M227 279.8l2 -3.8l-1.9 -6.5l-2 3.9z"/>
<path color="#f9fa47" d="M225 283.8l2 -4l-1.9 -6.4l-2 4.2z"/>
<path color="#f0fd4e" d="M223 287.9l2 -4.1l-1.9 -6.2l-2.1 4.2z"/>
<path color="#e2fd57" d="M221 292.3l2 -4.4l-2 -6.1l-2 4.5z"/>
<path color="#d4fd60" d="M219 296.8l2 -4.5l-2 -6l-2 4.7z"/>
<path color="#c4fd68" d="M216.9 301.4l2.1 -4.6l-2 -5.8l-2 4.8z"/>
<path color="#b2fd76" d="M214.9 306.3l2 -4.9l-1.9 -5.6l-2 5z"/>
<path color="#a2fd86" d="M212.9 311.3l2 -5l-1.9 -5.5l-2 5.2z"/>
<path color="#8ffd96" d="M210.9 316.5l2 -5.2l-1.9 -5.3l-2.1 5.4z"/>
<path color="#78fda6" d="M208.9 321.9l2 -5.4l-2 -5.1l-2 5.5z"/>
<path color="#64feb6" d="M206.9 327.5l2 -5.6l-2 -5l-2 5.8z"/>
<path color="#4dfeca" d="M204.8 333.2l2.1 -5.7l-2 -4.8l-2 6z"/>
<path color="#34fee0" d="M202.8 339.2l2 -6l-1.9 -4.5l-2 6.1z"/>
<path color="#1dfcf3" d="M200.8 345.4l2 -6.2l-1.9 -4.4l-2 6.4z"/>
<path color="#0eeefd" d="M198.8 351.8l2 -6.4l-1.9 -4.2l-2.1 6.6z"/>
<path color="#08d6fe" d="M196.8 358.4l2 -6.6l-2 -4l-2 6.8z"/>
<path color="#05bbfd" d="M194.8 365.2l2 -6.8l-2 -3.8l-2 7.1z"/>
<path color="#059efd" d="M192.7 372.4l2.1 -7.2l-2 -3.5l-2 7.4z"/>
<path color="#0380fd" d="M190.7 379.9l2 -7.5l-1.9 -3.3l-2 7.7z"/>
<path color="#0260fd" d="M188.7 387.7l2 -7.8l-1.9 -3.1l-2 8.1z"/>
<path color="#0241fd" d="M186.7 396l2 -8.3l-1.9 -2.8l-2.1 8.6z"/>
<path color="#031ffd" d="M184.7 404.8l2 -8.8l-2 -2.5l-2 9.1z"/>
<path color="#0104f1" d="M182.7 414.4l2 -9.6l-2 -2.2l-2 10z"/>
<path color="#0101c9" d="M180.6 425.4l2.1 -11l-2 -1.8l-2 11.4z"/>
<path color="#020191" d="M178.6 441.5l2 -16.1l-1.9 -1.4l-2 16.6z"/>
<path color="#8bf88c" d="M329.8 309.5l2 4.8l-1.9 -5.3l-2 -5z"/>
<path color="#9bf97a" d="M327.8 304.9l2 4.6l-1.9 -5.5l-2.1 -4.7z"/>
<path color="#a7f96b" d="M325.7 300.5l2.1 4.4l-2 -5.6l-2 -4.6z"/>
<path color="#b9f959" d="M323.7 296.2l2 4.3l-1.9 -5.8l-2 -4.4z"/>
<path color="#c2fb4c" d="M321.7 292.2l2 4l-1.9 -5.9l-2 -4.3z"/>
<path color="#d1fc3b" d="M319.7 288.2l2 4l-1.9 -6.2l-2 -4.1z"/>
<path color="#e2fc29" d="M317.7 284.5l2 3.7l-1.9 -6.3l-2 -3.9z"/>
<path color="#effc1b" d="M315.7 280.9l2 3.6l-1.9 -6.5l-2.1 -3.7z"/>
<path color="#f9f80f" d="M313.6 277.5l2.1 3.4l-2 -6.6l-2 -3.5z"/>
<path color="#fcee09" d="M311.6 274.2l2 3.3l-1.9 -6.7l-2 -3.4z"/>
<path color="#fde206" d="M309.6 271.1l2 3.1l-1.9 -6.8l-2 -3.2z"/>
<path color="#fdd704" d="M307.6 268.2l2 2.9l-1.9 -6.9l-2 -3.1z"/>
<path color="#fdcc03" d="M305.6 265.4l2 2.8l-1.9 -7.1l-2 -2.8z"/>
<path color="#fec103" d="M303.6 262.8l2 2.6l-1.9 -7.1l-2.1 -2.7z"/>
<path color="#feb704" d="M301.5 260.4l2.1 2.4l-2 -7.2l-2 -2.5z"/>
<path color="#fdaf06" d="M299.5 258.2l2 2.2l-1.9 -7.3l-2 -2.4z"/>
<path color="#fda90a" d="M297.5 256.1l2 2.1l-1.9 -7.5l-2 -2.2z"/>
<path color="#fba410" d="M295.5 254.1l2 2l-1.9 -7.6l-2 -2z"/>
<path color="#fa9f17" d="M293.5 252.4l2 1.7l-1.9 -7.6l-2 -1.8z"/>
<path color="#fa9b1f" d="M291.5 250.8l2 1.6l-1.9 -7.7l-2.1 -1.6z"/>
<path color="#f99a26" d="M289.4 249.4l2.1 1.4l-2 -7.7l-2 -1.5z"/>
<path color="#f7992d" d="M287.4 248.2l2 1.2l-1.9 -7.8l-2 -1.3z"/>
<path color="#f69a35" d="M285.4 247.1l2 1.1l-1.9 -7.9l-2 -1.1z"/>
<path color="#f59b3d" d="M283.4 246.2l2 0.9l-1.9 -7.9l-2 -1z"/>
<path color="#f49b44" d="M281.4 245.4l2 0.8l-1.9 -8l-2 -0.7z"/>
<path color="#f39d4c" d="M279.4 244.9l2 0.5l-1.9 -7.9l-2.1 -0.6z"/>
<path color="#f39f51" d="M277.3 244.5l2.1 0.4l-2 -8l-2 -0.4z"/>
<path color="#f39f54" d="M275.3 244.3l2 0.2l-1.9 -8l-2 -0.2z"/>
<path color="#f29e55" d="M273.3 244.2l2 0.1l-1.9 -8l-2 -0.1z"/>
<path color="#f19f56" d="M271.3 244.4l2 -0.2l-1.9 -8l-2 0.1z"/>
<path color="#f1a258" d="M269.3 244.7l2 -0.3l-1.9 -8.1l-2 0.3z"/>
<path color="#f1a45c" d="M267.3 245.1l2 -0.4l-1.9 -8.1l-2.1 0.5z"/>
<path color="#f2a65e" d="M265.2 245.8l2.1 -0.7l-2 -8l-2 0.7z"/>
<path color="#f3a85f" d="M263.2 246.6l2 -0.8l-1.9 -8l-2 0.8z"/>
<path color="#f3a95e" d="M261.2 247.6l2 -1l-1.9 -8l-2 1z"/>
<path color="#f3aa5a" d="M259.2 248.7l2 -1.1l-1.9 -8l-2 1.2z"/>
<path color="#f2aa55" d="M257.2 250.1l2 -1.4l-1.9 -7.9l-2 1.4z"/>
<path color="#f2ac51" d="M255.2 251.6l2 -1.5l-1.9 -7.9l-2.1 1.6z"/>
<path color="#f2ae4e" d="M253.1 253.2l2.1 -1.6l-2 -7.8l-2 1.7z"/>
<path color="#f3b14a" d="M251.1 255.1l2 -1.9l-1.9 -7.7l-2 1.9z"/>
<path color="#f4b545" d="M249.1 257.1l2 -2l-1.9 -7.7l-2 2.1z"/>
<path color="#f5b941" d="M247.1 259.3l2 -2.2l-1.9 -7.6l-2 2.2z"/>
<path color="#f6be3f" d="M245.1 261.6l2 -2.3l-1.9 -7.6l-2 2.5z"/>
<path color="#f7c43c" d="M243.1 264.1l2 -2.5l-1.9 -7.4l-2.1 2.6z"/>
<path color="#f7cb3a" d="M241 266.8l2.1 -2.7l-2 -7.3l-2 2.7z"/>
<path color="#f8d438" d="M239 269.7l2 -2.9l-1.9 -7.3l-2 3z"/>
<path color="#f9dd35" d="M237 272.7l2 -3l-1.9 -7.2l-2 3.1z"/>
<path color="#fbe634" d="M235 275.9l2 -3.2l-1.9 -7.1l-2 3.3z"/>
<path color="#fbee32" d="M233 279.2l2 -3.3l-1.9 -7l-2 3.5z"/>
<path color="#faf73a" d="M231 282.7l2 -3.5l-1.9 -6.8l-2.1 3.6z"/>
<path color="#f5fb46" d="M228.9 286.4l2.1 -3.7l-2 -6.7l-2 3.8z"/>
<path color="#ecfc55" d="M226.9 290.2l2 -3.8l-1.9 -6.6l-2 4z"/>
<path color="#e0fc63" d="M224.9 294.2l2 -4l-1.9 -6.4l-2 4.1z"/>
<path color="#d4fc6b" d="M222.9 298.4l2 -4.2l-1.9 -6.3l-2 4.4z"/>
<path color="#c4fc73" d="M220.9 302.8l2 -4.4l-1.9 -6.1l-2 4.5z"/>
<path color="#b5fc7b" d="M218.9 307.3l2 -4.5l-1.9 -6l-2.1 4.6z"/>
<path color="#a5fd86" d="M216.8 312l2.1 -4.7l-2 -5.9l-2 4.9z"/>
<path color="#94fc94" d="M214.8 316.8l2 -4.8l-1.9 -5.7l-2 5z"/>
<path color="#80fca5" d="M212.8 321.8l2 -5l-1.9 -5.5l-2 5.2z"/>
<path color="#6efcb6" d="M210.8 327l2 -5.2l-1.9 -5.3l-2 5.4z"/>
<path color="#5bfdc6" d="M208.8 332.4l2 -5.4l-1.9 -5.1l-2 5.6z"/>
<path color="#44fdd9" d="M206.8 338l2 -5.6l-1.9 -4.9l-2.1 5.7z"/>
<path color="#2cfded" d="M204.7 343.7l2.1 -5.7l-2 -4.8l-2 6z"/>
<path color="#19f7fa" d="M202.7 349.7l2 -6l-1.9 -4.5l-2 6.2z"/>
<path color="#11e4fd" d="M200.7 355.8l2 -6.1l-1.9 -4.3l-2 6.4z"/>
<path color="#0cccfc" d="M198.7 362.2l2 -6.4l-1.9 -4l-2 6.6z"/>
<path color="#09b1fc" d="M196.7 368.9l2 -6.7l-1.9 -3.8l-2 6.8z"/>
<path color="#0796fc" d="M194.7 375.8l2 -6.9l-1.9 -3.7l-2.1 7.2z"/>
<path color="#0479fc" d="M192.6 383l2.1 -7.2l-2 -3.4l-2 7.5z"/>
<path color="#025afd" d="M190.6 390.5l2 -7.5l-1.9 -3.1l-2 7.8z"/>
<path color="#023afd" d="M188.6 398.5l2 -8l-1.9 -2.8l-2 8.3z"/>
<path color="#0219fc" d="M186.6 407l2 -8.5l-1.9 -2.5l-2 8.8z"/>
<path color="#0103ef" d="M184.6 416.3l2 -9.3l-1.9 -2.2l-2 9.6z"/>
<path color="#0101c5" d="M182.6 426.9l2 -10.6l-1.9 -1.9l-2.1 11z"/>
<path color="#020190" d="M180.5 442.5l2.1 -15.6l-2 -1.5l-2 16.1z"/>
<path color="#6bf7a6" d="M333.7 319.7l2 4.8l-1.9 -5.3l-2 -4.9z"/>
<path color="#79f899" d="M331.7 315.2l2 4.5l-1.9 -5.4l-2 -4.8z"/>
<path color="#87f98d" d="M329.7 310.7l2 4.5l-1.9 -5.7l-2 -4.6z"/>
<path color="#96fa7c" d="M327.6 306.5l2.1 4.2l-1.9 -5.8l-2.1 -4.4z"/>
<path color="#a2fa6d" d="M325.6 302.4l2 4.1l-1.9 -6l-2 -4.3z"/>
<path color="#b0fa5d" d="M323.6 298.5l2 3.9l-1.9 -6.2l-2 -4z"/>
<path color="#bdfb4d" d="M321.6 294.7l2 3.8l-1.9 -6.3l-2 -4z"/>
<path color="#c9fd3d" d="M319.6 291.1l2 3.6l-1.9 -6.5l-2 -3.7z"/>
<path color="#d9fd2c" d="M317.6 287.7l2 3.4l-1.9 -6.6l-2 -3.6z"/>
<path color="#e8fd1d" d="M315.5 284.4l2.1 3.3l-1.9 -6.8l-2.1 -3.4z"/>
<path color="#f4fc11" d="M313.5 281.2l2 3.2l-1.9 -6.9l-2 -3.3z"/>
<path color="#fbf70a" d="M311.5 278.3l2 2.9l-1.9 -7l-2 -3.1z"/>
<path color="#feee05" d="M309.5 275.5l2 2.8l-1.9 -7.2l-2 -2.9z"/>
<path color="#fee404" d="M307.5 272.8l2 2.7l-1.9 -7.3l-2 -2.8z"/>
<path color="#fddb05" d="M305.5 270.3l2 2.5l-1.9 -7.4l-2 -2.6z"/>
<path color="#fdd306" d="M303.4 268l2.1 2.3l-1.9 -7.5l-2.1 -2.4z"/>
<path color="#feca09" d="M301.4 265.8l2 2.2l-1.9 -7.6l-2 -2.2z"/>
<path color="#fdc20d" d="M299.4 263.8l2 2l-1.9 -7.6l-2 -2.1z"/>
<path color="#fcbc14" d="M297.4 262l2 1.8l-1.9 -7.7l-2 -2z"/>
<path color="#fab81c" d="M295.4 260.3l2 1.7l-1.9 -7.9l-2 -1.7z"/>
<path color="#f8b424" d="M293.4 258.8l2 1.5l-1.9 -7.9l-2 -1.6z"/>
<path color="#f8b12b" d="M291.3 257.4l2.1 1.4l-1.9 -8l-2.1 -1.4z"/>
<path color="#f8af33" d="M289.3 256.2l2 1.2l-1.9 -8l-2 -1.2z"/>
<path color="#f8ae3a" d="M287.3 255.2l2 1l-1.9 -8l-2 -1.1z"/>
<path color="#f7ae3f" d="M285.3 254.4l2 0.8l-1.9 -8.1l-2 -0.9z"/>
<path color="#f6ae45" d="M283.3 253.7l2 0.7l-1.9 -8.2l-2 -0.8z"/>
<path color="#f5b04b" d="M281.3 253.1l2 0.6l-1.9 -8.3l-2 -0.5z"/>
<path color="#f5b150" d="M279.2 252.8l2.1 0.3l-1.9 -8.2l-2.1 -0.4z"/>
<path color="#f4b152" d="M277.2 252.5l2 0.3l-1.9 -8.3l-2 -0.2z"/>
<path color="#f3af51" d="M275.2 252.5l2 0l-1.9 -8.2l-2 -0.1z"/>
<path color="#f4b053" d="M273.2 252.6l2 -0.1l-1.9 -8.3l-2 0.2z"/>
<path color="#f4b258" d="M271.2 252.9l2 -0.3l-1.9 -8.2l-2 0.3z"/>
<path color="#f4b45b" d="M269.2 253.4l2 -0.5l-1.9 -8.2l-2 0.4z"/>
<path color="#f3b65d" d="M267.1 254l2.1 -0.6l-1.9 -8.3l-2.1 0.7z"/>
<path color="#f3b85d" d="M265.1 254.8l2 -0.8l-1.9 -8.2l-2 0.8z"/>
<path color="#f3bb5d" d="M263.1 255.8l2 -1l-1.9 -8.2l-2 1z"/>
<path color="#f3bc5a" d="M261.1 256.9l2 -1.1l-1.9 -8.2l-2 1.1z"/>
<path color="#f4bd56" d="M259.1 258.2l2 -1.3l-1.9 -8.2l-2 1.4z"/>
<path color="#f4bf52" d="M257.1 259.6l2 -1.4l-1.9 -8.1l-2 1.5z"/>
<path color="#f4c24f" d="M255 261.2l2.1 -1.6l-1.9 -8l-2.1 1.6z"/>
<path color="#f4c44c" d="M253 263l2 -1.8l-1.9 -8l-2 1.9z"/>
<path color="#f5c94a" d="M251 264.9l2 -1.9l-1.9 -7.9l-2 2z"/>
<path color="#f7ce48" d="M249 267l2 -2.1l-1.9 -7.8l-2 2.2z"/>
<path color="#f7d343" d="M247 269.3l2 -2.3l-1.9 -7.7l-2 2.3z"/>
<path color="#f8da3e" d="M245 271.7l2 -2.4l-1.9 -7.7l-2 2.5z"/>
<path color="#f9e23c" d="M242.9 274.3l2.1 -2.6l-1.9 -7.6l-2.1 2.7z"/>
<path color="#fae93c" d="M240.9 277l2 -2.7l-1.9 -7.5l-2 2.9z"/>
<path color="#fbf03b" d="M238.9 279.9l2 -2.9l-1.9 -7.3l-2 3z"/>
<path color="#fbf738" d="M236.9 283l2 -3.1l-1.9 -7.2l-2 3.2z"/>
<path color="#f6fb37" d="M234.9 286.2l2 -3.2l-1.9 -7.1l-2 3.3z"/>
<path color="#eefd42" d="M232.9 289.6l2 -3.4l-1.9 -7l-2 3.5z"/>
<path color="#e5fc54" d="M230.8 293.2l2.1 -3.6l-1.9 -6.9l-2.1 3.7z"/>
<path color="#dbfc64" d="M228.8 296.9l2 -3.7l-1.9 -6.8l-2 3.8z"/>
<path color="#d0fb74" d="M226.8 300.7l2 -3.8l-1.9 -6.7l-2 4z"/>
<path color="#c3fb7f" d="M224.8 304.7l2 -4l-1.9 -6.5l-2 4.2z"/>
<path color="#b6fb86" d="M222.8 308.9l2 -4.2l-1.9 -6.3l-2 4.4z"/>
<path color="#a8fc8e" d="M220.8 313.3l2 -4.4l-1.9 -6.1l-2 4.5z"/>
<path color="#99fc99" d="M218.7 317.8l2.1 -4.5l-1.9 -6l-2.1 4.7z"/>
<path color="#87fba5" d="M216.7 322.4l2 -4.6l-1.9 -5.8l-2 4.8z"/>
<path color="#76fbb4" d="M214.7 327.3l2 -4.9l-1.9 -5.6l-2 5z"/>
<path color="#64fcc5" d="M212.7 332.3l2 -5l-1.9 -5.5l-2 5.2z"/>
<path color="#4ffcd5" d="M210.7 337.5l2 -5.2l-1.9 -5.3l-2 5.4z"/>
<path color="#3bfde6" d="M208.7 342.8l2 -5.3l-1.9 -5.1l-2 5.6z"/>
<path color="#26fbf6" d="M206.6 348.4l2.1 -5.6l-1.9 -4.8l-2.1 5.7z"/>
<path color="#1aeefc" d="M204.6 354.1l2 -5.7l-1.9 -4.7l-2 6z"/>
<path color="#15d9fc" d="M202.6 360l2 -5.9l-1.9 -4.4l-2 6.1z"/>
<path color="#10c1fb" d="M200.6 366.2l2 -6.2l-1.9 -4.2l-2 6.4z"/>
<path color="#0ea8fc" d="M198.6 372.5l2 -6.3l-1.9 -4l-2 6.7z"/>
<path color="#088efd" d="M196.6 379.2l2 -6.7l-1.9 -3.6l-2 6.9z"/>
<path color="#0571fd" d="M194.5 386.1l2.1 -6.9l-1.9 -3.4l-2.1 7.2z"/>
<path color="#0252fd" d="M192.5 393.4l2 -7.3l-1.9 -3.1l-2 7.5z"/>
<path color="#0233fd" d="M190.5 401.1l2 -7.7l-1.9 -2.9l-2 8z"/>
<path color="#0115fc" d="M188.5 409.3l2 -8.2l-1.9 -2.6l-2 8.5z"/>
<path color="#0102ea" d="M186.5 418.2l2 -8.9l-1.9 -2.3l-2 9.3z"/>
<path color="#0001c2" d="M184.5 428.4l2 -10.2l-1.9 -1.9l-2 10.6z"/>
<path color="#020290" d="M182.4 443.4l2.1 -15l-1.9 -1.5l-2.1 15.6z"/>
<path color="#47f8c6" d="M337.6 329.9l2 4.7l-1.9 -5.2l-2 -4.9z"/>
<path color="#58f8b7" d="M335.6 325.3l2 4.6l-1.9 -5.4l-2 -4.8z"/>
<path color="#67f8a9" d="M333.5 320.9l2.1 4.4l-1.9 -5.6l-2 -4.5z"/>
<path color="#72f99d" d="M331.5 316.7l2 4.2l-1.8 -5.7l-2 -4.5z"/>
<path color="#7ffa90" d="M329.5 312.6l2 4.1l-1.8 -6l-2.1 -4.2z"/>
<path color="#8efb7f" d="M327.5 308.7l2 3.9l-1.9 -6.1l-2 -4.1z"/>
<path color="#9bfb6e" d="M325.5 305l2 3.7l-1.9 -6.3l-2 -3.9z"/>
<path color="#a9fc5e" d="M323.5 301.3l2 3.7l-1.9 -6.5l-2 -3.8z"/>
<path color="#b6fc4e" d="M321.4 297.9l2.1 3.4l-1.9 -6.6l-2 -3.6z"/>
<path color="#c2fd3f" d="M319.4 294.6l2 3.3l-1.8 -6.8l-2 -3.4z"/>
<path color="#cffe32" d="M317.4 291.4l2 3.2l-1.8 -6.9l-2.1 -3.3z"/>
<path color="#dcfe25" d="M315.4 288.4l2 3l-1.9 -7l-2 -3.2z"/>
<path color="#e9fe19" d="M313.4 285.6l2 2.8l-1.9 -7.2l-2 -2.9z"/>
<path color="#f4fc11" d="M311.4 282.9l2 2.7l-1.9 -7.3l-2 -2.8z"/>
<path color="#fbf80a" d="M309.3 280.4l2.1 2.5l-1.9 -7.4l-2 -2.7z"/>
<path color="#fdf207" d="M307.3 278l2 2.4l-1.8 -7.6l-2 -2.5z"/>
<path color="#fdec09" d="M305.3 275.8l2 2.2l-1.8 -7.7l-2.1 -2.3z"/>
<path color="#fde50e" d="M303.3 273.7l2 2.1l-1.9 -7.8l-2 -2.2z"/>
<path color="#fdde12" d="M301.3 271.8l2 1.9l-1.9 -7.9l-2 -2z"/>
<path color="#fdd818" d="M299.3 270l2 1.8l-1.9 -8l-2 -1.8z"/>
<path color="#fcd31e" d="M297.2 268.4l2.1 1.6l-1.9 -8l-2 -1.7z"/>
<path color="#fbce25" d="M295.2 267l2 1.4l-1.8 -8.1l-2 -1.5z"/>
<path color="#f9ca2c" d="M293.2 265.7l2 1.3l-1.8 -8.2l-2.1 -1.4z"/>
<path color="#f8c831" d="M291.2 264.5l2 1.2l-1.9 -8.3l-2 -1.2z"/>
<path color="#f8c738" d="M289.2 263.6l2 0.9l-1.9 -8.3l-2 -1z"/>
<path color="#f7c63f" d="M287.2 262.7l2 0.9l-1.9 -8.4l-2 -0.8z"/>
<path color="#f7c647" d="M285.1 262.1l2.1 0.6l-1.9 -8.3l-2 -0.7z"/>
<path color="#f6c64d" d="M283.1 261.6l2 0.5l-1.8 -8.4l-2 -0.6z"/>
<path color="#f6c64f" d="M281.1 261.2l2 0.4l-1.8 -8.5l-2.1 -0.3z"/>
<path color="#f5c54e" d="M279.1 261l2 0.2l-1.9 -8.4l-2 -0.3z"/>
<path color="#f4c54e" d="M277.1 261l2 0l-1.9 -8.5l-2 0z"/>
<path color="#f5c652" d="M275.1 261.1l2 -0.1l-1.9 -8.5l-2 0.1z"/>
<path color="#f6c756" d="M273 261.4l2.1 -0.3l-1.9 -8.5l-2 0.3z"/>
<path color="#f7c85a" d="M271 261.9l2 -0.5l-1.8 -8.5l-2 0.5z"/>
<path color="#f7c95c" d="M269 262.5l2 -0.6l-1.8 -8.5l-2.1 0.6z"/>
<path color="#f7cb5c" d="M267 263.2l2 -0.7l-1.9 -8.5l-2 0.8z"/>
<path color="#f7cc5c" d="M265 264.1l2 -0.9l-1.9 -8.4l-2 1z"/>
<path color="#f7ce5b" d="M263 265.2l2 -1.1l-1.9 -8.3l-2 1.1z"/>
<path color="#f7cf59" d="M260.9 266.4l2.1 -1.2l-1.9 -8.3l-2 1.3z"/>
<path color="#f7d256" d="M258.9 267.8l2 -1.4l-1.8 -8.2l-2 1.4z"/>
<path color="#f7d652" d="M256.9 269.4l2 -1.6l-1.8 -8.2l-2.1 1.6z"/>
<path color="#f6d94f" d="M254.9 271.1l2 -1.7l-1.9 -8.2l-2 1.8z"/>
<path color="#f7dd4e" d="M252.9 273l2 -1.9l-1.9 -8.1l-2 1.9z"/>
<path color="#f8e24c" d="M250.9 275l2 -2l-1.9 -8.1l-2 2.1z"/>
<path color="#f9e847" d="M248.8 277.2l2.1 -2.2l-1.9 -8l-2 2.3z"/>
<path color="#faee44" d="M246.8 279.5l2 -2.3l-1.8 -7.9l-2 2.4z"/>
<path color="#fbf345" d="M244.8 282l2 -2.5l-1.8 -7.8l-2.1 2.6z"/>
<path color="#faf846" d="M242.8 284.6l2 -2.6l-1.9 -7.7l-2 2.7z"/>
<path color="#f6fb48" d="M240.8 287.4l2 -2.8l-1.9 -7.6l-2 2.9z"/>
<path color="#f0fc4a" d="M238.8 290.3l2 -2.9l-1.9 -7.5l-2 3.1z"/>
<path color="#e7fc4e" d="M236.7 293.4l2.1 -3.1l-1.9 -7.3l-2 3.2z"/>
<path color="#defc56" d="M234.7 296.7l2 -3.3l-1.8 -7.2l-2 3.4z"/>
<path color="#d3fc64" d="M232.7 300.1l2 -3.4l-1.8 -7.1l-2.1 3.6z"/>
<path color="#c9fb72" d="M230.7 303.6l2 -3.5l-1.9 -6.9l-2 3.7z"/>
<path color="#bffa81" d="M228.7 307.4l2 -3.8l-1.9 -6.7l-2 3.8z"/>
<path color="#b7fa8e" d="M226.7 311.2l2 -3.8l-1.9 -6.7l-2 4z"/>
<path color="#acfb99" d="M224.6 315.2l2.1 -4l-1.9 -6.5l-2 4.2z"/>
<path color="#9dfba3" d="M222.6 319.4l2 -4.2l-1.8 -6.3l-2 4.4z"/>
<path color="#8dfbac" d="M220.6 323.7l2 -4.3l-1.8 -6.1l-2.1 4.5z"/>
<path color="#7bfbb6" d="M218.6 328.2l2 -4.5l-1.9 -5.9l-2 4.6z"/>
<path color="#69fbc4" d="M216.6 332.8l2 -4.6l-1.9 -5.8l-2 4.9z"/>
<path color="#58fcd4" d="M214.6 337.7l2 -4.9l-1.9 -5.5l-2 5z"/>
<path color="#45fce4" d="M212.5 342.6l2.1 -4.9l-1.9 -5.4l-2 5.2z"/>
<path color="#31fcf3" d="M210.5 347.8l2 -5.2l-1.8 -5.1l-2 5.3z"/>
<path color="#24f5fb" d="M208.5 353.1l2 -5.3l-1.8 -5l-2.1 5.6z"/>
<path color="#1fe4fc" d="M206.5 358.6l2 -5.5l-1.9 -4.7l-2 5.7z"/>
<path color="#18cefa" d="M204.5 364.3l2 -5.7l-1.9 -4.5l-2 5.9z"/>
<path color="#16b8fb" d="M202.5 370.2l2 -5.9l-1.9 -4.3l-2 6.2z"/>
<path color="#0f9ffc" d="M200.4 376.3l2.1 -6.1l-1.9 -4l-2 6.3z"/>
<path color="#0a85fd" d="M198.4 382.7l2 -6.4l-1.8 -3.8l-2 6.7z"/>
<path color="#0668fd" d="M196.4 389.3l2 -6.6l-1.8 -3.5l-2.1 6.9z"/>
<path color="#034afd" d="M194.4 396.3l2 -7l-1.9 -3.2l-2 7.3z"/>
<path color="#022dfd" d="M192.4 403.7l2 -7.4l-1.9 -2.9l-2 7.7z"/>
<path color="#010ffb" d="M190.4 411.5l2 -7.8l-1.9 -2.6l-2 8.2z"/>
<path color="#0102e5" d="M188.3 420.1l2.1 -8.6l-1.9 -2.2l-2 8.9z"/>
<path color="#0001bf" d="M186.3 429.9l2 -9.8l-1.8 -1.9l-2 10.2z"/>
<path color="#020290" d="M184.3 444.3l2 -14.4l-1.8 -1.5l-2.1 15z"/>
<path color="#15d3f2" d="M347.5 354.3l2 5.2l-1.8 -4.3l-2.1 -5.4z"/>
<path color="#14e5f4" d="M345.5 349.3l2 5l-1.9 -4.5l-2 -5.3z"/>
<path color="#19f4f2" d="M343.4 344.5l2.1 4.8l-1.9 -4.8l-2 -5z"/>
<path color="#28f7e9" d="M341.4 339.8l2 4.7l-1.8 -5l-2 -4.9z"/>
<path color="#35f7d9" d="M339.4 335.3l2 4.5l-1.8 -5.2l-2 -4.7z"/>
<path color="#42f9c8" d="M337.4 331l2 4.3l-1.8 -5.4l-2 -4.6z"/>
<path color="#51f9bb" d="M335.4 326.8l2 4.2l-1.8 -5.7l-2.1 -4.4z"/>
<path color="#5ff9ad" d="M333.4 322.8l2 4l-1.9 -5.9l-2 -4.2z"/>
<path color="#6bfa9e" d="M331.3 318.9l2.1 3.9l-1.9 -6.1l-2 -4.1z"/>
<path color="#77fb8f" d="M329.3 315.1l2 3.8l-1.8 -6.3l-2 -3.9z"/>
<path color="#82fc81" d="M327.3 311.6l2 3.5l-1.8 -6.4l-2 -3.7z"/>
<path color="#92fd71" d="M325.3 308.1l2 3.5l-1.8 -6.6l-2 -3.7z"/>
<path color="#9efd65" d="M323.3 304.8l2 3.3l-1.8 -6.8l-2.1 -3.4z"/>
<path color="#aafd57" d="M321.3 301.7l2 3.1l-1.9 -6.9l-2 -3.3z"/>
<path color="#b6fe49" d="M319.2 298.7l2.1 3l-1.9 -7.1l-2 -3.2z"/>
<path color="#c3fe3c" d="M317.2 295.8l2 2.9l-1.8 -7.3l-2 -3z"/>
<path color="#cefe32" d="M315.2 293.1l2 2.7l-1.8 -7.4l-2 -2.8z"/>
<path color="#d9fe28" d="M313.2 290.5l2 2.6l-1.8 -7.5l-2 -2.7z"/>
<path color="#e3fe1f" d="M311.2 288.1l2 2.4l-1.8 -7.6l-2.1 -2.5z"/>
<path color="#ecfe18" d="M309.2 285.8l2 2.3l-1.9 -7.7l-2 -2.4z"/>
<path color="#f4fc14" d="M307.1 283.7l2.1 2.1l-1.9 -7.8l-2 -2.2z"/>
<path color="#f9f914" d="M305.1 281.7l2 2l-1.8 -7.9l-2 -2.1z"/>
<path color="#fcf518" d="M303.1 279.9l2 1.8l-1.8 -8l-2 -1.9z"/>
<path color="#fdf01d" d="M301.1 278.2l2 1.7l-1.8 -8.1l-2 -1.8z"/>
<path color="#feec22" d="M299.1 276.7l2 1.5l-1.8 -8.2l-2.1 -1.6z"/>
<path color="#fde828" d="M297.1 275.3l2 1.4l-1.9 -8.3l-2 -1.4z"/>
<path color="#fce42e" d="M295 274.1l2.1 1.2l-1.9 -8.3l-2 -1.3z"/>
<path color="#fae134" d="M293 273l2 1.1l-1.8 -8.4l-2 -1.2z"/>
<path color="#fadf3b" d="M291 272.1l2 0.9l-1.8 -8.5l-2 -0.9z"/>
<path color="#fadf42" d="M289 271.3l2 0.8l-1.8 -8.5l-2 -0.9z"/>
<path color="#f9de49" d="M287 270.7l2 0.6l-1.8 -8.6l-2.1 -0.6z"/>
<path color="#f9dd50" d="M285 270.2l2 0.5l-1.9 -8.6l-2 -0.5z"/>
<path color="#f9db52" d="M282.9 269.9l2.1 0.3l-1.9 -8.6l-2 -0.4z"/>
<path color="#f8d950" d="M280.9 269.7l2 0.2l-1.8 -8.7l-2 -0.2z"/>
<path color="#f7d94e" d="M278.9 269.7l2 0l-1.8 -8.7l-2 0z"/>
<path color="#f7da4f" d="M276.9 269.8l2 -0.1l-1.8 -8.7l-2 0.1z"/>
<path color="#f8da54" d="M274.9 270.1l2 -0.3l-1.8 -8.7l-2.1 0.3z"/>
<path color="#f8db59" d="M272.9 270.5l2 -0.4l-1.9 -8.7l-2 0.5z"/>
<path color="#f8dd5c" d="M270.8 271.1l2.1 -0.6l-1.9 -8.6l-2 0.6z"/>
<path color="#f8df5d" d="M268.8 271.8l2 -0.7l-1.8 -8.6l-2 0.7z"/>
<path color="#f9e15d" d="M266.8 272.7l2 -0.9l-1.8 -8.6l-2 0.9z"/>
<path color="#f9e25a" d="M264.8 273.7l2 -1l-1.8 -8.6l-2 1.1z"/>
<path color="#f8e457" d="M262.8 274.9l2 -1.2l-1.8 -8.5l-2.1 1.2z"/>
<path color="#f8e755" d="M260.8 276.3l2 -1.4l-1.9 -8.5l-2 1.4z"/>
<path color="#f9ea54" d="M258.7 277.7l2.1 -1.4l-1.9 -8.5l-2 1.6z"/>
<path color="#f9ed52" d="M256.7 279.4l2 -1.7l-1.8 -8.3l-2 1.7z"/>
<path color="#f9f050" d="M254.7 281.2l2 -1.8l-1.8 -8.3l-2 1.9z"/>
<path color="#f9f44c" d="M252.7 283.1l2 -1.9l-1.8 -8.2l-2 2z"/>
<path color="#f8f74c" d="M250.7 285.2l2 -2.1l-1.8 -8.1l-2.1 2.2z"/>
<path color="#f6f94e" d="M248.7 287.4l2 -2.2l-1.9 -8l-2 2.3z"/>
<path color="#f2fb52" d="M246.6 289.8l2.1 -2.4l-1.9 -7.9l-2 2.5z"/>
<path color="#eefb59" d="M244.6 292.3l2 -2.5l-1.8 -7.8l-2 2.6z"/>
<path color="#e7fb5e" d="M242.6 295l2 -2.7l-1.8 -7.7l-2 2.8z"/>
<path color="#dffb5f" d="M240.6 297.8l2 -2.8l-1.8 -7.6l-2 2.9z"/>
<path color="#d5fb63" d="M238.6 300.8l2 -3l-1.8 -7.5l-2.1 3.1z"/>
<path color="#cbfb6c" d="M236.6 303.9l2 -3.1l-1.9 -7.4l-2 3.3z"/>
<path color="#c0fa77" d="M234.5 307.2l2.1 -3.3l-1.9 -7.2l-2 3.4z"/>
<path color="#b6f984" d="M232.5 310.6l2 -3.4l-1.8 -7.1l-2 3.5z"/>
<path color="#aefa91" d="M230.5 314.1l2 -3.5l-1.8 -7l-2 3.8z"/>
<path color="#a6fa9e" d="M228.5 317.8l2 -3.7l-1.8 -6.7l-2 3.8z"/>
<path color="#9df9a9" d="M226.5 321.7l2 -3.9l-1.8 -6.6l-2.1 4z"/>
<path color="#93f9b4" d="M224.5 325.6l2 -3.9l-1.9 -6.5l-2 4.2z"/>
<path color="#84fabd" d="M222.4 329.8l2.1 -4.2l-1.9 -6.2l-2 4.3z"/>
<path color="#70fbc9" d="M220.4 334.1l2 -4.3l-1.8 -6.1l-2 4.5z"/>
<path color="#5dfbd6" d="M218.4 338.5l2 -4.4l-1.8 -5.9l-2 4.6z"/>
<path color="#4dfae3" d="M216.4 343.1l2 -4.6l-1.8 -5.7l-2 4.9z"/>
<path color="#39fbf1" d="M214.4 347.9l2 -4.8l-1.8 -5.4l-2.1 4.9z"/>
<path color="#2af6fa" d="M212.4 352.8l2 -4.9l-1.9 -5.3l-2 5.2z"/>
<path color="#26eafb" d="M210.3 357.9l2.1 -5.1l-1.9 -5l-2 5.3z"/>
<path color="#23d7fa" d="M208.3 363.2l2 -5.3l-1.8 -4.8l-2 5.5z"/>
<path color="#1ec3fa" d="M206.3 368.6l2 -5.4l-1.8 -4.6l-2 5.7z"/>
<path color="#1aaefa" d="M204.3 374.3l2 -5.7l-1.8 -4.3l-2 5.9z"/>
<path color="#1294fb" d="M202.3 380.1l2 -5.8l-1.8 -4.1l-2.1 6.1z"/>
<path color="#0c7bfc" d="M200.3 386.2l2 -6.1l-1.9 -3.8l-2 6.4z"/>
<path color="#0860fc" d="M198.2 392.6l2.1 -6.4l-1.9 -3.5l-2 6.6z"/>
<path color="#0544fd" d="M196.2 399.3l2 -6.7l-1.8 -3.3l-2 7z"/>
<path color="#0327fd" d="M194.2 406.3l2 -7l-1.8 -3l-2 7.4z"/>
<path color="#010af9" d="M192.2 413.8l2 -7.5l-1.8 -2.6l-2 7.8z"/>
<path color="#0101e2" d="M190.2 422.1l2 -8.3l-1.8 -2.3l-2.1 8.6z"/>
<path color="#0001bd" d="M188.2 431.4l2 -9.3l-1.9 -2l-2 9.8z"/>
<path color="#020291" d="M186.1 445.2l2.1 -13.8l-1.9 -1.5l-2 14.4z"/>
<path color="#14e6f4" d="M345.2 349.6l2.1 4.6l-1.8 -4.9l-2.1 -4.8z"/>
<path color="#18f4f3" d="M343.2 345.2l2 4.4l-1.8 -5.1l-2 -4.7z"/>
<path color="#22f8ec" d="M341.2 340.9l2 4.3l-1.8 -5.4l-2 -4.5z"/>
<path color="#2df8df" d="M339.2 336.8l2 4.1l-1.8 -5.6l-2 -4.3z"/>
<path color="#38fad0" d="M337.2 332.8l2 4l-1.8 -5.8l-2 -4.2z"/>
<path color="#45fbc2" d="M335.2 328.9l2 3.9l-1.8 -6l-2 -4z"/>
<path color="#55fbb3" d="M333.1 325.2l2.1 3.7l-1.8 -6.1l-2.1 -3.9z"/>
<path color="#63fba3" d="M331.1 321.7l2 3.5l-1.8 -6.3l-2 -3.8z"/>
<path color="#6cfc95" d="M329.1 318.3l2 3.4l-1.8 -6.6l-2 -3.5z"/>
<path color="#77fd87" d="M327.1 315l2 3.3l-1.8 -6.7l-2 -3.5z"/>
<path color="#84fe78" d="M325.1 311.8l2 3.2l-1.8 -6.9l-2 -3.3z"/>
<path color="#92fe6d" d="M323.1 308.9l2 2.9l-1.8 -7l-2 -3.1z"/>
<path color="#9cfe64" d="M321 306l2.1 2.9l-1.8 -7.2l-2.1 -3z"/>
<path color="#a7fe59" d="M319 303.3l2 2.7l-1.8 -7.3l-2 -2.9z"/>
<path color="#b2fe4e" d="M317 300.7l2 2.6l-1.8 -7.5l-2 -2.7z"/>
<path color="#bdfe45" d="M315 298.3l2 2.4l-1.8 -7.6l-2 -2.6z"/>
<path color="#c9fe3c" d="M313 296l2 2.3l-1.8 -7.8l-2 -2.4z"/>
<path color="#d3fe35" d="M311 293.8l2 2.2l-1.8 -7.9l-2 -2.3z"/>
<path color="#dbfe31" d="M308.9 291.8l2.1 2l-1.8 -8l-2.1 -2.1z"/>
<path color="#e3fe30" d="M306.9 289.9l2 1.9l-1.8 -8.1l-2 -2z"/>
<path color="#eafe30" d="M304.9 288.2l2 1.7l-1.8 -8.2l-2 -1.8z"/>
<path color="#f0fd31" d="M302.9 286.6l2 1.6l-1.8 -8.3l-2 -1.7z"/>
<path color="#f5fc32" d="M300.9 285.1l2 1.5l-1.8 -8.4l-2 -1.5z"/>
<path color="#f8fa33" d="M298.9 283.8l2 1.3l-1.8 -8.4l-2 -1.4z"/>
<path color="#faf936" d="M296.8 282.6l2.1 1.2l-1.8 -8.5l-2.1 -1.2z"/>
<path color="#fbf73b" d="M294.8 281.6l2 1l-1.8 -8.5l-2 -1.1z"/>
<path color="#fbf542" d="M292.8 280.7l2 0.9l-1.8 -8.6l-2 -0.9z"/>
<path color="#fbf34a" d="M290.8 280l2 0.7l-1.8 -8.6l-2 -0.8z"/>
<path color="#fbf150" d="M288.8 279.4l2 0.6l-1.8 -8.7l-2 -0.6z"/>
<path color="#faf052" d="M286.8 279l2 0.4l-1.8 -8.7l-2 -0.5z"/>
<path color="#faef51" d="M284.7 278.6l2.1 0.4l-1.8 -8.8l-2.1 -0.3z"/>
<path color="#faee50" d="M282.7 278.5l2 0.1l-1.8 -8.7l-2 -0.2z"/>
<path color="#faee4f" d="M280.7 278.5l2 0l-1.8 -8.8l-2 0z"/>
<path color="#faef50" d="M278.7 278.6l2 -0.1l-1.8 -8.8l-2 0.1z"/>
<path color="#fbef55" d="M276.7 278.9l2 -0.3l-1.8 -8.8l-2 0.3z"/>
<path color="#fbf059" d="M274.7 279.3l2 -0.4l-1.8 -8.8l-2 0.4z"/>
<path color="#fbf05c" d="M272.6 279.8l2.1 -0.5l-1.8 -8.8l-2.1 0.6z"/>
<path color="#faf25c" d="M270.6 280.6l2 -0.8l-1.8 -8.7l-2 0.7z"/>
<path color="#faf35b" d="M268.6 281.4l2 -0.8l-1.8 -8.8l-2 0.9z"/>
<path color="#faf55c" d="M266.6 282.4l2 -1l-1.8 -8.7l-2 1z"/>
<path color="#faf65c" d="M264.6 283.5l2 -1.1l-1.8 -8.7l-2 1.2z"/>
<path color="#f9f85a" d="M262.6 284.8l2 -1.3l-1.8 -8.6l-2 1.4z"/>
<path color="#f9f958" d="M260.5 286.2l2.1 -1.4l-1.8 -8.5l-2.1 1.4z"/>
<path color="#f7fa58" d="M258.5 287.8l2 -1.6l-1.8 -8.5l-2 1.7z"/>
<path color="#f4fa5a" d="M256.5 289.5l2 -1.7l-1.8 -8.4l-2 1.8z"/>
<path color="#f1fb5d" d="M254.5 291.4l2 -1.9l-1.8 -8.3l-2 1.9z"/>
<path color="#edfa5e" d="M252.5 293.4l2 -2l-1.8 -8.3l-2 2.1z"/>
<path color="#e8fa61" d="M250.5 295.5l2 -2.1l-1.8 -8.2l-2 2.2z"/>
<path color="#e3fa69" d="M248.4 297.8l2.1 -2.3l-1.8 -8.1l-2.1 2.4z"/>
<path color="#dbfa71" d="M246.4 300.2l2 -2.4l-1.8 -8l-2 2.5z"/>
<path color="#d3fa70" d="M244.4 302.7l2 -2.5l-1.8 -7.9l-2 2.7z"/>
<path color="#cafa75" d="M242.4 305.4l2 -2.7l-1.8 -7.7l-2 2.8z"/>
<path color="#c1fa7e" d="M240.4 308.3l2 -2.9l-1.8 -7.6l-2 3z"/>
<path color="#b8f984" d="M238.4 311.2l2 -2.9l-1.8 -7.5l-2 3.1z"/>
<path color="#aef98c" d="M236.3 314.3l2.1 -3.1l-1.8 -7.3l-2.1 3.3z"/>
<path color="#a4f997" d="M234.3 317.6l2 -3.3l-1.8 -7.1l-2 3.4z"/>
<path color="#9af9a1" d="M232.3 321l2 -3.4l-1.8 -7l-2 3.5z"/>
<path color="#91f9ac" d="M230.3 324.5l2 -3.5l-1.8 -6.9l-2 3.7z"/>
<path color="#8cf9b8" d="M228.3 328.2l2 -3.7l-1.8 -6.7l-2 3.9z"/>
<path color="#83f9c4" d="M226.3 332l2 -3.8l-1.8 -6.5l-2 3.9z"/>
<path color="#77f9d0" d="M224.2 336l2.1 -4l-1.8 -6.4l-2.1 4.2z"/>
<path color="#68fadb" d="M222.2 340.1l2 -4.1l-1.8 -6.2l-2 4.3z"/>
<path color="#57f9e5" d="M220.2 344.3l2 -4.2l-1.8 -6l-2 4.4z"/>
<path color="#43f9f0" d="M218.2 348.7l2 -4.4l-1.8 -5.8l-2 4.6z"/>
<path color="#33f5f8" d="M216.2 353.2l2 -4.5l-1.8 -5.6l-2 4.8z"/>
<path color="#2becfa" d="M214.2 357.9l2 -4.7l-1.8 -5.3l-2 4.9z"/>
<path color="#2adcf9" d="M212.1 362.8l2.1 -4.9l-1.8 -5.1l-2.1 5.1z"/>
<path color="#27ccf9" d="M210.1 367.8l2 -5l-1.8 -4.9l-2 5.3z"/>
<path color="#26baf8" d="M208.1 373l2 -5.2l-1.8 -4.6l-2 5.4z"/>
<path color="#20a5f9" d="M206.1 378.4l2 -5.4l-1.8 -4.4l-2 5.7z"/>
<path color="#198dfb" d="M204.1 384l2 -5.6l-1.8 -4.1l-2 5.8z"/>
<path color="#1275fb" d="M202.1 389.8l2 -5.8l-1.8 -3.9l-2 6.1z"/>
<path color="#0b5afb" d="M200 395.9l2.1 -6.1l-1.8 -3.6l-2.1 6.4z"/>
<path color="#073efd" d="M198 402.2l2 -6.3l-1.8 -3.3l-2 6.7z"/>
<path color="#0321fd" d="M196 409l2 -6.8l-1.8 -2.9l-2 7z"/>
<path color="#0107f8" d="M194 416.2l2 -7.2l-1.8 -2.7l-2 7.5z"/>
<path color="#0101df" d="M192 424l2 -7.8l-1.8 -2.4l-2 8.3z"/>
<path color="#0001bb" d="M190 432.9l2 -8.9l-1.8 -1.9l-2 9.3z"/>
<path color="#020290" d="M187.9 446l2.1 -13.1l-1.8 -1.5l-2.1 13.8z"/>
<path color="#10c6eb" d="M349 359.2l2 4.5l-1.7 -4.7l-2 -4.8z"/>
<path color="#14d3f1" d="M347 354.8l2 4.4l-1.7 -5l-2.1 -4.6z"/>
<path color="#12e2f5" d="M345 350.6l2 4.2l-1.8 -5.2l-2 -4.4z"/>
<path color="#12f2f5" d="M343 346.5l2 4.1l-1.8 -5.4l-2 -4.3z"/>
<path color="#19f8f0" d="M341 342.6l2 3.9l-1.8 -5.6l-2 -4.1z"/>
<path color="#25f9e4" d="M338.9 338.8l2.1 3.8l-1.8 -5.8l-2 -4z"/>
<path color="#30fbd5" d="M336.9 335.2l2 3.6l-1.7 -6l-2 -3.9z"/>
<path color="#3cfcc8" d="M334.9 331.7l2 3.5l-1.7 -6.3l-2.1 -3.7z"/>
<path color="#49fcba" d="M332.9 328.3l2 3.4l-1.8 -6.5l-2 -3.5z"/>
<path color="#57fcac" d="M330.9 325.1l2 3.2l-1.8 -6.6l-2 -3.4z"/>
<path color="#62fd9e" d="M328.9 322l2 3.1l-1.8 -6.8l-2 -3.3z"/>
<path color="#6cfd92" d="M326.8 319l2.1 3l-1.8 -7l-2 -3.2z"/>
<path color="#76fe87" d="M324.8 316.1l2 2.9l-1.7 -7.2l-2 -2.9z"/>
<path color="#84fe7b" d="M322.8 313.4l2 2.7l-1.7 -7.2l-2.1 -2.9z"/>
<path color="#8ffe73" d="M320.8 310.9l2 2.5l-1.8 -7.4l-2 -2.7z"/>
<path color="#98fe6b" d="M318.8 308.4l2 2.5l-1.8 -7.6l-2 -2.6z"/>
<path color="#a2fe61" d="M316.8 306.1l2 2.3l-1.8 -7.7l-2 -2.4z"/>
<path color="#aefe5b" d="M314.7 303.9l2.1 2.2l-1.8 -7.8l-2 -2.3z"/>
<path color="#b8fe55" d="M312.7 301.9l2 2l-1.7 -7.9l-2 -2.2z"/>
<path color="#c2fd51" d="M310.7 300l2 1.9l-1.7 -8.1l-2.1 -2z"/>
<path color="#cbfd4e" d="M308.7 298.2l2 1.8l-1.8 -8.2l-2 -1.9z"/>
<path color="#d2fd4e" d="M306.7 296.5l2 1.7l-1.8 -8.3l-2 -1.7z"/>
<path color="#d8fd4f" d="M304.7 295l2 1.5l-1.8 -8.3l-2 -1.6z"/>
<path color="#defd4f" d="M302.6 293.7l2.1 1.3l-1.8 -8.4l-2 -1.5z"/>
<path color="#e3fd4e" d="M300.6 292.4l2 1.3l-1.7 -8.6l-2 -1.3z"/>
<path color="#e7fc4f" d="M298.6 291.3l2 1.1l-1.7 -8.6l-2.1 -1.2z"/>
<path color="#ebfc52" d="M296.6 290.4l2 0.9l-1.8 -8.7l-2 -1z"/>
<path color="#eefc57" d="M294.6 289.5l2 0.9l-1.8 -8.8l-2 -0.9z"/>
<path color="#f1fb5a" d="M292.6 288.8l2 0.7l-1.8 -8.8l-2 -0.7z"/>
<path color="#f3fc59" d="M290.5 288.3l2.1 0.5l-1.8 -8.8l-2 -0.6z"/>
<path color="#f5fc57" d="M288.5 287.9l2 0.4l-1.7 -8.9l-2 -0.4z"/>
<path color="#f6fc55" d="M286.5 287.6l2 0.3l-1.7 -8.9l-2.1 -0.4z"/>
<path color="#f6fc56" d="M284.5 287.4l2 0.2l-1.8 -9l-2 -0.1z"/>
<path color="#f8fb56" d="M282.5 287.4l2 0l-1.8 -8.9l-2 0z"/>
<path color="#f7fb59" d="M280.5 287.5l2 -0.1l-1.8 -8.9l-2 0.1z"/>
<path color="#f7fb5d" d="M278.4 287.8l2.1 -0.3l-1.8 -8.9l-2 0.3z"/>
<path color="#f7fb60" d="M276.4 288.2l2 -0.4l-1.7 -8.9l-2 0.4z"/>
<path color="#f6fb63" d="M274.4 288.7l2 -0.5l-1.7 -8.9l-2.1 0.5z"/>
<path color="#f5fb65" d="M272.4 289.4l2 -0.7l-1.8 -8.9l-2 0.8z"/>
<path color="#f4fb67" d="M270.4 290.2l2 -0.8l-1.8 -8.8l-2 0.8z"/>
<path color="#f2fb69" d="M268.4 291.2l2 -1l-1.8 -8.8l-2 1z"/>
<path color="#f0fb6a" d="M266.3 292.3l2.1 -1.1l-1.8 -8.8l-2 1.1z"/>
<path color="#eefb6b" d="M264.3 293.5l2 -1.2l-1.7 -8.8l-2 1.3z"/>
<path color="#ebfb6c" d="M262.3 294.9l2 -1.4l-1.7 -8.7l-2.1 1.4z"/>
<path color="#e7fb6e" d="M260.3 296.3l2 -1.4l-1.8 -8.7l-2 1.6z"/>
<path color="#e3fa70" d="M258.3 298l2 -1.7l-1.8 -8.5l-2 1.7z"/>
<path color="#dffa72" d="M256.3 299.7l2 -1.7l-1.8 -8.5l-2 1.9z"/>
<path color="#dafa74" d="M254.2 301.6l2.1 -1.9l-1.8 -8.3l-2 2z"/>
<path color="#d5fa79" d="M252.2 303.7l2 -2.1l-1.7 -8.2l-2 2.1z"/>
<path color="#cefa80" d="M250.2 305.8l2 -2.1l-1.7 -8.2l-2.1 2.3z"/>
<path color="#c6f981" d="M248.2 308.1l2 -2.3l-1.8 -8l-2 2.4z"/>
<path color="#bdf987" d="M246.2 310.6l2 -2.5l-1.8 -7.9l-2 2.5z"/>
<path color="#b5f98d" d="M244.2 313.1l2 -2.5l-1.8 -7.9l-2 2.7z"/>
<path color="#adf992" d="M242.1 315.8l2.1 -2.7l-1.8 -7.7l-2 2.9z"/>
<path color="#a4f998" d="M240.1 318.7l2 -2.9l-1.7 -7.5l-2 2.9z"/>
<path color="#9bf9a0" d="M238.1 321.6l2 -2.9l-1.7 -7.5l-2.1 3.1z"/>
<path color="#91f9a9" d="M236.1 324.7l2 -3.1l-1.8 -7.3l-2 3.3z"/>
<path color="#87f9b2" d="M234.1 328l2 -3.3l-1.8 -7.1l-2 3.4z"/>
<path color="#7df9bc" d="M232.1 331.3l2 -3.3l-1.8 -7l-2 3.5z"/>
<path color="#75f9c8" d="M230 334.8l2.1 -3.5l-1.8 -6.8l-2 3.7z"/>
<path color="#70f8d4" d="M228 338.4l2 -3.6l-1.7 -6.6l-2 3.8z"/>
<path color="#69f8de" d="M226 342.2l2 -3.8l-1.7 -6.4l-2.1 4z"/>
<path color="#5bf9e8" d="M224 346.1l2 -3.9l-1.8 -6.2l-2 4.1z"/>
<path color="#4bf8f2" d="M222 350.1l2 -4l-1.8 -6l-2 4.2z"/>
<path color="#40f4f7" d="M220 354.3l2 -4.2l-1.8 -5.8l-2 4.4z"/>
<path color="#36edf8" d="M217.9 358.6l2.1 -4.3l-1.8 -5.6l-2 4.5z"/>
<path color="#32def8" d="M215.9 363.1l2 -4.5l-1.7 -5.4l-2 4.7z"/>
<path color="#2dd0f8" d="M213.9 367.7l2 -4.6l-1.7 -5.2l-2.1 4.9z"/>
<path color="#2cc1f7" d="M211.9 372.5l2 -4.8l-1.8 -4.9l-2 5z"/>
<path color="#2cb0f6" d="M209.9 377.4l2 -4.9l-1.8 -4.7l-2 5.2z"/>
<path color="#239cfa" d="M207.9 382.6l2 -5.2l-1.8 -4.4l-2 5.4z"/>
<path color="#1f87fb" d="M205.8 387.9l2.1 -5.3l-1.8 -4.2l-2 5.6z"/>
<path color="#1870f9" d="M203.8 393.4l2 -5.5l-1.7 -3.9l-2 5.8z"/>
<path color="#1054fb" d="M201.8 399.2l2 -5.8l-1.7 -3.6l-2.1 6.1z"/>
<path color="#0939fc" d="M199.8 405.3l2 -6.1l-1.8 -3.3l-2 6.3z"/>
<path color="#041afd" d="M197.8 411.6l2 -6.3l-1.8 -3.1l-2 6.8z"/>
<path color="#0204f6" d="M195.8 418.5l2 -6.9l-1.8 -2.6l-2 7.2z"/>
<path color="#0101db" d="M193.7 425.9l2.1 -7.4l-1.8 -2.3l-2 7.8z"/>
<path color="#0101b9" d="M191.7 434.4l2 -8.5l-1.7 -1.9l-2 8.9z"/>
<path color="#020390" d="M189.7 446.9l2 -12.5l-1.7 -1.5l-2.1 13.1z"/>
<path color="#0d77dd" d="M356.8 377.5l2 4.7l-1.7 -3.9l-2 -5.1z"/>
<path color="#1195ef" d="M354.8 372.8l2 4.7l-1.7 -4.3l-2 -4.8z"/>
<path color="#10a5ef" d="M352.8 368.4l2 4.4l-1.7 -4.4l-2.1 -4.7z"/>
<path color="#10b1f0" d="M350.8 364.1l2 4.3l-1.8 -4.7l-2 -4.5z"/>
<path color="#0ec3ee" d="M348.7 360l2.1 4.1l-1.8 -4.9l-2 -4.4z"/>
<path color="#10d1f2" d="M346.7 356l2 4l-1.7 -5.2l-2 -4.2z"/>
<path color="#0ddef7" d="M344.7 352.2l2 3.8l-1.7 -5.4l-2 -4.1z"/>
<path color="#0ceef8" d="M342.7 348.5l2 3.7l-1.7 -5.7l-2 -3.9z"/>
<path color="#10f8f5" d="M340.7 344.9l2 3.6l-1.7 -5.9l-2.1 -3.8z"/>
<path color="#1bfbeb" d="M338.7 341.5l2 3.4l-1.8 -6.1l-2 -3.6z"/>
<path color="#24fcde" d="M336.6 338.2l2.1 3.3l-1.8 -6.3l-2 -3.5z"/>
<path color="#30fdd1" d="M334.6 335l2 3.2l-1.7 -6.5l-2 -3.4z"/>
<path color="#3bfec5" d="M332.6 331.9l2 3.1l-1.7 -6.7l-2 -3.2z"/>
<path color="#48feb8" d="M330.6 329l2 2.9l-1.7 -6.8l-2 -3.1z"/>
<path color="#55feab" d="M328.6 326.2l2 2.8l-1.7 -7l-2.1 -3z"/>
<path color="#60fda2" d="M326.6 323.5l2 2.7l-1.8 -7.2l-2 -2.9z"/>
<path color="#69fe9a" d="M324.5 320.9l2.1 2.6l-1.8 -7.4l-2 -2.7z"/>
<path color="#75fe90" d="M322.5 318.5l2 2.4l-1.7 -7.5l-2 -2.5z"/>
<path color="#82fd88" d="M320.5 316.2l2 2.3l-1.7 -7.6l-2 -2.5z"/>
<path color="#8cfd82" d="M318.5 314l2 2.2l-1.7 -7.8l-2 -2.3z"/>
<path color="#95fd79" d="M316.5 312l2 2l-1.7 -7.9l-2.1 -2.2z"/>
<path color="#9efd74" d="M314.5 310l2 2l-1.8 -8.1l-2 -2z"/>
<path color="#a8fd71" d="M312.4 308.2l2.1 1.8l-1.8 -8.1l-2 -1.9z"/>
<path color="#b1fc6e" d="M310.4 306.6l2 1.6l-1.7 -8.2l-2 -1.8z"/>
<path color="#b9fc6d" d="M308.4 305l2 1.6l-1.7 -8.4l-2 -1.7z"/>
<path color="#c0fc6b" d="M306.4 303.6l2 1.4l-1.7 -8.5l-2 -1.5z"/>
<path color="#c6fc6a" d="M304.4 302.3l2 1.3l-1.7 -8.6l-2.1 -1.3z"/>
<path color="#ccfc69" d="M302.4 301.1l2 1.2l-1.8 -8.6l-2 -1.3z"/>
<path color="#d0fc6a" d="M300.3 300.1l2.1 1l-1.8 -8.7l-2 -1.1z"/>
<path color="#d5fb6d" d="M298.3 299.2l2 0.9l-1.7 -8.8l-2 -0.9z"/>
<path color="#d9fb6f" d="M296.3 298.4l2 0.8l-1.7 -8.8l-2 -0.9z"/>
<path color="#dcfb71" d="M294.3 297.8l2 0.6l-1.7 -8.9l-2 -0.7z"/>
<path color="#defb71" d="M292.3 297.2l2 0.6l-1.7 -9l-2.1 -0.5z"/>
<path color="#e0fb70" d="M290.3 296.9l2 0.3l-1.8 -8.9l-2 -0.4z"/>
<path color="#e2fb6e" d="M288.2 296.6l2.1 0.3l-1.8 -9l-2 -0.3z"/>
<path color="#e4fb6e" d="M286.2 296.5l2 0.1l-1.7 -9l-2 -0.2z"/>
<path color="#e5fb6e" d="M284.2 296.5l2 0l-1.7 -9.1l-2 0z"/>
<path color="#e5fb72" d="M282.2 296.6l2 -0.1l-1.7 -9.1l-2 0.1z"/>
<path color="#e5fb75" d="M280.2 296.8l2 -0.2l-1.7 -9.1l-2.1 0.3z"/>
<path color="#e5fb77" d="M278.2 297.2l2 -0.4l-1.8 -9l-2 0.4z"/>
<path color="#e4fb79" d="M276.1 297.7l2.1 -0.5l-1.8 -9l-2 0.5z"/>
<path color="#e2fb7b" d="M274.1 298.4l2 -0.7l-1.7 -9l-2 0.7z"/>
<path color="#e1fb7b" d="M272.1 299.2l2 -0.8l-1.7 -9l-2 0.8z"/>
<path color="#dffb7c" d="M270.1 300.1l2 -0.9l-1.7 -9l-2 1z"/>
<path color="#dcfb7e" d="M268.1 301.1l2 -1l-1.7 -8.9l-2.1 1.1z"/>
<path color="#dafa81" d="M266.1 302.3l2 -1.2l-1.8 -8.8l-2 1.2z"/>
<path color="#d6fa83" d="M264 303.6l2.1 -1.3l-1.8 -8.8l-2 1.4z"/>
<path color="#d3fa85" d="M262 305l2 -1.4l-1.7 -8.7l-2 1.4z"/>
<path color="#cffa86" d="M260 306.5l2 -1.5l-1.7 -8.7l-2 1.7z"/>
<path color="#cbf989" d="M258 308.2l2 -1.7l-1.7 -8.5l-2 1.7z"/>
<path color="#c6f98e" d="M256 310l2 -1.8l-1.7 -8.5l-2.1 1.9z"/>
<path color="#c1f993" d="M254 312l2 -2l-1.8 -8.4l-2 2.1z"/>
<path color="#baf895" d="M251.9 314l2.1 -2l-1.8 -8.3l-2 2.1z"/>
<path color="#b2f898" d="M249.9 316.2l2 -2.2l-1.7 -8.2l-2 2.3z"/>
<path color="#aaf89c" d="M247.9 318.5l2 -2.3l-1.7 -8.1l-2 2.5z"/>
<path color="#a2f8a1" d="M245.9 320.9l2 -2.4l-1.7 -7.9l-2 2.5z"/>
<path color="#9bf9a6" d="M243.9 323.5l2 -2.6l-1.7 -7.8l-2.1 2.7z"/>
<path color="#94f9ac" d="M241.9 326.2l2 -2.7l-1.8 -7.7l-2 2.9z"/>
<path color="#8bf8b4" d="M239.8 329l2.1 -2.8l-1.8 -7.5l-2 2.9z"/>
<path color="#81f8bc" d="M237.8 331.9l2 -2.9l-1.7 -7.4l-2 3.1z"/>
<path color="#76f9c5" d="M235.8 335l2 -3.1l-1.7 -7.2l-2 3.3z"/>
<path color="#6cf9cf" d="M233.8 338.2l2 -3.2l-1.7 -7l-2 3.3z"/>
<path color="#64f8d8" d="M231.8 341.5l2 -3.3l-1.7 -6.9l-2.1 3.5z"/>
<path color="#5cf8e1" d="M229.8 344.9l2 -3.4l-1.8 -6.7l-2 3.6z"/>
<path color="#4ff9ea" d="M227.7 348.5l2.1 -3.6l-1.8 -6.5l-2 3.8z"/>
<path color="#45f8f3" d="M225.7 352.2l2 -3.7l-1.7 -6.3l-2 3.9z"/>
<path color="#44f3f7" d="M223.7 356l2 -3.8l-1.7 -6.1l-2 4z"/>
<path color="#40ebf7" d="M221.7 360l2 -4l-1.7 -5.9l-2 4.2z"/>
<path color="#3ce0f6" d="M219.7 364.1l2 -4.1l-1.7 -5.7l-2.1 4.3z"/>
<path color="#36d3f7" d="M217.7 368.3l2 -4.2l-1.8 -5.5l-2 4.5z"/>
<path color="#34c5f6" d="M215.6 372.7l2.1 -4.4l-1.8 -5.2l-2 4.6z"/>
<path color="#34b8f7" d="M213.6 377.2l2 -4.5l-1.7 -5l-2 4.8z"/>
<path color="#2aa5f8" d="M211.6 381.9l2 -4.7l-1.7 -4.7l-2 4.9z"/>
<path color="#2691f9" d="M209.6 386.8l2 -4.9l-1.7 -4.5l-2 5.2z"/>
<path color="#237df9" d="M207.6 391.8l2 -5l-1.7 -4.2l-2.1 5.3z"/>
<path color="#1d68fa" d="M205.6 397.1l2 -5.3l-1.8 -3.9l-2 5.5z"/>
<path color="#164ffb" d="M203.5 402.5l2.1 -5.4l-1.8 -3.7l-2 5.8z"/>
<path color="#0d33fb" d="M201.5 408.3l2 -5.8l-1.7 -3.3l-2 6.1z"/>
<path color="#0616fc" d="M199.5 414.3l2 -6l-1.7 -3l-2 6.3z"/>
<path color="#0203f3" d="M197.5 420.8l2 -6.5l-1.7 -2.7l-2 6.9z"/>
<path color="#0101d8" d="M195.5 427.9l2 -7.1l-1.7 -2.3l-2.1 7.4z"/>
<path color="#0101b6" d="M193.5 435.9l2 -8l-1.8 -2l-2 8.5z"/>
<path color="#02038f" d="M191.4 447.7l2.1 -11.8l-1.8 -1.5l-2 12.5z"/>
<path color="#0a6edd" d="M356.5 377.3l2 4.4l-1.7 -4.2l-2 -4.7z"/>
<path color="#0e93ef" d="M354.5 373.2l2 4.1l-1.7 -4.5l-2 -4.4z"/>
<path color="#0da2f2" d="M352.5 369.1l2 4.1l-1.7 -4.8l-2 -4.3z"/>
<path color="#0daff3" d="M350.4 365.3l2.1 3.8l-1.7 -5l-2.1 -4.1z"/>
<path color="#0ac1f1" d="M348.4 361.5l2 3.8l-1.7 -5.3l-2 -4z"/>
<path color="#0bcdf4" d="M346.4 357.9l2 3.6l-1.7 -5.5l-2 -3.8z"/>
<path color="#09ddf9" d="M344.4 354.4l2 3.5l-1.7 -5.7l-2 -3.7z"/>
<path color="#08ecfa" d="M342.4 351.1l2 3.3l-1.7 -5.9l-2 -3.6z"/>
<path color="#09f7f9" d="M340.4 347.8l2 3.3l-1.7 -6.2l-2 -3.4z"/>
<path color="#0ffbf4" d="M338.3 344.7l2.1 3.1l-1.7 -6.3l-2.1 -3.3z"/>
<path color="#18fde9" d="M336.3 341.7l2 3l-1.7 -6.5l-2 -3.2z"/>
<path color="#24fedc" d="M334.3 338.8l2 2.9l-1.7 -6.7l-2 -3.1z"/>
<path color="#2ffed2" d="M332.3 336.1l2 2.7l-1.7 -6.9l-2 -2.9z"/>
<path color="#3afec6" d="M330.3 333.4l2 2.7l-1.7 -7.1l-2 -2.8z"/>
<path color="#45febb" d="M328.3 330.9l2 2.5l-1.7 -7.2l-2 -2.7z"/>
<path color="#52feb1" d="M326.2 328.5l2.1 2.4l-1.7 -7.4l-2.1 -2.6z"/>
<path color="#5dfeaa" d="M324.2 326.2l2 2.3l-1.7 -7.6l-2 -2.4z"/>
<path color="#68fea4" d="M322.2 324.1l2 2.1l-1.7 -7.7l-2 -2.3z"/>
<path color="#74fd9e" d="M320.2 322l2 2.1l-1.7 -7.9l-2 -2.2z"/>
<path color="#7ffc99" d="M318.2 320.1l2 1.9l-1.7 -8l-2 -2z"/>
<path color="#88fc95" d="M316.2 318.3l2 1.8l-1.7 -8.1l-2 -2z"/>
<path color="#91fc90" d="M314.1 316.6l2.1 1.7l-1.7 -8.3l-2.1 -1.8z"/>
<path color="#99fc8d" d="M312.1 315l2 1.6l-1.7 -8.4l-2 -1.6z"/>
<path color="#a0fb8b" d="M310.1 313.6l2 1.4l-1.7 -8.4l-2 -1.6z"/>
<path color="#a8fb88" d="M308.1 312.2l2 1.4l-1.7 -8.6l-2 -1.4z"/>
<path color="#affa87" d="M306.1 311l2 1.2l-1.7 -8.6l-2 -1.3z"/>
<path color="#b4fa86" d="M304.1 309.9l2 1.1l-1.7 -8.7l-2 -1.2z"/>
<path color="#b9fb86" d="M302 309l2.1 0.9l-1.7 -8.8l-2.1 -1z"/>
<path color="#befb88" d="M300 308.1l2 0.9l-1.7 -8.9l-2 -0.9z"/>
<path color="#c4fb88" d="M298 307.4l2 0.7l-1.7 -8.9l-2 -0.8z"/>
<path color="#c7fb89" d="M296 306.8l2 0.6l-1.7 -9l-2 -0.6z"/>
<path color="#cafb87" d="M294 306.3l2 0.5l-1.7 -9l-2 -0.6z"/>
<path color="#cbfb85" d="M292 305.9l2 0.4l-1.7 -9.1l-2 -0.3z"/>
<path color="#cdfb83" d="M289.9 305.7l2.1 0.2l-1.7 -9l-2.1 -0.3z"/>
<path color="#cdfb82" d="M287.9 305.6l2 0.1l-1.7 -9.1l-2 -0.1z"/>
<path color="#cefa82" d="M285.9 305.6l2 0l-1.7 -9.1l-2 0z"/>
<path color="#cffa85" d="M283.9 305.7l2 -0.1l-1.7 -9.1l-2 0.1z"/>
<path color="#d0fb87" d="M281.9 305.9l2 -0.2l-1.7 -9.1l-2 0.2z"/>
<path color="#d0fb8a" d="M279.9 306.3l2 -0.4l-1.7 -9.1l-2 0.4z"/>
<path color="#cffb8c" d="M277.8 306.8l2.1 -0.5l-1.7 -9.1l-2.1 0.5z"/>
<path color="#cefa8d" d="M275.8 307.4l2 -0.6l-1.7 -9.1l-2 0.7z"/>
<path color="#cdfa8f" d="M273.8 308.2l2 -0.8l-1.7 -9l-2 0.8z"/>
<path color="#cafa91" d="M271.8 309l2 -0.8l-1.7 -9l-2 0.9z"/>
<path color="#c7f993" d="M269.8 310l2 -1l-1.7 -8.9l-2 1z"/>
<path color="#c5f995" d="M267.8 311.1l2 -1.1l-1.7 -8.9l-2 1.2z"/>
<path color="#c2f997" d="M265.7 312.4l2.1 -1.3l-1.7 -8.8l-2.1 1.3z"/>
<path color="#bff99a" d="M263.7 313.7l2 -1.3l-1.7 -8.8l-2 1.4z"/>
<path color="#bbf99c" d="M261.7 315.2l2 -1.5l-1.7 -8.7l-2 1.5z"/>
<path color="#b7f99f" d="M259.7 316.8l2 -1.6l-1.7 -8.7l-2 1.7z"/>
<path color="#b2f8a3" d="M257.7 318.5l2 -1.7l-1.7 -8.6l-2 1.8z"/>
<path color="#aef8a7" d="M255.7 320.3l2 -1.8l-1.7 -8.5l-2 2z"/>
<path color="#a7f8a9" d="M253.6 322.2l2.1 -1.9l-1.7 -8.3l-2.1 2z"/>
<path color="#9ff8ad" d="M251.6 324.3l2 -2.1l-1.7 -8.2l-2 2.2z"/>
<path color="#96f9b0" d="M249.6 326.5l2 -2.2l-1.7 -8.1l-2 2.3z"/>
<path color="#90f8b5" d="M247.6 328.8l2 -2.3l-1.7 -8l-2 2.4z"/>
<path color="#88f8bb" d="M245.6 331.2l2 -2.4l-1.7 -7.9l-2 2.6z"/>
<path color="#80f8c2" d="M243.6 333.8l2 -2.6l-1.7 -7.7l-2 2.7z"/>
<path color="#79f7c9" d="M241.5 336.4l2.1 -2.6l-1.7 -7.6l-2.1 2.8z"/>
<path color="#6ff7d1" d="M239.5 339.2l2 -2.8l-1.7 -7.4l-2 2.9z"/>
<path color="#65f7d9" d="M237.5 342.1l2 -2.9l-1.7 -7.3l-2 3.1z"/>
<path color="#5af7e1" d="M235.5 345.1l2 -3l-1.7 -7.1l-2 3.2z"/>
<path color="#50f7e8" d="M233.5 348.2l2 -3.1l-1.7 -6.9l-2 3.3z"/>
<path color="#45f8ef" d="M231.5 351.5l2 -3.3l-1.7 -6.7l-2 3.4z"/>
<path color="#3ef6f5" d="M229.4 354.9l2.1 -3.4l-1.7 -6.6l-2.1 3.6z"/>
<path color="#3ff0f7" d="M227.4 358.3l2 -3.4l-1.7 -6.4l-2 3.7z"/>
<path color="#3fe7f6" d="M225.4 362l2 -3.7l-1.7 -6.1l-2 3.8z"/>
<path color="#3eddf5" d="M223.4 365.7l2 -3.7l-1.7 -6l-2 4z"/>
<path color="#3ed2f5" d="M221.4 369.6l2 -3.9l-1.7 -5.7l-2 4.1z"/>
<path color="#3dc5f4" d="M219.4 373.6l2 -4l-1.7 -5.5l-2 4.2z"/>
<path color="#37b8f4" d="M217.3 377.7l2.1 -4.1l-1.7 -5.3l-2.1 4.4z"/>
<path color="#2fabf6" d="M215.3 382l2 -4.3l-1.7 -5l-2 4.5z"/>
<path color="#2f9bf7" d="M213.3 386.4l2 -4.4l-1.7 -4.8l-2 4.7z"/>
<path color="#2c88f7" d="M211.3 391l2 -4.6l-1.7 -4.5l-2 4.9z"/>
<path color="#2775f8" d="M209.3 395.8l2 -4.8l-1.7 -4.2l-2 5z"/>
<path color="#2260fa" d="M207.3 400.7l2 -4.9l-1.7 -4l-2 5.3z"/>
<path color="#1b4afa" d="M205.2 405.9l2.1 -5.2l-1.7 -3.6l-2.1 5.4z"/>
<path color="#122efb" d="M203.2 411.3l2 -5.4l-1.7 -3.4l-2 5.8z"/>
<path color="#0912f9" d="M201.2 417l2 -5.7l-1.7 -3l-2 6z"/>
<path color="#0303ec" d="M199.2 423.1l2 -6.1l-1.7 -2.7l-2 6.5z"/>
<path color="#0101d2" d="M197.2 429.8l2 -6.7l-1.7 -2.3l-2 7.1z"/>
<path color="#0001b3" d="M195.2 437.4l2 -7.6l-1.7 -1.9l-2 8z"/>
<path color="#02028e" d="M193.1 448.5l2.1 -11.1l-1.7 -1.5l-2.1 11.8z"/>
<path color="#0629d0" d="M364.2 394.5l2 4.6l-1.6 -3.3l-2.1 -4.9z"/>
<path color="#072fcc" d="M362.2 390.1l2 4.4l-1.7 -3.6l-2 -4.7z"/>
<path color="#0739ca" d="M360.2 385.9l2 4.2l-1.7 -3.9l-2 -4.5z"/>
<path color="#074ed2" d="M358.1 381.9l2.1 4l-1.7 -4.2l-2 -4.4z"/>
<path color="#075dda" d="M356.1 377.9l2 4l-1.6 -4.6l-2 -4.1z"/>
<path color="#0b8bee" d="M354.1 374.2l2 3.7l-1.6 -4.7l-2 -4.1z"/>
<path color="#0a9ef4" d="M352.1 370.5l2 3.7l-1.6 -5.1l-2.1 -3.8z"/>
<path color="#0aaef5" d="M350.1 367l2 3.5l-1.7 -5.2l-2 -3.8z"/>
<path color="#08bbf4" d="M348.1 363.6l2 3.4l-1.7 -5.5l-2 -3.6z"/>
<path color="#08cbf6" d="M346 360.4l2.1 3.2l-1.7 -5.7l-2 -3.5z"/>
<path color="#06d7fa" d="M344 357.2l2 3.2l-1.6 -6l-2 -3.3z"/>
<path color="#04e4fc" d="M342 354.2l2 3l-1.6 -6.1l-2 -3.3z"/>
<path color="#04f0fb" d="M340 351.3l2 2.9l-1.6 -6.4l-2.1 -3.1z"/>
<path color="#06f8f9" d="M338 348.5l2 2.8l-1.7 -6.6l-2 -3z"/>
<path color="#0dfcf3" d="M336 345.8l2 2.7l-1.7 -6.8l-2 -2.9z"/>
<path color="#17fdea" d="M333.9 343.2l2.1 2.6l-1.7 -7l-2 -2.7z"/>
<path color="#24fee0" d="M331.9 340.7l2 2.5l-1.6 -7.1l-2 -2.7z"/>
<path color="#30fed6" d="M329.9 338.4l2 2.3l-1.6 -7.3l-2 -2.5z"/>
<path color="#3afecd" d="M327.9 336.1l2 2.3l-1.6 -7.5l-2.1 -2.4z"/>
<path color="#46fdc5" d="M325.9 334l2 2.1l-1.7 -7.6l-2 -2.3z"/>
<path color="#52fdbe" d="M323.9 332l2 2l-1.7 -7.8l-2 -2.1z"/>
<path color="#5efcba" d="M321.8 330l2.1 2l-1.7 -7.9l-2 -2.1z"/>
<path color="#69fcb4" d="M319.8 328.2l2 1.8l-1.6 -8l-2 -1.9z"/>
<path color="#72fbaf" d="M317.8 326.5l2 1.7l-1.6 -8.1l-2 -1.8z"/>
<path color="#7bfbab" d="M315.8 325l2 1.5l-1.6 -8.2l-2.1 -1.7z"/>
<path color="#83fba9" d="M313.8 323.5l2 1.5l-1.7 -8.4l-2 -1.6z"/>
<path color="#8afba7" d="M311.8 322.1l2 1.4l-1.7 -8.5l-2 -1.4z"/>
<path color="#92faa5" d="M309.7 320.9l2.1 1.2l-1.7 -8.5l-2 -1.4z"/>
<path color="#98faa3" d="M307.7 319.8l2 1.1l-1.6 -8.7l-2 -1.2z"/>
<path color="#9efaa1" d="M305.7 318.7l2 1.1l-1.6 -8.8l-2 -1.1z"/>
<path color="#a5faa0" d="M303.7 317.8l2 0.9l-1.6 -8.8l-2.1 -0.9z"/>
<path color="#aafaa0" d="M301.7 317.1l2 0.7l-1.7 -8.8l-2 -0.9z"/>
<path color="#aefaa0" d="M299.7 316.4l2 0.7l-1.7 -9l-2 -0.7z"/>
<path color="#b2fa9f" d="M297.6 315.8l2.1 0.6l-1.7 -9l-2 -0.6z"/>
<path color="#b3fa9e" d="M295.6 315.4l2 0.4l-1.6 -9l-2 -0.5z"/>
<path color="#b5f99e" d="M293.6 315l2 0.4l-1.6 -9.1l-2 -0.4z"/>
<path color="#b6f99d" d="M291.6 314.8l2 0.2l-1.6 -9.1l-2.1 -0.2z"/>
<path color="#b7f99e" d="M289.6 314.7l2 0.1l-1.7 -9.1l-2 -0.1z"/>
<path color="#b8f99f" d="M287.6 314.7l2 0l-1.7 -9.1l-2 0z"/>
<path color="#b9f9a0" d="M285.5 314.9l2.1 -0.2l-1.7 -9.1l-2 0.1z"/>
<path color="#bafaa2" d="M283.5 315.1l2 -0.2l-1.6 -9.2l-2 0.2z"/>
<path color="#bbf9a3" d="M281.5 315.5l2 -0.4l-1.6 -9.2l-2 0.4z"/>
<path color="#baf9a4" d="M279.5 315.9l2 -0.4l-1.6 -9.2l-2.1 0.5z"/>
<path color="#b9f9a4" d="M277.5 316.5l2 -0.6l-1.7 -9.1l-2 0.6z"/>
<path color="#b8f9a5" d="M275.5 317.2l2 -0.7l-1.7 -9.1l-2 0.8z"/>
<path color="#b6f9a7" d="M273.4 318l2.1 -0.8l-1.7 -9l-2 0.8z"/>
<path color="#b4f9a9" d="M271.4 319l2 -1l-1.6 -9l-2 1z"/>
<path color="#b1f8ab" d="M269.4 320l2 -1l-1.6 -9l-2 1.1z"/>
<path color="#aef8ad" d="M267.4 321.2l2 -1.2l-1.6 -8.9l-2.1 1.3z"/>
<path color="#aaf8ae" d="M265.4 322.4l2 -1.2l-1.7 -8.8l-2 1.3z"/>
<path color="#a7f8b1" d="M263.4 323.8l2 -1.4l-1.7 -8.7l-2 1.5z"/>
<path color="#a4f8b4" d="M261.3 325.3l2.1 -1.5l-1.7 -8.6l-2 1.6z"/>
<path color="#a2f7b8" d="M259.3 326.9l2 -1.6l-1.6 -8.5l-2 1.7z"/>
<path color="#9cf7ba" d="M257.3 328.7l2 -1.8l-1.6 -8.4l-2 1.8z"/>
<path color="#94f7bd" d="M255.3 330.5l2 -1.8l-1.6 -8.4l-2.1 1.9z"/>
<path color="#8df8c1" d="M253.3 332.5l2 -2l-1.7 -8.3l-2 2.1z"/>
<path color="#88f7c7" d="M251.3 334.5l2 -2l-1.7 -8.2l-2 2.2z"/>
<path color="#80f7cc" d="M249.2 336.7l2.1 -2.2l-1.7 -8l-2 2.3z"/>
<path color="#78f7d1" d="M247.2 339l2 -2.3l-1.6 -7.9l-2 2.4z"/>
<path color="#6ff7d6" d="M245.2 341.4l2 -2.4l-1.6 -7.8l-2 2.6z"/>
<path color="#67f6dd" d="M243.2 343.9l2 -2.5l-1.6 -7.6l-2.1 2.6z"/>
<path color="#5ff6e3" d="M241.2 346.5l2 -2.6l-1.7 -7.5l-2 2.8z"/>
<path color="#54f6ea" d="M239.2 349.2l2 -2.7l-1.7 -7.3l-2 2.9z"/>
<path color="#4af6f0" d="M237.1 352l2.1 -2.8l-1.7 -7.1l-2 3z"/>
<path color="#3ff6f4" d="M235.1 355l2 -3l-1.6 -6.9l-2 3.1z"/>
<path color="#3bf1f6" d="M233.1 358l2 -3l-1.6 -6.8l-2 3.3z"/>
<path color="#38eaf6" d="M231.1 361.2l2 -3.2l-1.6 -6.5l-2.1 3.4z"/>
<path color="#37e1f5" d="M229.1 364.5l2 -3.3l-1.7 -6.3l-2 3.4z"/>
<path color="#3ad8f4" d="M227.1 367.9l2 -3.4l-1.7 -6.2l-2 3.7z"/>
<path color="#3ccdf3" d="M225 371.4l2.1 -3.5l-1.7 -5.9l-2 3.7z"/>
<path color="#3ec3f3" d="M223 375.1l2 -3.7l-1.6 -5.7l-2 3.9z"/>
<path color="#3ab9f5" d="M221 378.8l2 -3.7l-1.6 -5.5l-2 4z"/>
<path color="#30a9f3" d="M219 382.7l2 -3.9l-1.6 -5.2l-2.1 4.1z"/>
<path color="#35a0f4" d="M217 386.8l2 -4.1l-1.7 -5l-2 4.3z"/>
<path color="#3692f5" d="M215 390.9l2 -4.1l-1.7 -4.8l-2 4.4z"/>
<path color="#3180f4" d="M212.9 395.2l2.1 -4.3l-1.7 -4.5l-2 4.6z"/>
<path color="#2b6df6" d="M210.9 399.7l2 -4.5l-1.6 -4.2l-2 4.8z"/>
<path color="#255af8" d="M208.9 404.4l2 -4.7l-1.6 -3.9l-2 4.9z"/>
<path color="#1e43f9" d="M206.9 409.2l2 -4.8l-1.6 -3.7l-2.1 5.2z"/>
<path color="#1629fa" d="M204.9 414.3l2 -5.1l-1.7 -3.3l-2 5.4z"/>
<path color="#0d12f6" d="M202.9 419.7l2 -5.4l-1.7 -3l-2 5.7z"/>
<path color="#0605e7" d="M200.8 425.5l2.1 -5.8l-1.7 -2.7l-2 6.1z"/>
<path color="#0202cd" d="M198.8 431.7l2 -6.2l-1.6 -2.4l-2 6.7z"/>
<path color="#0001b2" d="M196.8 438.9l2 -7.2l-1.6 -1.9l-2 7.6z"/>
<path color="#02028f" d="M194.8 449.3l2 -10.4l-1.6 -1.5l-2.1 11.1z"/>
<path color="#041cc6" d="M365.8 398.2l2 4.3l-1.6 -3.4l-2 -4.6z"/>
<path color="#0627ce" d="M363.8 394.1l2 4.1l-1.6 -3.7l-2 -4.4z"/>
<path color="#0732d1" d="M361.8 390.1l2 4l-1.6 -4l-2 -4.2z"/>
<path color="#073fd3" d="M359.8 386.4l2 3.7l-1.6 -4.2l-2.1 -4z"/>
<path color="#0652db" d="M357.7 382.7l2.1 3.7l-1.7 -4.5l-2 -4z"/>
<path color="#0876e8" d="M355.7 379.2l2 3.5l-1.6 -4.8l-2 -3.7z"/>
<path color="#098ff2" d="M353.7 375.8l2 3.4l-1.6 -5l-2 -3.7z"/>
<path color="#079cf7" d="M351.7 372.5l2 3.3l-1.6 -5.3l-2 -3.5z"/>
<path color="#06a8f8" d="M349.7 369.4l2 3.1l-1.6 -5.5l-2 -3.4z"/>
<path color="#06b7f8" d="M347.7 366.3l2 3.1l-1.6 -5.8l-2.1 -3.2z"/>
<path color="#05c4f9" d="M345.6 363.4l2.1 2.9l-1.7 -5.9l-2 -3.2z"/>
<path color="#05cdfc" d="M343.6 360.6l2 2.8l-1.6 -6.2l-2 -3z"/>
<path color="#03dafc" d="M341.6 357.9l2 2.7l-1.6 -6.4l-2 -2.9z"/>
<path color="#03e6fb" d="M339.6 355.2l2 2.7l-1.6 -6.6l-2 -2.8z"/>
<path color="#05effb" d="M337.6 352.7l2 2.5l-1.6 -6.7l-2 -2.7z"/>
<path color="#09f5f9" d="M335.6 350.3l2 2.4l-1.6 -6.9l-2.1 -2.6z"/>
<path color="#10f9f6" d="M333.5 348l2.1 2.3l-1.7 -7.1l-2 -2.5z"/>
<path color="#19fcf0" d="M331.5 345.8l2 2.2l-1.6 -7.3l-2 -2.3z"/>
<path color="#25fde9" d="M329.5 343.7l2 2.1l-1.6 -7.4l-2 -2.3z"/>
<path color="#32fde2" d="M327.5 341.7l2 2l-1.6 -7.6l-2 -2.1z"/>
<path color="#3efcd9" d="M325.5 339.9l2 1.8l-1.6 -7.7l-2 -2z"/>
<path color="#48fcd5" d="M323.5 338.1l2 1.8l-1.6 -7.9l-2.1 -2z"/>
<path color="#53fbd0" d="M321.4 336.4l2.1 1.7l-1.7 -8.1l-2 -1.8z"/>
<path color="#5dfbcb" d="M319.4 334.8l2 1.6l-1.6 -8.2l-2 -1.7z"/>
<path color="#66fac6" d="M317.4 333.4l2 1.4l-1.6 -8.3l-2 -1.5z"/>
<path color="#6ff9c1" d="M315.4 332l2 1.4l-1.6 -8.4l-2 -1.5z"/>
<path color="#77f9bf" d="M313.4 330.7l2 1.3l-1.6 -8.5l-2 -1.4z"/>
<path color="#7ef9bc" d="M311.4 329.6l2 1.1l-1.6 -8.6l-2.1 -1.2z"/>
<path color="#85f8ba" d="M309.3 328.5l2.1 1.1l-1.7 -8.7l-2 -1.1z"/>
<path color="#8bf8b9" d="M307.3 327.6l2 0.9l-1.6 -8.7l-2 -1.1z"/>
<path color="#91f9b8" d="M305.3 326.7l2 0.9l-1.6 -8.9l-2 -0.9z"/>
<path color="#96f9b9" d="M303.3 326l2 0.7l-1.6 -8.9l-2 -0.7z"/>
<path color="#99f8b8" d="M301.3 325.4l2 0.6l-1.6 -8.9l-2 -0.7z"/>
<path color="#9cf8b6" d="M299.3 324.9l2 0.5l-1.6 -9l-2.1 -0.6z"/>
<path color="#9ef8b4" d="M297.2 324.5l2.1 0.4l-1.7 -9.1l-2 -0.4z"/>
<path color="#a0f8b3" d="M295.2 324.2l2 0.3l-1.6 -9.1l-2 -0.4z"/>
<path color="#a2f9b3" d="M293.2 324l2 0.2l-1.6 -9.2l-2 -0.2z"/>
<path color="#a4f9b1" d="M291.2 323.9l2 0.1l-1.6 -9.2l-2 -0.1z"/>
<path color="#a5f8b0" d="M289.2 323.9l2 0l-1.6 -9.2l-2 0z"/>
<path color="#a7f8b1" d="M287.2 324l2 -0.1l-1.6 -9.2l-2.1 0.2z"/>
<path color="#a8f8b3" d="M285.1 324.3l2.1 -0.3l-1.7 -9.1l-2 0.2z"/>
<path color="#a9f8b5" d="M283.1 324.6l2 -0.3l-1.6 -9.2l-2 0.4z"/>
<path color="#a8f8b7" d="M281.1 325.1l2 -0.5l-1.6 -9.1l-2 0.4z"/>
<path color="#a6f8b9" d="M279.1 325.6l2 -0.5l-1.6 -9.2l-2 0.6z"/>
<path color="#a4f8bb" d="M277.1 326.3l2 -0.7l-1.6 -9.1l-2 0.7z"/>
<path color="#a2f8bc" d="M275.1 327.1l2 -0.8l-1.6 -9.1l-2.1 0.8z"/>
<path color="#a0f8be" d="M273 327.9l2.1 -0.8l-1.7 -9.1l-2 1z"/>
<path color="#9ef7be" d="M271 328.9l2 -1l-1.6 -8.9l-2 1z"/>
<path color="#9bf7c0" d="M269 330l2 -1.1l-1.6 -8.9l-2 1.2z"/>
<path color="#99f7c3" d="M267 331.2l2 -1.2l-1.6 -8.8l-2 1.2z"/>
<path color="#99f6c6" d="M265 332.5l2 -1.3l-1.6 -8.8l-2 1.4z"/>
<path color="#95f6c9" d="M263 333.9l2 -1.4l-1.6 -8.7l-2.1 1.5z"/>
<path color="#8ff6cb" d="M260.9 335.4l2.1 -1.5l-1.7 -8.6l-2 1.6z"/>
<path color="#87f6ce" d="M258.9 337.1l2 -1.7l-1.6 -8.5l-2 1.8z"/>
<path color="#80f6d2" d="M256.9 338.8l2 -1.7l-1.6 -8.4l-2 1.8z"/>
<path color="#7bf7d6" d="M254.9 340.6l2 -1.8l-1.6 -8.3l-2 2z"/>
<path color="#75f7db" d="M252.9 342.5l2 -1.9l-1.6 -8.1l-2 2z"/>
<path color="#6df8df" d="M250.9 344.6l2 -2.1l-1.6 -8l-2.1 2.2z"/>
<path color="#65f7e3" d="M248.8 346.7l2.1 -2.1l-1.7 -7.9l-2 2.3z"/>
<path color="#5df6e7" d="M246.8 349l2 -2.3l-1.6 -7.7l-2 2.4z"/>
<path color="#54f6ec" d="M244.8 351.3l2 -2.3l-1.6 -7.6l-2 2.5z"/>
<path color="#4cf5f0" d="M242.8 353.8l2 -2.5l-1.6 -7.4l-2 2.6z"/>
<path color="#47f3f3" d="M240.8 356.3l2 -2.5l-1.6 -7.3l-2 2.7z"/>
<path color="#42eff4" d="M238.8 359l2 -2.7l-1.6 -7.1l-2.1 2.8z"/>
<path color="#40eaf4" d="M236.7 361.8l2.1 -2.8l-1.7 -7l-2 3z"/>
<path color="#3ee3f5" d="M234.7 364.6l2 -2.8l-1.6 -6.8l-2 3z"/>
<path color="#39dbf5" d="M232.7 367.6l2 -3l-1.6 -6.6l-2 3.2z"/>
<path color="#39d2f5" d="M230.7 370.7l2 -3.1l-1.6 -6.4l-2 3.3z"/>
<path color="#37c8f3" d="M228.7 373.9l2 -3.2l-1.6 -6.2l-2 3.4z"/>
<path color="#35bef3" d="M226.7 377.2l2 -3.3l-1.6 -6l-2.1 3.5z"/>
<path color="#30b2f4" d="M224.6 380.6l2.1 -3.4l-1.7 -5.8l-2 3.7z"/>
<path color="#2ca6f4" d="M222.6 384.1l2 -3.5l-1.6 -5.5l-2 3.7z"/>
<path color="#329ef3" d="M220.6 387.8l2 -3.7l-1.6 -5.3l-2 3.9z"/>
<path color="#3995f4" d="M218.6 391.5l2 -3.7l-1.6 -5.1l-2 4.1z"/>
<path color="#3a89f3" d="M216.6 395.4l2 -3.9l-1.6 -4.7l-2 4.1z"/>
<path color="#377bf2" d="M214.6 399.5l2 -4.1l-1.6 -4.5l-2.1 4.3z"/>
<path color="#3169f4" d="M212.5 403.7l2.1 -4.2l-1.7 -4.3l-2 4.5z"/>
<path color="#2a54f4" d="M210.5 408l2 -4.3l-1.6 -4l-2 4.7z"/>
<path color="#233ef7" d="M208.5 412.6l2 -4.6l-1.6 -3.6l-2 4.8z"/>
<path color="#1b27f9" d="M206.5 417.3l2 -4.7l-1.6 -3.4l-2 5.1z"/>
<path color="#1113f3" d="M204.5 422.4l2 -5.1l-1.6 -3l-2 5.4z"/>
<path color="#0808e0" d="M202.5 427.8l2 -5.4l-1.6 -2.7l-2.1 5.8z"/>
<path color="#0303c9" d="M200.4 433.6l2.1 -5.8l-1.7 -2.3l-2 6.2z"/>
<path color="#0101af" d="M198.4 440.3l2 -6.7l-1.6 -1.9l-2 7.2z"/>
<path color="#02028f" d="M196.4 450.1l2 -9.8l-1.6 -1.4l-2 10.4z"/>
<path color="#0410d6" d="M369.4 405.8l2 4.2l-1.6 -3l-2 -4.5z"/>
<path color="#0415d1" d="M367.4 401.8l2 4l-1.6 -3.3l-2 -4.3z"/>
<path color="#0522d3" d="M365.4 398l2 3.8l-1.6 -3.6l-2 -4.1z"/>
<path color="#062dd8" d="M363.3 394.4l2.1 3.6l-1.6 -3.9l-2 -4z"/>
<path color="#073adc" d="M361.3 390.8l2 3.6l-1.5 -4.3l-2 -3.7z"/>
<path color="#074be1" d="M359.3 387.5l2 3.3l-1.5 -4.4l-2.1 -3.7z"/>
<path color="#065fe9" d="M357.3 384.2l2 3.3l-1.6 -4.8l-2 -3.5z"/>
<path color="#0676f0" d="M355.3 381.1l2 3.1l-1.6 -5l-2 -3.4z"/>
<path color="#0689f5" d="M353.3 378l2 3.1l-1.6 -5.3l-2 -3.3z"/>
<path color="#0497f9" d="M351.2 375.1l2.1 2.9l-1.6 -5.5l-2 -3.1z"/>
<path color="#03a2fc" d="M349.2 372.3l2 2.8l-1.5 -5.7l-2 -3.1z"/>
<path color="#04aefb" d="M347.2 369.6l2 2.7l-1.5 -6l-2.1 -2.9z"/>
<path color="#04b9fb" d="M345.2 366.9l2 2.7l-1.6 -6.2l-2 -2.8z"/>
<path color="#06c3fd" d="M343.2 364.4l2 2.5l-1.6 -6.3l-2 -2.7z"/>
<path color="#05ccfd" d="M341.2 362l2 2.4l-1.6 -6.5l-2 -2.7z"/>
<path color="#05d7fc" d="M339.1 359.7l2.1 2.3l-1.6 -6.8l-2 -2.5z"/>
<path color="#09e1fc" d="M337.1 357.4l2 2.3l-1.5 -7l-2 -2.4z"/>
<path color="#0de9fb" d="M335.1 355.3l2 2.1l-1.5 -7.1l-2.1 -2.3z"/>
<path color="#12f0fa" d="M333.1 353.3l2 2l-1.6 -7.3l-2 -2.2z"/>
<path color="#18f6fa" d="M331.1 351.3l2 2l-1.6 -7.5l-2 -2.1z"/>
<path color="#20f9f8" d="M329.1 349.5l2 1.8l-1.6 -7.6l-2 -2z"/>
<path color="#2cfaf3" d="M327 347.8l2.1 1.7l-1.6 -7.8l-2 -1.8z"/>
<path color="#36f9ee" d="M325 346.1l2 1.7l-1.5 -7.9l-2 -1.8z"/>
<path color="#40f9e9" d="M323 344.6l2 1.5l-1.5 -8l-2.1 -1.7z"/>
<path color="#48f9e5" d="M321 343.1l2 1.5l-1.6 -8.2l-2 -1.6z"/>
<path color="#51f9e0" d="M319 341.7l2 1.4l-1.6 -8.3l-2 -1.4z"/>
<path color="#59f9dc" d="M317 340.5l2 1.2l-1.6 -8.3l-2 -1.4z"/>
<path color="#61f8d9" d="M314.9 339.3l2.1 1.2l-1.6 -8.5l-2 -1.3z"/>
<path color="#68f8d6" d="M312.9 338.3l2 1l-1.5 -8.6l-2 -1.1z"/>
<path color="#6ff8d4" d="M310.9 337.3l2 1l-1.5 -8.7l-2.1 -1.1z"/>
<path color="#76f8d3" d="M308.9 336.4l2 0.9l-1.6 -8.8l-2 -0.9z"/>
<path color="#7cf8d2" d="M306.9 335.6l2 0.8l-1.6 -8.8l-2 -0.9z"/>
<path color="#81f8d0" d="M304.9 335l2 0.6l-1.6 -8.9l-2 -0.7z"/>
<path color="#84f8ce" d="M302.8 334.4l2.1 0.6l-1.6 -9l-2 -0.6z"/>
<path color="#87f8cd" d="M300.8 333.9l2 0.5l-1.5 -9l-2 -0.5z"/>
<path color="#8bf8cc" d="M298.8 333.6l2 0.3l-1.5 -9l-2.1 -0.4z"/>
<path color="#8df8cc" d="M296.8 333.3l2 0.3l-1.6 -9.1l-2 -0.3z"/>
<path color="#8ff8cb" d="M294.8 333.1l2 0.2l-1.6 -9.1l-2 -0.2z"/>
<path color="#8ff8cb" d="M292.8 333l2 0.1l-1.6 -9.1l-2 -0.1z"/>
<path color="#8ff8cb" d="M290.7 333.1l2.1 -0.1l-1.6 -9.1l-2 0z"/>
<path color="#90f8cc" d="M288.7 333.2l2 -0.1l-1.5 -9.2l-2 0.1z"/>
<path color="#92f8cc" d="M286.7 333.4l2 -0.2l-1.5 -9.2l-2.1 0.3z"/>
<path color="#94f7cd" d="M284.7 333.8l2 -0.4l-1.6 -9.1l-2 0.3z"/>
<path color="#95f7ce" d="M282.7 334.2l2 -0.4l-1.6 -9.2l-2 0.5z"/>
<path color="#94f7cf" d="M280.7 334.7l2 -0.5l-1.6 -9.1l-2 0.5z"/>
<path color="#94f7d0" d="M278.6 335.3l2.1 -0.6l-1.6 -9.1l-2 0.7z"/>
<path color="#92f7d2" d="M276.6 336.1l2 -0.8l-1.5 -9l-2 0.8z"/>
<path color="#90f7d4" d="M274.6 336.9l2 -0.8l-1.5 -9l-2.1 0.8z"/>
<path color="#8df6d5" d="M272.6 337.8l2 -0.9l-1.6 -9l-2 1z"/>
<path color="#8af6d6" d="M270.6 338.8l2 -1l-1.6 -8.9l-2 1.1z"/>
<path color="#87f7d8" d="M268.6 340l2 -1.2l-1.6 -8.8l-2 1.2z"/>
<path color="#85f7db" d="M266.5 341.2l2.1 -1.2l-1.6 -8.8l-2 1.3z"/>
<path color="#82f7de" d="M264.5 342.5l2 -1.3l-1.5 -8.7l-2 1.4z"/>
<path color="#7cf7df" d="M262.5 343.9l2 -1.4l-1.5 -8.6l-2.1 1.5z"/>
<path color="#74f6e1" d="M260.5 345.4l2 -1.5l-1.6 -8.5l-2 1.7z"/>
<path color="#6ef5e4" d="M258.5 347.1l2 -1.7l-1.6 -8.3l-2 1.7z"/>
<path color="#67f6e8" d="M256.5 348.8l2 -1.7l-1.6 -8.3l-2 1.8z"/>
<path color="#60f6eb" d="M254.4 350.6l2.1 -1.8l-1.6 -8.2l-2 1.9z"/>
<path color="#5af6ee" d="M252.4 352.5l2 -1.9l-1.5 -8.1l-2 2.1z"/>
<path color="#54f5f0" d="M250.4 354.5l2 -2l-1.5 -7.9l-2.1 2.1z"/>
<path color="#4df4f3" d="M248.4 356.6l2 -2.1l-1.6 -7.8l-2 2.3z"/>
<path color="#48f2f4" d="M246.4 358.8l2 -2.2l-1.6 -7.6l-2 2.3z"/>
<path color="#46edf4" d="M244.4 361.1l2 -2.3l-1.6 -7.5l-2 2.5z"/>
<path color="#45e6f4" d="M242.3 363.4l2.1 -2.3l-1.6 -7.3l-2 2.5z"/>
<path color="#46dff3" d="M240.3 365.9l2 -2.5l-1.5 -7.1l-2 2.7z"/>
<path color="#45d9f3" d="M238.3 368.5l2 -2.6l-1.5 -6.9l-2.1 2.8z"/>
<path color="#41d3f3" d="M236.3 371.2l2 -2.7l-1.6 -6.7l-2 2.8z"/>
<path color="#3dccf3" d="M234.3 374l2 -2.8l-1.6 -6.6l-2 3z"/>
<path color="#3ac4f2" d="M232.3 376.8l2 -2.8l-1.6 -6.4l-2 3.1z"/>
<path color="#36b8f2" d="M230.2 379.8l2.1 -3l-1.6 -6.1l-2 3.2z"/>
<path color="#30acf3" d="M228.2 382.9l2 -3.1l-1.5 -5.9l-2 3.3z"/>
<path color="#2da2f4" d="M226.2 386.1l2 -3.2l-1.5 -5.7l-2.1 3.4z"/>
<path color="#2f9af2" d="M224.2 389.4l2 -3.3l-1.6 -5.5l-2 3.5z"/>
<path color="#318ef2" d="M222.2 392.8l2 -3.4l-1.6 -5.3l-2 3.7z"/>
<path color="#3081f1" d="M220.2 396.3l2 -3.5l-1.6 -5l-2 3.7z"/>
<path color="#377cf0" d="M218.1 399.9l2.1 -3.6l-1.6 -4.8l-2 3.9z"/>
<path color="#3771f1" d="M216.1 403.7l2 -3.8l-1.5 -4.5l-2 4.1z"/>
<path color="#3563f2" d="M214.1 407.6l2 -3.9l-1.5 -4.2l-2.1 4.2z"/>
<path color="#2f4ff3" d="M212.1 411.7l2 -4.1l-1.6 -3.9l-2 4.3z"/>
<path color="#293bf6" d="M210.1 415.9l2 -4.2l-1.6 -3.7l-2 4.6z"/>
<path color="#2026f5" d="M208.1 420.3l2 -4.4l-1.6 -3.3l-2 4.7z"/>
<path color="#1617ed" d="M206 425l2.1 -4.7l-1.6 -3l-2 5.1z"/>
<path color="#0d0dda" d="M204 430.1l2 -5.1l-1.5 -2.6l-2 5.4z"/>
<path color="#0605c5" d="M202 435.5l2 -5.4l-1.5 -2.3l-2.1 5.8z"/>
<path color="#0102ac" d="M200 441.8l2 -6.3l-1.6 -1.9l-2 6.7z"/>
<path color="#02028f" d="M198 450.8l2 -9l-1.6 -1.5l-2 9.8z"/>
<path color="#040ed1" d="M368.9 405.4l2 3.7l-1.5 -3.3l-2 -4z"/>
<path color="#041cd2" d="M366.9 401.9l2 3.5l-1.5 -3.6l-2 -3.8z"/>
<path color="#0527dc" d="M364.9 398.5l2 3.4l-1.5 -3.9l-2.1 -3.6z"/>
<path color="#0634e3" d="M362.9 395.3l2 3.2l-1.6 -4.1l-2 -3.6z"/>
<path color="#0744ea" d="M360.8 392.2l2.1 3.1l-1.6 -4.5l-2 -3.3z"/>
<path color="#0754ef" d="M358.8 389.2l2 3l-1.5 -4.7l-2 -3.3z"/>
<path color="#0665f4" d="M356.8 386.3l2 2.9l-1.5 -5l-2 -3.1z"/>
<path color="#0675f7" d="M354.8 383.5l2 2.8l-1.5 -5.2l-2 -3.1z"/>
<path color="#0682f9" d="M352.8 380.8l2 2.7l-1.5 -5.5l-2.1 -2.9z"/>
<path color="#058ef9" d="M350.8 378.2l2 2.6l-1.6 -5.7l-2 -2.8z"/>
<path color="#0499fc" d="M348.7 375.7l2.1 2.5l-1.6 -5.9l-2 -2.7z"/>
<path color="#04a3fd" d="M346.7 373.3l2 2.4l-1.5 -6.1l-2 -2.7z"/>
<path color="#05adfc" d="M344.7 370.9l2 2.4l-1.5 -6.4l-2 -2.5z"/>
<path color="#08b8fc" d="M342.7 368.7l2 2.2l-1.5 -6.5l-2 -2.4z"/>
<path color="#0bc0fc" d="M340.7 366.6l2 2.1l-1.5 -6.7l-2.1 -2.3z"/>
<path color="#0ec9fc" d="M338.7 364.5l2 2.1l-1.6 -6.9l-2 -2.3z"/>
<path color="#13d2fb" d="M336.6 362.6l2.1 1.9l-1.6 -7.1l-2 -2.1z"/>
<path color="#19dafa" d="M334.6 360.7l2 1.9l-1.5 -7.3l-2 -2z"/>
<path color="#1de3f9" d="M332.6 358.9l2 1.8l-1.5 -7.4l-2 -2z"/>
<path color="#21e9f9" d="M330.6 357.2l2 1.7l-1.5 -7.6l-2 -1.8z"/>
<path color="#26eef9" d="M328.6 355.6l2 1.6l-1.5 -7.7l-2.1 -1.7z"/>
<path color="#2cf1f9" d="M326.6 354.1l2 1.5l-1.6 -7.8l-2 -1.7z"/>
<path color="#33f4f8" d="M324.5 352.7l2.1 1.4l-1.6 -8l-2 -1.5z"/>
<path color="#3af6f7" d="M322.5 351.3l2 1.4l-1.5 -8.1l-2 -1.5z"/>
<path color="#41f7f4" d="M320.5 350.1l2 1.2l-1.5 -8.2l-2 -1.4z"/>
<path color="#48f7f2" d="M318.5 348.9l2 1.2l-1.5 -8.4l-2 -1.2z"/>
<path color="#4ff7ee" d="M316.5 347.9l2 1l-1.5 -8.4l-2.1 -1.2z"/>
<path color="#57f7ec" d="M314.5 346.9l2 1l-1.6 -8.6l-2 -1z"/>
<path color="#5ff7ea" d="M312.4 346l2.1 0.9l-1.6 -8.6l-2 -1z"/>
<path color="#66f7e8" d="M310.4 345.2l2 0.8l-1.5 -8.7l-2 -0.9z"/>
<path color="#6df8e7" d="M308.4 344.5l2 0.7l-1.5 -8.8l-2 -0.8z"/>
<path color="#71f8e5" d="M306.4 343.9l2 0.6l-1.5 -8.9l-2 -0.6z"/>
<path color="#74f8e3" d="M304.4 343.4l2 0.5l-1.5 -8.9l-2.1 -0.6z"/>
<path color="#77f8e2" d="M302.4 343l2 0.4l-1.6 -9l-2 -0.5z"/>
<path color="#78f7e1" d="M300.3 342.6l2.1 0.4l-1.6 -9.1l-2 -0.3z"/>
<path color="#78f7e2" d="M298.3 342.4l2 0.2l-1.5 -9l-2 -0.3z"/>
<path color="#78f7e1" d="M296.3 342.2l2 0.2l-1.5 -9.1l-2 -0.2z"/>
<path color="#77f7e2" d="M294.3 342.2l2 0l-1.5 -9.1l-2 -0.1z"/>
<path color="#78f7e3" d="M292.3 342.2l2 0l-1.5 -9.2l-2.1 0.1z"/>
<path color="#7af7e4" d="M290.3 342.3l2 -0.1l-1.6 -9.1l-2 0.1z"/>
<path color="#7df7e4" d="M288.2 342.6l2.1 -0.3l-1.6 -9.1l-2 0.2z"/>
<path color="#80f7e4" d="M286.2 342.9l2 -0.3l-1.5 -9.2l-2 0.4z"/>
<path color="#81f7e4" d="M284.2 343.3l2 -0.4l-1.5 -9.1l-2 0.4z"/>
<path color="#81f7e4" d="M282.2 343.8l2 -0.5l-1.5 -9.1l-2 0.5z"/>
<path color="#80f7e4" d="M280.2 344.4l2 -0.6l-1.5 -9.1l-2.1 0.6z"/>
<path color="#7ef7e5" d="M278.2 345l2 -0.6l-1.6 -9.1l-2 0.8z"/>
<path color="#7cf7e6" d="M276.1 345.8l2.1 -0.8l-1.6 -8.9l-2 0.8z"/>
<path color="#7af7e6" d="M274.1 346.7l2 -0.9l-1.5 -8.9l-2 0.9z"/>
<path color="#77f6e8" d="M272.1 347.6l2 -0.9l-1.5 -8.9l-2 1z"/>
<path color="#76f6e9" d="M270.1 348.7l2 -1.1l-1.5 -8.8l-2 1.2z"/>
<path color="#75f6eb" d="M268.1 349.8l2 -1.1l-1.5 -8.7l-2.1 1.2z"/>
<path color="#6ff6ed" d="M266.1 351.1l2 -1.3l-1.6 -8.6l-2 1.3z"/>
<path color="#67f5ee" d="M264 352.4l2.1 -1.3l-1.6 -8.6l-2 1.4z"/>
<path color="#62f5f0" d="M262 353.8l2 -1.4l-1.5 -8.5l-2 1.5z"/>
<path color="#5bf5f3" d="M260 355.3l2 -1.5l-1.5 -8.4l-2 1.7z"/>
<path color="#57f3f4" d="M258 356.9l2 -1.6l-1.5 -8.2l-2 1.7z"/>
<path color="#56f1f3" d="M256 358.6l2 -1.7l-1.5 -8.1l-2.1 1.8z"/>
<path color="#53eef4" d="M254 360.3l2 -1.7l-1.6 -8l-2 1.9z"/>
<path color="#51ebf4" d="M251.9 362.2l2.1 -1.9l-1.6 -7.8l-2 2z"/>
<path color="#4ee8f4" d="M249.9 364.1l2 -1.9l-1.5 -7.7l-2 2.1z"/>
<path color="#4ce3f4" d="M247.9 366.2l2 -2.1l-1.5 -7.5l-2 2.2z"/>
<path color="#4addf3" d="M245.9 368.3l2 -2.1l-1.5 -7.4l-2 2.3z"/>
<path color="#48d7f2" d="M243.9 370.5l2 -2.2l-1.5 -7.2l-2.1 2.3z"/>
<path color="#46d2f1" d="M241.9 372.8l2 -2.3l-1.6 -7.1l-2 2.5z"/>
<path color="#45ccf1" d="M239.8 375.2l2.1 -2.4l-1.6 -6.9l-2 2.6z"/>
<path color="#44c4f0" d="M237.8 377.7l2 -2.5l-1.5 -6.7l-2 2.7z"/>
<path color="#41bcf0" d="M235.8 380.3l2 -2.6l-1.5 -6.5l-2 2.8z"/>
<path color="#3fb4f0" d="M233.8 383l2 -2.7l-1.5 -6.3l-2 2.8z"/>
<path color="#3ba9f1" d="M231.8 385.7l2 -2.7l-1.5 -6.2l-2.1 3z"/>
<path color="#36a0f2" d="M229.8 388.6l2 -2.9l-1.6 -5.9l-2 3.1z"/>
<path color="#3496f1" d="M227.7 391.5l2.1 -2.9l-1.6 -5.7l-2 3.2z"/>
<path color="#3088f1" d="M225.7 394.6l2 -3.1l-1.5 -5.4l-2 3.3z"/>
<path color="#2c7af3" d="M223.7 397.7l2 -3.1l-1.5 -5.2l-2 3.4z"/>
<path color="#2c70f2" d="M221.7 401l2 -3.3l-1.5 -4.9l-2 3.5z"/>
<path color="#2c67f1" d="M219.7 404.4l2 -3.4l-1.5 -4.7l-2.1 3.6z"/>
<path color="#2d5df3" d="M217.7 407.9l2 -3.5l-1.6 -4.5l-2 3.8z"/>
<path color="#2e50f3" d="M215.6 411.5l2.1 -3.6l-1.6 -4.2l-2 3.9z"/>
<path color="#3147f4" d="M213.6 415.3l2 -3.8l-1.5 -3.9l-2 4.1z"/>
<path color="#2f39f4" d="M211.6 419.2l2 -3.9l-1.5 -3.6l-2 4.2z"/>
<path color="#282bf0" d="M209.6 423.3l2 -4.1l-1.5 -3.3l-2 4.4z"/>
<path color="#1e1fe7" d="M207.6 427.7l2 -4.4l-1.5 -3l-2.1 4.7z"/>
<path color="#1314d6" d="M205.6 432.3l2 -4.6l-1.6 -2.7l-2 5.1z"/>
<path color="#0909c2" d="M203.5 437.4l2.1 -5.1l-1.6 -2.2l-2 5.4z"/>
<path color="#0203a7" d="M201.5 443.2l2 -5.8l-1.5 -1.9l-2 6.3z"/>
<path color="#03028f" d="M199.5 451.6l2 -8.4l-1.5 -1.4l-2 9z"/>
<path color="#0107cb" d="M372.4 412.4l2 3.5l-1.5 -2.9l-2 -3.9z"/>
<path color="#030bd7" d="M370.4 409l2 3.4l-1.5 -3.3l-2 -3.7z"/>
<path color="#0414d9" d="M368.4 405.8l2 3.2l-1.5 -3.6l-2 -3.5z"/>
<path color="#0520df" d="M366.4 402.7l2 3.1l-1.5 -3.9l-2 -3.4z"/>
<path color="#052ce6" d="M364.3 399.7l2.1 3l-1.5 -4.2l-2 -3.2z"/>
<path color="#0539ee" d="M362.3 396.9l2 2.8l-1.4 -4.4l-2.1 -3.1z"/>
<path color="#0548f5" d="M360.3 394.1l2 2.8l-1.5 -4.7l-2 -3z"/>
<path color="#0657f8" d="M358.3 391.5l2 2.6l-1.5 -4.9l-2 -2.9z"/>
<path color="#0665fa" d="M356.3 388.9l2 2.6l-1.5 -5.2l-2 -2.8z"/>
<path color="#0871fa" d="M354.3 386.4l2 2.5l-1.5 -5.4l-2 -2.7z"/>
<path color="#097bfa" d="M352.2 384.1l2.1 2.3l-1.5 -5.6l-2 -2.6z"/>
<path color="#0a85fa" d="M350.2 381.8l2 2.3l-1.4 -5.9l-2.1 -2.5z"/>
<path color="#098ffa" d="M348.2 379.6l2 2.2l-1.5 -6.1l-2 -2.4z"/>
<path color="#0998fb" d="M346.2 377.4l2 2.2l-1.5 -6.3l-2 -2.4z"/>
<path color="#0ba1fb" d="M344.2 375.4l2 2l-1.5 -6.5l-2 -2.2z"/>
<path color="#10abfa" d="M342.2 373.4l2 2l-1.5 -6.7l-2 -2.1z"/>
<path color="#16b5f9" d="M340.1 371.6l2.1 1.8l-1.5 -6.8l-2 -2.1z"/>
<path color="#1bbdf9" d="M338.1 369.8l2 1.8l-1.4 -7.1l-2.1 -1.9z"/>
<path color="#22c4f8" d="M336.1 368.1l2 1.7l-1.5 -7.2l-2 -1.9z"/>
<path color="#26cbf7" d="M334.1 366.4l2 1.7l-1.5 -7.4l-2 -1.8z"/>
<path color="#2ad2f6" d="M332.1 364.9l2 1.5l-1.5 -7.5l-2 -1.7z"/>
<path color="#2ed8f6" d="M330.1 363.4l2 1.5l-1.5 -7.7l-2 -1.6z"/>
<path color="#32ddf6" d="M328 362l2.1 1.4l-1.5 -7.8l-2 -1.5z"/>
<path color="#36e2f5" d="M326 360.7l2 1.3l-1.4 -7.9l-2.1 -1.4z"/>
<path color="#3ae6f5" d="M324 359.5l2 1.2l-1.5 -8l-2 -1.4z"/>
<path color="#3de9f6" d="M322 358.4l2 1.1l-1.5 -8.2l-2 -1.2z"/>
<path color="#42edf6" d="M320 357.3l2 1.1l-1.5 -8.3l-2 -1.2z"/>
<path color="#47eff6" d="M318 356.4l2 0.9l-1.5 -8.4l-2 -1z"/>
<path color="#4cf0f5" d="M315.9 355.5l2.1 0.9l-1.5 -8.5l-2 -1z"/>
<path color="#52f2f5" d="M313.9 354.7l2 0.8l-1.4 -8.6l-2.1 -0.9z"/>
<path color="#58f3f5" d="M311.9 354l2 0.7l-1.5 -8.7l-2 -0.8z"/>
<path color="#5df4f4" d="M309.9 353.3l2 0.7l-1.5 -8.8l-2 -0.7z"/>
<path color="#60f5f3" d="M307.9 352.8l2 0.5l-1.5 -8.8l-2 -0.6z"/>
<path color="#61f5f2" d="M305.9 352.3l2 0.5l-1.5 -8.9l-2 -0.5z"/>
<path color="#63f6f2" d="M303.8 351.9l2.1 0.4l-1.5 -8.9l-2 -0.4z"/>
<path color="#64f6f2" d="M301.8 351.6l2 0.3l-1.4 -8.9l-2.1 -0.4z"/>
<path color="#63f6f3" d="M299.8 351.4l2 0.2l-1.5 -9l-2 -0.2z"/>
<path color="#63f6f2" d="M297.8 351.3l2 0.1l-1.5 -9l-2 -0.2z"/>
<path color="#63f7f1" d="M295.8 351.2l2 0.1l-1.5 -9.1l-2 0z"/>
<path color="#65f6f1" d="M293.8 351.3l2 -0.1l-1.5 -9l-2 0z"/>
<path color="#68f6f1" d="M291.7 351.4l2.1 -0.1l-1.5 -9.1l-2 0.1z"/>
<path color="#6af6f1" d="M289.7 351.6l2 -0.2l-1.4 -9.1l-2.1 0.3z"/>
<path color="#6cf6f2" d="M287.7 351.9l2 -0.3l-1.5 -9l-2 0.3z"/>
<path color="#6cf6f2" d="M285.7 352.3l2 -0.4l-1.5 -9l-2 0.4z"/>
<path color="#6cf5f2" d="M283.7 352.8l2 -0.5l-1.5 -9l-2 0.5z"/>
<path color="#6df4f3" d="M281.7 353.3l2 -0.5l-1.5 -9l-2 0.6z"/>
<path color="#6df4f3" d="M279.6 354l2.1 -0.7l-1.5 -8.9l-2 0.6z"/>
<path color="#6bf5f3" d="M277.6 354.7l2 -0.7l-1.4 -9l-2.1 0.8z"/>
<path color="#69f5f3" d="M275.6 355.5l2 -0.8l-1.5 -8.9l-2 0.9z"/>
<path color="#68f3f3" d="M273.6 356.4l2 -0.9l-1.5 -8.8l-2 0.9z"/>
<path color="#6af2f3" d="M271.6 357.4l2 -1l-1.5 -8.8l-2 1.1z"/>
<path color="#6af1f3" d="M269.6 358.4l2 -1l-1.5 -8.7l-2 1.1z"/>
<path color="#66f0f4" d="M267.5 359.6l2.1 -1.2l-1.5 -8.6l-2 1.3z"/>
<path color="#61eef4" d="M265.5 360.8l2 -1.2l-1.4 -8.5l-2.1 1.3z"/>
<path color="#5dedf4" d="M263.5 362.1l2 -1.3l-1.5 -8.4l-2 1.4z"/>
<path color="#5aeaf3" d="M261.5 363.5l2 -1.4l-1.5 -8.3l-2 1.5z"/>
<path color="#59e7f3" d="M259.5 365l2 -1.5l-1.5 -8.2l-2 1.6z"/>
<path color="#57e2f3" d="M257.5 366.5l2 -1.5l-1.5 -8.1l-2 1.7z"/>
<path color="#54def2" d="M255.4 368.1l2.1 -1.6l-1.5 -7.9l-2 1.7z"/>
<path color="#53dbf2" d="M253.4 369.9l2 -1.8l-1.4 -7.8l-2.1 1.9z"/>
<path color="#53d7f2" d="M251.4 371.7l2 -1.8l-1.5 -7.7l-2 1.9z"/>
<path color="#52d2f3" d="M249.4 373.6l2 -1.9l-1.5 -7.6l-2 2.1z"/>
<path color="#4ecdf2" d="M247.4 375.5l2 -1.9l-1.5 -7.4l-2 2.1z"/>
<path color="#4ac7f1" d="M245.4 377.6l2 -2.1l-1.5 -7.2l-2 2.2z"/>
<path color="#48c0f1" d="M243.3 379.7l2.1 -2.1l-1.5 -7.1l-2 2.3z"/>
<path color="#46baf0" d="M241.3 381.9l2 -2.2l-1.4 -6.9l-2.1 2.4z"/>
<path color="#45b4ef" d="M239.3 384.2l2 -2.3l-1.5 -6.7l-2 2.5z"/>
<path color="#44adee" d="M237.3 386.6l2 -2.4l-1.5 -6.5l-2 2.6z"/>
<path color="#41a5ef" d="M235.3 389l2 -2.4l-1.5 -6.3l-2 2.7z"/>
<path color="#3c9cee" d="M233.3 391.6l2 -2.6l-1.5 -6l-2 2.7z"/>
<path color="#3b93ef" d="M231.2 394.2l2.1 -2.6l-1.5 -5.9l-2 2.9z"/>
<path color="#3a8bee" d="M229.2 397l2 -2.8l-1.4 -5.6l-2.1 2.9z"/>
<path color="#347cef" d="M227.2 399.8l2 -2.8l-1.5 -5.5l-2 3.1z"/>
<path color="#2e6ef1" d="M225.2 402.7l2 -2.9l-1.5 -5.2l-2 3.1z"/>
<path color="#2861f2" d="M223.2 405.7l2 -3l-1.5 -5l-2 3.3z"/>
<path color="#2555f3" d="M221.2 408.8l2 -3.1l-1.5 -4.7l-2 3.4z"/>
<path color="#2549f3" d="M219.1 412l2.1 -3.2l-1.5 -4.4l-2 3.5z"/>
<path color="#2840f4" d="M217.1 415.4l2 -3.4l-1.4 -4.1l-2.1 3.6z"/>
<path color="#2a36f4" d="M215.1 418.8l2 -3.4l-1.5 -3.9l-2 3.8z"/>
<path color="#2b2ff2" d="M213.1 422.5l2 -3.7l-1.5 -3.5l-2 3.9z"/>
<path color="#2b2bec" d="M211.1 426.3l2 -3.8l-1.5 -3.3l-2 4.1z"/>
<path color="#2323e3" d="M209.1 430.3l2 -4l-1.5 -3l-2 4.4z"/>
<path color="#1919d3" d="M207 434.6l2.1 -4.3l-1.5 -2.6l-2 4.6z"/>
<path color="#0c0dbf" d="M205 439.2l2 -4.6l-1.4 -2.3l-2.1 5.1z"/>
<path color="#0304a6" d="M203 444.5l2 -5.3l-1.5 -1.8l-2 5.8z"/>
<path color="#030290" d="M201 452.3l2 -7.8l-1.5 -1.3l-2 8.4z"/>
<path color="#0102cd" d="M373.9 415.6l2 3.2l-1.5 -2.9l-2 -3.5z"/>
<path color="#0205d5" d="M371.8 412.5l2.1 3.1l-1.5 -3.2l-2 -3.4z"/>
<path color="#030cdf" d="M369.8 409.6l2 2.9l-1.4 -3.5l-2 -3.2z"/>
<path color="#0516e6" d="M367.8 406.8l2 2.8l-1.4 -3.8l-2 -3.1z"/>
<path color="#0522ed" d="M365.8 404.1l2 2.7l-1.4 -4.1l-2.1 -3z"/>
<path color="#052ef2" d="M363.8 401.5l2 2.6l-1.5 -4.4l-2 -2.8z"/>
<path color="#053af7" d="M361.8 399l2 2.5l-1.5 -4.6l-2 -2.8z"/>
<path color="#0546fa" d="M359.7 396.6l2.1 2.4l-1.5 -4.9l-2 -2.6z"/>
<path color="#0754fb" d="M357.7 394.3l2 2.3l-1.4 -5.1l-2 -2.6z"/>
<path color="#0b62fa" d="M355.7 392l2 2.3l-1.4 -5.4l-2 -2.5z"/>
<path color="#0e6bf9" d="M353.7 389.9l2 2.1l-1.4 -5.6l-2.1 -2.3z"/>
<path color="#0e74f8" d="M351.7 387.8l2 2.1l-1.5 -5.8l-2 -2.3z"/>
<path color="#0f7df8" d="M349.7 385.8l2 2l-1.5 -6l-2 -2.2z"/>
<path color="#1186f8" d="M347.6 383.9l2.1 1.9l-1.5 -6.2l-2 -2.2z"/>
<path color="#148ff9" d="M345.6 382l2 1.9l-1.4 -6.5l-2 -2z"/>
<path color="#1898f8" d="M343.6 380.2l2 1.8l-1.4 -6.6l-2 -2z"/>
<path color="#1da1f7" d="M341.6 378.5l2 1.7l-1.4 -6.8l-2.1 -1.8z"/>
<path color="#22a9f6" d="M339.6 376.9l2 1.6l-1.5 -6.9l-2 -1.8z"/>
<path color="#27b1f5" d="M337.6 375.4l2 1.5l-1.5 -7.1l-2 -1.7z"/>
<path color="#2bb8f5" d="M335.5 373.9l2.1 1.5l-1.5 -7.3l-2 -1.7z"/>
<path color="#2fbff4" d="M333.5 372.5l2 1.4l-1.4 -7.5l-2 -1.5z"/>
<path color="#33c4f4" d="M331.5 371.1l2 1.4l-1.4 -7.6l-2 -1.5z"/>
<path color="#38c9f3" d="M329.5 369.9l2 1.2l-1.4 -7.7l-2.1 -1.4z"/>
<path color="#3dcef3" d="M327.5 368.7l2 1.2l-1.5 -7.9l-2 -1.3z"/>
<path color="#40d2f2" d="M325.5 367.6l2 1.1l-1.5 -8l-2 -1.2z"/>
<path color="#42d7f2" d="M323.4 366.6l2.1 1l-1.5 -8.1l-2 -1.1z"/>
<path color="#46dbf3" d="M321.4 365.6l2 1l-1.4 -8.2l-2 -1.1z"/>
<path color="#4bdef3" d="M319.4 364.8l2 0.8l-1.4 -8.3l-2 -0.9z"/>
<path color="#50e0f3" d="M317.4 364l2 0.8l-1.4 -8.4l-2.1 -0.9z"/>
<path color="#56e4f3" d="M315.4 363.3l2 0.7l-1.5 -8.5l-2 -0.8z"/>
<path color="#5be7f4" d="M313.4 362.6l2 0.7l-1.5 -8.6l-2 -0.7z"/>
<path color="#5de7f4" d="M311.3 362l2.1 0.6l-1.5 -8.6l-2 -0.7z"/>
<path color="#5de7f4" d="M309.3 361.6l2 0.4l-1.4 -8.7l-2 -0.5z"/>
<path color="#5de8f4" d="M307.3 361.1l2 0.5l-1.4 -8.8l-2 -0.5z"/>
<path color="#5de9f4" d="M305.3 360.8l2 0.3l-1.4 -8.8l-2.1 -0.4z"/>
<path color="#5ceaf4" d="M303.3 360.5l2 0.3l-1.5 -8.9l-2 -0.3z"/>
<path color="#5bebf4" d="M301.3 360.4l2 0.1l-1.5 -8.9l-2 -0.2z"/>
<path color="#5aeef5" d="M299.2 360.3l2.1 0.1l-1.5 -9l-2 -0.1z"/>
<path color="#59eff5" d="M297.2 360.2l2 0.1l-1.4 -9l-2 -0.1z"/>
<path color="#5af0f5" d="M295.2 360.3l2 -0.1l-1.4 -9l-2 0.1z"/>
<path color="#5df0f5" d="M293.2 360.4l2 -0.1l-1.4 -9l-2.1 0.1z"/>
<path color="#61eff5" d="M291.2 360.6l2 -0.2l-1.5 -9l-2 0.2z"/>
<path color="#64eef5" d="M289.2 360.9l2 -0.3l-1.5 -9l-2 0.3z"/>
<path color="#65edf5" d="M287.1 361.3l2.1 -0.4l-1.5 -9l-2 0.4z"/>
<path color="#65ebf4" d="M285.1 361.7l2 -0.4l-1.4 -9l-2 0.5z"/>
<path color="#65e8f3" d="M283.1 362.2l2 -0.5l-1.4 -8.9l-2 0.5z"/>
<path color="#66e8f3" d="M281.1 362.8l2 -0.6l-1.4 -8.9l-2.1 0.7z"/>
<path color="#66e8f3" d="M279.1 363.5l2 -0.7l-1.5 -8.8l-2 0.7z"/>
<path color="#66e8f2" d="M277.1 364.2l2 -0.7l-1.5 -8.8l-2 0.8z"/>
<path color="#69e7f1" d="M275 365l2.1 -0.8l-1.5 -8.7l-2 0.9z"/>
<path color="#6ce5f1" d="M273 365.9l2 -0.9l-1.4 -8.6l-2 1z"/>
<path color="#6ce3f1" d="M271 366.9l2 -1l-1.4 -8.5l-2 1z"/>
<path color="#69e0f1" d="M269 368l2 -1.1l-1.4 -8.5l-2.1 1.2z"/>
<path color="#64def1" d="M267 369.1l2 -1.1l-1.5 -8.4l-2 1.2z"/>
<path color="#61dbf2" d="M265 370.3l2 -1.2l-1.5 -8.3l-2 1.3z"/>
<path color="#5ed9f2" d="M262.9 371.6l2.1 -1.3l-1.5 -8.2l-2 1.4z"/>
<path color="#5bd6f2" d="M260.9 372.9l2 -1.3l-1.4 -8.1l-2 1.5z"/>
<path color="#58d2f1" d="M258.9 374.4l2 -1.5l-1.4 -7.9l-2 1.5z"/>
<path color="#57cef0" d="M256.9 375.9l2 -1.5l-1.4 -7.9l-2.1 1.6z"/>
<path color="#57cbf0" d="M254.9 377.5l2 -1.6l-1.5 -7.8l-2 1.8z"/>
<path color="#56c7f0" d="M252.9 379.1l2 -1.6l-1.5 -7.6l-2 1.8z"/>
<path color="#53c2f0" d="M250.8 380.8l2.1 -1.7l-1.5 -7.4l-2 1.9z"/>
<path color="#51bdef" d="M248.8 382.7l2 -1.9l-1.4 -7.2l-2 1.9z"/>
<path color="#50b8ee" d="M246.8 384.5l2 -1.8l-1.4 -7.2l-2 2.1z"/>
<path color="#4db2ed" d="M244.8 386.5l2 -2l-1.4 -6.9l-2.1 2.1z"/>
<path color="#4aacec" d="M242.8 388.5l2 -2l-1.5 -6.8l-2 2.2z"/>
<path color="#47a5eb" d="M240.8 390.6l2 -2.1l-1.5 -6.6l-2 2.3z"/>
<path color="#449eec" d="M238.7 392.8l2.1 -2.2l-1.5 -6.4l-2 2.4z"/>
<path color="#4296ec" d="M236.7 395.1l2 -2.3l-1.4 -6.2l-2 2.4z"/>
<path color="#428feb" d="M234.7 397.4l2 -2.3l-1.4 -6.1l-2 2.6z"/>
<path color="#4288ed" d="M232.7 399.8l2 -2.4l-1.4 -5.8l-2.1 2.6z"/>
<path color="#3e7ded" d="M230.7 402.3l2 -2.5l-1.5 -5.6l-2 2.8z"/>
<path color="#3770ed" d="M228.7 404.9l2 -2.6l-1.5 -5.3l-2 2.8z"/>
<path color="#3163f0" d="M226.6 407.6l2.1 -2.7l-1.5 -5.1l-2 2.9z"/>
<path color="#2b57f1" d="M224.6 410.3l2 -2.7l-1.4 -4.9l-2 3z"/>
<path color="#274bf1" d="M222.6 413.2l2 -2.9l-1.4 -4.6l-2 3.1z"/>
<path color="#253ef3" d="M220.6 416.1l2 -2.9l-1.4 -4.4l-2.1 3.2z"/>
<path color="#232ff5" d="M218.6 419.2l2 -3.1l-1.5 -4.1l-2 3.4z"/>
<path color="#1f23f3" d="M216.6 422.4l2 -3.2l-1.5 -3.8l-2 3.4z"/>
<path color="#2121ee" d="M214.5 425.7l2.1 -3.3l-1.5 -3.6l-2 3.7z"/>
<path color="#2222e7" d="M212.5 429.2l2 -3.5l-1.4 -3.2l-2 3.8z"/>
<path color="#211fde" d="M210.5 432.8l2 -3.6l-1.4 -2.9l-2 4z"/>
<path color="#191ace" d="M208.5 436.8l2 -4l-1.4 -2.5l-2.1 4.3z"/>
<path color="#0d0eba" d="M206.5 441l2 -4.2l-1.5 -2.2l-2 4.6z"/>
<path color="#0505a3" d="M204.5 445.9l2 -4.9l-1.5 -1.8l-2 5.3z"/>
<path color="#04038e" d="M202.4 453l2.1 -7.1l-1.5 -1.4l-2 7.8z"/>
<path color="#0202be" d="M377.3 421.7l2 3.1l-1.4 -2.6l-2 -3.4z"/>
<path color="#0202ca" d="M375.3 418.8l2 2.9l-1.4 -2.9l-2 -3.2z"/>
<path color="#0203d6" d="M373.2 416l2.1 2.8l-1.4 -3.2l-2.1 -3.1z"/>
<path color="#0205de" d="M371.2 413.4l2 2.6l-1.4 -3.5l-2 -2.9z"/>
<path color="#030ce9" d="M369.2 410.8l2 2.6l-1.4 -3.8l-2 -2.8z"/>
<path color="#0616f1" d="M367.2 408.4l2 2.4l-1.4 -4l-2 -2.7z"/>
<path color="#0621f6" d="M365.2 406.1l2 2.3l-1.4 -4.3l-2 -2.6z"/>
<path color="#072cf9" d="M363.2 403.8l2 2.3l-1.4 -4.6l-2 -2.5z"/>
<path color="#0938f9" d="M361.1 401.7l2.1 2.1l-1.4 -4.8l-2.1 -2.4z"/>
<path color="#0b44f8" d="M359.1 399.6l2 2.1l-1.4 -5.1l-2 -2.3z"/>
<path color="#0f4ff7" d="M357.1 397.5l2 2.1l-1.4 -5.3l-2 -2.3z"/>
<path color="#145cf7" d="M355.1 395.6l2 1.9l-1.4 -5.5l-2 -2.1z"/>
<path color="#1865f7" d="M353.1 393.7l2 1.9l-1.4 -5.7l-2 -2.1z"/>
<path color="#186cf7" d="M351.1 391.9l2 1.8l-1.4 -5.9l-2 -2z"/>
<path color="#1875f6" d="M349 390.2l2.1 1.7l-1.4 -6.1l-2.1 -1.9z"/>
<path color="#1b7ef6" d="M347 388.5l2 1.7l-1.4 -6.3l-2 -1.9z"/>
<path color="#2088f6" d="M345 386.9l2 1.6l-1.4 -6.5l-2 -1.8z"/>
<path color="#2590f5" d="M343 385.4l2 1.5l-1.4 -6.7l-2 -1.7z"/>
<path color="#2b98f4" d="M341 383.9l2 1.5l-1.4 -6.9l-2 -1.6z"/>
<path color="#2f9ef2" d="M339 382.6l2 1.3l-1.4 -7l-2 -1.5z"/>
<path color="#33a4f1" d="M336.9 381.2l2.1 1.4l-1.4 -7.2l-2.1 -1.5z"/>
<path color="#36abf2" d="M334.9 380l2 1.2l-1.4 -7.3l-2 -1.4z"/>
<path color="#39b1f2" d="M332.9 378.8l2 1.2l-1.4 -7.5l-2 -1.4z"/>
<path color="#3cb6f2" d="M330.9 377.7l2 1.1l-1.4 -7.7l-2 -1.2z"/>
<path color="#40baf2" d="M328.9 376.6l2 1.1l-1.4 -7.8l-2 -1.2z"/>
<path color="#45bff1" d="M326.9 375.6l2 1l-1.4 -7.9l-2 -1.1z"/>
<path color="#49c3f2" d="M324.8 374.7l2.1 0.9l-1.4 -8l-2.1 -1z"/>
<path color="#4cc7f2" d="M322.8 373.9l2 0.8l-1.4 -8.1l-2 -1z"/>
<path color="#50cbf2" d="M320.8 373.1l2 0.8l-1.4 -8.3l-2 -0.8z"/>
<path color="#55cff2" d="M318.8 372.4l2 0.7l-1.4 -8.3l-2 -0.8z"/>
<path color="#5ad2f2" d="M316.8 371.7l2 0.7l-1.4 -8.4l-2 -0.7z"/>
<path color="#5dd5f2" d="M314.8 371.2l2 0.5l-1.4 -8.4l-2 -0.7z"/>
<path color="#5dd5f3" d="M312.7 370.7l2.1 0.5l-1.4 -8.6l-2.1 -0.6z"/>
<path color="#5bd5f2" d="M310.7 370.2l2 0.5l-1.4 -8.7l-2 -0.4z"/>
<path color="#59d6f2" d="M308.7 369.9l2 0.3l-1.4 -8.6l-2 -0.5z"/>
<path color="#58d7f3" d="M306.7 369.6l2 0.3l-1.4 -8.8l-2 -0.3z"/>
<path color="#58d9f3" d="M304.7 369.3l2 0.3l-1.4 -8.8l-2 -0.3z"/>
<path color="#58dbf3" d="M302.7 369.2l2 0.1l-1.4 -8.8l-2 -0.1z"/>
<path color="#59ddf3" d="M300.6 369.1l2.1 0.1l-1.4 -8.8l-2.1 -0.1z"/>
<path color="#5adef2" d="M298.6 369.1l2 0l-1.4 -8.8l-2 -0.1z"/>
<path color="#5bdef2" d="M296.6 369.2l2 -0.1l-1.4 -8.9l-2 0.1z"/>
<path color="#5cdef2" d="M294.6 369.3l2 -0.1l-1.4 -8.9l-2 0.1z"/>
<path color="#5edef2" d="M292.6 369.5l2 -0.2l-1.4 -8.9l-2 0.2z"/>
<path color="#60def2" d="M290.6 369.8l2 -0.3l-1.4 -8.9l-2 0.3z"/>
<path color="#61def2" d="M288.5 370.1l2.1 -0.3l-1.4 -8.9l-2.1 0.4z"/>
<path color="#63dcf2" d="M286.5 370.5l2 -0.4l-1.4 -8.8l-2 0.4z"/>
<path color="#64d9f1" d="M284.5 371l2 -0.5l-1.4 -8.8l-2 0.5z"/>
<path color="#64d6f1" d="M282.5 371.5l2 -0.5l-1.4 -8.8l-2 0.6z"/>
<path color="#64d7f1" d="M280.5 372.1l2 -0.6l-1.4 -8.7l-2 0.7z"/>
<path color="#64d7f1" d="M278.5 372.8l2 -0.7l-1.4 -8.6l-2 0.7z"/>
<path color="#68d7ef" d="M276.4 373.6l2.1 -0.8l-1.4 -8.6l-2.1 0.8z"/>
<path color="#6cd5ee" d="M274.4 374.4l2 -0.8l-1.4 -8.6l-2 0.9z"/>
<path color="#6bd3ed" d="M272.4 375.3l2 -0.9l-1.4 -8.5l-2 1z"/>
<path color="#67d1ee" d="M270.4 376.3l2 -1l-1.4 -8.4l-2 1.1z"/>
<path color="#64ceef" d="M268.4 377.3l2 -1l-1.4 -8.3l-2 1.1z"/>
<path color="#62cbef" d="M266.4 378.4l2 -1.1l-1.4 -8.2l-2 1.2z"/>
<path color="#60c9ef" d="M264.3 379.6l2.1 -1.2l-1.4 -8.1l-2.1 1.3z"/>
<path color="#5ec5ef" d="M262.3 380.8l2 -1.2l-1.4 -8l-2 1.3z"/>
<path color="#5bc2ee" d="M260.3 382.1l2 -1.3l-1.4 -7.9l-2 1.5z"/>
<path color="#5abeee" d="M258.3 383.5l2 -1.4l-1.4 -7.7l-2 1.5z"/>
<path color="#57baee" d="M256.3 385l2 -1.5l-1.4 -7.6l-2 1.6z"/>
<path color="#54b7ee" d="M254.3 386.5l2 -1.5l-1.4 -7.5l-2 1.6z"/>
<path color="#54b2ed" d="M252.2 388l2.1 -1.5l-1.4 -7.4l-2.1 1.7z"/>
<path color="#54aeeb" d="M250.2 389.7l2 -1.7l-1.4 -7.2l-2 1.9z"/>
<path color="#53a9ea" d="M248.2 391.4l2 -1.7l-1.4 -7l-2 1.8z"/>
<path color="#51a4e9" d="M246.2 393.2l2 -1.8l-1.4 -6.9l-2 2z"/>
<path color="#4f9fea" d="M244.2 395l2 -1.8l-1.4 -6.7l-2 2z"/>
<path color="#4c97ea" d="M242.2 397l2 -2l-1.4 -6.5l-2 2.1z"/>
<path color="#4990ea" d="M240.1 398.9l2.1 -1.9l-1.4 -6.4l-2.1 2.2z"/>
<path color="#4889e8" d="M238.1 401l2 -2.1l-1.4 -6.1l-2 2.3z"/>
<path color="#4984e8" d="M236.1 403.1l2 -2.1l-1.4 -5.9l-2 2.3z"/>
<path color="#497fe9" d="M234.1 405.3l2 -2.2l-1.4 -5.7l-2 2.4z"/>
<path color="#4372e9" d="M232.1 407.6l2 -2.3l-1.4 -5.5l-2 2.5z"/>
<path color="#3b66ea" d="M230.1 410l2 -2.4l-1.4 -5.3l-2 2.6z"/>
<path color="#365bec" d="M228 412.4l2.1 -2.4l-1.4 -5.1l-2.1 2.7z"/>
<path color="#314fec" d="M226 414.9l2 -2.5l-1.4 -4.8l-2 2.7z"/>
<path color="#2c43ed" d="M224 417.5l2 -2.6l-1.4 -4.6l-2 2.9z"/>
<path color="#2836f0" d="M222 420.2l2 -2.7l-1.4 -4.3l-2 2.9z"/>
<path color="#2428f1" d="M220 423l2 -2.8l-1.4 -4.1l-2 3.1z"/>
<path color="#1e1eee" d="M218 425.9l2 -2.9l-1.4 -3.8l-2 3.2z"/>
<path color="#1b1ae8" d="M215.9 428.9l2.1 -3l-1.4 -3.5l-2.1 3.3z"/>
<path color="#1917df" d="M213.9 432l2 -3.1l-1.4 -3.2l-2 3.5z"/>
<path color="#1615d4" d="M211.9 435.4l2 -3.4l-1.4 -2.8l-2 3.6z"/>
<path color="#1313c5" d="M209.9 438.9l2 -3.5l-1.4 -2.6l-2 4z"/>
<path color="#0e0eb6" d="M207.9 442.8l2 -3.9l-1.4 -2.1l-2 4.2z"/>
<path color="#05069f" d="M205.9 447.2l2 -4.4l-1.4 -1.8l-2 4.9z"/>
<path color="#04048e" d="M203.8 453.7l2.1 -6.5l-1.4 -1.3l-2.1 7.1z"/>
<path color="#0202b9" d="M378.6 424.5l2 2.8l-1.3 -2.5l-2 -3.1z"/>
<path color="#0202c4" d="M376.6 421.9l2 2.6l-1.3 -2.8l-2 -2.9z"/>
<path color="#0203d2" d="M374.6 419.4l2 2.5l-1.3 -3.1l-2.1 -2.8z"/>
<path color="#0303e0" d="M372.6 417.1l2 2.3l-1.4 -3.4l-2 -2.6z"/>
<path color="#0306e9" d="M370.6 414.8l2 2.3l-1.4 -3.7l-2 -2.6z"/>
<path color="#040cf2" d="M368.5 412.7l2.1 2.1l-1.4 -4l-2 -2.4z"/>
<path color="#0714f7" d="M366.5 410.6l2 2.1l-1.3 -4.3l-2 -2.3z"/>
<path color="#0a1ff9" d="M364.5 408.6l2 2l-1.3 -4.5l-2 -2.3z"/>
<path color="#0e2cfa" d="M362.5 406.6l2 2l-1.3 -4.8l-2.1 -2.1z"/>
<path color="#1339f7" d="M360.5 404.8l2 1.8l-1.4 -4.9l-2 -2.1z"/>
<path color="#1845f4" d="M358.5 403l2 1.8l-1.4 -5.2l-2 -2.1z"/>
<path color="#1a4ef2" d="M356.4 401.2l2.1 1.8l-1.4 -5.5l-2 -1.9z"/>
<path color="#1c57f4" d="M354.4 399.6l2 1.6l-1.3 -5.6l-2 -1.9z"/>
<path color="#205ff5" d="M352.4 398l2 1.6l-1.3 -5.9l-2 -1.8z"/>
<path color="#2366f5" d="M350.4 396.4l2 1.6l-1.3 -6.1l-2.1 -1.7z"/>
<path color="#266ff5" d="M348.4 394.9l2 1.5l-1.4 -6.2l-2 -1.7z"/>
<path color="#2978f3" d="M346.4 393.5l2 1.4l-1.4 -6.4l-2 -1.6z"/>
<path color="#2c81f1" d="M344.3 392.2l2.1 1.3l-1.4 -6.6l-2 -1.5z"/>
<path color="#3089f0" d="M342.3 390.9l2 1.3l-1.3 -6.8l-2 -1.5z"/>
<path color="#348fef" d="M340.3 389.6l2 1.3l-1.3 -7l-2 -1.3z"/>
<path color="#3894f0" d="M338.3 388.5l2 1.1l-1.3 -7l-2.1 -1.4z"/>
<path color="#3d99f0" d="M336.3 387.4l2 1.1l-1.4 -7.3l-2 -1.2z"/>
<path color="#419eef" d="M334.3 386.3l2 1.1l-1.4 -7.4l-2 -1.2z"/>
<path color="#44a2ef" d="M332.2 385.3l2.1 1l-1.4 -7.5l-2 -1.1z"/>
<path color="#46a7ef" d="M330.2 384.4l2 0.9l-1.3 -7.6l-2 -1.1z"/>
<path color="#49acef" d="M328.2 383.5l2 0.9l-1.3 -7.8l-2 -1z"/>
<path color="#4db0ef" d="M326.2 382.7l2 0.8l-1.3 -7.9l-2.1 -0.9z"/>
<path color="#50b3ef" d="M324.2 382l2 0.7l-1.4 -8l-2 -0.8z"/>
<path color="#54b7ef" d="M322.2 381.3l2 0.7l-1.4 -8.1l-2 -0.8z"/>
<path color="#5abbf0" d="M320.1 380.6l2.1 0.7l-1.4 -8.2l-2 -0.7z"/>
<path color="#5ec0f0" d="M318.1 380.1l2 0.5l-1.3 -8.2l-2 -0.7z"/>
<path color="#5ec1f0" d="M316.1 379.6l2 0.5l-1.3 -8.4l-2 -0.5z"/>
<path color="#5bc0f0" d="M314.1 379.1l2 0.5l-1.3 -8.4l-2.1 -0.5z"/>
<path color="#5ac0f0" d="M312.1 378.8l2 0.3l-1.4 -8.4l-2 -0.5z"/>
<path color="#59c1f0" d="M310.1 378.5l2 0.3l-1.4 -8.6l-2 -0.3z"/>
<path color="#59c3f0" d="M308 378.2l2.1 0.3l-1.4 -8.6l-2 -0.3z"/>
<path color="#5ac6f1" d="M306 378l2 0.2l-1.3 -8.6l-2 -0.3z"/>
<path color="#59c8f2" d="M304 377.9l2 0.1l-1.3 -8.7l-2 -0.1z"/>
<path color="#56c9f2" d="M302 377.8l2 0.1l-1.3 -8.7l-2.1 -0.1z"/>
<path color="#56c9f1" d="M300 377.8l2 0l-1.4 -8.7l-2 0z"/>
<path color="#58caf1" d="M298 377.9l2 -0.1l-1.4 -8.7l-2 0.1z"/>
<path color="#5acbf1" d="M295.9 378l2.1 -0.1l-1.4 -8.7l-2 0.1z"/>
<path color="#5ccbf1" d="M293.9 378.2l2 -0.2l-1.3 -8.7l-2 0.2z"/>
<path color="#5eccf1" d="M291.9 378.5l2 -0.3l-1.3 -8.7l-2 0.3z"/>
<path color="#60ccf1" d="M289.9 378.8l2 -0.3l-1.3 -8.7l-2.1 0.3z"/>
<path color="#62caf0" d="M287.9 379.2l2 -0.4l-1.4 -8.7l-2 0.4z"/>
<path color="#62c8ef" d="M285.9 379.6l2 -0.4l-1.4 -8.7l-2 0.5z"/>
<path color="#62c5ef" d="M283.8 380.1l2.1 -0.5l-1.4 -8.6l-2 0.5z"/>
<path color="#63c3ef" d="M281.8 380.7l2 -0.6l-1.3 -8.6l-2 0.6z"/>
<path color="#66c4ef" d="M279.8 381.3l2 -0.6l-1.3 -8.6l-2 0.7z"/>
<path color="#6ac5ef" d="M277.8 382l2 -0.7l-1.3 -8.5l-2.1 0.8z"/>
<path color="#6ac3ed" d="M275.8 382.8l2 -0.8l-1.4 -8.4l-2 0.8z"/>
<path color="#68c2ed" d="M273.8 383.6l2 -0.8l-1.4 -8.4l-2 0.9z"/>
<path color="#66c0ee" d="M271.7 384.5l2.1 -0.9l-1.4 -8.3l-2 1z"/>
<path color="#64bdee" d="M269.7 385.4l2 -0.9l-1.3 -8.2l-2 1z"/>
<path color="#64bbed" d="M267.7 386.4l2 -1l-1.3 -8.1l-2 1.1z"/>
<path color="#63b9ec" d="M265.7 387.5l2 -1.1l-1.3 -8l-2.1 1.2z"/>
<path color="#61b6ec" d="M263.7 388.6l2 -1.1l-1.4 -7.9l-2 1.2z"/>
<path color="#5eb2ec" d="M261.7 389.8l2 -1.2l-1.4 -7.8l-2 1.3z"/>
<path color="#5aaeeb" d="M259.6 391l2.1 -1.2l-1.4 -7.7l-2 1.4z"/>
<path color="#58aaeb" d="M257.6 392.3l2 -1.3l-1.3 -7.5l-2 1.5z"/>
<path color="#57a7eb" d="M255.6 393.7l2 -1.4l-1.3 -7.3l-2 1.5z"/>
<path color="#56a3ea" d="M253.6 395.1l2 -1.4l-1.3 -7.2l-2.1 1.5z"/>
<path color="#559eea" d="M251.6 396.6l2 -1.5l-1.4 -7.1l-2 1.7z"/>
<path color="#559ae9" d="M249.6 398.2l2 -1.6l-1.4 -6.9l-2 1.7z"/>
<path color="#5496e9" d="M247.5 399.8l2.1 -1.6l-1.4 -6.8l-2 1.8z"/>
<path color="#5191e9" d="M245.5 401.5l2 -1.7l-1.3 -6.6l-2 1.8z"/>
<path color="#4e8be9" d="M243.5 403.2l2 -1.7l-1.3 -6.5l-2 2z"/>
<path color="#4d85e8" d="M241.5 405l2 -1.8l-1.3 -6.2l-2.1 1.9z"/>
<path color="#4d80e8" d="M239.5 406.9l2 -1.9l-1.4 -6.1l-2 2.1z"/>
<path color="#4f7ce9" d="M237.5 408.8l2 -1.9l-1.4 -5.9l-2 2.1z"/>
<path color="#4c73e8" d="M235.4 410.8l2.1 -2l-1.4 -5.7l-2 2.2z"/>
<path color="#4467e6" d="M233.4 412.8l2 -2l-1.3 -5.5l-2 2.3z"/>
<path color="#3d5ce7" d="M231.4 414.9l2 -2.1l-1.3 -5.2l-2 2.4z"/>
<path color="#3750ea" d="M229.4 417.1l2 -2.2l-1.3 -4.9l-2.1 2.4z"/>
<path color="#3345ec" d="M227.4 419.4l2 -2.3l-1.4 -4.7l-2 2.5z"/>
<path color="#2f3aed" d="M225.4 421.7l2 -2.3l-1.4 -4.5l-2 2.6z"/>
<path color="#2b31ec" d="M223.3 424.2l2.1 -2.5l-1.4 -4.2l-2 2.7z"/>
<path color="#2728e9" d="M221.3 426.7l2 -2.5l-1.3 -4l-2 2.8z"/>
<path color="#2221e6" d="M219.3 429.3l2 -2.6l-1.3 -3.7l-2 2.9z"/>
<path color="#1c1be1" d="M217.3 432l2 -2.7l-1.3 -3.4l-2.1 3z"/>
<path color="#1514d7" d="M215.3 434.8l2 -2.8l-1.4 -3.1l-2 3.1z"/>
<path color="#0f0eca" d="M213.3 437.9l2 -3.1l-1.4 -2.8l-2 3.4z"/>
<path color="#0c0cbe" d="M211.2 441.1l2.1 -3.2l-1.4 -2.5l-2 3.5z"/>
<path color="#0b0bb1" d="M209.2 444.6l2 -3.5l-1.3 -2.2l-2 3.9z"/>
<path color="#07079e" d="M207.2 448.5l2 -3.9l-1.3 -1.8l-2 4.4z"/>
<path color="#06058e" d="M205.2 454.3l2 -5.8l-1.3 -1.3l-2.1 6.5z"/>
<path color="#0302a6" d="M384 432.3l2 2.8l-1.3 -1.7l-2 -3.2z"/>
<path color="#0302ab" d="M381.9 429.7l2.1 2.6l-1.3 -2.1l-2.1 -2.9z"/>
<path color="#0302b4" d="M379.9 427.3l2 2.4l-1.3 -2.4l-2 -2.8z"/>
<path color="#0302be" d="M377.9 425l2 2.3l-1.3 -2.8l-2 -2.6z"/>
<path color="#0303cc" d="M375.9 422.8l2 2.2l-1.3 -3.1l-2 -2.5z"/>
<path color="#0404db" d="M373.9 420.7l2 2.1l-1.3 -3.4l-2 -2.3z"/>
<path color="#0505e8" d="M371.9 418.7l2 2l-1.3 -3.6l-2 -2.3z"/>
<path color="#0607f1" d="M369.8 416.8l2.1 1.9l-1.3 -3.9l-2.1 -2.1z"/>
<path color="#090df6" d="M367.8 415l2 1.8l-1.3 -4.1l-2 -2.1z"/>
<path color="#0f17f7" d="M365.8 413.2l2 1.8l-1.3 -4.4l-2 -2z"/>
<path color="#1624f6" d="M363.8 411.5l2 1.7l-1.3 -4.6l-2 -2z"/>
<path color="#1b31f6" d="M361.8 409.9l2 1.6l-1.3 -4.9l-2 -1.8z"/>
<path color="#213df4" d="M359.8 408.3l2 1.6l-1.3 -5.1l-2 -1.8z"/>
<path color="#2447f1" d="M357.7 406.8l2.1 1.5l-1.3 -5.3l-2.1 -1.8z"/>
<path color="#254def" d="M355.7 405.3l2 1.5l-1.3 -5.6l-2 -1.6z"/>
<path color="#2554f1" d="M353.7 403.9l2 1.4l-1.3 -5.7l-2 -1.6z"/>
<path color="#295bf1" d="M351.7 402.6l2 1.3l-1.3 -5.9l-2 -1.6z"/>
<path color="#2e61f1" d="M349.7 401.3l2 1.3l-1.3 -6.2l-2 -1.5z"/>
<path color="#3268f0" d="M347.7 400l2 1.3l-1.3 -6.4l-2 -1.4z"/>
<path color="#3670ef" d="M345.6 398.8l2.1 1.2l-1.3 -6.5l-2.1 -1.3z"/>
<path color="#3978ee" d="M343.6 397.7l2 1.1l-1.3 -6.6l-2 -1.3z"/>
<path color="#3c7eec" d="M341.6 396.6l2 1.1l-1.3 -6.8l-2 -1.3z"/>
<path color="#3e83ec" d="M339.6 395.6l2 1l-1.3 -7l-2 -1.1z"/>
<path color="#4089ed" d="M337.6 394.6l2 1l-1.3 -7.1l-2 -1.1z"/>
<path color="#448eee" d="M335.6 393.7l2 0.9l-1.3 -7.2l-2 -1.1z"/>
<path color="#4893ef" d="M333.5 392.8l2.1 0.9l-1.3 -7.4l-2.1 -1z"/>
<path color="#4b97f0" d="M331.5 392l2 0.8l-1.3 -7.5l-2 -0.9z"/>
<path color="#4d9bef" d="M329.5 391.3l2 0.7l-1.3 -7.6l-2 -0.9z"/>
<path color="#509dee" d="M327.5 390.6l2 0.7l-1.3 -7.8l-2 -0.8z"/>
<path color="#53a2ed" d="M325.5 389.9l2 0.7l-1.3 -7.9l-2 -0.7z"/>
<path color="#56a7ed" d="M323.5 389.3l2 0.6l-1.3 -7.9l-2 -0.7z"/>
<path color="#5bacee" d="M321.4 388.8l2.1 0.5l-1.3 -8l-2.1 -0.7z"/>
<path color="#5fafee" d="M319.4 388.3l2 0.5l-1.3 -8.2l-2 -0.5z"/>
<path color="#5faeed" d="M317.4 387.9l2 0.4l-1.3 -8.2l-2 -0.5z"/>
<path color="#5dadec" d="M315.4 387.5l2 0.4l-1.3 -8.3l-2 -0.5z"/>
<path color="#5baded" d="M313.4 387.2l2 0.3l-1.3 -8.4l-2 -0.3z"/>
<path color="#5aafed" d="M311.4 386.9l2 0.3l-1.3 -8.4l-2 -0.3z"/>
<path color="#59b1ee" d="M309.3 386.7l2.1 0.2l-1.3 -8.4l-2.1 -0.3z"/>
<path color="#59b3ef" d="M307.3 386.5l2 0.2l-1.3 -8.5l-2 -0.2z"/>
<path color="#58b4ef" d="M305.3 386.5l2 0l-1.3 -8.5l-2 -0.1z"/>
<path color="#57b5ef" d="M303.3 386.4l2 0.1l-1.3 -8.6l-2 -0.1z"/>
<path color="#57b5ee" d="M301.3 386.4l2 0l-1.3 -8.6l-2 0z"/>
<path color="#58b5ee" d="M299.3 386.5l2 -0.1l-1.3 -8.6l-2 0.1z"/>
<path color="#5bb6ee" d="M297.2 386.6l2.1 -0.1l-1.3 -8.6l-2.1 0.1z"/>
<path color="#5cb6ed" d="M295.2 386.8l2 -0.2l-1.3 -8.6l-2 0.2z"/>
<path color="#5fb7ed" d="M293.2 387l2 -0.2l-1.3 -8.6l-2 0.3z"/>
<path color="#61b9ed" d="M291.2 387.3l2 -0.3l-1.3 -8.5l-2 0.3z"/>
<path color="#61b8ee" d="M289.2 387.7l2 -0.4l-1.3 -8.5l-2 0.4z"/>
<path color="#61b6ee" d="M287.2 388.1l2 -0.4l-1.3 -8.5l-2 0.4z"/>
<path color="#62b3ec" d="M285.1 388.6l2.1 -0.5l-1.3 -8.5l-2.1 0.5z"/>
<path color="#63b1eb" d="M283.1 389.1l2 -0.5l-1.3 -8.5l-2 0.6z"/>
<path color="#67b2eb" d="M281.1 389.7l2 -0.6l-1.3 -8.4l-2 0.6z"/>
<path color="#6bb4ec" d="M279.1 390.3l2 -0.6l-1.3 -8.4l-2 0.7z"/>
<path color="#6ab3ed" d="M277.1 391l2 -0.7l-1.3 -8.3l-2 0.8z"/>
<path color="#67b1ed" d="M275.1 391.7l2 -0.7l-1.3 -8.2l-2 0.8z"/>
<path color="#66afec" d="M273 392.5l2.1 -0.8l-1.3 -8.1l-2.1 0.9z"/>
<path color="#66adeb" d="M271 393.4l2 -0.9l-1.3 -8l-2 0.9z"/>
<path color="#65aaeb" d="M269 394.3l2 -0.9l-1.3 -8l-2 1z"/>
<path color="#65a8eb" d="M267 395.2l2 -0.9l-1.3 -7.9l-2 1.1z"/>
<path color="#64a6eb" d="M265 396.2l2 -1l-1.3 -7.7l-2 1.1z"/>
<path color="#62a3eb" d="M263 397.3l2 -1.1l-1.3 -7.6l-2 1.2z"/>
<path color="#609fe9" d="M260.9 398.4l2.1 -1.1l-1.3 -7.5l-2.1 1.2z"/>
<path color="#5e9be9" d="M258.9 399.6l2 -1.2l-1.3 -7.4l-2 1.3z"/>
<path color="#5c97e9" d="M256.9 400.8l2 -1.2l-1.3 -7.3l-2 1.4z"/>
<path color="#5b93ea" d="M254.9 402.1l2 -1.3l-1.3 -7.1l-2 1.4z"/>
<path color="#598fe9" d="M252.9 403.4l2 -1.3l-1.3 -7l-2 1.5z"/>
<path color="#578ce8" d="M250.9 404.8l2 -1.4l-1.3 -6.8l-2 1.6z"/>
<path color="#5487e7" d="M248.8 406.3l2.1 -1.5l-1.3 -6.6l-2.1 1.6z"/>
<path color="#5283e7" d="M246.8 407.8l2 -1.5l-1.3 -6.5l-2 1.7z"/>
<path color="#517de8" d="M244.8 409.3l2 -1.5l-1.3 -6.3l-2 1.7z"/>
<path color="#5078e7" d="M242.8 410.9l2 -1.6l-1.3 -6.1l-2 1.8z"/>
<path color="#5276e6" d="M240.8 412.6l2 -1.7l-1.3 -5.9l-2 1.9z"/>
<path color="#5572e5" d="M238.8 414.3l2 -1.7l-1.3 -5.7l-2 1.9z"/>
<path color="#5169e4" d="M236.7 416.1l2.1 -1.8l-1.3 -5.5l-2.1 2z"/>
<path color="#495ee5" d="M234.7 417.9l2 -1.8l-1.3 -5.3l-2 2z"/>
<path color="#4354e8" d="M232.7 419.8l2 -1.9l-1.3 -5.1l-2 2.1z"/>
<path color="#3e4ae9" d="M230.7 421.8l2 -2l-1.3 -4.9l-2 2.2z"/>
<path color="#373ee8" d="M228.7 423.8l2 -2l-1.3 -4.7l-2 2.3z"/>
<path color="#3134e7" d="M226.7 425.9l2 -2.1l-1.3 -4.4l-2 2.3z"/>
<path color="#2d2ee4" d="M224.6 428.1l2.1 -2.2l-1.3 -4.2l-2.1 2.5z"/>
<path color="#292ae1" d="M222.6 430.3l2 -2.2l-1.3 -3.9l-2 2.5z"/>
<path color="#2525de" d="M220.6 432.6l2 -2.3l-1.3 -3.6l-2 2.6z"/>
<path color="#2020d9" d="M218.6 435.1l2 -2.5l-1.3 -3.3l-2 2.7z"/>
<path color="#1919d1" d="M216.6 437.6l2 -2.5l-1.3 -3.1l-2 2.8z"/>
<path color="#1110c6" d="M214.6 440.3l2 -2.7l-1.3 -2.8l-2 3.1z"/>
<path color="#0909b8" d="M212.5 443.1l2.1 -2.8l-1.3 -2.4l-2.1 3.2z"/>
<path color="#0706ab" d="M210.5 446.3l2 -3.2l-1.3 -2l-2 3.5z"/>
<path color="#07079d" d="M208.5 449.8l2 -3.5l-1.3 -1.7l-2 3.9z"/>
<path color="#060490" d="M206.5 454.9l2 -5.1l-1.3 -1.3l-2 5.8z"/>
<path color="#0303a9" d="M383.2 432l2 2.3l-1.2 -2l-2.1 -2.6z"/>
<path color="#0403b2" d="M381.2 429.9l2 2.1l-1.3 -2.3l-2 -2.4z"/>
<path color="#0403bc" d="M379.2 428l2 1.9l-1.3 -2.6l-2 -2.3z"/>
<path color="#0404c8" d="M377.1 426.1l2.1 1.9l-1.3 -3l-2 -2.2z"/>
<path color="#0505d4" d="M375.1 424.3l2 1.8l-1.2 -3.3l-2 -2.1z"/>
<path color="#0707e0" d="M373.1 422.5l2 1.8l-1.2 -3.6l-2 -2z"/>
<path color="#0a09e8" d="M371.1 420.9l2 1.6l-1.2 -3.8l-2.1 -1.9z"/>
<path color="#0f0eee" d="M369.1 419.3l2 1.6l-1.3 -4.1l-2 -1.8z"/>
<path color="#1616f1" d="M367.1 417.8l2 1.5l-1.3 -4.3l-2 -1.8z"/>
<path color="#1f22f1" d="M365 416.3l2.1 1.5l-1.3 -4.6l-2 -1.7z"/>
<path color="#252cf0" d="M363 414.9l2 1.4l-1.2 -4.8l-2 -1.6z"/>
<path color="#2733f0" d="M361 413.5l2 1.4l-1.2 -5l-2 -1.6z"/>
<path color="#2b3aef" d="M359 412.2l2 1.3l-1.2 -5.2l-2.1 -1.5z"/>
<path color="#2d43ee" d="M357 410.9l2 1.3l-1.3 -5.4l-2 -1.5z"/>
<path color="#2f4aec" d="M355 409.7l2 1.2l-1.3 -5.6l-2 -1.4z"/>
<path color="#3250ec" d="M352.9 408.6l2.1 1.1l-1.3 -5.8l-2 -1.3z"/>
<path color="#3557ed" d="M350.9 407.4l2 1.2l-1.2 -6l-2 -1.3z"/>
<path color="#385ded" d="M348.9 406.4l2 1l-1.2 -6.1l-2 -1.3z"/>
<path color="#3c63ed" d="M346.9 405.3l2 1.1l-1.2 -6.4l-2.1 -1.2z"/>
<path color="#3f6aed" d="M344.9 404.4l2 0.9l-1.3 -6.5l-2 -1.1z"/>
<path color="#426fed" d="M342.9 403.4l2 1l-1.3 -6.7l-2 -1.1z"/>
<path color="#4473ed" d="M340.8 402.5l2.1 0.9l-1.3 -6.8l-2 -1z"/>
<path color="#4678ed" d="M338.8 401.7l2 0.8l-1.2 -6.9l-2 -1z"/>
<path color="#4a7ded" d="M336.8 400.9l2 0.8l-1.2 -7.1l-2 -0.9z"/>
<path color="#4e82ed" d="M334.8 400.2l2 0.7l-1.2 -7.2l-2.1 -0.9z"/>
<path color="#5086ed" d="M332.8 399.5l2 0.7l-1.3 -7.4l-2 -0.8z"/>
<path color="#5289ee" d="M330.8 398.8l2 0.7l-1.3 -7.5l-2 -0.7z"/>
<path color="#548dee" d="M328.7 398.2l2.1 0.6l-1.3 -7.5l-2 -0.7z"/>
<path color="#5792ed" d="M326.7 397.7l2 0.5l-1.2 -7.6l-2 -0.7z"/>
<path color="#5b97ec" d="M324.7 397.2l2 0.5l-1.2 -7.8l-2 -0.6z"/>
<path color="#5d9aec" d="M322.7 396.7l2 0.5l-1.2 -7.9l-2.1 -0.5z"/>
<path color="#5e9bec" d="M320.7 396.3l2 0.4l-1.3 -7.9l-2 -0.5z"/>
<path color="#5c9aec" d="M318.7 396l2 0.3l-1.3 -8l-2 -0.4z"/>
<path color="#5999ed" d="M316.6 395.7l2.1 0.3l-1.3 -8.1l-2 -0.4z"/>
<path color="#5899ed" d="M314.6 395.4l2 0.3l-1.2 -8.2l-2 -0.3z"/>
<path color="#5699ed" d="M312.6 395.2l2 0.2l-1.2 -8.2l-2 -0.3z"/>
<path color="#569bec" d="M310.6 395l2 0.2l-1.2 -8.3l-2.1 -0.2z"/>
<path color="#579dec" d="M308.6 394.9l2 0.1l-1.3 -8.3l-2 -0.2z"/>
<path color="#579fec" d="M306.6 394.8l2 0.1l-1.3 -8.4l-2 -0z"/>
<path color="#58a1ec" d="M304.5 394.8l2.1 0l-1.3 -8.3l-2 -0.1z"/>
<path color="#59a2ec" d="M302.5 394.8l2 0l-1.2 -8.4l-2 -0z"/>
<path color="#59a3ec" d="M300.5 394.9l2 -0.1l-1.2 -8.4l-2 0.1z"/>
<path color="#5aa2eb" d="M298.5 395l2 -0.1l-1.2 -8.4l-2.1 0.1z"/>
<path color="#5ba3ec" d="M296.5 395.2l2 -0.2l-1.3 -8.4l-2 0.2z"/>
<path color="#5da4eb" d="M294.5 395.4l2 -0.2l-1.3 -8.4l-2 0.2z"/>
<path color="#60a6eb" d="M292.4 395.7l2.1 -0.3l-1.3 -8.4l-2 0.3z"/>
<path color="#61a5ea" d="M290.4 396l2 -0.3l-1.2 -8.4l-2 0.4z"/>
<path color="#61a3e9" d="M288.4 396.4l2 -0.4l-1.2 -8.3l-2 0.4z"/>
<path color="#62a0e9" d="M286.4 396.8l2 -0.4l-1.2 -8.3l-2.1 0.5z"/>
<path color="#659fe9" d="M284.4 397.3l2 -0.5l-1.3 -8.2l-2 0.5z"/>
<path color="#68a0e9" d="M282.4 397.8l2 -0.5l-1.3 -8.2l-2 0.6z"/>
<path color="#6aa0e9" d="M280.3 398.4l2.1 -0.6l-1.3 -8.1l-2 0.6z"/>
<path color="#689ee9" d="M278.3 399l2 -0.6l-1.2 -8.1l-2 0.7z"/>
<path color="#669de9" d="M276.3 399.7l2 -0.7l-1.2 -8l-2 0.7z"/>
<path color="#659ce8" d="M274.3 400.4l2 -0.7l-1.2 -8l-2.1 0.8z"/>
<path color="#669ce7" d="M272.3 401.1l2 -0.7l-1.3 -7.9l-2 0.9z"/>
<path color="#669ae7" d="M270.3 401.9l2 -0.8l-1.3 -7.7l-2 0.9z"/>
<path color="#6698e8" d="M268.2 402.8l2.1 -0.9l-1.3 -7.6l-2 0.9z"/>
<path color="#6796e8" d="M266.2 403.7l2 -0.9l-1.2 -7.6l-2 1z"/>
<path color="#6695e8" d="M264.2 404.7l2 -1l-1.2 -7.5l-2 1.1z"/>
<path color="#6491e7" d="M262.2 405.6l2 -0.9l-1.2 -7.4l-2.1 1.1z"/>
<path color="#618de7" d="M260.2 406.7l2 -1.1l-1.3 -7.2l-2 1.2z"/>
<path color="#5f88e6" d="M258.2 407.8l2 -1.1l-1.3 -7.1l-2 1.2z"/>
<path color="#5d85e6" d="M256.1 408.9l2.1 -1.1l-1.3 -7l-2 1.3z"/>
<path color="#5c82e6" d="M254.1 410.1l2 -1.2l-1.2 -6.8l-2 1.3z"/>
<path color="#597ee5" d="M252.1 411.3l2 -1.2l-1.2 -6.7l-2 1.4z"/>
<path color="#587ae5" d="M250.1 412.6l2 -1.3l-1.2 -6.5l-2.1 1.5z"/>
<path color="#5775e6" d="M248.1 413.9l2 -1.3l-1.3 -6.3l-2 1.5z"/>
<path color="#5672e6" d="M246.1 415.3l2 -1.4l-1.3 -6.1l-2 1.5z"/>
<path color="#566fe5" d="M244 416.7l2.1 -1.4l-1.3 -6l-2 1.6z"/>
<path color="#596de3" d="M242 418.2l2 -1.5l-1.2 -5.8l-2 1.7z"/>
<path color="#5867e2" d="M240 419.7l2 -1.5l-1.2 -5.6l-2 1.7z"/>
<path color="#515de2" d="M238 421.3l2 -1.6l-1.2 -5.4l-2.1 1.8z"/>
<path color="#4c55e3" d="M236 422.9l2 -1.6l-1.3 -5.2l-2 1.8z"/>
<path color="#494ee4" d="M234 424.6l2 -1.7l-1.3 -5l-2 1.9z"/>
<path color="#4446e4" d="M231.9 426.3l2.1 -1.7l-1.3 -4.8l-2 2z"/>
<path color="#3f3fe3" d="M229.9 428.1l2 -1.8l-1.2 -4.5l-2 2z"/>
<path color="#3939e1" d="M227.9 430l2 -1.9l-1.2 -4.3l-2 2.1z"/>
<path color="#3334de" d="M225.9 431.9l2 -1.9l-1.2 -4.1l-2.1 2.2z"/>
<path color="#2f31db" d="M223.9 433.9l2 -2l-1.3 -3.8l-2 2.2z"/>
<path color="#2a2cd8" d="M221.9 435.9l2 -2l-1.3 -3.6l-2 2.3z"/>
<path color="#2425d1" d="M219.8 438l2.1 -2.1l-1.3 -3.3l-2 2.5z"/>
<path color="#1e1fc9" d="M217.8 440.3l2 -2.3l-1.2 -2.9l-2 2.5z"/>
<path color="#1515bf" d="M215.8 442.7l2 -2.4l-1.2 -2.7l-2 2.7z"/>
<path color="#0b0ab3" d="M213.8 445.2l2 -2.5l-1.2 -2.4l-2.1 2.8z"/>
<path color="#0605a8" d="M211.8 447.9l2 -2.7l-1.3 -2.1l-2 3.2z"/>
<path color="#05059d" d="M209.8 451l2 -3.1l-1.3 -1.6l-2 3.5z"/>
<path color="#050390" d="M207.7 455.5l2.1 -4.5l-1.3 -1.2l-2 5.1z"/>
<path color="#0303a0" d="M386.4 436.3l2 2.1l-1.2 -1.6l-2 -2.5z"/>
<path color="#0404a6" d="M384.4 434.4l2 1.9l-1.2 -2l-2 -2.3z"/>
<path color="#0504af" d="M382.4 432.6l2 1.8l-1.2 -2.4l-2 -2.1z"/>
<path color="#0605b7" d="M380.4 430.9l2 1.7l-1.2 -2.7l-2 -1.9z"/>
<path color="#0706c2" d="M378.4 429.3l2 1.6l-1.2 -2.9l-2.1 -1.9z"/>
<path color="#0908cd" d="M376.3 427.7l2.1 1.6l-1.3 -3.2l-2 -1.8z"/>
<path color="#0c0cd6" d="M374.3 426.3l2 1.4l-1.2 -3.4l-2 -1.8z"/>
<path color="#1010dd" d="M372.3 424.9l2 1.4l-1.2 -3.8l-2 -1.6z"/>
<path color="#1716e1" d="M370.3 423.5l2 1.4l-1.2 -4l-2 -1.6z"/>
<path color="#201fe4" d="M368.3 422.2l2 1.3l-1.2 -4.2l-2 -1.5z"/>
<path color="#2a29e7" d="M366.3 421l2 1.2l-1.2 -4.4l-2.1 -1.5z"/>
<path color="#3232e9" d="M364.2 419.8l2.1 1.2l-1.3 -4.7l-2 -1.4z"/>
<path color="#3435e9" d="M362.2 418.6l2 1.2l-1.2 -4.9l-2 -1.4z"/>
<path color="#3236e9" d="M360.2 417.5l2 1.1l-1.2 -5.1l-2 -1.3z"/>
<path color="#3339eb" d="M358.2 416.4l2 1.1l-1.2 -5.3l-2 -1.3z"/>
<path color="#363fec" d="M356.2 415.4l2 1l-1.2 -5.5l-2 -1.2z"/>
<path color="#3945ea" d="M354.2 414.4l2 1l-1.2 -5.7l-2.1 -1.1z"/>
<path color="#3c4be9" d="M352.1 413.5l2.1 0.9l-1.3 -5.8l-2 -1.2z"/>
<path color="#3f51e8" d="M350.1 412.6l2 0.9l-1.2 -6.1l-2 -1z"/>
<path color="#4257e8" d="M348.1 411.7l2 0.9l-1.2 -6.2l-2 -1.1z"/>
<path color="#445ce8" d="M346.1 410.9l2 0.8l-1.2 -6.4l-2 -0.9z"/>
<path color="#4661e8" d="M344.1 410.1l2 0.8l-1.2 -6.5l-2 -1z"/>
<path color="#4865e8" d="M342.1 409.3l2 0.8l-1.2 -6.7l-2.1 -0.9z"/>
<path color="#4b6ae8" d="M340 408.6l2.1 0.7l-1.3 -6.8l-2 -0.8z"/>
<path color="#4e70e9" d="M338 408l2 0.6l-1.2 -6.9l-2 -0.8z"/>
<path color="#5174ea" d="M336 407.4l2 0.6l-1.2 -7.1l-2 -0.7z"/>
<path color="#5377ea" d="M334 406.8l2 0.6l-1.2 -7.2l-2 -0.7z"/>
<path color="#557ae9" d="M332 406.2l2 0.6l-1.2 -7.3l-2 -0.7z"/>
<path color="#567de9" d="M330 405.7l2 0.5l-1.2 -7.4l-2.1 -0.6z"/>
<path color="#5981e9" d="M327.9 405.3l2.1 0.4l-1.3 -7.5l-2 -0.5z"/>
<path color="#5d86e9" d="M325.9 404.9l2 0.4l-1.2 -7.6l-2 -0.5z"/>
<path color="#5f8aea" d="M323.9 404.5l2 0.4l-1.2 -7.7l-2 -0.5z"/>
<path color="#5d89e9" d="M321.9 404.2l2 0.3l-1.2 -7.8l-2 -0.4z"/>
<path color="#5a87e9" d="M319.9 403.9l2 0.3l-1.2 -7.9l-2 -0.3z"/>
<path color="#5986ea" d="M317.9 403.6l2 0.3l-1.2 -7.9l-2.1 -0.3z"/>
<path color="#5784ea" d="M315.8 403.4l2.1 0.2l-1.3 -7.9l-2 -0.3z"/>
<path color="#5685e9" d="M313.8 403.3l2 0.1l-1.2 -8l-2 -0.2z"/>
<path color="#5686ea" d="M311.8 403.1l2 0.2l-1.2 -8.1l-2 -0.2z"/>
<path color="#5787ea" d="M309.8 403l2 0.1l-1.2 -8.1l-2 -0.1z"/>
<path color="#588aeb" d="M307.8 403l2 0l-1.2 -8.1l-2 -0.1z"/>
<path color="#598ceb" d="M305.8 403l2 0l-1.2 -8.2l-2.1 0z"/>
<path color="#588eeb" d="M303.7 403l2.1 0l-1.3 -8.2l-2 0z"/>
<path color="#5890ea" d="M301.7 403.1l2 -0.1l-1.2 -8.2l-2 0.1z"/>
<path color="#5891ea" d="M299.7 403.3l2 -0.2l-1.2 -8.2l-2 0.1z"/>
<path color="#5b92ea" d="M297.7 403.4l2 -0.1l-1.2 -8.3l-2 0.2z"/>
<path color="#5d93ea" d="M295.7 403.6l2 -0.2l-1.2 -8.2l-2 0.2z"/>
<path color="#6093e9" d="M293.7 403.9l2 -0.3l-1.2 -8.2l-2.1 0.3z"/>
<path color="#6292e9" d="M291.6 404.2l2.1 -0.3l-1.3 -8.2l-2 0.3z"/>
<path color="#628fe8" d="M289.6 404.5l2 -0.3l-1.2 -8.2l-2 0.4z"/>
<path color="#628ee8" d="M287.6 404.9l2 -0.4l-1.2 -8.1l-2 0.4z"/>
<path color="#658fe8" d="M285.6 405.3l2 -0.4l-1.2 -8.1l-2 0.5z"/>
<path color="#6991e9" d="M283.6 405.8l2 -0.5l-1.2 -8l-2 0.5z"/>
<path color="#688fe8" d="M281.6 406.3l2 -0.5l-1.2 -8l-2.1 0.6z"/>
<path color="#658ce8" d="M279.5 406.9l2.1 -0.6l-1.3 -7.9l-2 0.6z"/>
<path color="#638ae8" d="M277.5 407.4l2 -0.5l-1.2 -7.9l-2 0.7z"/>
<path color="#638ae8" d="M275.5 408.1l2 -0.7l-1.2 -7.7l-2 0.7z"/>
<path color="#6389e8" d="M273.5 408.7l2 -0.6l-1.2 -7.7l-2 0.7z"/>
<path color="#6488e7" d="M271.5 409.5l2 -0.8l-1.2 -7.6l-2 0.8z"/>
<path color="#6487e7" d="M269.5 410.2l2 -0.7l-1.2 -7.6l-2.1 0.9z"/>
<path color="#6586e8" d="M267.4 411l2.1 -0.8l-1.3 -7.4l-2 0.9z"/>
<path color="#6685e9" d="M265.4 411.8l2 -0.8l-1.2 -7.3l-2 1z"/>
<path color="#6683e8" d="M263.4 412.7l2 -0.9l-1.2 -7.1l-2 0.9z"/>
<path color="#647fe7" d="M261.4 413.6l2 -0.9l-1.2 -7.1l-2 1.1z"/>
<path color="#627be6" d="M259.4 414.6l2 -1l-1.2 -6.9l-2 1.1z"/>
<path color="#5f77e6" d="M257.4 415.6l2 -1l-1.2 -6.8l-2.1 1.1z"/>
<path color="#5d73e5" d="M255.3 416.6l2.1 -1l-1.3 -6.7l-2 1.2z"/>
<path color="#5c70e5" d="M253.3 417.7l2 -1.1l-1.2 -6.5l-2 1.2z"/>
<path color="#5b6ce5" d="M251.3 418.8l2 -1.1l-1.2 -6.4l-2 1.3z"/>
<path color="#5a69e5" d="M249.3 420l2 -1.2l-1.2 -6.2l-2 1.3z"/>
<path color="#5a66e4" d="M247.3 421.2l2 -1.2l-1.2 -6.1l-2 1.4z"/>
<path color="#5d66e1" d="M245.3 422.4l2 -1.2l-1.2 -5.9l-2.1 1.4z"/>
<path color="#6066e0" d="M243.2 423.7l2.1 -1.3l-1.3 -5.7l-2 1.5z"/>
<path color="#5b5fdf" d="M241.2 425l2 -1.3l-1.2 -5.5l-2 1.5z"/>
<path color="#5456de" d="M239.2 426.4l2 -1.4l-1.2 -5.3l-2 1.6z"/>
<path color="#5151de" d="M237.2 427.8l2 -1.4l-1.2 -5.1l-2 1.6z"/>
<path color="#4d4ddc" d="M235.2 429.3l2 -1.5l-1.2 -4.9l-2 1.7z"/>
<path color="#4849da" d="M233.2 430.8l2 -1.5l-1.2 -4.7l-2.1 1.7z"/>
<path color="#4243d8" d="M231.1 432.3l2.1 -1.5l-1.3 -4.5l-2 1.8z"/>
<path color="#3d3ed6" d="M229.1 433.9l2 -1.6l-1.2 -4.2l-2 1.9z"/>
<path color="#393ad5" d="M227.1 435.6l2 -1.7l-1.2 -3.9l-2 1.9z"/>
<path color="#3536d4" d="M225.1 437.3l2 -1.7l-1.2 -3.7l-2 2z"/>
<path color="#3132d1" d="M223.1 439.1l2 -1.8l-1.2 -3.4l-2 2z"/>
<path color="#2b2cca" d="M221.1 441l2 -1.9l-1.2 -3.2l-2.1 2.1z"/>
<path color="#2425c2" d="M219 442.9l2.1 -1.9l-1.3 -3l-2 2.3z"/>
<path color="#1b1bba" d="M217 445l2 -2.1l-1.2 -2.6l-2 2.4z"/>
<path color="#100fb1" d="M215 447.1l2 -2.1l-1.2 -2.3l-2 2.5z"/>
<path color="#0707a6" d="M213 449.5l2 -2.4l-1.2 -1.9l-2 2.7z"/>
<path color="#03039a" d="M211 452.2l2 -2.7l-1.2 -1.6l-2 3.1z"/>
<path color="#05038d" d="M209 456.1l2 -3.9l-1.2 -1.2l-2.1 4.5z"/>
<path color="#05049e" d="M387.6 438.2l2 1.8l-1.2 -1.6l-2 -2.1z"/>
<path color="#0505a3" d="M385.6 436.6l2 1.6l-1.2 -1.9l-2 -1.9z"/>
<path color="#0606aa" d="M383.5 435.1l2.1 1.5l-1.2 -2.2l-2 -1.8z"/>
<path color="#0908b5" d="M381.5 433.7l2 1.4l-1.1 -2.5l-2 -1.7z"/>
<path color="#0b0abe" d="M379.5 432.4l2 1.3l-1.1 -2.8l-2 -1.6z"/>
<path color="#100fc7" d="M377.5 431.1l2 1.3l-1.1 -3.1l-2.1 -1.6z"/>
<path color="#1515cf" d="M375.5 429.9l2 1.2l-1.2 -3.4l-2 -1.4z"/>
<path color="#1c1cd4" d="M373.5 428.7l2 1.2l-1.2 -3.6l-2 -1.4z"/>
<path color="#2525d6" d="M371.4 427.6l2.1 1.1l-1.2 -3.8l-2 -1.4z"/>
<path color="#2f2fd8" d="M369.4 426.5l2 1.1l-1.1 -4.1l-2 -1.3z"/>
<path color="#3636db" d="M367.4 425.5l2 1l-1.1 -4.3l-2 -1.2z"/>
<path color="#3c3bde" d="M365.4 424.5l2 1l-1.1 -4.5l-2.1 -1.2z"/>
<path color="#3d3ce0" d="M363.4 423.6l2 0.9l-1.2 -4.7l-2 -1.2z"/>
<path color="#3b3be1" d="M361.4 422.6l2 1l-1.2 -5l-2 -1.1z"/>
<path color="#3b3be3" d="M359.3 421.8l2.1 0.8l-1.2 -5.1l-2 -1.1z"/>
<path color="#3d3ee6" d="M357.3 420.9l2 0.9l-1.1 -5.4l-2 -1z"/>
<path color="#3f41e8" d="M355.3 420.1l2 0.8l-1.1 -5.5l-2 -1z"/>
<path color="#4144e9" d="M353.3 419.3l2 0.8l-1.1 -5.7l-2.1 -0.9z"/>
<path color="#4448e8" d="M351.3 418.6l2 0.7l-1.2 -5.8l-2 -0.9z"/>
<path color="#474ce7" d="M349.3 417.9l2 0.7l-1.2 -6l-2 -0.9z"/>
<path color="#4950e7" d="M347.2 417.2l2.1 0.7l-1.2 -6.2l-2 -0.8z"/>
<path color="#4b53e7" d="M345.2 416.6l2 0.6l-1.1 -6.3l-2 -0.8z"/>
<path color="#4e58e8" d="M343.2 416l2 0.6l-1.1 -6.5l-2 -0.8z"/>
<path color="#525de8" d="M341.2 415.4l2 0.6l-1.1 -6.7l-2.1 -0.7z"/>
<path color="#5562e9" d="M339.2 414.9l2 0.5l-1.2 -6.8l-2 -0.6z"/>
<path color="#5766ea" d="M337.2 414.4l2 0.5l-1.2 -6.9l-2 -0.6z"/>
<path color="#5868e9" d="M335.1 413.9l2.1 0.5l-1.2 -7l-2 -0.6z"/>
<path color="#5a6be8" d="M333.1 413.5l2 0.4l-1.1 -7.1l-2 -0.6z"/>
<path color="#5c6fe8" d="M331.1 413.1l2 0.4l-1.1 -7.3l-2 -0.5z"/>
<path color="#5e72e7" d="M329.1 412.7l2 0.4l-1.1 -7.4l-2.1 -0.4z"/>
<path color="#6076e7" d="M327.1 412.4l2 0.3l-1.2 -7.4l-2 -0.4z"/>
<path color="#6078e7" d="M325.1 412.1l2 0.3l-1.2 -7.5l-2 -0.4z"/>
<path color="#5e76e8" d="M323 411.8l2.1 0.3l-1.2 -7.6l-2 -0.3z"/>
<path color="#5a73e7" d="M321 411.6l2 0.2l-1.1 -7.6l-2 -0.3z"/>
<path color="#5972e6" d="M319 411.4l2 0.2l-1.1 -7.7l-2 -0.3z"/>
<path color="#5871e5" d="M317 411.2l2 0.2l-1.1 -7.8l-2.1 -0.2z"/>
<path color="#5872e5" d="M315 411.1l2 0.1l-1.2 -7.8l-2 -0.1z"/>
<path color="#5872e5" d="M313 411l2 0.1l-1.2 -7.8l-2 -0.2z"/>
<path color="#5772e5" d="M310.9 411l2.1 0l-1.2 -7.9l-2 -0.1z"/>
<path color="#5773e4" d="M308.9 411l2 0l-1.1 -8l-2 0z"/>
<path color="#5874e4" d="M306.9 411l2 0l-1.1 -8l-2 0z"/>
<path color="#5975e4" d="M304.9 411l2 0l-1.1 -8l-2.1 0z"/>
<path color="#5a77e5" d="M302.9 411.1l2 -0.1l-1.2 -8l-2 0.1z"/>
<path color="#5b79e5" d="M300.9 411.3l2 -0.2l-1.2 -8l-2 0.2z"/>
<path color="#5d7be6" d="M298.8 411.4l2.1 -0.1l-1.2 -8l-2 0.1z"/>
<path color="#5e7ae6" d="M296.8 411.6l2 -0.2l-1.1 -8l-2 0.2z"/>
<path color="#607be7" d="M294.8 411.9l2 -0.3l-1.1 -8l-2 0.3z"/>
<path color="#617ae6" d="M292.8 412.1l2 -0.2l-1.1 -8l-2.1 0.3z"/>
<path color="#627be5" d="M290.8 412.4l2 -0.3l-1.2 -7.9l-2 0.3z"/>
<path color="#647ce4" d="M288.8 412.8l2 -0.4l-1.2 -7.9l-2 0.4z"/>
<path color="#667ee2" d="M286.7 413.2l2.1 -0.4l-1.2 -7.9l-2 0.4z"/>
<path color="#677fe2" d="M284.7 413.6l2 -0.4l-1.1 -7.9l-2 0.5z"/>
<path color="#657ce3" d="M282.7 414l2 -0.4l-1.1 -7.8l-2 0.5z"/>
<path color="#637ae4" d="M280.7 414.5l2 -0.5l-1.1 -7.7l-2.1 0.6z"/>
<path color="#627ae6" d="M278.7 415l2 -0.5l-1.2 -7.6l-2 0.5z"/>
<path color="#6279e7" d="M276.7 415.6l2 -0.6l-1.2 -7.6l-2 0.7z"/>
<path color="#637ae7" d="M274.6 416.1l2.1 -0.5l-1.2 -7.5l-2 0.6z"/>
<path color="#6479e6" d="M272.6 416.8l2 -0.7l-1.1 -7.4l-2 0.8z"/>
<path color="#6577e4" d="M270.6 417.4l2 -0.6l-1.1 -7.3l-2 0.7z"/>
<path color="#6675e4" d="M268.6 418.1l2 -0.7l-1.1 -7.2l-2.1 0.8z"/>
<path color="#6774e5" d="M266.6 418.8l2 -0.7l-1.2 -7.1l-2 0.8z"/>
<path color="#6774e6" d="M264.6 419.6l2 -0.8l-1.2 -7l-2 0.9z"/>
<path color="#6672e4" d="M262.5 420.4l2.1 -0.8l-1.2 -6.9l-2 0.9z"/>
<path color="#636ee2" d="M260.5 421.2l2 -0.8l-1.1 -6.8l-2 1z"/>
<path color="#616ae2" d="M258.5 422.1l2 -0.9l-1.1 -6.6l-2 1z"/>
<path color="#6066e3" d="M256.5 423l2 -0.9l-1.1 -6.5l-2.1 1z"/>
<path color="#5f64e3" d="M254.5 423.9l2 -0.9l-1.2 -6.4l-2 1.1z"/>
<path color="#5e62e3" d="M252.5 424.8l2 -0.9l-1.2 -6.2l-2 1.1z"/>
<path color="#5d60e1" d="M250.4 425.8l2.1 -1l-1.2 -6l-2 1.2z"/>
<path color="#5e60df" d="M248.4 426.9l2 -1.1l-1.1 -5.8l-2 1.2z"/>
<path color="#5f61de" d="M246.4 427.9l2 -1l-1.1 -5.7l-2 1.2z"/>
<path color="#5f5fdd" d="M244.4 429l2 -1.1l-1.1 -5.5l-2.1 1.3z"/>
<path color="#5b5ada" d="M242.4 430.2l2 -1.2l-1.2 -5.3l-2 1.3z"/>
<path color="#5857d8" d="M240.4 431.3l2 -1.1l-1.2 -5.2l-2 1.4z"/>
<path color="#5656d8" d="M238.3 432.6l2.1 -1.3l-1.2 -4.9l-2 1.4z"/>
<path color="#5354d6" d="M236.3 433.8l2 -1.2l-1.1 -4.8l-2 1.5z"/>
<path color="#4e4fd4" d="M234.3 435.1l2 -1.3l-1.1 -4.5l-2 1.5z"/>
<path color="#4849d1" d="M232.3 436.4l2 -1.3l-1.1 -4.3l-2.1 1.5z"/>
<path color="#4343cf" d="M230.3 437.8l2 -1.4l-1.2 -4.1l-2 1.6z"/>
<path color="#3f3fce" d="M228.3 439.2l2 -1.4l-1.2 -3.9l-2 1.7z"/>
<path color="#3c3bcb" d="M226.2 440.7l2.1 -1.5l-1.2 -3.6l-2 1.7z"/>
<path color="#3737c7" d="M224.2 442.2l2 -1.5l-1.1 -3.4l-2 1.8z"/>
<path color="#3132c3" d="M222.2 443.8l2 -1.6l-1.1 -3.1l-2 1.9z"/>
<path color="#2a2bbe" d="M220.2 445.5l2 -1.7l-1.1 -2.8l-2.1 1.9z"/>
<path color="#2122b9" d="M218.2 447.2l2 -1.7l-1.2 -2.6l-2 2.1z"/>
<path color="#1616b0" d="M216.2 449.1l2 -1.9l-1.2 -2.2l-2 2.1z"/>
<path color="#090aa1" d="M214.1 451.1l2.1 -2l-1.2 -2l-2 2.4z"/>
<path color="#030395" d="M212.1 453.4l2 -2.3l-1.1 -1.6l-2 2.7z"/>
<path color="#040489" d="M210.1 456.7l2 -3.3l-1.1 -1.2l-2 3.9z"/>
<path color="#060694" d="M390.7 441.5l2 1.6l-1.1 -1.1l-2 -2z"/>
<path color="#08079a" d="M388.7 440l2 1.5l-1.1 -1.5l-2 -1.8z"/>
<path color="#0807a1" d="M386.7 438.8l2 1.2l-1.1 -1.8l-2 -1.6z"/>
<path color="#0908a6" d="M384.7 437.6l2 1.2l-1.1 -2.2l-2.1 -1.5z"/>
<path color="#0c0cae" d="M382.6 436.4l2.1 1.2l-1.2 -2.5l-2 -1.4z"/>
<path color="#1010b7" d="M380.6 435.4l2 1l-1.1 -2.7l-2 -1.3z"/>
<path color="#1716c0" d="M378.6 434.4l2 1l-1.1 -3l-2 -1.3z"/>
<path color="#1e1ec7" d="M376.6 433.4l2 1l-1.1 -3.3l-2 -1.2z"/>
<path color="#2525cb" d="M374.6 432.5l2 0.9l-1.1 -3.5l-2 -1.2z"/>
<path color="#2e2fcd" d="M372.6 431.6l2 0.9l-1.1 -3.8l-2.1 -1.1z"/>
<path color="#393acf" d="M370.5 430.7l2.1 0.9l-1.2 -4l-2 -1.1z"/>
<path color="#4141d1" d="M368.5 429.9l2 0.8l-1.1 -4.2l-2 -1z"/>
<path color="#4342d3" d="M366.5 429.1l2 0.8l-1.1 -4.4l-2 -1z"/>
<path color="#4241d5" d="M364.5 428.4l2 0.7l-1.1 -4.6l-2 -0.9z"/>
<path color="#4140d7" d="M362.5 427.6l2 0.8l-1.1 -4.8l-2 -1z"/>
<path color="#4241d9" d="M360.5 426.9l2 0.7l-1.1 -5l-2.1 -0.8z"/>
<path color="#4343db" d="M358.4 426.3l2.1 0.6l-1.2 -5.1l-2 -0.9z"/>
<path color="#4545db" d="M356.4 425.6l2 0.7l-1.1 -5.4l-2 -0.8z"/>
<path color="#4647dc" d="M354.4 425l2 0.6l-1.1 -5.5l-2 -0.8z"/>
<path color="#4849de" d="M352.4 424.4l2 0.6l-1.1 -5.7l-2 -0.7z"/>
<path color="#4b4bdf" d="M350.4 423.9l2 0.5l-1.1 -5.8l-2 -0.7z"/>
<path color="#4d4ddf" d="M348.4 423.4l2 0.5l-1.1 -6l-2.1 -0.7z"/>
<path color="#4f50e0" d="M346.3 422.9l2.1 0.5l-1.2 -6.2l-2 -0.6z"/>
<path color="#5354e2" d="M344.3 422.4l2 0.5l-1.1 -6.3l-2 -0.6z"/>
<path color="#5657e4" d="M342.3 421.9l2 0.5l-1.1 -6.4l-2 -0.6z"/>
<path color="#585ae4" d="M340.3 421.5l2 0.4l-1.1 -6.5l-2 -0.5z"/>
<path color="#595ce4" d="M338.3 421.1l2 0.4l-1.1 -6.6l-2 -0.5z"/>
<path color="#5a5de4" d="M336.3 420.8l2 0.3l-1.1 -6.7l-2.1 -0.5z"/>
<path color="#5a5de4" d="M334.2 420.4l2.1 0.4l-1.2 -6.9l-2 -0.4z"/>
<path color="#5b5fe4" d="M332.2 420.1l2 0.3l-1.1 -6.9l-2 -0.4z"/>
<path color="#5e63e5" d="M330.2 419.9l2 0.2l-1.1 -7l-2 -0.4z"/>
<path color="#6167e5" d="M328.2 419.6l2 0.3l-1.1 -7.2l-2 -0.3z"/>
<path color="#5f66e6" d="M326.2 419.4l2 0.2l-1.1 -7.2l-2 -0.3z"/>
<path color="#5b63e7" d="M324.2 419.2l2 0.2l-1.1 -7.3l-2.1 -0.3z"/>
<path color="#5961e7" d="M322.1 419.1l2.1 0.1l-1.2 -7.4l-2 -0.2z"/>
<path color="#5860e7" d="M320.1 418.9l2 0.2l-1.1 -7.5l-2 -0.2z"/>
<path color="#5861e8" d="M318.1 418.8l2 0.1l-1.1 -7.5l-2 -0.2z"/>
<path color="#5860e8" d="M316.1 418.7l2 0.1l-1.1 -7.6l-2 -0.1z"/>
<path color="#5860e8" d="M314.1 418.7l2 0l-1.1 -7.6l-2 -0.1z"/>
<path color="#585fe8" d="M312.1 418.7l2 0l-1.1 -7.7l-2.1 0z"/>
<path color="#5860e8" d="M310 418.7l2.1 0l-1.2 -7.7l-2 0z"/>
<path color="#5860e8" d="M308 418.7l2 0l-1.1 -7.7l-2 0z"/>
<path color="#5860e7" d="M306 418.8l2 -0.1l-1.1 -7.7l-2 0z"/>
<path color="#5a62e6" d="M304 418.9l2 -0.1l-1.1 -7.8l-2 0.1z"/>
<path color="#5d64e6" d="M302 419l2 -0.1l-1.1 -7.8l-2 0.2z"/>
<path color="#5e65e6" d="M300 419.2l2 -0.2l-1.1 -7.7l-2.1 0.1z"/>
<path color="#5e65e7" d="M297.9 419.4l2.1 -0.2l-1.2 -7.8l-2 0.2z"/>
<path color="#5f65e8" d="M295.9 419.6l2 -0.2l-1.1 -7.8l-2 0.3z"/>
<path color="#6167e8" d="M293.9 419.8l2 -0.2l-1.1 -7.7l-2 0.2z"/>
<path color="#646ae6" d="M291.9 420.1l2 -0.3l-1.1 -7.7l-2 0.3z"/>
<path color="#676ee5" d="M289.9 420.4l2 -0.3l-1.1 -7.7l-2 0.4z"/>
<path color="#6971e3" d="M287.9 420.7l2 -0.3l-1.1 -7.6l-2.1 0.4z"/>
<path color="#676fe2" d="M285.8 421.1l2.1 -0.4l-1.2 -7.5l-2 0.4z"/>
<path color="#636be2" d="M283.8 421.5l2 -0.4l-1.1 -7.5l-2 0.4z"/>
<path color="#626ae3" d="M281.8 421.9l2 -0.4l-1.1 -7.5l-2 0.5z"/>
<path color="#626ae3" d="M279.8 422.3l2 -0.4l-1.1 -7.4l-2 0.5z"/>
<path color="#6269e3" d="M277.8 422.8l2 -0.5l-1.1 -7.3l-2 0.6z"/>
<path color="#6268e3" d="M275.8 423.3l2 -0.5l-1.1 -7.2l-2.1 0.5z"/>
<path color="#6268e3" d="M273.7 423.8l2.1 -0.5l-1.2 -7.2l-2 0.7z"/>
<path color="#6267e3" d="M271.7 424.4l2 -0.6l-1.1 -7l-2 0.6z"/>
<path color="#6366e3" d="M269.7 425l2 -0.6l-1.1 -7l-2 0.7z"/>
<path color="#6467e2" d="M267.7 425.6l2 -0.6l-1.1 -6.9l-2 0.7z"/>
<path color="#6568e0" d="M265.7 426.3l2 -0.7l-1.1 -6.8l-2 0.8z"/>
<path color="#6568de" d="M263.7 426.9l2 -0.6l-1.1 -6.7l-2.1 0.8z"/>
<path color="#6566df" d="M261.6 427.6l2.1 -0.7l-1.2 -6.5l-2 0.8z"/>
<path color="#6464e0" d="M259.6 428.3l2 -0.7l-1.1 -6.4l-2 0.9z"/>
<path color="#6262e0" d="M257.6 429.1l2 -0.8l-1.1 -6.2l-2 0.9z"/>
<path color="#6060de" d="M255.6 429.9l2 -0.8l-1.1 -6.1l-2 0.9z"/>
<path color="#5f5fdc" d="M253.6 430.7l2 -0.8l-1.1 -6l-2 0.9z"/>
<path color="#5f5fd9" d="M251.6 431.5l2 -0.8l-1.1 -5.9l-2.1 1z"/>
<path color="#6160d8" d="M249.5 432.4l2.1 -0.9l-1.2 -5.7l-2 1.1z"/>
<path color="#6262d6" d="M247.5 433.3l2 -0.9l-1.1 -5.5l-2 1z"/>
<path color="#6060d4" d="M245.5 434.2l2 -0.9l-1.1 -5.4l-2 1.1z"/>
<path color="#5d5cd2" d="M243.5 435.2l2 -1l-1.1 -5.2l-2 1.2z"/>
<path color="#5c5bd1" d="M241.5 436.2l2 -1l-1.1 -5l-2 1.1z"/>
<path color="#5b5bd1" d="M239.5 437.2l2 -1l-1.1 -4.9l-2.1 1.3z"/>
<path color="#5959cf" d="M237.4 438.2l2.1 -1l-1.2 -4.6l-2 1.2z"/>
<path color="#5555ce" d="M235.4 439.3l2 -1.1l-1.1 -4.4l-2 1.3z"/>
<path color="#4f4fca" d="M233.4 440.4l2 -1.1l-1.1 -4.2l-2 1.3z"/>
<path color="#4948c8" d="M231.4 441.5l2 -1.1l-1.1 -4l-2 1.4z"/>
<path color="#4545c6" d="M229.4 442.7l2 -1.2l-1.1 -3.7l-2 1.4z"/>
<path color="#4241c4" d="M227.4 443.9l2 -1.2l-1.1 -3.5l-2.1 1.5z"/>
<path color="#3e3ec2" d="M225.3 445.2l2.1 -1.3l-1.2 -3.2l-2 1.5z"/>
<path color="#3839c0" d="M223.3 446.5l2 -1.3l-1.1 -3l-2 1.6z"/>
<path color="#3031bb" d="M221.3 447.9l2 -1.4l-1.1 -2.7l-2 1.7z"/>
<path color="#2627b4" d="M219.3 449.4l2 -1.5l-1.1 -2.4l-2 1.7z"/>
<path color="#191aa9" d="M217.3 450.9l2 -1.5l-1.1 -2.2l-2 1.9z"/>
<path color="#0c0e9c" d="M215.3 452.6l2 -1.7l-1.1 -1.8l-2.1 2z"/>
<path color="#050691" d="M213.2 454.5l2.1 -1.9l-1.2 -1.5l-2 2.3z"/>
<path color="#040486" d="M211.2 457.2l2 -2.7l-1.1 -1.1l-2 3.3z"/>
<path color="#080792" d="M391.8 442.9l2 1.3l-1.1 -1.1l-2 -1.6z"/>
<path color="#0a0998" d="M389.7 441.8l2.1 1.1l-1.1 -1.4l-2 -1.5z"/>
<path color="#0d0c9f" d="M387.7 440.9l2 0.9l-1 -1.8l-2 -1.2z"/>
<path color="#0f0ea5" d="M385.7 439.9l2 1l-1 -2.1l-2 -1.2z"/>
<path color="#1212ab" d="M383.7 439.1l2 0.8l-1 -2.3l-2.1 -1.2z"/>
<path color="#1718b1" d="M381.7 438.3l2 0.8l-1.1 -2.7l-2 -1z"/>
<path color="#1f1fb8" d="M379.7 437.5l2 0.8l-1.1 -2.9l-2 -1z"/>
<path color="#2726bd" d="M377.6 436.8l2.1 0.7l-1.1 -3.1l-2 -1z"/>
<path color="#2e2ec0" d="M375.6 436.1l2 0.7l-1 -3.4l-2 -0.9z"/>
<path color="#3636c3" d="M373.6 435.4l2 0.7l-1 -3.6l-2 -0.9z"/>
<path color="#3f40c6" d="M371.6 434.8l2 0.6l-1 -3.8l-2.1 -0.9z"/>
<path color="#4848ca" d="M369.6 434.2l2 0.6l-1.1 -4.1l-2 -0.8z"/>
<path color="#4a4acb" d="M367.6 433.6l2 0.6l-1.1 -4.3l-2 -0.8z"/>
<path color="#4747cb" d="M365.5 433l2.1 0.6l-1.1 -4.5l-2 -0.7z"/>
<path color="#4646cc" d="M363.5 432.5l2 0.5l-1 -4.6l-2 -0.8z"/>
<path color="#4747cf" d="M361.5 431.9l2 0.6l-1 -4.9l-2 -0.7z"/>
<path color="#4949d1" d="M359.5 431.4l2 0.5l-1 -5l-2.1 -0.6z"/>
<path color="#4b4bd2" d="M357.5 431l2 0.4l-1.1 -5.1l-2 -0.7z"/>
<path color="#4d4dd3" d="M355.5 430.5l2 0.5l-1.1 -5.4l-2 -0.6z"/>
<path color="#4e4ed4" d="M353.4 430.1l2.1 0.4l-1.1 -5.5l-2 -0.6z"/>
<path color="#4f4fd5" d="M351.4 429.7l2 0.4l-1 -5.7l-2 -0.5z"/>
<path color="#5252d5" d="M349.4 429.3l2 0.4l-1 -5.8l-2 -0.5z"/>
<path color="#5655d7" d="M347.4 428.9l2 0.4l-1 -5.9l-2.1 -0.5z"/>
<path color="#5959d9" d="M345.4 428.6l2 0.3l-1.1 -6l-2 -0.5z"/>
<path color="#5b5cda" d="M343.4 428.3l2 0.3l-1.1 -6.2l-2 -0.5z"/>
<path color="#5c5ddb" d="M341.3 428l2.1 0.3l-1.1 -6.4l-2 -0.4z"/>
<path color="#5b5cda" d="M339.3 427.7l2 0.3l-1 -6.5l-2 -0.4z"/>
<path color="#5a5bd9" d="M337.3 427.4l2 0.3l-1 -6.6l-2 -0.3z"/>
<path color="#595adb" d="M335.3 427.2l2 0.2l-1 -6.6l-2.1 -0.4z"/>
<path color="#5a5bdc" d="M333.3 427l2 0.2l-1.1 -6.8l-2 -0.3z"/>
<path color="#5d5dde" d="M331.3 426.8l2 0.2l-1.1 -6.9l-2 -0.2z"/>
<path color="#5f60df" d="M329.2 426.6l2.1 0.2l-1.1 -6.9l-2 -0.3z"/>
<path color="#5d5edd" d="M327.2 426.5l2 0.1l-1 -7l-2 -0.2z"/>
<path color="#5959dc" d="M325.2 426.4l2 0.1l-1 -7.1l-2 -0.2z"/>
<path color="#5757dc" d="M323.2 426.3l2 0.1l-1 -7.2l-2.1 -0.1z"/>
<path color="#5757dc" d="M321.2 426.2l2 0.1l-1.1 -7.2l-2 -0.2z"/>
<path color="#5757dc" d="M319.2 426.2l2 0l-1.1 -7.3l-2 -0.1z"/>
<path color="#5857db" d="M317.1 426.1l2.1 0.1l-1.1 -7.4l-2 -0.1z"/>
<path color="#5958dc" d="M315.1 426.1l2 0l-1 -7.4l-2 -0z"/>
<path color="#5a5add" d="M313.1 426.1l2 0l-1 -7.4l-2 -0z"/>
<path color="#5c5bdd" d="M311.1 426.2l2 -0.1l-1 -7.4l-2.1 0z"/>
<path color="#5b5adc" d="M309.1 426.2l2 0l-1.1 -7.5l-2 0z"/>
<path color="#5959da" d="M307.1 426.3l2 -0.1l-1.1 -7.5l-2 0.1z"/>
<path color="#5a5adb" d="M305 426.4l2.1 -0.1l-1.1 -7.5l-2 0.1z"/>
<path color="#5c5cdb" d="M303 426.5l2 -0.1l-1 -7.5l-2 0.1z"/>
<path color="#5d5cdc" d="M301 426.7l2 -0.2l-1 -7.5l-2 0.2z"/>
<path color="#5d5cdd" d="M299 426.9l2 -0.2l-1 -7.5l-2.1 0.2z"/>
<path color="#5e5ddd" d="M297 427.1l2 -0.2l-1.1 -7.5l-2 0.2z"/>
<path color="#6060dc" d="M295 427.3l2 -0.2l-1.1 -7.5l-2 0.2z"/>
<path color="#6263db" d="M292.9 427.5l2.1 -0.2l-1.1 -7.5l-2 0.3z"/>
<path color="#6466d9" d="M290.9 427.8l2 -0.3l-1 -7.4l-2 0.3z"/>
<path color="#6568da" d="M288.9 428.1l2 -0.3l-1 -7.4l-2 0.3z"/>
<path color="#6466dc" d="M286.9 428.4l2 -0.3l-1 -7.4l-2.1 0.4z"/>
<path color="#6164dd" d="M284.9 428.7l2 -0.3l-1.1 -7.3l-2 0.4z"/>
<path color="#6163de" d="M282.9 429.1l2 -0.4l-1.1 -7.2l-2 0.4z"/>
<path color="#6163df" d="M280.8 429.4l2.1 -0.3l-1.1 -7.2l-2 0.4z"/>
<path color="#6162de" d="M278.8 429.8l2 -0.4l-1 -7.1l-2 0.5z"/>
<path color="#6162de" d="M276.8 430.3l2 -0.5l-1 -7l-2 0.5z"/>
<path color="#6162de" d="M274.8 430.7l2 -0.4l-1 -7l-2.1 0.5z"/>
<path color="#6263de" d="M272.8 431.2l2 -0.5l-1.1 -6.9l-2 0.6z"/>
<path color="#6363dc" d="M270.8 431.7l2 -0.5l-1.1 -6.8l-2 0.6z"/>
<path color="#6464da" d="M268.7 432.2l2.1 -0.5l-1.1 -6.7l-2 0.6z"/>
<path color="#6565d9" d="M266.7 432.7l2 -0.5l-1 -6.6l-2 0.7z"/>
<path color="#6666d8" d="M264.7 433.3l2 -0.6l-1 -6.4l-2 0.6z"/>
<path color="#6565d7" d="M262.7 433.8l2 -0.5l-1 -6.4l-2.1 0.7z"/>
<path color="#6363d7" d="M260.7 434.4l2 -0.6l-1.1 -6.2l-2 0.7z"/>
<path color="#6261d7" d="M258.7 435l2 -0.6l-1.1 -6.1l-2 0.8z"/>
<path color="#6060d7" d="M256.6 435.7l2.1 -0.7l-1.1 -5.9l-2 0.8z"/>
<path color="#5f5fd5" d="M254.6 436.3l2 -0.6l-1 -5.8l-2 0.8z"/>
<path color="#5f60d3" d="M252.6 437l2 -0.7l-1 -5.6l-2 0.8z"/>
<path color="#6162d2" d="M250.6 437.7l2 -0.7l-1 -5.5l-2.1 0.9z"/>
<path color="#6465d2" d="M248.6 438.5l2 -0.8l-1.1 -5.3l-2 0.9z"/>
<path color="#6263cf" d="M246.6 439.2l2 -0.7l-1.1 -5.2l-2 0.9z"/>
<path color="#5e5fc9" d="M244.5 440l2.1 -0.8l-1.1 -5l-2 1z"/>
<path color="#5d5dc7" d="M242.5 440.8l2 -0.8l-1 -4.8l-2 1z"/>
<path color="#5d5ec7" d="M240.5 441.6l2 -0.8l-1 -4.6l-2 1z"/>
<path color="#5e5ec8" d="M238.5 442.5l2 -0.9l-1 -4.4l-2.1 1z"/>
<path color="#5b5bc7" d="M236.5 443.3l2 -0.8l-1.1 -4.3l-2 1.1z"/>
<path color="#5655c4" d="M234.5 444.2l2 -0.9l-1.1 -4l-2 1.1z"/>
<path color="#504fc0" d="M232.4 445.2l2.1 -1l-1.1 -3.8l-2 1.1z"/>
<path color="#4c4bbe" d="M230.4 446.1l2 -0.9l-1 -3.7l-2 1.2z"/>
<path color="#4847bf" d="M228.4 447.1l2 -1l-1 -3.4l-2 1.2z"/>
<path color="#4545c0" d="M226.4 448.1l2 -1l-1 -3.2l-2.1 1.3z"/>
<path color="#4041bc" d="M224.4 449.2l2 -1.1l-1.1 -2.9l-2 1.3z"/>
<path color="#3939b6" d="M222.4 450.3l2 -1.1l-1.1 -2.7l-2 1.4z"/>
<path color="#2e2fb0" d="M220.3 451.5l2.1 -1.2l-1.1 -2.4l-2 1.5z"/>
<path color="#1e21a4" d="M218.3 452.7l2 -1.2l-1 -2.1l-2 1.5z"/>
<path color="#111498" d="M216.3 454l2 -1.3l-1 -1.8l-2 1.7z"/>
<path color="#08098f" d="M214.3 455.5l2 -1.5l-1 -1.4l-2.1 1.9z"/>
<path color="#060684" d="M212.3 457.7l2 -2.2l-1.1 -1l-2 2.7z"/>
<path color="#06068f" d="M392.8 444.3l2 0.9l-1 -1l-2 -1.3z"/>
<path color="#0c0c95" d="M390.8 443.5l2 0.8l-1 -1.4l-2.1 -1.1z"/>
<path color="#13129e" d="M388.7 442.9l2.1 0.6l-1.1 -1.7l-2 -0.9z"/>
<path color="#1817a5" d="M386.7 442.2l2 0.7l-1 -2l-2 -1z"/>
<path color="#1b1ba9" d="M384.7 441.6l2 0.6l-1 -2.3l-2 -0.8z"/>
<path color="#2223ad" d="M382.7 441.1l2 0.5l-1 -2.5l-2 -0.8z"/>
<path color="#282ab0" d="M380.7 440.5l2 0.6l-1 -2.8l-2 -0.8z"/>
<path color="#3031b4" d="M378.7 440l2 0.5l-1 -3l-2.1 -0.7z"/>
<path color="#3738b7" d="M376.6 439.6l2.1 0.4l-1.1 -3.2l-2 -0.7z"/>
<path color="#4041bb" d="M374.6 439.1l2 0.5l-1 -3.5l-2 -0.7z"/>
<path color="#4748bf" d="M372.6 438.7l2 0.4l-1 -3.7l-2 -0.6z"/>
<path color="#4e4ec3" d="M370.6 438.3l2 0.4l-1 -3.9l-2 -0.6z"/>
<path color="#5050c4" d="M368.6 437.9l2 0.4l-1 -4.1l-2 -0.6z"/>
<path color="#4d4ec4" d="M366.6 437.5l2 0.4l-1 -4.3l-2.1 -0.6z"/>
<path color="#4c4dc5" d="M364.5 437.1l2.1 0.4l-1.1 -4.5l-2 -0.5z"/>
<path color="#4c4dc6" d="M362.5 436.8l2 0.3l-1 -4.6l-2 -0.6z"/>
<path color="#4d4ec8" d="M360.5 436.4l2 0.4l-1 -4.9l-2 -0.5z"/>
<path color="#4f50c9" d="M358.5 436.1l2 0.3l-1 -5l-2 -0.4z"/>
<path color="#4f50ca" d="M356.5 435.8l2 0.3l-1 -5.1l-2 -0.5z"/>
<path color="#5152cb" d="M354.5 435.5l2 0.3l-1 -5.3l-2.1 -0.4z"/>
<path color="#5454cc" d="M352.4 435.3l2.1 0.2l-1.1 -5.4l-2 -0.4z"/>
<path color="#5756cd" d="M350.4 435l2 0.3l-1 -5.6l-2 -0.4z"/>
<path color="#5958cd" d="M348.4 434.8l2 0.2l-1 -5.7l-2 -0.4z"/>
<path color="#5a59cd" d="M346.4 434.6l2 0.2l-1 -5.9l-2 -0.3z"/>
<path color="#5b5bcd" d="M344.4 434.4l2 0.2l-1 -6l-2 -0.3z"/>
<path color="#5d5cce" d="M342.4 434.2l2 0.2l-1 -6.1l-2.1 -0.3z"/>
<path color="#5c5ccd" d="M340.3 434l2.1 0.2l-1.1 -6.2l-2 -0.3z"/>
<path color="#5b5ace" d="M338.3 433.9l2 0.1l-1 -6.3l-2 -0.3z"/>
<path color="#5a5ad0" d="M336.3 433.7l2 0.2l-1 -6.5l-2 -0.2z"/>
<path color="#5b5ad2" d="M334.3 433.6l2 0.1l-1 -6.5l-2 -0.2z"/>
<path color="#5d5dd3" d="M332.3 433.5l2 0.1l-1 -6.6l-2 -0.2z"/>
<path color="#5d5ed3" d="M330.3 433.4l2 0.1l-1 -6.7l-2.1 -0.2z"/>
<path color="#5c5cd4" d="M328.2 433.4l2.1 0l-1.1 -6.8l-2 -0.1z"/>
<path color="#5959d4" d="M326.2 433.3l2 0.1l-1 -6.9l-2 -0.1z"/>
<path color="#5858d6" d="M324.2 433.3l2 0l-1 -6.9l-2 -0.1z"/>
<path color="#5857d7" d="M322.2 433.2l2 0.1l-1 -7l-2 -0.1z"/>
<path color="#5757d8" d="M320.2 433.2l2 0l-1 -7l-2 0z"/>
<path color="#5757d8" d="M318.2 433.2l2 0l-1 -7l-2.1 -0.1z"/>
<path color="#5858d8" d="M316.1 433.3l2.1 -0.1l-1.1 -7.1l-2 0z"/>
<path color="#5858d9" d="M314.1 433.3l2 0l-1 -7.2l-2 0z"/>
<path color="#5859d8" d="M312.1 433.4l2 -0.1l-1 -7.2l-2 0.1z"/>
<path color="#5959d8" d="M310.1 433.5l2 -0.1l-1 -7.2l-2 0z"/>
<path color="#5a5bd7" d="M308.1 433.5l2 0l-1 -7.3l-2 0.1z"/>
<path color="#5b5cd6" d="M306.1 433.7l2 -0.2l-1 -7.2l-2.1 0.1z"/>
<path color="#5b5cd5" d="M304 433.8l2.1 -0.1l-1.1 -7.3l-2 0.1z"/>
<path color="#5c5dd5" d="M302 433.9l2 -0.1l-1 -7.3l-2 0.2z"/>
<path color="#5d5ed6" d="M300 434.1l2 -0.2l-1 -7.2l-2 0.2z"/>
<path color="#5e5fd5" d="M298 434.3l2 -0.2l-1 -7.2l-2 0.2z"/>
<path color="#6061d5" d="M296 434.5l2 -0.2l-1 -7.2l-2 0.2z"/>
<path color="#6263d4" d="M294 434.7l2 -0.2l-1 -7.2l-2.1 0.2z"/>
<path color="#6465d2" d="M291.9 434.9l2.1 -0.2l-1.1 -7.2l-2 0.3z"/>
<path color="#6566d1" d="M289.9 435.1l2 -0.2l-1 -7.1l-2 0.3z"/>
<path color="#6465d2" d="M287.9 435.4l2 -0.3l-1 -7l-2 0.3z"/>
<path color="#6363d2" d="M285.9 435.7l2 -0.3l-1 -7l-2 0.3z"/>
<path color="#6263d2" d="M283.9 436l2 -0.3l-1 -7l-2 0.4z"/>
<path color="#6262d3" d="M281.9 436.3l2 -0.3l-1 -6.9l-2.1 0.3z"/>
<path color="#6262d4" d="M279.8 436.6l2.1 -0.3l-1.1 -6.9l-2 0.4z"/>
<path color="#6261d4" d="M277.8 437l2 -0.4l-1 -6.8l-2 0.5z"/>
<path color="#6261d4" d="M275.8 437.3l2 -0.3l-1 -6.7l-2 0.4z"/>
<path color="#6262d3" d="M273.8 437.7l2 -0.4l-1 -6.6l-2 0.5z"/>
<path color="#6363d1" d="M271.8 438.1l2 -0.4l-1 -6.5l-2 0.5z"/>
<path color="#6364cf" d="M269.8 438.5l2 -0.4l-1 -6.4l-2.1 0.5z"/>
<path color="#6565cd" d="M267.7 438.9l2.1 -0.4l-1.1 -6.3l-2 0.5z"/>
<path color="#6666cc" d="M265.7 439.4l2 -0.5l-1 -6.2l-2 0.6z"/>
<path color="#6666cb" d="M263.7 439.8l2 -0.4l-1 -6.1l-2 0.5z"/>
<path color="#6465cb" d="M261.7 440.3l2 -0.5l-1 -6l-2 0.6z"/>
<path color="#6362cc" d="M259.7 440.8l2 -0.5l-1 -5.9l-2 0.6z"/>
<path color="#6160cb" d="M257.7 441.3l2 -0.5l-1 -5.8l-2.1 0.7z"/>
<path color="#605fca" d="M255.6 441.8l2.1 -0.5l-1.1 -5.6l-2 0.6z"/>
<path color="#6060c9" d="M253.6 442.3l2 -0.5l-1 -5.5l-2 0.7z"/>
<path color="#6262c9" d="M251.6 442.9l2 -0.6l-1 -5.3l-2 0.7z"/>
<path color="#6464c9" d="M249.6 443.5l2 -0.6l-1 -5.2l-2 0.8z"/>
<path color="#6161c8" d="M247.6 444l2 -0.5l-1 -5l-2 0.7z"/>
<path color="#5e5dc5" d="M245.6 444.6l2 -0.6l-1 -4.8l-2.1 0.8z"/>
<path color="#5d5cc4" d="M243.5 445.3l2.1 -0.7l-1.1 -4.6l-2 0.8z"/>
<path color="#5e5dc5" d="M241.5 445.9l2 -0.6l-1 -4.5l-2 0.8z"/>
<path color="#5f5ec5" d="M239.5 446.6l2 -0.7l-1 -4.3l-2 0.9z"/>
<path color="#5d5cc3" d="M237.5 447.2l2 -0.6l-1 -4.1l-2 0.8z"/>
<path color="#5958bf" d="M235.5 447.9l2 -0.7l-1 -3.9l-2 0.9z"/>
<path color="#5555bc" d="M233.5 448.6l2 -0.7l-1 -3.7l-2.1 1z"/>
<path color="#5050bc" d="M231.4 449.4l2.1 -0.8l-1.1 -3.4l-2 0.9z"/>
<path color="#4d4dbb" d="M229.4 450.1l2 -0.7l-1 -3.3l-2 1z"/>
<path color="#4a4ab9" d="M227.4 450.9l2 -0.8l-1 -3l-2 1z"/>
<path color="#4747b6" d="M225.4 451.7l2 -0.8l-1 -2.8l-2 1.1z"/>
<path color="#4142b3" d="M223.4 452.6l2 -0.9l-1 -2.5l-2 1.1z"/>
<path color="#383aaf" d="M221.4 453.5l2 -0.9l-1 -2.3l-2.1 1.2z"/>
<path color="#292ba5" d="M219.3 454.4l2.1 -0.9l-1.1 -2l-2 1.2z"/>
<path color="#1a1c9a" d="M217.3 455.4l2 -1l-1 -1.7l-2 1.3z"/>
<path color="#0e0e90" d="M215.3 456.6l2 -1.2l-1 -1.4l-2 1.5z"/>
<path color="#090884" d="M213.3 458.2l2 -1.6l-1 -1.1l-2 2.2z"/>
<path color="#040489" d="M395.7 446.2l2.1 0.8l-1 -0.4l-2 -1.4z"/>
<path color="#07068d" d="M393.7 445.6l2 0.6l-0.9 -1l-2 -0.9z"/>
<path color="#0d0c91" d="M391.7 445.2l2 0.4l-0.9 -1.3l-2 -0.8z"/>
<path color="#17169a" d="M389.7 444.8l2 0.4l-0.9 -1.7l-2.1 -0.6z"/>
<path color="#201fa3" d="M387.7 444.4l2 0.4l-1 -1.9l-2 -0.7z"/>
<path color="#2626a9" d="M385.7 444.1l2 0.3l-1 -2.2l-2 -0.6z"/>
<path color="#2a2baa" d="M383.6 443.8l2.1 0.3l-1 -2.5l-2 -0.5z"/>
<path color="#3032ac" d="M381.6 443.5l2 0.3l-0.9 -2.7l-2 -0.6z"/>
<path color="#3537ae" d="M379.6 443.2l2 0.3l-0.9 -3l-2 -0.5z"/>
<path color="#3c3eb0" d="M377.6 442.9l2 0.3l-0.9 -3.2l-2.1 -0.4z"/>
<path color="#4547b5" d="M375.6 442.7l2 0.2l-1 -3.3l-2 -0.5z"/>
<path color="#4d4fb8" d="M373.6 442.4l2 0.3l-1 -3.6l-2 -0.4z"/>
<path color="#5152bb" d="M371.5 442.2l2.1 0.2l-1 -3.7l-2 -0.4z"/>
<path color="#5151bb" d="M369.5 442l2 0.2l-0.9 -3.9l-2 -0.4z"/>
<path color="#4f4fbc" d="M367.5 441.8l2 0.2l-0.9 -4.1l-2 -0.4z"/>
<path color="#4e4fbd" d="M365.5 441.6l2 0.2l-0.9 -4.3l-2.1 -0.4z"/>
<path color="#4e4fbc" d="M363.5 441.4l2 0.2l-1 -4.5l-2 -0.3z"/>
<path color="#4f50be" d="M361.5 441.2l2 0.2l-1 -4.6l-2 -0.4z"/>
<path color="#5051bf" d="M359.4 441.1l2.1 0.1l-1 -4.8l-2 -0.3z"/>
<path color="#5153be" d="M357.4 440.9l2 0.2l-0.9 -5l-2 -0.3z"/>
<path color="#5254c0" d="M355.4 440.8l2 0.1l-0.9 -5.1l-2 -0.3z"/>
<path color="#5556bf" d="M353.4 440.6l2 0.2l-0.9 -5.3l-2.1 -0.2z"/>
<path color="#5757c0" d="M351.4 440.5l2 0.1l-1 -5.3l-2 -0.3z"/>
<path color="#5959c0" d="M349.4 440.4l2 0.1l-1 -5.5l-2 -0.2z"/>
<path color="#5b5bc2" d="M347.3 440.3l2.1 0.1l-1 -5.6l-2 -0.2z"/>
<path color="#5c5bc2" d="M345.3 440.2l2 0.1l-0.9 -5.7l-2 -0.2z"/>
<path color="#5b5ac2" d="M343.3 440.2l2 0l-0.9 -5.8l-2 -0.2z"/>
<path color="#5b59c2" d="M341.3 440.1l2 0.1l-0.9 -6l-2.1 -0.2z"/>
<path color="#5a58c3" d="M339.3 440l2 0.1l-1 -6.1l-2 -0.1z"/>
<path color="#5958c5" d="M337.3 440l2 0l-1 -6.1l-2 -0.2z"/>
<path color="#5b5bc7" d="M335.2 440l2.1 0l-1 -6.3l-2 -0.1z"/>
<path color="#5e5ec6" d="M333.2 439.9l2 0.1l-0.9 -6.4l-2 -0.1z"/>
<path color="#5c5dc5" d="M331.2 439.9l2 0l-0.9 -6.4l-2 -0.1z"/>
<path color="#5859c3" d="M329.2 439.9l2 0l-0.9 -6.5l-2.1 0z"/>
<path color="#5657c4" d="M327.2 439.9l2 0l-1 -6.5l-2 -0.1z"/>
<path color="#5657c4" d="M325.2 440l2 -0.1l-1 -6.6l-2 0z"/>
<path color="#5657c5" d="M323.1 440l2.1 0l-1 -6.7l-2 -0.1z"/>
<path color="#5657c6" d="M321.1 440l2 0l-0.9 -6.8l-2 0z"/>
<path color="#5657c6" d="M319.1 440.1l2 -0.1l-0.9 -6.8l-2 0z"/>
<path color="#5657c6" d="M317.1 440.1l2 0l-0.9 -6.9l-2.1 0.1z"/>
<path color="#5758c5" d="M315.1 440.2l2 -0.1l-1 -6.8l-2 0z"/>
<path color="#5859c6" d="M313.1 440.3l2 -0.1l-1 -6.9l-2 0.1z"/>
<path color="#5a5bc7" d="M311 440.4l2.1 -0.1l-1 -6.9l-2 0.1z"/>
<path color="#5b5cc7" d="M309 440.5l2 -0.1l-0.9 -6.9l-2 0z"/>
<path color="#5b5cc6" d="M307 440.6l2 -0.1l-0.9 -7l-2 0.2z"/>
<path color="#5b5dc7" d="M305 440.7l2 -0.1l-0.9 -6.9l-2.1 0.1z"/>
<path color="#5c5dc8" d="M303 440.9l2 -0.2l-1 -6.9l-2 0.1z"/>
<path color="#5d5ec8" d="M301 441l2 -0.1l-1 -7l-2 0.2z"/>
<path color="#5d5ec7" d="M298.9 441.2l2.1 -0.2l-1 -6.9l-2 0.2z"/>
<path color="#5e5fc6" d="M296.9 441.4l2 -0.2l-0.9 -6.9l-2 0.2z"/>
<path color="#6162c8" d="M294.9 441.5l2 -0.1l-0.9 -6.9l-2 0.2z"/>
<path color="#6466cb" d="M292.9 441.7l2 -0.2l-0.9 -6.8l-2.1 0.2z"/>
<path color="#6264ca" d="M290.9 441.9l2 -0.2l-1 -6.8l-2 0.2z"/>
<path color="#6062c9" d="M288.9 442.2l2 -0.3l-1 -6.8l-2 0.3z"/>
<path color="#6162cb" d="M286.8 442.4l2.1 -0.2l-1 -6.8l-2 0.3z"/>
<path color="#6061cc" d="M284.8 442.6l2 -0.2l-0.9 -6.7l-2 0.3z"/>
<path color="#5f60cb" d="M282.8 442.9l2 -0.3l-0.9 -6.6l-2 0.3z"/>
<path color="#6060ca" d="M280.8 443.1l2 -0.2l-0.9 -6.6l-2.1 0.3z"/>
<path color="#6162ca" d="M278.8 443.4l2 -0.3l-1 -6.5l-2 0.4z"/>
<path color="#6162ca" d="M276.8 443.7l2 -0.3l-1 -6.4l-2 0.3z"/>
<path color="#6162c9" d="M274.7 444l2.1 -0.3l-1 -6.4l-2 0.4z"/>
<path color="#6162c8" d="M272.7 444.3l2 -0.3l-0.9 -6.3l-2 0.4z"/>
<path color="#6262c7" d="M270.7 444.6l2 -0.3l-0.9 -6.2l-2 0.4z"/>
<path color="#6363c6" d="M268.7 444.9l2 -0.3l-0.9 -6.1l-2.1 0.4z"/>
<path color="#6565c5" d="M266.7 445.2l2 -0.3l-1 -6l-2 0.5z"/>
<path color="#6666c4" d="M264.7 445.6l2 -0.4l-1 -5.8l-2 0.4z"/>
<path color="#6666c3" d="M262.6 445.9l2.1 -0.3l-1 -5.8l-2 0.5z"/>
<path color="#6565c2" d="M260.6 446.3l2 -0.4l-0.9 -5.6l-2 0.5z"/>
<path color="#6363c2" d="M258.6 446.7l2 -0.4l-0.9 -5.5l-2 0.5z"/>
<path color="#6262c2" d="M256.6 447l2 -0.3l-0.9 -5.4l-2.1 0.5z"/>
<path color="#6362c2" d="M254.6 447.4l2 -0.4l-1 -5.2l-2 0.5z"/>
<path color="#6464c2" d="M252.6 447.8l2 -0.4l-1 -5.1l-2 0.6z"/>
<path color="#6362c1" d="M250.5 448.2l2.1 -0.4l-1 -4.9l-2 0.6z"/>
<path color="#605fc0" d="M248.5 448.7l2 -0.5l-0.9 -4.7l-2 0.5z"/>
<path color="#5e5cbf" d="M246.5 449.1l2 -0.4l-0.9 -4.7l-2 0.6z"/>
<path color="#5d5cbd" d="M244.5 449.6l2 -0.5l-0.9 -4.5l-2.1 0.7z"/>
<path color="#5e5dbc" d="M242.5 450l2 -0.4l-1 -4.3l-2 0.6z"/>
<path color="#5f5fbd" d="M240.5 450.5l2 -0.5l-1 -4.1l-2 0.7z"/>
<path color="#5e5ebc" d="M238.4 451l2.1 -0.5l-1 -3.9l-2 0.6z"/>
<path color="#5a5bba" d="M236.4 451.5l2 -0.5l-0.9 -3.8l-2 0.7z"/>
<path color="#5556b8" d="M234.4 452l2 -0.5l-0.9 -3.6l-2 0.7z"/>
<path color="#5152b6" d="M232.4 452.5l2 -0.5l-0.9 -3.4l-2.1 0.8z"/>
<path color="#4e4fb5" d="M230.4 453l2 -0.5l-1 -3.1l-2 0.7z"/>
<path color="#4b4db2" d="M228.4 453.6l2 -0.6l-1 -2.9l-2 0.8z"/>
<path color="#4849af" d="M226.3 454.2l2.1 -0.6l-1 -2.7l-2 0.8z"/>
<path color="#4345ad" d="M224.3 454.8l2 -0.6l-0.9 -2.5l-2 0.9z"/>
<path color="#3c3eab" d="M222.3 455.4l2 -0.6l-0.9 -2.2l-2 0.9z"/>
<path color="#3132a5" d="M220.3 456.1l2 -0.7l-0.9 -1.9l-2.1 0.9z"/>
<path color="#23249d" d="M218.3 456.8l2 -0.7l-1 -1.7l-2 1z"/>
<path color="#141494" d="M216.3 457.6l2 -0.8l-1 -1.4l-2 1.2z"/>
<path color="#0c0b86" d="M214.2 458.7l2.1 -1.1l-1 -1l-2 1.6z"/>
<path color="#040489" d="M396.6 447.1l2.1 0.4l-0.9 -0.5l-2.1 -0.8z"/>
<path color="#07068a" d="M394.6 446.9l2 0.2l-0.9 -0.9l-2 -0.6z"/>
<path color="#0d0c8e" d="M392.6 446.8l2 0.1l-0.9 -1.3l-2 -0.4z"/>
<path color="#171794" d="M390.6 446.6l2 0.2l-0.9 -1.6l-2 -0.4z"/>
<path color="#22229c" d="M388.6 446.5l2 0.1l-0.9 -1.8l-2 -0.4z"/>
<path color="#2b2ba2" d="M386.6 446.4l2 0.1l-0.9 -2.1l-2 -0.3z"/>
<path color="#3030a5" d="M384.5 446.3l2.1 0.1l-0.9 -2.3l-2.1 -0.3z"/>
<path color="#3334a6" d="M382.5 446.2l2 0.1l-0.9 -2.5l-2 -0.3z"/>
<path color="#383aa8" d="M380.5 446.2l2 0l-0.9 -2.7l-2 -0.3z"/>
<path color="#3e40a9" d="M378.5 446.1l2 0.1l-0.9 -3l-2 -0.3z"/>
<path color="#4648ad" d="M376.5 446l2 0.1l-0.9 -3.2l-2 -0.2z"/>
<path color="#4e4fb2" d="M374.5 446l2 0l-0.9 -3.3l-2 -0.3z"/>
<path color="#5151b4" d="M372.4 445.9l2.1 0.1l-0.9 -3.6l-2.1 -0.2z"/>
<path color="#4f4eb2" d="M370.4 445.9l2 0l-0.9 -3.7l-2 -0.2z"/>
<path color="#4d4db1" d="M368.4 445.9l2 0l-0.9 -3.9l-2 -0.2z"/>
<path color="#4d4db1" d="M366.4 445.8l2 0.1l-0.9 -4.1l-2 -0.2z"/>
<path color="#4d4eb0" d="M364.4 445.8l2 0l-0.9 -4.2l-2 -0.2z"/>
<path color="#4e4fb0" d="M362.4 445.8l2 0l-0.9 -4.4l-2 -0.2z"/>
<path color="#4f50b1" d="M360.3 445.8l2.1 0l-0.9 -4.6l-2.1 -0.1z"/>
<path color="#4f50b2" d="M358.3 445.8l2 0l-0.9 -4.7l-2 -0.2z"/>
<path color="#5051b2" d="M356.3 445.8l2 0l-0.9 -4.9l-2 -0.1z"/>
<path color="#5152b2" d="M354.3 445.8l2 0l-0.9 -5l-2 -0.2z"/>
<path color="#5455b3" d="M352.3 445.8l2 0l-0.9 -5.2l-2 -0.1z"/>
<path color="#5758b5" d="M350.3 445.8l2 0l-0.9 -5.3l-2 -0.1z"/>
<path color="#5959b6" d="M348.2 445.8l2.1 0l-0.9 -5.4l-2.1 -0.1z"/>
<path color="#595ab6" d="M346.2 445.8l2 0l-0.9 -5.5l-2 -0.1z"/>
<path color="#5858b5" d="M344.2 445.9l2 -0.1l-0.9 -5.6l-2 0z"/>
<path color="#5757b7" d="M342.2 445.9l2 0l-0.9 -5.7l-2 -0.1z"/>
<path color="#5756ba" d="M340.2 445.9l2 0l-0.9 -5.8l-2 -0.1z"/>
<path color="#5857bd" d="M338.2 446l2 -0.1l-0.9 -5.9l-2 0z"/>
<path color="#5b5ac0" d="M336.1 446l2.1 0l-0.9 -6l-2.1 0z"/>
<path color="#5d5dc1" d="M334.1 446.1l2 -0.1l-0.9 -6l-2 -0.1z"/>
<path color="#5c5cc1" d="M332.1 446.2l2 -0.1l-0.9 -6.2l-2 0z"/>
<path color="#5959c0" d="M330.1 446.2l2 0l-0.9 -6.3l-2 0z"/>
<path color="#5959c1" d="M328.1 446.3l2 -0.1l-0.9 -6.3l-2 0z"/>
<path color="#5a5ac2" d="M326.1 446.4l2 -0.1l-0.9 -6.4l-2 0.1z"/>
<path color="#5a5ac2" d="M324 446.4l2.1 0l-0.9 -6.4l-2.1 0z"/>
<path color="#5959c1" d="M322 446.5l2 -0.1l-0.9 -6.4l-2 0z"/>
<path color="#5959c1" d="M320 446.6l2 -0.1l-0.9 -6.5l-2 0.1z"/>
<path color="#5a5bc1" d="M318 446.7l2 -0.1l-0.9 -6.5l-2 0z"/>
<path color="#5c5cc0" d="M316 446.8l2 -0.1l-0.9 -6.6l-2 0.1z"/>
<path color="#5c5cc0" d="M314 446.9l2 -0.1l-0.9 -6.6l-2 0.1z"/>
<path color="#5c5dc0" d="M311.9 447l2.1 -0.1l-0.9 -6.6l-2.1 0.1z"/>
<path color="#5d5ec0" d="M309.9 447.2l2 -0.2l-0.9 -6.6l-2 0.1z"/>
<path color="#5c5dc1" d="M307.9 447.3l2 -0.1l-0.9 -6.7l-2 0.1z"/>
<path color="#5c5dc2" d="M305.9 447.4l2 -0.1l-0.9 -6.7l-2 0.1z"/>
<path color="#5d5ec2" d="M303.9 447.5l2 -0.1l-0.9 -6.7l-2 0.2z"/>
<path color="#5d5fc2" d="M301.9 447.7l2 -0.2l-0.9 -6.6l-2 0.1z"/>
<path color="#5d5fc1" d="M299.8 447.8l2.1 -0.1l-0.9 -6.7l-2.1 0.2z"/>
<path color="#5e60c1" d="M297.8 448l2 -0.2l-0.9 -6.6l-2 0.2z"/>
<path color="#6163c2" d="M295.8 448.1l2 -0.1l-0.9 -6.6l-2 0.1z"/>
<path color="#6465c3" d="M293.8 448.3l2 -0.2l-0.9 -6.6l-2 0.2z"/>
<path color="#6163c0" d="M291.8 448.4l2 -0.1l-0.9 -6.6l-2 0.2z"/>
<path color="#5e60bd" d="M289.8 448.6l2 -0.2l-0.9 -6.5l-2 0.3z"/>
<path color="#5e5fbe" d="M287.7 448.8l2.1 -0.2l-0.9 -6.4l-2.1 0.2z"/>
<path color="#5d5ebe" d="M285.7 449l2 -0.2l-0.9 -6.4l-2 0.2z"/>
<path color="#5e5fbe" d="M283.7 449.2l2 -0.2l-0.9 -6.4l-2 0.3z"/>
<path color="#5e60bd" d="M281.7 449.3l2 -0.1l-0.9 -6.3l-2 0.2z"/>
<path color="#5e60bc" d="M279.7 449.5l2 -0.2l-0.9 -6.2l-2 0.3z"/>
<path color="#5e60bd" d="M277.7 449.7l2 -0.2l-0.9 -6.1l-2 0.3z"/>
<path color="#5f61bf" d="M275.6 450l2.1 -0.3l-0.9 -6l-2.1 0.3z"/>
<path color="#6061bf" d="M273.6 450.2l2 -0.2l-0.9 -6l-2 0.3z"/>
<path color="#6060bc" d="M271.6 450.4l2 -0.2l-0.9 -5.9l-2 0.3z"/>
<path color="#6060b9" d="M269.6 450.6l2 -0.2l-0.9 -5.8l-2 0.3z"/>
<path color="#6262b8" d="M267.6 450.8l2 -0.2l-0.9 -5.7l-2 0.3z"/>
<path color="#6363b8" d="M265.6 451.1l2 -0.3l-0.9 -5.6l-2 0.4z"/>
<path color="#6465b9" d="M263.5 451.3l2.1 -0.2l-0.9 -5.5l-2.1 0.3z"/>
<path color="#6364b7" d="M261.5 451.5l2 -0.2l-0.9 -5.4l-2 0.4z"/>
<path color="#6262b7" d="M259.5 451.8l2 -0.3l-0.9 -5.2l-2 0.4z"/>
<path color="#6161b6" d="M257.5 452l2 -0.2l-0.9 -5.1l-2 0.3z"/>
<path color="#6262b8" d="M255.5 452.3l2 -0.3l-0.9 -5l-2 0.4z"/>
<path color="#6363b8" d="M253.5 452.6l2 -0.3l-0.9 -4.9l-2 0.4z"/>
<path color="#6161b7" d="M251.4 452.8l2.1 -0.2l-0.9 -4.8l-2.1 0.4z"/>
<path color="#5d5db5" d="M249.4 453.1l2 -0.3l-0.9 -4.6l-2 0.5z"/>
<path color="#5b5bb4" d="M247.4 453.4l2 -0.3l-0.9 -4.4l-2 0.4z"/>
<path color="#5b5bb3" d="M245.4 453.7l2 -0.3l-0.9 -4.3l-2 0.5z"/>
<path color="#5b5cb4" d="M243.4 454l2 -0.3l-0.9 -4.1l-2 0.4z"/>
<path color="#5b5cb5" d="M241.4 454.3l2 -0.3l-0.9 -4l-2 0.5z"/>
<path color="#595ab5" d="M239.3 454.6l2.1 -0.3l-0.9 -3.8l-2.1 0.5z"/>
<path color="#5759b5" d="M237.3 454.9l2 -0.3l-0.9 -3.6l-2 0.5z"/>
<path color="#5456b3" d="M235.3 455.2l2 -0.3l-0.9 -3.4l-2 0.5z"/>
<path color="#5052b1" d="M233.3 455.5l2 -0.3l-0.9 -3.2l-2 0.5z"/>
<path color="#4d4faf" d="M231.3 455.8l2 -0.3l-0.9 -3l-2 0.5z"/>
<path color="#4a4cad" d="M229.3 456.2l2 -0.4l-0.9 -2.8l-2 0.6z"/>
<path color="#4647aa" d="M227.2 456.5l2.1 -0.3l-0.9 -2.6l-2.1 0.6z"/>
<path color="#4142a7" d="M225.2 456.9l2 -0.4l-0.9 -2.3l-2 0.6z"/>
<path color="#3c3da5" d="M223.2 457.2l2 -0.3l-0.9 -2.1l-2 0.6z"/>
<path color="#3535a1" d="M221.2 457.6l2 -0.4l-0.9 -1.8l-2 0.7z"/>
<path color="#28289b" d="M219.2 458l2 -0.4l-0.9 -1.5l-2 0.7z"/>
<path color="#1b1a95" d="M217.2 458.5l2 -0.5l-0.9 -1.2l-2 0.8z"/>
<path color="#100e89" d="M215.1 459.1l2.1 -0.6l-0.9 -0.9l-2.1 1.1z"/>
<path color="#040487" d="M397.5 448l2 -0.1l-0.8 -0.4l-2.1 -0.4z"/>
<path color="#080887" d="M395.5 448.1l2 -0.1l-0.9 -0.9l-2 -0.2z"/>
<path color="#0e0d8a" d="M393.5 448.3l2 -0.2l-0.9 -1.2l-2 -0.1z"/>
<path color="#18178f" d="M391.4 448.4l2.1 -0.1l-0.9 -1.5l-2 -0.2z"/>
<path color="#232294" d="M389.4 448.5l2 -0.1l-0.8 -1.8l-2 -0.1z"/>
<path color="#2b2a96" d="M387.4 448.6l2 -0.1l-0.8 -2l-2 -0.1z"/>
<path color="#303099" d="M385.4 448.8l2 -0.2l-0.8 -2.2l-2.1 -0.1z"/>
<path color="#35359e" d="M383.4 448.9l2 -0.1l-0.9 -2.5l-2 -0.1z"/>
<path color="#3a3ba3" d="M381.4 449l2 -0.1l-0.9 -2.7l-2 0z"/>
<path color="#4040a6" d="M379.4 449.2l2 -0.2l-0.9 -2.8l-2 -0.1z"/>
<path color="#4848ab" d="M377.3 449.3l2.1 -0.1l-0.9 -3.1l-2 -0.1z"/>
<path color="#5050b1" d="M375.3 449.4l2 -0.1l-0.8 -3.3l-2 0z"/>
<path color="#5250b2" d="M373.3 449.5l2 -0.1l-0.8 -3.4l-2.1 -0.1z"/>
<path color="#4f4daf" d="M371.3 449.7l2 -0.2l-0.9 -3.6l-2 0z"/>
<path color="#4e4cad" d="M369.3 449.8l2 -0.1l-0.9 -3.8l-2 0z"/>
<path color="#4e4dac" d="M367.2 449.9l2.1 -0.1l-0.9 -3.9l-2 -0.1z"/>
<path color="#4f4fab" d="M365.2 450l2 -0.1l-0.8 -4.1l-2 0z"/>
<path color="#5151ab" d="M363.2 450.2l2 -0.2l-0.8 -4.2l-2 0z"/>
<path color="#5252ac" d="M361.2 450.3l2 -0.1l-0.8 -4.4l-2.1 0z"/>
<path color="#5454ae" d="M359.2 450.4l2 -0.1l-0.9 -4.5l-2 0z"/>
<path color="#5554b0" d="M357.2 450.6l2 -0.2l-0.9 -4.6l-2 0z"/>
<path color="#5655b0" d="M355.2 450.7l2 -0.1l-0.9 -4.8l-2 0z"/>
<path color="#5757b1" d="M353.1 450.8l2.1 -0.1l-0.9 -4.9l-2 0z"/>
<path color="#5959b1" d="M351.1 450.9l2 -0.1l-0.8 -5l-2 0z"/>
<path color="#5b5db2" d="M349.1 451.1l2 -0.2l-0.8 -5.1l-2.1 0z"/>
<path color="#5d5fb2" d="M347.1 451.2l2 -0.1l-0.9 -5.3l-2 0z"/>
<path color="#5d5eb3" d="M345.1 451.3l2 -0.1l-0.9 -5.4l-2 0.1z"/>
<path color="#5c5db4" d="M343 451.4l2.1 -0.1l-0.9 -5.4l-2 0z"/>
<path color="#5a5ab4" d="M341 451.6l2 -0.2l-0.8 -5.5l-2 -0z"/>
<path color="#5a5ab5" d="M339 451.7l2 -0.1l-0.8 -5.7l-2 0.1z"/>
<path color="#5d5cb4" d="M337 451.8l2 -0.1l-0.8 -5.7l-2.1 0z"/>
<path color="#5f5fb1" d="M335 452l2 -0.2l-0.9 -5.8l-2 0.1z"/>
<path color="#5e5fae" d="M333 452.1l2 -0.1l-0.9 -5.9l-2 0.1z"/>
<path color="#5d5dac" d="M331 452.2l2 -0.1l-0.9 -5.9l-2 0z"/>
<path color="#5d5dad" d="M328.9 452.3l2.1 -0.1l-0.9 -6l-2 0.1z"/>
<path color="#5d5dae" d="M326.9 452.5l2 -0.2l-0.8 -6l-2 0.1z"/>
<path color="#5c5cae" d="M324.9 452.6l2 -0.1l-0.8 -6.1l-2.1 0z"/>
<path color="#5c5bad" d="M322.9 452.7l2 -0.1l-0.9 -6.2l-2 0.1z"/>
<path color="#5c5bad" d="M320.9 452.9l2 -0.2l-0.9 -6.2l-2 0.1z"/>
<path color="#5c5cae" d="M318.8 453l2.1 -0.1l-0.9 -6.3l-2 0.1z"/>
<path color="#5c5dae" d="M316.8 453.1l2 -0.1l-0.8 -6.3l-2 0.1z"/>
<path color="#5e5eb0" d="M314.8 453.2l2 -0.1l-0.8 -6.3l-2 0.1z"/>
<path color="#5f5fb1" d="M312.8 453.4l2 -0.2l-0.8 -6.3l-2.1 0.1z"/>
<path color="#5e5eb1" d="M310.8 453.5l2 -0.1l-0.9 -6.4l-2 0.2z"/>
<path color="#5d5db1" d="M308.8 453.6l2 -0.1l-0.9 -6.3l-2 0.1z"/>
<path color="#5d5cb1" d="M306.8 453.8l2 -0.2l-0.9 -6.3l-2 0.1z"/>
<path color="#5d5db0" d="M304.7 453.9l2.1 -0.1l-0.9 -6.4l-2 0.1z"/>
<path color="#5e5eaf" d="M302.7 454l2 -0.1l-0.8 -6.4l-2 0.2z"/>
<path color="#5e5fad" d="M300.7 454.1l2 -0.1l-0.8 -6.3l-2.1 0.1z"/>
<path color="#6062ae" d="M298.7 454.3l2 -0.2l-0.9 -6.3l-2 0.2z"/>
<path color="#6465b1" d="M296.7 454.4l2 -0.1l-0.9 -6.3l-2 0.1z"/>
<path color="#6466b2" d="M294.6 454.5l2.1 -0.1l-0.9 -6.3l-2 0.2z"/>
<path color="#6061b0" d="M292.6 454.6l2 -0.1l-0.8 -6.2l-2 0.1z"/>
<path color="#5d5eb0" d="M290.6 454.8l2 -0.2l-0.8 -6.2l-2 0.2z"/>
<path color="#5e5eb2" d="M288.6 454.9l2 -0.1l-0.8 -6.2l-2.1 0.2z"/>
<path color="#5f5fb5" d="M286.6 455l2 -0.1l-0.9 -6.1l-2 0.2z"/>
<path color="#605fb6" d="M284.6 455.2l2 -0.2l-0.9 -6l-2 0.2z"/>
<path color="#6060b6" d="M282.6 455.3l2 -0.1l-0.9 -6l-2 0.1z"/>
<path color="#605fb5" d="M280.5 455.4l2.1 -0.1l-0.9 -6l-2 0.2z"/>
<path color="#5f5eb5" d="M278.5 455.5l2 -0.1l-0.8 -5.9l-2 0.2z"/>
<path color="#5e5cb4" d="M276.5 455.7l2 -0.2l-0.8 -5.8l-2.1 0.3z"/>
<path color="#5d5bb3" d="M274.5 455.8l2 -0.1l-0.9 -5.7l-2 0.2z"/>
<path color="#5d5cb2" d="M272.5 455.9l2 -0.1l-0.9 -5.6l-2 0.2z"/>
<path color="#5f5eb1" d="M270.4 456l2.1 -0.1l-0.9 -5.5l-2 0.2z"/>
<path color="#6160b1" d="M268.4 456.2l2 -0.2l-0.8 -5.4l-2 0.2z"/>
<path color="#6262b1" d="M266.4 456.3l2 -0.1l-0.8 -5.4l-2 0.3z"/>
<path color="#6363b2" d="M264.4 456.4l2 -0.1l-0.8 -5.2l-2.1 0.2z"/>
<path color="#6261b1" d="M262.4 456.6l2 -0.2l-0.9 -5.1l-2 0.2z"/>
<path color="#6160b0" d="M260.4 456.7l2 -0.1l-0.9 -5.1l-2 0.3z"/>
<path color="#605eb0" d="M258.4 456.8l2 -0.1l-0.9 -4.9l-2 0.2z"/>
<path color="#5f5eaf" d="M256.3 456.9l2.1 -0.1l-0.9 -4.8l-2 0.3z"/>
<path color="#5f5fb0" d="M254.3 457.1l2 -0.2l-0.8 -4.6l-2 0.3z"/>
<path color="#5e5eb1" d="M252.3 457.2l2 -0.1l-0.8 -4.5l-2.1 0.2z"/>
<path color="#5b5bb1" d="M250.3 457.3l2 -0.1l-0.9 -4.4l-2 0.3z"/>
<path color="#5959b1" d="M248.3 457.5l2 -0.2l-0.9 -4.2l-2 0.3z"/>
<path color="#5857b0" d="M246.2 457.6l2.1 -0.1l-0.9 -4.1l-2 0.3z"/>
<path color="#5857b0" d="M244.2 457.7l2 -0.1l-0.8 -3.9l-2 0.3z"/>
<path color="#5655b0" d="M242.2 457.8l2 -0.1l-0.8 -3.7l-2 0.3z"/>
<path color="#5554b0" d="M240.2 458l2 -0.2l-0.8 -3.5l-2.1 0.3z"/>
<path color="#5556af" d="M238.2 458.1l2 -0.1l-0.9 -3.4l-2 0.3z"/>
<path color="#5557ad" d="M236.2 458.2l2 -0.1l-0.9 -3.2l-2 0.3z"/>
<path color="#5254ab" d="M234.2 458.4l2 -0.2l-0.9 -3l-2 0.3z"/>
<path color="#4d4ea7" d="M232.1 458.5l2.1 -0.1l-0.9 -2.9l-2 0.3z"/>
<path color="#4848a5" d="M230.1 458.6l2 -0.1l-0.8 -2.7l-2 0.4z"/>
<path color="#4241a3" d="M228.1 458.7l2 -0.1l-0.8 -2.4l-2.1 0.3z"/>
<path color="#3c3ba0" d="M226.1 458.9l2 -0.2l-0.9 -2.2l-2 0.4z"/>
<path color="#39389d" d="M224.1 459l2 -0.1l-0.9 -2l-2 0.3z"/>
<path color="#37369c" d="M222 459.1l2.1 -0.1l-0.9 -1.8l-2 0.4z"/>
<path color="#2e2d97" d="M220 459.2l2 -0.1l-0.8 -1.5l-2 0.4z"/>
<path color="#211f93" d="M218 459.4l2 -0.2l-0.8 -1.2l-2 0.5z"/>
<path color="#16138c" d="M216 459.5l2 -0.1l-0.8 -0.9l-2.1 0.6z"/>
</g>
<path d="M83.4 395.8L83.4 124M83.4 395.8L216 459.5M216 459.5L579 436.5M83.4 395.8L73.8 391.6M83.4 363.8L73.8 359.6M83.4 331.8L73.8 327.6M83.4 299.9L73.8 295.7M83.4 267.9L73.8 263.7M83.4 235.9L73.8 231.7M83.4 203.9L73.8 199.7M83.4 171.9L73.8 167.7M83.4 140L73.8 135.8M83.4 395.8L72.9 396.5M149.7 427.6L139.2 428.3M216 459.5L205.5 460.2M216 459.5L222.5 462.6M306.8 453.8L313.2 456.9M397.5 448L404 451.1M488.2 442.2L494.8 445.4M579 436.5L585.5 439.6" stroke="#111" stroke-width="1" fill="none"/>
<g font-size="11.3" text-anchor="end"><text x="70.3" y="395.7">0</text><text x="70.3" y="363.7">0.002</text><text x="70.3" y="331.7">0.004</text><text x="70.3" y="299.8">0.006</text><text x="70.3" y="267.8">0.008</text><text x="70.3" y="235.8">0.01</text><text x="70.3" y="203.8">0.012</text><text x="70.3" y="171.8">0.014</text><text x="70.3" y="139.9">0.016</text></g>
<g font-size="11.3" text-anchor="end"><text x="68.4" y="408.6">1</text><text x="135.9" y="439.5">0</text><text x="201.3" y="471.9">-1</text></g>
<g font-size="11.3"><text x="225.8" y="476.5">0</text><text x="316.5" y="470.1">90</text><text x="408.6" y="465.2">180</text><text x="498.6" y="458.3">270</text><text x="589" y="453.1">360</text></g>
<text class="cj" font-size="16" transform="translate(34.5 261.5) rotate(-90)" text-anchor="middle">无量纲油膜压力</text>
<text class="cj" font-size="16" x="33.5" y="475">轴向无量纲宽度</text>
<text class="cj" font-size="16" x="363" y="502">周向角度 /°</text>
<g fill="#fff" stroke="#aaa" stroke-width="1.1"><path d="M537.5 480.5c-4.8 0-8.6 3-8.6 6.8 0 2.1 1.1 4 3 5.2l-.8 2.6 3-1.6c1.1.3 2.2.5 3.4.5 4.8 0 8.6-3 8.6-6.7s-3.8-6.8-8.6-6.8z"/><path d="M545.2 485.6c-4 0-7.2 2.5-7.2 5.6s3.2 5.6 7.2 5.6c.9 0 1.8-.1 2.6-.4l2.5 1.3-.7-2.2c1.7-1 2.8-2.6 2.8-4.3 0-3.1-3.2-5.6-7.2-5.6z"/></g><g fill="#999"><circle cx="534.5" cy="485" r=".9"/><circle cx="540" cy="485" r=".9"/><circle cx="543" cy="489.5" r=".7"/><circle cx="547.5" cy="489.5" r=".7"/></g>
<text class="cj" font-size="15" font-weight="bold" x="559" y="494.5" style="fill:#7a7a7a;stroke:#fff;stroke-width:0.6;paint-order:stroke">环宇轴瓦</text>
</svg>
</body></html>
